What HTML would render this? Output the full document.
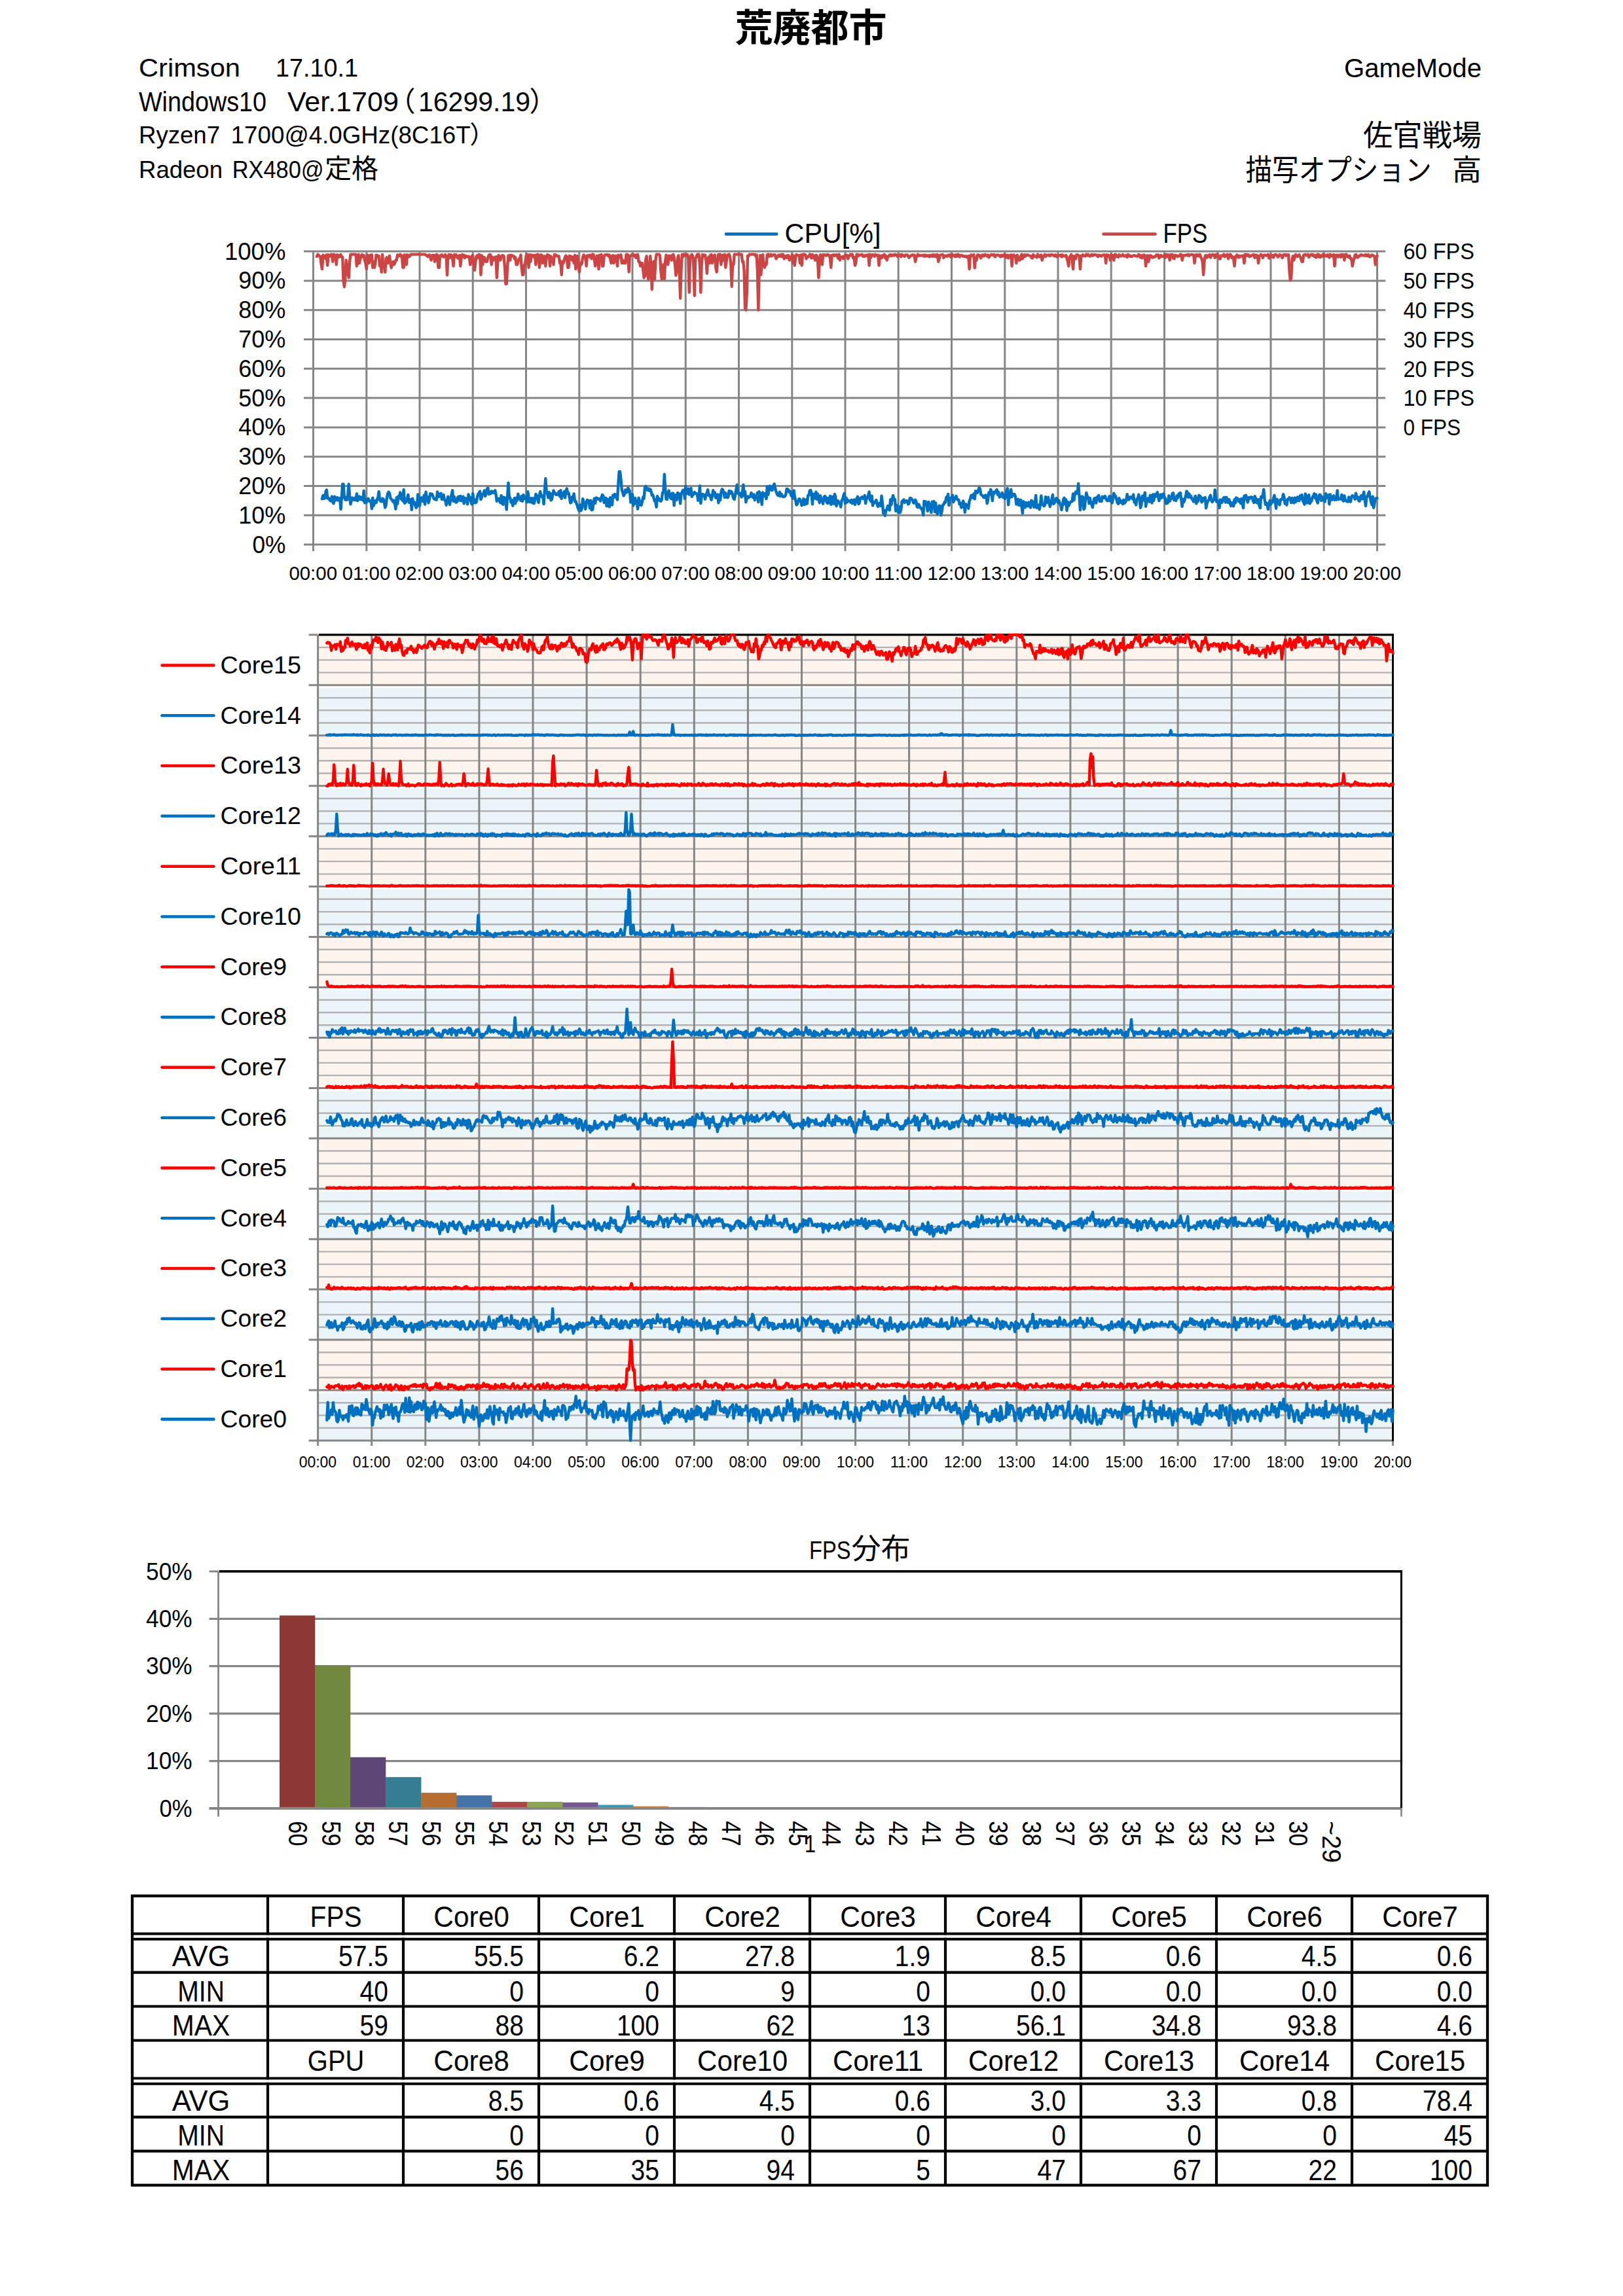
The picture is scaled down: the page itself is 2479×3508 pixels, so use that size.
<!DOCTYPE html>
<html lang="ja"><head><meta charset="utf-8"><title>荒廃都市</title>
<style>html,body{margin:0;padding:0;background:#fff}svg{display:block}text{font-family:"Liberation Sans", "Noto Sans CJK JP", sans-serif}</style></head>
<body>
<svg width="2479" height="3508" viewBox="0 0 2479 3508">
<rect width="2479" height="3508" fill="#fff"/>
<g id="header">
<text x="1238.5" y="63.0" font-size="58" text-anchor="middle" textLength="232.0" lengthAdjust="spacingAndGlyphs" font-family='"Liberation Sans", "Noto Sans CJK JP", sans-serif' font-weight="bold">荒廃都市</text>
<text x="212.0" y="116.9" font-size="39.5" textLength="155.0" lengthAdjust="spacingAndGlyphs" font-family='"Liberation Sans", "IPAPGothic", "IPAGothic", "Noto Sans CJK JP", sans-serif'>Crimson</text>
<text x="421.0" y="116.9" font-size="39.5" textLength="126.0" lengthAdjust="spacingAndGlyphs" font-family='"Liberation Sans", "IPAPGothic", "IPAGothic", "Noto Sans CJK JP", sans-serif'>17.10.1</text>
<text x="212.0" y="169.8" font-size="42" textLength="195.0" lengthAdjust="spacingAndGlyphs" font-family='"Liberation Sans", "IPAPGothic", "IPAGothic", "Noto Sans CJK JP", sans-serif'>Windows10</text>
<text x="438.9" y="169.8" font-size="42" textLength="170.0" lengthAdjust="spacingAndGlyphs" font-family='"Liberation Sans", "IPAPGothic", "IPAGothic", "Noto Sans CJK JP", sans-serif'>Ver.1709</text>
<text x="634.5" y="169.8" font-size="42" text-anchor="end" font-family='"Liberation Sans", "IPAPGothic", "IPAGothic", "Noto Sans CJK JP", sans-serif'>（</text>
<text x="639.0" y="169.8" font-size="42" textLength="171.0" lengthAdjust="spacingAndGlyphs" font-family='"Liberation Sans", "IPAPGothic", "IPAGothic", "Noto Sans CJK JP", sans-serif'>16299.19</text>
<text x="808.5" y="169.8" font-size="42" font-family='"Liberation Sans", "IPAPGothic", "IPAGothic", "Noto Sans CJK JP", sans-serif'>）</text>
<text x="212.0" y="219.4" font-size="37.5" textLength="124.0" lengthAdjust="spacingAndGlyphs" font-family='"Liberation Sans", "IPAPGothic", "IPAGothic", "Noto Sans CJK JP", sans-serif'>Ryzen7</text>
<text x="352.7" y="219.4" font-size="37.5" textLength="366.0" lengthAdjust="spacingAndGlyphs" font-family='"Liberation Sans", "IPAPGothic", "IPAGothic", "Noto Sans CJK JP", sans-serif'>1700@4.0GHz(8C16T</text>
<text x="717.5" y="219.4" font-size="37.5" font-family='"Liberation Sans", "IPAPGothic", "IPAGothic", "Noto Sans CJK JP", sans-serif'>）</text>
<text x="212.0" y="271.5" font-size="37.5" textLength="128.0" lengthAdjust="spacingAndGlyphs" font-family='"Liberation Sans", "IPAPGothic", "IPAGothic", "Noto Sans CJK JP", sans-serif'>Radeon</text>
<text x="354.7" y="271.5" font-size="37.5" textLength="140.0" lengthAdjust="spacingAndGlyphs" font-family='"Liberation Sans", "IPAPGothic", "IPAGothic", "Noto Sans CJK JP", sans-serif'>RX480@</text>
<text x="496.0" y="271.5" font-size="41" textLength="82.0" lengthAdjust="spacingAndGlyphs" font-family='"Liberation Sans", "IPAPGothic", "IPAGothic", "Noto Sans CJK JP", sans-serif'>定格</text>
<text x="2263.0" y="117.5" font-size="40.5" text-anchor="end" textLength="210.0" lengthAdjust="spacingAndGlyphs" font-family='"Liberation Sans", "IPAPGothic", "IPAGothic", "Noto Sans CJK JP", sans-serif'>GameMode</text>
<text x="2263.0" y="223.0" font-size="45" text-anchor="end" textLength="181.0" lengthAdjust="spacingAndGlyphs" font-family='"Liberation Sans", "IPAPGothic", "IPAGothic", "Noto Sans CJK JP", sans-serif'>佐官戦場</text>
<text x="1902.5" y="275.5" font-size="45" textLength="284.0" lengthAdjust="spacingAndGlyphs" font-family='"Liberation Sans", "IPAPGothic", "IPAGothic", "Noto Sans CJK JP", sans-serif'>描写オプション</text>
<text x="2263.0" y="275.5" font-size="45" text-anchor="end" font-family='"Liberation Sans", "IPAPGothic", "IPAGothic", "Noto Sans CJK JP", sans-serif'>高</text>
</g>
<g id="chart1">
<line x1="464.0" y1="384.1" x2="2116.3" y2="384.1" stroke="#868686" stroke-width="3"/>
<line x1="464.0" y1="428.9" x2="2116.3" y2="428.9" stroke="#868686" stroke-width="3"/>
<line x1="464.0" y1="473.7" x2="2116.3" y2="473.7" stroke="#868686" stroke-width="3"/>
<line x1="464.0" y1="518.5" x2="2116.3" y2="518.5" stroke="#868686" stroke-width="3"/>
<line x1="464.0" y1="563.3" x2="2116.3" y2="563.3" stroke="#868686" stroke-width="3"/>
<line x1="464.0" y1="608.1" x2="2116.3" y2="608.1" stroke="#868686" stroke-width="3"/>
<line x1="464.0" y1="652.9" x2="2116.3" y2="652.9" stroke="#868686" stroke-width="3"/>
<line x1="464.0" y1="697.7" x2="2116.3" y2="697.7" stroke="#868686" stroke-width="3"/>
<line x1="464.0" y1="742.5" x2="2116.3" y2="742.5" stroke="#868686" stroke-width="3"/>
<line x1="464.0" y1="787.3" x2="2116.3" y2="787.3" stroke="#868686" stroke-width="3"/>
<line x1="464.0" y1="832.1" x2="2116.3" y2="832.1" stroke="#868686" stroke-width="3"/>
<line x1="478.5" y1="384.1" x2="478.5" y2="842.1" stroke="#868686" stroke-width="3"/>
<line x1="559.8" y1="384.1" x2="559.8" y2="842.1" stroke="#868686" stroke-width="3"/>
<line x1="641.0" y1="384.1" x2="641.0" y2="842.1" stroke="#868686" stroke-width="3"/>
<line x1="722.2" y1="384.1" x2="722.2" y2="842.1" stroke="#868686" stroke-width="3"/>
<line x1="803.5" y1="384.1" x2="803.5" y2="842.1" stroke="#868686" stroke-width="3"/>
<line x1="884.8" y1="384.1" x2="884.8" y2="842.1" stroke="#868686" stroke-width="3"/>
<line x1="966.0" y1="384.1" x2="966.0" y2="842.1" stroke="#868686" stroke-width="3"/>
<line x1="1047.2" y1="384.1" x2="1047.2" y2="842.1" stroke="#868686" stroke-width="3"/>
<line x1="1128.5" y1="384.1" x2="1128.5" y2="842.1" stroke="#868686" stroke-width="3"/>
<line x1="1209.8" y1="384.1" x2="1209.8" y2="842.1" stroke="#868686" stroke-width="3"/>
<line x1="1291.0" y1="384.1" x2="1291.0" y2="842.1" stroke="#868686" stroke-width="3"/>
<line x1="1372.2" y1="384.1" x2="1372.2" y2="842.1" stroke="#868686" stroke-width="3"/>
<line x1="1453.5" y1="384.1" x2="1453.5" y2="842.1" stroke="#868686" stroke-width="3"/>
<line x1="1534.8" y1="384.1" x2="1534.8" y2="842.1" stroke="#868686" stroke-width="3"/>
<line x1="1616.0" y1="384.1" x2="1616.0" y2="842.1" stroke="#868686" stroke-width="3"/>
<line x1="1697.2" y1="384.1" x2="1697.2" y2="842.1" stroke="#868686" stroke-width="3"/>
<line x1="1778.5" y1="384.1" x2="1778.5" y2="842.1" stroke="#868686" stroke-width="3"/>
<line x1="1859.8" y1="384.1" x2="1859.8" y2="842.1" stroke="#868686" stroke-width="3"/>
<line x1="1941.0" y1="384.1" x2="1941.0" y2="842.1" stroke="#868686" stroke-width="3"/>
<line x1="2022.2" y1="384.1" x2="2022.2" y2="842.1" stroke="#868686" stroke-width="3"/>
<line x1="2103.5" y1="384.1" x2="2103.5" y2="842.1" stroke="#868686" stroke-width="3"/>
<text x="436.5" y="396.5" font-size="37.5" text-anchor="end" textLength="93.6" lengthAdjust="spacingAndGlyphs">100%</text>
<text x="436.5" y="441.3" font-size="37.5" text-anchor="end" textLength="72.3" lengthAdjust="spacingAndGlyphs">90%</text>
<text x="436.5" y="486.1" font-size="37.5" text-anchor="end" textLength="72.3" lengthAdjust="spacingAndGlyphs">80%</text>
<text x="436.5" y="530.9" font-size="37.5" text-anchor="end" textLength="72.3" lengthAdjust="spacingAndGlyphs">70%</text>
<text x="436.5" y="575.7" font-size="37.5" text-anchor="end" textLength="72.3" lengthAdjust="spacingAndGlyphs">60%</text>
<text x="436.5" y="620.5" font-size="37.5" text-anchor="end" textLength="72.3" lengthAdjust="spacingAndGlyphs">50%</text>
<text x="436.5" y="665.3" font-size="37.5" text-anchor="end" textLength="72.3" lengthAdjust="spacingAndGlyphs">40%</text>
<text x="436.5" y="710.1" font-size="37.5" text-anchor="end" textLength="72.3" lengthAdjust="spacingAndGlyphs">30%</text>
<text x="436.5" y="754.9" font-size="37.5" text-anchor="end" textLength="72.3" lengthAdjust="spacingAndGlyphs">20%</text>
<text x="436.5" y="799.7" font-size="37.5" text-anchor="end" textLength="72.3" lengthAdjust="spacingAndGlyphs">10%</text>
<text x="436.5" y="844.5" font-size="37.5" text-anchor="end" textLength="51.0" lengthAdjust="spacingAndGlyphs">0%</text>
<text x="2143.5" y="396.3" font-size="35.5" textLength="108.5" lengthAdjust="spacingAndGlyphs">60 FPS</text>
<text x="2143.5" y="441.1" font-size="35.5" textLength="108.5" lengthAdjust="spacingAndGlyphs">50 FPS</text>
<text x="2143.5" y="485.9" font-size="35.5" textLength="108.5" lengthAdjust="spacingAndGlyphs">40 FPS</text>
<text x="2143.5" y="530.7" font-size="35.5" textLength="108.5" lengthAdjust="spacingAndGlyphs">30 FPS</text>
<text x="2143.5" y="575.5" font-size="35.5" textLength="108.5" lengthAdjust="spacingAndGlyphs">20 FPS</text>
<text x="2143.5" y="620.3" font-size="35.5" textLength="108.5" lengthAdjust="spacingAndGlyphs">10 FPS</text>
<text x="2143.5" y="665.1" font-size="35.5" textLength="87.5" lengthAdjust="spacingAndGlyphs">0 FPS</text>
<text x="478.2" y="885.5" font-size="29.5" text-anchor="middle" textLength="73.6" lengthAdjust="spacingAndGlyphs">00:00</text>
<text x="559.5" y="885.5" font-size="29.5" text-anchor="middle" textLength="73.6" lengthAdjust="spacingAndGlyphs">01:00</text>
<text x="640.7" y="885.5" font-size="29.5" text-anchor="middle" textLength="73.6" lengthAdjust="spacingAndGlyphs">02:00</text>
<text x="722.0" y="885.5" font-size="29.5" text-anchor="middle" textLength="73.6" lengthAdjust="spacingAndGlyphs">03:00</text>
<text x="803.2" y="885.5" font-size="29.5" text-anchor="middle" textLength="73.6" lengthAdjust="spacingAndGlyphs">04:00</text>
<text x="884.5" y="885.5" font-size="29.5" text-anchor="middle" textLength="73.6" lengthAdjust="spacingAndGlyphs">05:00</text>
<text x="965.7" y="885.5" font-size="29.5" text-anchor="middle" textLength="73.6" lengthAdjust="spacingAndGlyphs">06:00</text>
<text x="1047.0" y="885.5" font-size="29.5" text-anchor="middle" textLength="73.6" lengthAdjust="spacingAndGlyphs">07:00</text>
<text x="1128.2" y="885.5" font-size="29.5" text-anchor="middle" textLength="73.6" lengthAdjust="spacingAndGlyphs">08:00</text>
<text x="1209.5" y="885.5" font-size="29.5" text-anchor="middle" textLength="73.6" lengthAdjust="spacingAndGlyphs">09:00</text>
<text x="1290.7" y="885.5" font-size="29.5" text-anchor="middle" textLength="73.6" lengthAdjust="spacingAndGlyphs">10:00</text>
<text x="1372.0" y="885.5" font-size="29.5" text-anchor="middle" textLength="73.6" lengthAdjust="spacingAndGlyphs">11:00</text>
<text x="1453.2" y="885.5" font-size="29.5" text-anchor="middle" textLength="73.6" lengthAdjust="spacingAndGlyphs">12:00</text>
<text x="1534.5" y="885.5" font-size="29.5" text-anchor="middle" textLength="73.6" lengthAdjust="spacingAndGlyphs">13:00</text>
<text x="1615.7" y="885.5" font-size="29.5" text-anchor="middle" textLength="73.6" lengthAdjust="spacingAndGlyphs">14:00</text>
<text x="1697.0" y="885.5" font-size="29.5" text-anchor="middle" textLength="73.6" lengthAdjust="spacingAndGlyphs">15:00</text>
<text x="1778.2" y="885.5" font-size="29.5" text-anchor="middle" textLength="73.6" lengthAdjust="spacingAndGlyphs">16:00</text>
<text x="1859.5" y="885.5" font-size="29.5" text-anchor="middle" textLength="73.6" lengthAdjust="spacingAndGlyphs">17:00</text>
<text x="1940.7" y="885.5" font-size="29.5" text-anchor="middle" textLength="73.6" lengthAdjust="spacingAndGlyphs">18:00</text>
<text x="2022.0" y="885.5" font-size="29.5" text-anchor="middle" textLength="73.6" lengthAdjust="spacingAndGlyphs">19:00</text>
<text x="2103.2" y="885.5" font-size="29.5" text-anchor="middle" textLength="73.6" lengthAdjust="spacingAndGlyphs">20:00</text>
<line x1="1109.0" y1="357.6" x2="1186.2" y2="357.6" stroke="#0070C0" stroke-width="4.7" stroke-linecap="round"/>
<text x="1198.6" y="371.0" font-size="43" textLength="147.0" lengthAdjust="spacingAndGlyphs">CPU[%]</text>
<line x1="1685.5" y1="357.6" x2="1764.5" y2="357.6" stroke="#CD4444" stroke-width="4.7" stroke-linecap="round"/>
<text x="1776.4" y="371.0" font-size="43" textLength="68.0" lengthAdjust="spacingAndGlyphs">FPS</text>
<path d="M483.9 391.9l1.4-3.2l1.3 1.1l1.4 1.5l1.3 .3l1.4 12.7l1.3 6.7l1.4-21.3l1.4 2.7l1.3-1.4l1.4 4.3l1.3-6l1.4 16.3l1.3-16.3l1.4 1.2l1.3 .9l1.4-2.6l1.3 .1l1.4 10.9l1.3-11.1l1.4 .6l1.4 1l1.3 14l1.4-15.2l1.3 3.9l1.4-2.7l1.3 1.8l1.4-3.1l1.3 3.2l1.4 .6l1.3 35.6l1.4 9.9l1.3-11.4l1.4-29.4l1.4 22.4l1.3-15.6l1.4 20.1l1.3-23.3l1.4-12.3l1.3-.2l1.4 0l1.3 0l1.4 0l1.3 0l1.4 0l1.4 17.9l1.3-4.5l1.4-13.4l1.3 13.4l1.4-6.7l1.3-4.3l1.4-2.1l1.3 2.8l1.4-1.6l1.3 7.4l1.4 4.5l1.4 9l1.3-21.3l1.4 2.9l1.3 9.4l1.4-12.1l1.3-.1l1.4-.5l1.3 19.4l1.4-8.9l1.3 8.9l1.4-6.7l1.3-12.4l1.4 .4l1.4 2.3l1.3-1.3l1.4 15.5l1.3-6.7l1.4 16.1l1.3-26.9l1.4 19.7l1.3-6.7l1.4 13.9l1.3-20.6l1.4-1.9l1.3 8.6l1.4-2.2l1.4-9.1l1.3 11.3l1.4 7.2l1.3-4.9l1.4-4.5l1.3 4.5l1.4-2.3l1.3-4.5l1.4 0l1.3-8l1.4 1.8l1.4-1l1.3-1.6l1.4 3.2l1.3-1.4l1.4 18.2l1.3 0l1.4-19.4l1.3 8.2l1.4 6.8l1.3-15.1l1.4 .7l1.4 2.5l1.3-1.3l1.4-2.5l1.3 0l1.4 0l1.3 0l1.4 0l1.3 0l1.4 0l1.3 0l1.4 0l1.3 0l1.4 0l1.4 0l1.3 0l1.4 0l1.3 0l1.4 0l1.3 0l1.4 1.1l1.3 .7l1.4 1.7l1.3-1.9l1.4-.9l1.3 3.8l1.4 4.4l1.4-7.4l1.3-.2l1.4 .1l1.3 9.8l1.4-4.5l1.3-6.5l1.4 .6l1.3 19.3l1.4 0l1.3-18l1.4-.9l1.4-.6l1.3 2.7l1.4 .6l1.3-.3l1.4-3.2l1.3 3l1.4 28.4l1.3-28.4l1.4-2.9l1.3 4.9l1.4-4.8l1.4 1.3l1.3 3.9l1.4 12.1l1.3-17.5l1.4 3.5l1.3-3.5l1.4 3.5l1.3 1.9l1.4-3.1l1.3-1.3l1.4 16.5l1.3-12.6l1.4-5l1.4 3.5l1.3-2.4l1.4 3.9l1.3-3.1l1.4 .8l1.3 1l1.4-1.1l1.3 .9l1.4 11.9l1.3-2.3l1.4-11l1.3-.7l1.4 11.7l1.4 10.8l1.3-13l1.4-8.1l1.3-1.4l1.4 3.3l1.3-4.8l1.4 1.3l1.3 29.8l1.4-29.8l1.3 14.2l1.4-11.3l1.4 .4l1.3 6l1.4 .4l1.3-.4l1.4-6l1.3-3.1l1.4-1.5l1.3 .7l1.4 14.8l1.3-11.5l1.4 4.7l1.4-2.2l1.3-2.2l1.4-.7l1.3 32l1.4-22.4l1.3-12l1.4 1.6l1.3 5.9l1.4-4.4l1.3-2.7l1.4-.1l1.3 1.5l1.4 16.2l1.4 25.8l1.3 0l1.4-25.8l1.3-17.6l1.4-.2l1.3 7.3l1.4-7.8l1.3 .8l1.4 .3l1.3 .3l1.4 4.2l1.3-2.2l1.4 11.2l1.4 0l1.3-4.5l1.4-4.5l1.3 0l1.4-5.8l1.3 19.2l1.4 11.2l1.3 0l1.4-15l1.3-.6l1.4-13l1.4-2.4l1.3 .2l1.4 19.6l1.3-19.6l1.4 10.7l1.3-10.4l1.4 2.3l1.3-1.5l1.4 2.4l1.3-2.7l1.4 14.4l1.4-15l1.3-.6l1.4 .8l1.3 19.2l1.4-8.9l1.3-10.6l1.4 1.2l1.3 11.6l1.4-8.9l1.3-1.9l1.4 15.3l1.3-12.1l1.4-5.2l1.4 .9l1.3 0l1.4 16.4l1.3-15.1l1.4 3.9l1.3 0l1.4 9l1.3-15.4l1.4 1.9l1.3-1.2l1.4 1.8l1.3 .3l1.4-.4l1.4 10.7l1.3-2.4l1.4 20.3l1.3-20.3l1.4 2.4l1.3-4.5l1.4-4.4l1.3-2.5l1.4 1.8l1.3 16.3l1.4 0l1.4-17.9l1.3 1l1.4-.2l1.3 5.9l1.4-4.4l1.3 8.9l1.4-12.1l1.3 21.1l1.4-17.9l1.3-2.1l1.4 13.3l1.4 11.2l1.3-13.5l1.4 2.3l1.3-2.3l1.4-9.2l1.3-3.2l1.4 1.3l1.3 2.6l1.4 13l1.3-16.1l1.4 .5l1.3-1l1.4 2.7l1.4-2.7l1.3 5.4l1.4-6.7l1.3 .3l1.4 6.4l1.3 11.2l1.4-4.5l1.3-11.2l1.4 1.5l1.3 18.7l1.4-21.3l1.3 2.8l1.4-3.5l1.4 17.5l1.3 0l1.4-15.2l1.3-1.8l1.4 .1l1.3-.7l1.4 .2l1.3 2.4l1.4-1.9l1.3 5.7l1.4 6.7l1.4-11.1l1.3-.6l1.4 11.7l1.3-4.5l1.4-6.7l1.3 .8l1.4 14.9l1.3-16.7l1.4 3.4l1.3-1.7l1.4-2.3l1.4 12.8l1.3-4.5l1.4 4.5l1.3 0l1.4 0l1.3-13.1l1.4-.3l1.3 1.3l1.4 25.6l1.3-24.3l1.4 0l1.3-1.5l1.4-.8l1.4 .5l1.3 1.7l1.4-1.9l1.3 4.8l1.4-3.9l1.3-1.2l1.4 10.9l1.3 0l1.4 6.7l1.3-4.5l1.4 0l1.3 9.6l1.4 12.8l1.4-2.5l1.3-25.6l1.4-5l1.3 27.2l1.4 8.2l1.3-8.2l1.4-27.2l1.3 12.6l1.4 38.4l1.3-38.4l1.4-4.4l1.4 27.2l1.3-27.2l1.4-10.9l1.3 0l1.4 0l1.3 0l1.4 1.6l1.3 22.6l1.4 13.4l1.3-13.4l1.4-8.5l1.4 21.9l1.3-26.9l1.4-9.7l1.3 5.7l1.4 9l1.3-13.4l1.4-.3l1.3 .7l1.4 6.2l1.3-7.5l1.4-1.2l1.3 4.3l1.4 10.7l1.4 17l1.3-6l1.4-21.1l1.3-3.4l1.4 21.8l1.3 43.7l1.4-43.7l1.3-23.3l1.4 3.7l1.3-3.9l1.4 1.1l1.3 .2l1.4 .9l1.4-1.9l1.3 5.9l1.4 52l1.3-52l1.4-4.6l1.3-1.4l1.4 2l1.3 15.7l1.4 45.2l1.3-56.4l1.4-2.6l1.4-4l1.3 3.6l1.4-3.7l1.3 16.6l1.4 41.6l1.3-41.6l1.4-16.2l1.3 2.4l1.4-1.9l1.3 .3l1.4 7.1l1.4 20.8l1.3-20.8l1.4-4.3l1.3 9.4l1.4-12.4l1.3-.5l1.4 12.9l1.3-11.1l1.4 1.8l1.3-3.1l1.4 19.1l1.3 6.8l1.4-15.7l1.4-11l1.3 .1l1.4-.1l1.3 15.5l1.4-11.2l1.3-3.4l1.4 7.8l1.3-8.8l1.4 20l1.3-8.9l1.4-9.8l1.3-1l1.4-.4l1.4 3.5l1.3 10.6l1.4 35.2l1.3-35.2l1.4 1.6l1.3-15.7l1.4 0l1.3 0l1.4 0l1.3 0l1.4 0l1.4 0l1.3 0l1.4 0l1.3 11.2l1.4 0l1.3 13.9l1.4 57l1.3 3l1.4-25.8l1.3-57l1.4 .2l1.4-2.4l1.3-.1l1.4 0l1.3 0l1.4 0l1.3 0l1.4 0l1.3 2.6l1.4-2l1.3 23.7l1.4 60.8l1.3-60.8l1.4-22.6l1.4 29.6l1.3-28.9l1.4-1.9l1.3 12.9l1.4 6.7l1.3-4.4l1.4 0l1.3-15l1.4-.7l1.3 3l1.4-.3l1.3-2.6l1.4 2.4l1.4-1l1.3-1l1.4 .3l1.3 0l1.4 5.9l1.3-2.2l1.4-1.7l1.3-1.9l1.4 2.2l1.3-2.5l1.4 2.9l1.4-3.4l1.3 .2l1.4 6.4l1.3-3.3l1.4-1l1.3 3l1.4-3.8l1.3-.1l1.4 7.4l1.3-4.4l1.4 2.2l1.4-6.1l1.3 12.8l1.4-11l1.3 14.6l1.4-13.7l1.3-2.8l1.4 .8l1.3 .2l1.4 .3l1.3 11.6l1.4-12.6l1.3 16.2l1.4-16.9l1.4 .3l1.3-.4l1.4 .7l1.3 6l1.4-3.3l1.3 .6l1.4-.7l1.3-3.3l1.4 .8l1.3 5l1.4-5.4l1.3 4.4l1.4-2.4l1.4 6.5l1.3-7.7l1.4 .6l1.3 8.4l1.4 25.6l1.3-25.6l1.4-9.7l1.3 2.2l1.4 13l1.3-15.1l1.4 .3l1.4-.2l1.3 1.2l1.4 0l1.3-1.7l1.4 .6l1.3 .4l1.4 5.5l1.3 13.4l1.4-18.8l1.3 .5l1.4-1.3l1.4 1.7l1.3-1l1.4-.7l1.3 2.5l1.4 2.8l1.3-5.7l1.4 8.8l1.3-4.4l1.4-.6l1.3-.5l1.4 3.3l1.3-3.3l1.4-2.2l1.4 .3l1.3-.3l1.4 5.5l1.3-3.8l1.4-1l1.3-1.9l1.4 1.6l1.3-1.6l1.4 5.8l1.3-1.5l1.4 12.7l1.3-3.6l1.4-13.2l1.4 .1l1.3 2.3l1.4-1.8l1.3-0l1.4 .1l1.3-.7l1.4 2.9l1.3-1.2l1.4 1.4l1.3-2.2l1.4 .8l1.4 .1l1.3-1.5l1.4 16.5l1.3-16.9l1.4 4.6l1.3-3.6l1.4-.6l1.3 .7l1.4 2l1.3-3l1.4 1.5l1.4-0l1.3-.8l1.4 16.1l1.3-14.8l1.4 2l1.3 1.6l1.4-4.4l1.3 1.3l1.4-2.6l1.3 5.4l1.4-3.4l1.3 6.8l1.4-4.8l1.4-1.2l1.3-2l1.4-.4l1.3 2.1l1.4-1.5l1.3-.3l1.4 1.1l1.3-1.8l1.4 .8l1.3-.1l1.4 2.7l1.3-1.7l1.4-.8l1.4-.4l1.3 3.1l1.4-3.4l1.3 1l1.4 1.2l1.3 .6l1.4-2.3l1.3 .1l1.4-.1l1.3 2.3l1.4 2l1.4-2.3l1.3-.6l1.4-.9l1.3-.6l1.4 1.3l1.3-1l1.4 10.2l1.3-6.4l1.4-2.7l1.3-2.1l1.4 2.3l1.4-.8l1.3 .2l1.4 .2l1.3-.4l1.4-.4l1.3 1.9l1.4-2.1l1.3 2l1.4-1.3l1.3 1.1l1.4-.9l1.3 1.9l1.4-2.3l1.4-.1l1.3 1.6l1.4-2.5l1.3 2.6l1.4-2.1l1.3 2.6l1.4-2.8l1.3-.4l1.4 10.9l1.3-4.5l1.4-5.5l1.3-.3l1.4-.4l1.4-.1l1.3 4.8l1.4-2.2l1.3-1.2l1.4 .7l1.3 .7l1.4-2.1l1.3 .4l1.4-.7l1.3 3.3l1.4-0l1.4-3.6l1.3 1.2l1.4-.3l1.3 2.2l1.4-2.9l1.3 2.3l1.4-2.9l1.3 .6l1.4 3.1l1.3-1.6l1.4-.9l1.4 .4l1.3 1.5l1.4-.5l1.3 .8l1.4-.9l1.3 1.8l1.4-1l1.3-1l1.4 20l1.3-20l1.4-1.6l1.3 1.6l1.4-1.2l1.4-.6l1.3 20l1.4-14.8l1.3 3.1l1.4-7.9l1.3-.3l1.4 1.8l1.3-.8l1.4 4.1l1.3-3.8l1.4-1.3l1.3 2l1.4-.4l1.4-2.1l1.3 1.3l1.4 1l1.3-1.5l1.4 3.6l1.3-1.9l1.4-1.6l1.3-.9l1.4 .5l1.3 .9l1.4-1.3l1.4 3.6l1.3-2.5l1.4-.4l1.3-.2l1.4 1l1.3 .1l1.4 1.7l1.3-2.4l1.4 1.7l1.3-1.8l1.4 1.4l1.4-2.2l1.3 4.8l1.4-3.2l1.3-.8l1.4 4.7l1.3-4l1.4-.1l1.3-.9l1.4 17.1l1.3-16.1l1.4-1l1.3 1.5l1.4 .6l1.4 10.5l1.3-12.3l1.4 4.7l1.3 3.1l1.4-0l1.3-6.1l1.4-2.6l1.3 6.5l1.4-3.5l1.3-2.5l1.4 2.6l1.3-2.5l1.4 .4l1.4-.4l1.3 .9l1.4 .3l1.3 .2l1.4 2.8l1.3 .8l1.4-5.5l1.3 2.7l1.4-.5l1.3 .9l1.4 1.2l1.4-4.6l1.3 2.6l1.4 1.1l1.3-2l1.4-.8l1.3 8l1.4-4.4l1.3-1.8l1.4-2.4l1.3 2.8l1.4-2.2l1.4 .4l1.3 .3l1.4-1l1.3 1.9l1.4-1.6l1.3-.4l1.4 .3l1.3 .7l1.4 1.4l1.3-2.1l1.4 1.7l1.3 1.4l1.4-3.1l1.4 1.1l1.3-.1l1.4-.9l1.3 2.9l1.4-3l1.3 1.6l1.4 .5l1.3-1l1.4-.4l1.3 4.3l1.4 5.4l1.3 6.7l1.4-13.4l1.4-2.1l1.3-2.2l1.4 6.5l1.3 15.7l1.4-19.9l1.3 4.2l1.4-0l1.3-6.2l1.4-0l1.3 1.1l1.4 .8l1.4 20l1.3-20l1.4-.3l1.3-1.5l1.4 1.5l1.3 .7l1.4-.5l1.3-2.3l1.4 1.6l1.3-1.4l1.4 2l1.4 .8l1.3-1.9l1.4-.8l1.3 1.9l1.4-1.7l1.3 .4l1.4-.2l1.3 .1l1.4 .9l1.3 1.8l1.4-2.5l1.3 1.2l1.4-.5l1.4 1.1l1.3-1.3l1.4-.6l1.3-.2l1.4 .3l1.3 12.4l1.4-12.9l1.3 1.8l1.4-1.1l1.3 2.3l1.4 5.4l1.3-8.4l1.4 4l1.4-2.9l1.3 7.3l1.4-8.6l1.3-.1l1.4 2.9l1.3-.9l1.4 2.1l1.3-3.8l1.4 1.3l1.3 1l1.4-.6l1.4-2l1.3 1.7l1.4 1.1l1.3-1.1l1.4-.4l1.3 2.8l1.4-4.1l1.3 1.3l1.4 1.5l1.3-.7l1.4 1.2l1.4-1l1.3-.7l1.4-.1l1.3 .6l1.4 .1l1.3 .6l1.4-.1l1.3-2.7l1.4 .8l1.3 3.6l1.4-2.7l1.3 3.7l1.4-4.5l1.4 .1l1.3 .4l1.4 16.3l1.3-14.5l1.4-1.7l1.3 9.5l1.4-6.2l1.3-3.3l1.4 .4l1.3 2.6l1.4-.1l1.3-1.1l1.4 .5l1.4-1l1.3-2.2l1.4 1l1.3-1.1l1.4 5.1l1.3-1.7l1.4-2.7l1.3 1.6l1.4 .3l1.3-.1l1.4-2l1.4 3.9l1.3-4.9l1.4 3l1.3-2.5l1.4 .7l1.3 7.5l1.4-8.6l1.3 1.2l1.4-1.2l1.3 5.5l1.4 .9l1.4-5.6l1.3 .7l1.4 .1l1.3 1.6l1.4-1.1l1.3-.2l1.4-2.1l1.3 .3l1.4 8.5l1.3-6.3l1.4-1.1l1.3 .4l1.4-.5l1.4-.8l1.3 1.3l1.4-1.7l1.3 1.8l1.4-1.1l1.3-.5l1.4 .1l1.3 .1l1.4 .6l1.3 12.2l1.4-12.6l1.4 1.7l1.3-2l1.4 2.2l1.3-.1l1.4-2.4l1.3 3.9l1.4 2.6l1.3 4.3l1.4 20.3l1.3-20.3l1.4-8.8l1.3-.8l1.4 3.5l1.4-2.8l1.3 .8l1.4-2.4l1.3 4.3l1.4-2.6l1.3-1.9l1.4 .4l1.3 .1l1.4 4.4l1.3-4.8l1.4 2.9l1.4-3.3l1.3 2.1l1.4 4.6l1.3-0l1.4-4.8l1.3-0l1.4 .6l1.3-2.5l1.4 3.6l1.3-2.4l1.4 .6l1.3-1.5l1.4 6.4l1.4-4.4l1.3-2.2l1.4 .8l1.3 4.5l1.4-2l1.3 3.3l1.4 11.2l1.3-14l1.4-1.8l1.3-1.4l1.4 3.3l1.3 .8l1.4-2.6l1.4 1.3l1.3-1l1.4-.3l1.3-.1l1.4 11.3l1.3-13.4l1.4 .1l1.3 2l1.4-1.7l1.3 .4l1.4 2.8l1.4-.8l1.3-1l1.4-.4l1.3-.8l1.4-.2l1.3 4.8l1.4-4.2l1.3-0l1.4 1.7l1.3 10.7l1.4-10.7l1.4-1.1l1.3-1.3l1.4 1.2l1.3 3.8l1.4-4l1.3-.3l1.4 .2l1.3 .7l1.4-.4l1.3-1.3l1.4 5.6l1.3-.3l1.4-4.5l1.4 2.3l1.3-1.5l1.4 2.9l1.3-3.6l1.4-.8l1.3-0l1.4 1.8l1.3 1.9l1.4-1.1l1.3-2.6l1.4 1l1.3 .6l1.4 3.6l1.4-4.6l1.3-.6l1.4-0l1.3 1.8l1.4-1.7l1.3 1.2l1.4-.9l1.3 24.6l1.4 14.1l1.3-2.8l1.4-28.2l1.4-5.8l1.3 6.3l1.4-4.4l1.3-4.2l1.4 1.7l1.3 1.3l1.4-1.7l1.3-1l1.4 2.9l1.3 2.3l1.4 5.4l1.4-0l1.3-10.1l1.4-.4l1.3-.6l1.4 1.5l1.3-.4l1.4-1.2l1.3 4.4l1.4-2.7l1.3-.7l1.4-1l1.3 1.8l1.4-1.3l1.4 2.5l1.3-1l1.4 2.8l1.3-4.2l1.4-.6l1.3 4l1.4-3l1.3 3.2l1.4-.5l1.3-2.2l1.4-1.5l1.3 3.3l1.4-2.1l1.4 1.1l1.3 .5l1.4-2.2l1.3 2.3l1.4 1.8l1.3-4.6l1.4 1.1l1.3 1.5l1.4-1.3l1.3-1l1.4 17.5l1.4-16.5l1.3-0l1.4-.3l1.3 2.8l1.4-2.4l1.3-.5l1.4 3.2l1.3-4l1.4 2.6l1.3-2.2l1.4 8.3l1.4-8.3l1.3-.6l1.4 3.2l1.3-1l1.4 2.3l1.3-2.3l1.4 4.5l1.3-0l1.4 11.2l1.3-6.7l1.4-4.5l1.3-5.7l1.4-.7l1.4 4.1l1.3 .4l1.4-2.5l1.3 .5l1.4-1.5l1.3-.9l1.4 1.3l1.3-.4l1.4 .4l1.3 .3l1.4-1.5l1.3 1.7l1.4-.1l1.4-1.8l1.3 3l1.4 .6l1.3-1.5l1.4-1.5l1.3 .7l1.4 .4l1.3 1.2l1.4 12.5l1.3-11.9l1.4-1.5" fill="none" stroke="#CD4444" stroke-width="4.4" stroke-linejoin="round" stroke-linecap="round"/>
<path d="M492 762.2l1.4-5.3l1.4 4.9l1.3-.6l1.4-9.6l1.3-3l1.4 12.7l1.3-.5l1.4 2.2l1.3 1.8l1.4 .7l1.3-6.9l1.4 8.7l1.3 1.9l1.4-10.5l1.4 5.9l1.3-3.1l1.4-1.4l1.3 4.3l1.4-2.5l1.3-.9l1.4 17l1.3-16.5l1.4-21.7l1.3-0l1.4 19.8l1.3 3.8l1.4-3l1.4 3.4l1.3-7.8l1.4-16.2l1.3 16.6l1.4 13.9l1.3-5.8l1.4-4l1.3 3l1.4 .1l1.3-2.7l1.4 3.1l1.4-9.6l1.3 10.6l1.4-2.7l1.3-3.7l1.4 4.5l1.3-3.2l1.4 3.3l1.3 1.2l1.4-14.4l1.3 18.2l1.4-5.3l1.4 4.6l1.3-4.4l1.4-1.2l1.3 3.8l1.4 .5l1.3-1l1.4 12l1.3-16.6l1.4 12.3l1.3-4.2l1.4-3.4l1.3 2.7l1.4-4.9l1.4-3.2l1.3-8.7l1.4 12.2l1.3 2.5l1.4 .4l1.3-4.6l1.4 .7l1.3 4.5l1.4 8.6l1.3-3.2l1.4-11.8l1.3-6.2l1.4-2.6l1.4 2l1.3 7.3l1.4 1.3l1.3 2.1l1.4 2.3l1.3-2.1l1.4 5.2l1.3 7.9l1.4-17.5l1.3 9.8l1.4-11.7l1.4 2l1.3-7.8l1.4 10l1.3-7.5l1.4 10.5l1.3-17.2l1.4 20.4l1.3-1l1.4-2.2l1.3-4.4l1.4-5.2l1.4 11.9l1.3-4.3l1.4-.3l1.3 15.7l1.4-17.1l1.3 6.6l1.4-1l1.3 4.5l1.4 3.9l1.3-1.9l1.4-18.4l1.3 8.2l1.4 9l1.4-10.1l1.3-2.2l1.4 3.1l1.3 2.7l1.4-9.4l1.3 13.8l1.4-18.8l1.3 12.7l1.4-5.4l1.3 9.2l1.4-5.2l1.3-9l1.4 .9l1.4-.1l1.3 3.3l1.4 3.5l1.3 1.2l1.4-.7l1.3 1.5l1.4-12.2l1.3 4.2l1.4 3l1.3-3.5l1.4-1.4l1.4 9.1l1.3-5.5l1.4-1.4l1.3 8l1.4 .6l1.3 7.1l1.4-6.9l1.3-6.1l1.4 7.6l1.3 4.5l1.4-9.1l1.4-6.1l1.3-6.3l1.4 16.6l1.3-7l1.4 6.9l1.3 1.8l1.4-.7l1.3-7.4l1.4-.7l1.3 5.7l1.4-6.5l1.3 7.2l1.4-3.6l1.4-2.9l1.3 10.6l1.4-8.4l1.3 1.2l1.4-.5l1.3 8.8l1.4-15l1.3 4.4l1.4 .2l1.3 7.3l1.4 3.2l1.3-16.4l1.4 14.1l1.4-4.9l1.3 5l1.4-1.4l1.3-7.6l1.4-4.8l1.3-1.3l1.4-2.5l1.3 12.3l1.4-3.3l1.3-4.6l1.4-1l1.4-4.7l1.3 8.7l1.4-4.8l1.3-5.9l1.4-2.1l1.3 9.8l1.4-3.5l1.3 2.6l1.4-3.6l1.3 .2l1.4 2.2l1.4 .1l1.3-3.8l1.4 6.2l1.3 10.2l1.4-2.3l1.3-1.6l1.4 3.5l1.3 2.7l1.4-10.9l1.3 11.7l1.4 2l1.3-11l1.4 .6l1.4 7.6l1.3 10.6l1.4-20.4l1.3-20.6l1.4 21.2l1.3 1.8l1.4 7l1.3-3.6l1.4 8.7l1.3-5l1.4-6.8l1.3 8.3l1.4-8.3l1.4 3.5l1.3-9.7l1.4 7l1.3 .7l1.4 2.3l1.3-6.8l1.4 7.8l1.3-9.5l1.4 2.6l1.3 3.4l1.4-1.1l1.4 6.2l1.3-16l1.4 9.2l1.3 6.5l1.4-4.3l1.3-1.4l1.4 7l1.3-7l1.4 7.9l1.3-5l1.4-9.2l1.4 2.1l1.3 3.5l1.4 7.3l1.3-10.3l1.4-6.5l1.3 6.1l1.4 2.2l1.3-1.9l1.4 12.5l1.3-20.6l1.4-18.1l1.3 18.5l1.4 3.4l1.4 7.1l1.3-8.2l1.4 1.7l1.3 10.4l1.4-1.1l1.3-7.1l1.4-6.5l1.3 4.7l1.4-.7l1.3 2.3l1.4 .1l1.3-1.2l1.4-3.5l1.4 7.1l1.3-9.1l1.4 12.7l1.3-6.9l1.4-.4l1.3-3.2l1.4 9.1l1.3-10.7l1.4-3.2l1.3 7.4l1.4-.6l1.4 7.1l1.3 7.8l1.4-.6l1.3-8.6l1.4 2.6l1.3-7.4l1.4 11.7l1.3-.2l1.4 3.9l1.3 3.6l1.4 4.7l1.4 2.6l1.3-9.1l1.4 8.6l1.3-3.6l1.4-14.4l1.3 4.7l1.4 3.9l1.3 7.2l1.4-10.1l1.3-3.7l1.4 .3l1.3 2.7l1.4 9.4l1.4-11.9l1.3 14.6l1.4-.6l1.3-9.5l1.4-7.3l1.3 7l1.4-8.3l1.3 1.4l1.4-.5l1.3 1.5l1.4-.4l1.3 3l1.4-5.9l1.4-3.5l1.3 1.4l1.4 10.4l1.3-5.2l1.4-1.9l1.3 12.6l1.4-10.7l1.3 4.9l1.4 6.8l1.3-14.1l1.4 2.5l1.4 8.7l1.3-14.7l1.4 3.1l1.3-5l1.4 2.7l1.3 2.8l1.4 3.1l1.3-23.3l1.4-19.7l1.3-0l1.4 11.8l1.4 16.2l1.3 3.7l1.4 5.2l1.3-2.5l1.4-6.4l1.3 4.1l1.4-1l1.3-6.2l1.4 2.2l1.3 2.6l1.4 17.3l1.3-3.9l1.4-8.3l1.4 17l1.3-6.7l1.4-4.7l1.3 8.5l1.4-1.9l1.3 10.1l1.4-16.9l1.3 4.5l1.4 6.2l1.3 .5l1.4-4.9l1.3-7.5l1.4 2.4l1.4-16.9l1.3-2.1l1.4 3.9l1.3 2l1.4-2.3l1.3 3.1l1.4-2l1.3 2.5l1.4 6.6l1.3-.6l1.4 4.4l1.4 5.1l1.3 .6l1.4 8.5l1.3-16.4l1.4 3l1.3 1l1.4 2.8l1.3 .7l1.4-2.2l1.3-11l1.4-.1l1.4-27.9l1.3 20.8l1.4 17.2l1.3 .4l1.4-7.2l1.3-6.2l1.4 5.4l1.3 6l1.4 1.2l1.3-8.5l1.4 .1l1.3 18.5l1.4-15.7l1.4-.3l1.3 7.5l1.4-10.8l1.3 .8l1.4 2.4l1.3 13.2l1.4-15.1l1.3-2.3l1.4-3.2l1.3-.2l1.4 13.2l1.3-18.8l1.4 10.8l1.4 .3l1.3-7.5l1.4 9l1.3-5.2l1.4-4.5l1.3 13l1.4-4.1l1.3 .6l1.4-3.3l1.3 1.6l1.4 .6l1.4 .1l1.3 10.2l1.4-4.6l1.3-17.5l1.4 26.5l1.3-10.2l1.4-3.9l1.3 1l1.4 .3l1.3 6.5l1.4-5.9l1.4-3.5l1.3-5l1.4 8.5l1.3-.9l1.4 3.6l1.3 4.2l1.4-5.6l1.3-8.8l1.4 7.6l1.3-4.3l1.4 7.9l1.3-1l1.4-3.9l1.4 12.6l1.3-12.1l1.4 8.2l1.3-12.3l1.4-4.6l1.3 1l1.4 4.8l1.3 6.7l1.4-6.8l1.3 6.2l1.4 .9l1.3-.5l1.4-9.7l1.4 3.9l1.3-3.3l1.4 .9l1.3 4.6l1.4 5.5l1.3 1.3l1.4-7.3l1.3-7.7l1.4-7.2l1.3 13l1.4 .6l1.4 1.2l1.3-1.9l1.4 6l1.3-6.1l1.4-12.8l1.3 16.8l1.4-6.7l1.3 16.6l1.4-7l1.3-1.7l1.4 1.7l1.4-1.9l1.3 .2l1.4-5.6l1.3 3.2l1.4 3.8l1.3-4.7l1.4 8.7l1.3-4.9l1.4-.1l1.3-6.3l1.4 14.3l1.3-15.8l1.4 2.4l1.4 5.4l1.3 11.7l1.4-18.3l1.3 5.6l1.4-1.4l1.3-2.6l1.4 7.9l1.3-18.5l1.4 12.3l1.3-6.4l1.4-6.9l1.3 1.3l1.4 5.1l1.4-.2l1.3-6.8l1.4-2.5l1.3 6.3l1.4 5.3l1.3 3.5l1.4 2.3l1.3 .5l1.4-5.5l1.3 6.4l1.4-3.4l1.4 2.8l1.3 1.5l1.4-.5l1.3-.5l1.4-2.7l1.3-8.5l1.4 .2l1.3 1.7l1.4 3.2l1.3-1.2l1.4 6.6l1.4-2.7l1.3 6.9l1.4-12.2l1.3 9.1l1.4 6.1l1.3 6.8l1.4-1.4l1.3-4.9l1.4-2.9l1.3 .7l1.4 3.7l1.3 5.7l1.4-2l1.4-8.2l1.3 8.8l1.4-.5l1.3-6.8l1.4 5.9l1.3-12.4l1.4-.4l1.3-7l1.4-.7l1.3 5.8l1.4 15.5l1.3-15.6l1.4 4.2l1.4 2.5l1.3-9.6l1.4 10.9l1.3-8.1l1.4 6.4l1.3 7.2l1.4-10.8l1.3 7.3l1.4 .7l1.3 4.3l1.4-10l1.4-1.7l1.3 1.7l1.4 7.6l1.3 1.5l1.4-7.7l1.3 7.3l1.4-10.4l1.3 12.7l1.4-11.7l1.3 7.3l1.4 3.5l1.4-14.9l1.3 3.8l1.4 14.3l1.3-6.7l1.4-1l1.3 3.6l1.4-0l1.3 5.6l1.4-9.6l1.3-1.8l1.4-5.5l1.3-3.9l1.4 15.4l1.4-8.5l1.3 6.8l1.4-3.3l1.3 1.2l1.4 .1l1.3 2.1l1.4-3.6l1.3 5.2l1.4-.7l1.3-4.9l1.4 7.4l1.3-5.1l1.4-3.8l1.4-3.2l1.3 11.3l1.4-1.8l1.3-7.1l1.4-.9l1.3-.9l1.4 2.5l1.3 .3l1.4-5.3l1.3 12.1l1.4-6.7l1.4-1.6l1.3-3.9l1.4-5.3l1.3 12.4l1.4 2.2l1.3-8.5l1.4 14.8l1.3-5.3l1.4 1l1.3-1.8l1.4-2.2l1.4 6.1l1.3 3.7l1.4-2.9l1.3-2.5l1.4 4.3l1.3-15.1l1.4 11.4l1.3 15.3l1.4-4.3l1.3 7.8l1.4-8.6l1.3-.7l1.4-5.6l1.4 5.2l1.3 1.2l1.4-16.3l1.3 8l1.4-9.5l1.3-4.5l1.4 6.3l1.3-.5l1.4 17.8l1.3-9l1.4 3.3l1.3 8l1.4-8.6l1.4 8.6l1.3-4.9l1.4-12.2l1.3-1l1.4-1.5l1.3 4.4l1.4-1.6l1.3-.9l1.4-.2l1.3 5.3l1.4-1.3l1.4-8.1l1.3 .1l1.4 1.5l1.3 1.9l1.4 3.9l1.3 .3l1.4-5l1.3 2.6l1.4 8.1l1.3 .7l1.4-4.6l1.4 4.1l1.3 .9l1.4 2.2l1.3 1.1l1.4 8.2l1.3-21.4l1.4 5.7l1.3-4.7l1.4 5l1.3 9.3l1.4-13.9l1.3 3.7l1.4 6.3l1.4 6l1.3-16.3l1.4 4.4l1.3-5.2l1.4 16.1l1.3-13.5l1.4 12.7l1.3 4.4l1.4-6.5l1.3-6.4l1.4 .6l1.3 13.7l1.4-5.8l1.4-9.7l1.3-.5l1.4-3.7l1.3 .4l1.4-7.9l1.3 .9l1.4-5.7l1.3 17.1l1.4-10.6l1.3 .1l1.4-1l1.4-4l1.3 10.4l1.4-3.6l1.3-1.2l1.4-4.3l1.3 4.7l1.4 .8l1.3 .5l1.4 6.7l1.3-2l1.4 6.9l1.4-3.7l1.3-6.3l1.4 4.9l1.3 12.4l1.4-12.5l1.3 .8l1.4 .4l1.3 5.3l1.4-11.2l1.3-2.8l1.4-5.9l1.3-.1l1.4 3.8l1.4-6.2l1.3 8l1.4-12.1l1.3 .6l1.4 2.1l1.3-3.6l1.4-4.2l1.3 1.3l1.4 8.7l1.3 1.3l1.4 .8l1.3 2.5l1.4 .4l1.4-3.5l1.3 .3l1.4 12l1.3-5.4l1.4-11.2l1.3 3.1l1.4-7.7l1.3 4l1.4 13.3l1.3-13.2l1.4 2.4l1.4-2.9l1.3-1.1l1.4-2.2l1.3 7.6l1.4-3.6l1.3 7.6l1.4-1.2l1.3-1.4l1.4-4.2l1.3 6.9l1.4-3.4l1.4 5.7l1.3-5.6l1.4-5.8l1.3-4.4l1.4 25.1l1.3-20l1.4 8.7l1.3-12.1l1.4 11.1l1.3-4.1l1.4 1.7l1.3-1.6l1.4 3.8l1.4 11.6l1.3-6.8l1.4-1l1.3 9.3l1.4-7.5l1.3-.6l1.4 10.1l1.3 10l1.4-17.8l1.3 5.2l1.4 3.9l1.3-7.5l1.4 2.4l1.4 3l1.3-5.6l1.4 2.5l1.3 5.5l1.4-11l1.3 1.4l1.4 3.5l1.3 5.5l1.4-6.3l1.3-11.8l1.4 18.9l1.4-3.3l1.3-.9l1.4 6.7l1.3-6.3l1.4-14.5l1.3 12.2l1.4 1.2l1.3 2.1l1.4-.8l1.3-13.1l1.4 9.3l1.4-4.6l1.3-4.1l1.4 9.3l1.3 5l1.4-5.1l1.3-5.9l1.4-7l1.3 13.8l1.4-1.7l1.3-1.9l1.4-5l1.3 1.2l1.4 5.1l1.4-2.8l1.3 4.9l1.4 1.7l1.3 7.7l1.4-6.6l1.3-8.8l1.4-2.8l1.3 9.5l1.4-7l1.3 16.7l1.4-13.1l1.3 6l1.4-3.2l1.4-2.3l1.3-1.2l1.4-.1l1.3-11.7l1.4 9.7l1.3-8.8l1.4-3.8l1.3 2.6l1.4-1.4l1.3-13.8l1.4 18.8l1.4 21.5l1.3-13.5l1.4-7.1l1.3 .6l1.4 19l1.3-1.7l1.4-13.7l1.3-9.9l1.4 6.4l1.3 .4l1.4 9.5l1.4-8.3l1.3 7.6l1.4 2.2l1.3 4.5l1.4-8.6l1.3-5.2l1.4-.2l1.3 7.3l1.4-9l1.3 .6l1.4-3.2l1.3 9l1.4-2.5l1.4 2.7l1.3-7.5l1.4 1.2l1.3 .9l1.4-2.7l1.3 3.5l1.4 2.7l1.3 1.1l1.4-1.4l1.3-5.7l1.4 7.3l1.3-6.8l1.4 9.6l1.4-6.3l1.3-8.3l1.4 3.7l1.3 .7l1.4 4.8l1.3 5.3l1.4 1.7l1.3-8.8l1.4 6.6l1.3-2.8l1.4 2.4l1.4 2.8l1.3-6.4l1.4 5.1l1.3-1.8l1.4-2.4l1.3-9.5l1.4 7.2l1.3 1.2l1.4-3.8l1.3-.4l1.4 1.5l1.4 1.1l1.3-6.2l1.4 11.6l1.3-.7l1.4 4.9l1.3-9.1l1.4-.7l1.3-6l1.4 7.2l1.3 12.8l1.4-3.9l1.3-13.7l1.4-.7l1.4 7l1.3-11.8l1.4 21.2l1.3-8.6l1.4-3.8l1.3 2.2l1.4 3l1.3-10l1.4 6.7l1.3 5.1l1.4-13l1.3 9.3l1.4-9.6l1.4 3.6l1.3-1.9l1.4-4.6l1.3 6.6l1.4 6.4l1.3-8.7l1.4-1l1.3 5.2l1.4-4.2l1.3-2l1.4 4.8l1.4 2.6l1.3 7.5l1.4-.4l1.3-1.1l1.4-10.5l1.3 8.3l1.4-3.4l1.3-.4l1.4-8l1.3-.6l1.4 10.8l1.4-.4l1.3 1.2l1.4-7.5l1.3 3.5l1.4-5.6l1.3-1.7l1.4-.5l1.3 9.7l1.4 11.1l1.3-11.2l1.4 4.4l1.3-3.8l1.4-5.1l1.4-7.6l1.3 1.7l1.4 7.6l1.3-5.3l1.4 5l1.3-1.6l1.4 4.6l1.3 .7l1.4 3.2l1.3-5l1.4-3.6l1.4 11.5l1.3-8.3l1.4 4.9l1.3-9.2l1.4 1l1.3 1.5l1.4 7.9l1.3-1.4l1.4-4.9l1.3-0l1.4-.8l1.3 16.2l1.4-7l1.4-3.8l1.3-1.4l1.4-4.8l1.3-2.5l1.4 7.6l1.3 2.5l1.4-2.2l1.3-.8l1.4-15.4l1.3 11.9l1.4 6.3l1.4-1.3l1.3 1.2l1.4 9.3l1.3-12.5l1.4 4.6l1.3-.2l1.4-5.2l1.3-2.2l1.4-.5l1.3 7.6l1.4-7.6l1.3 5.2l1.4 2.8l1.4-4.9l1.3 5.2l1.4 4.8l1.3-5l1.4 4.5l1.3 .8l1.4-10l1.3 5l1.4-7.8l1.3 .9l1.4 4.2l1.3-2.9l1.4 3.8l1.4 2.4l1.3-7.1l1.4 7.4l1.3 6.8l1.4-18.4l1.3-.3l1.4-.5l1.3 6.7l1.4 3.9l1.3-7.2l1.4 1.8l1.4-2.2l1.3-.5l1.4 .7l1.3 5.2l1.4 2.8l1.3-9.8l1.4 3.3l1.3 6.4l1.4 .6l1.3-5.3l1.4 8.8l1.4 4l1.3-17l1.4 1.1l1.3-3.3l1.4-8.9l1.3 14.4l1.4 8.7l1.3-2.6l1.4 2.2l1.3 7.4l1.4-8l1.3-5.2l1.4 5.9l1.4-5.3l1.3 1.8l1.4-5.3l1.3-5.1l1.4 9.3l1.3 10.6l1.4-14l1.3 3l1.4 1.8l1.3 3.7l1.4-7.8l1.3-.8l1.4 .3l1.4-7.7l1.3 4.2l1.4 10.1l1.3-4.2l1.4 6.2l1.3-8.7l1.4 .1l1.3-2.6l1.4 1.2l1.3 6.5l1.4-7.1l1.4 2l1.3 5.4l1.4-7.7l1.3 6.5l1.4-2.3l1.3-5.3l1.4 5.1l1.3 .6l1.4-7.8l1.3 4.5l1.4-5.7l1.4 8.7l1.3 2.4l1.4 3.3l1.3-16.2l1.4 4.5l1.3 9.6l1.4-9l1.3-3.1l1.4 13l1.3-2.4l1.4-1.5l1.3-5.9l1.4-1.5l1.4-3.8l1.3 6.7l1.4-5.4l1.3 10l1.4 2.9l1.3-8.7l1.4-3.9l1.3 .2l1.4 8.7l1.3-5.7l1.4 5.1l1.3-.8l1.4 3.1l1.4-12.4l1.3 6.1l1.4-.2l1.3-3.6l1.4 13.8l1.3-14.8l1.4 4.6l1.3 3.7l1.4-2.6l1.3-3.8l1.4 6.6l1.4-3.2l1.3 2.8l1.4-14l1.3 13.6l1.4-1l1.3-.1l1.4 .6l1.3-6.6l1.4 7.6l1.3 2.1l1.4-8.2l1.4 6.6l1.3 1.1l1.4 1.1l1.3 .2l1.4-7l1.3 5.1l1.4 2.1l1.3-7.1l1.4-2.4l1.3 1.4l1.4 .8l1.3 3.4l1.4-9.2l1.4 7.6l1.3-2.1l1.4 5.3l1.3 1.3l1.4-6.2l1.3-2.2l1.4 5.2l1.3-5.1l1.4-5.7l1.3 10.8l1.4 10.5l1.3-12.8l1.4-2.2l1.4-3.6l1.3-3l1.4 8.4l1.3 6.5l1.4 4.9l1.3-12.6l1.4 17.1l1.3-6.6l1.4-6.7l1.3-1.2l1.4-.1" fill="none" stroke="#0070C0" stroke-width="4.4" stroke-linejoin="round" stroke-linecap="round"/>
</g>
<g id="chart2">
<rect x="485.6" y="969.9" width="1641.9" height="76.9" fill="#FEF4EE"/>
<rect x="485.6" y="1051.1" width="1641.9" height="72.6" fill="#EBF4F9"/>
<rect x="485.6" y="1123.8" width="1641.9" height="76.9" fill="#FEF4EE"/>
<rect x="485.6" y="1205.0" width="1641.9" height="72.6" fill="#EBF4F9"/>
<rect x="485.6" y="1277.7" width="1641.9" height="76.9" fill="#FEF4EE"/>
<rect x="485.6" y="1358.9" width="1641.9" height="72.6" fill="#EBF4F9"/>
<rect x="485.6" y="1431.5" width="1641.9" height="76.9" fill="#FEF4EE"/>
<rect x="485.6" y="1512.8" width="1641.9" height="72.6" fill="#EBF4F9"/>
<rect x="485.6" y="1585.4" width="1641.9" height="76.9" fill="#FEF4EE"/>
<rect x="485.6" y="1666.7" width="1641.9" height="72.6" fill="#EBF4F9"/>
<rect x="485.6" y="1739.3" width="1641.9" height="76.9" fill="#FEF4EE"/>
<rect x="485.6" y="1820.5" width="1641.9" height="72.6" fill="#EBF4F9"/>
<rect x="485.6" y="1893.2" width="1641.9" height="76.9" fill="#FEF4EE"/>
<rect x="485.6" y="1974.4" width="1641.9" height="72.6" fill="#EBF4F9"/>
<rect x="485.6" y="2047.1" width="1641.9" height="76.9" fill="#FEF4EE"/>
<rect x="485.6" y="2128.3" width="1641.9" height="72.6" fill="#EBF4F9"/>
<line x1="485.6" y1="989.1" x2="2127.5" y2="989.1" stroke="#B2B2B2" stroke-width="2.4"/>
<line x1="485.6" y1="1008.4" x2="2127.5" y2="1008.4" stroke="#B2B2B2" stroke-width="2.4"/>
<line x1="485.6" y1="1027.6" x2="2127.5" y2="1027.6" stroke="#B2B2B2" stroke-width="2.4"/>
<line x1="485.6" y1="1066.1" x2="2127.5" y2="1066.1" stroke="#B2B2B2" stroke-width="2.4"/>
<line x1="485.6" y1="1085.3" x2="2127.5" y2="1085.3" stroke="#B2B2B2" stroke-width="2.4"/>
<line x1="485.6" y1="1104.5" x2="2127.5" y2="1104.5" stroke="#B2B2B2" stroke-width="2.4"/>
<line x1="485.6" y1="1143.0" x2="2127.5" y2="1143.0" stroke="#B2B2B2" stroke-width="2.4"/>
<line x1="485.6" y1="1162.2" x2="2127.5" y2="1162.2" stroke="#B2B2B2" stroke-width="2.4"/>
<line x1="485.6" y1="1181.5" x2="2127.5" y2="1181.5" stroke="#B2B2B2" stroke-width="2.4"/>
<line x1="485.6" y1="1220.0" x2="2127.5" y2="1220.0" stroke="#B2B2B2" stroke-width="2.4"/>
<line x1="485.6" y1="1239.2" x2="2127.5" y2="1239.2" stroke="#B2B2B2" stroke-width="2.4"/>
<line x1="485.6" y1="1258.4" x2="2127.5" y2="1258.4" stroke="#B2B2B2" stroke-width="2.4"/>
<line x1="485.6" y1="1296.9" x2="2127.5" y2="1296.9" stroke="#B2B2B2" stroke-width="2.4"/>
<line x1="485.6" y1="1316.1" x2="2127.5" y2="1316.1" stroke="#B2B2B2" stroke-width="2.4"/>
<line x1="485.6" y1="1335.4" x2="2127.5" y2="1335.4" stroke="#B2B2B2" stroke-width="2.4"/>
<line x1="485.6" y1="1373.8" x2="2127.5" y2="1373.8" stroke="#B2B2B2" stroke-width="2.4"/>
<line x1="485.6" y1="1393.1" x2="2127.5" y2="1393.1" stroke="#B2B2B2" stroke-width="2.4"/>
<line x1="485.6" y1="1412.3" x2="2127.5" y2="1412.3" stroke="#B2B2B2" stroke-width="2.4"/>
<line x1="485.6" y1="1450.8" x2="2127.5" y2="1450.8" stroke="#B2B2B2" stroke-width="2.4"/>
<line x1="485.6" y1="1470.0" x2="2127.5" y2="1470.0" stroke="#B2B2B2" stroke-width="2.4"/>
<line x1="485.6" y1="1489.2" x2="2127.5" y2="1489.2" stroke="#B2B2B2" stroke-width="2.4"/>
<line x1="485.6" y1="1527.7" x2="2127.5" y2="1527.7" stroke="#B2B2B2" stroke-width="2.4"/>
<line x1="485.6" y1="1547.0" x2="2127.5" y2="1547.0" stroke="#B2B2B2" stroke-width="2.4"/>
<line x1="485.6" y1="1566.2" x2="2127.5" y2="1566.2" stroke="#B2B2B2" stroke-width="2.4"/>
<line x1="485.6" y1="1604.7" x2="2127.5" y2="1604.7" stroke="#B2B2B2" stroke-width="2.4"/>
<line x1="485.6" y1="1623.9" x2="2127.5" y2="1623.9" stroke="#B2B2B2" stroke-width="2.4"/>
<line x1="485.6" y1="1643.1" x2="2127.5" y2="1643.1" stroke="#B2B2B2" stroke-width="2.4"/>
<line x1="485.6" y1="1681.6" x2="2127.5" y2="1681.6" stroke="#B2B2B2" stroke-width="2.4"/>
<line x1="485.6" y1="1700.8" x2="2127.5" y2="1700.8" stroke="#B2B2B2" stroke-width="2.4"/>
<line x1="485.6" y1="1720.1" x2="2127.5" y2="1720.1" stroke="#B2B2B2" stroke-width="2.4"/>
<line x1="485.6" y1="1758.5" x2="2127.5" y2="1758.5" stroke="#B2B2B2" stroke-width="2.4"/>
<line x1="485.6" y1="1777.8" x2="2127.5" y2="1777.8" stroke="#B2B2B2" stroke-width="2.4"/>
<line x1="485.6" y1="1797.0" x2="2127.5" y2="1797.0" stroke="#B2B2B2" stroke-width="2.4"/>
<line x1="485.6" y1="1835.5" x2="2127.5" y2="1835.5" stroke="#B2B2B2" stroke-width="2.4"/>
<line x1="485.6" y1="1854.7" x2="2127.5" y2="1854.7" stroke="#B2B2B2" stroke-width="2.4"/>
<line x1="485.6" y1="1873.9" x2="2127.5" y2="1873.9" stroke="#B2B2B2" stroke-width="2.4"/>
<line x1="485.6" y1="1912.4" x2="2127.5" y2="1912.4" stroke="#B2B2B2" stroke-width="2.4"/>
<line x1="485.6" y1="1931.6" x2="2127.5" y2="1931.6" stroke="#B2B2B2" stroke-width="2.4"/>
<line x1="485.6" y1="1950.9" x2="2127.5" y2="1950.9" stroke="#B2B2B2" stroke-width="2.4"/>
<line x1="485.6" y1="1989.4" x2="2127.5" y2="1989.4" stroke="#B2B2B2" stroke-width="2.4"/>
<line x1="485.6" y1="2008.6" x2="2127.5" y2="2008.6" stroke="#B2B2B2" stroke-width="2.4"/>
<line x1="485.6" y1="2027.8" x2="2127.5" y2="2027.8" stroke="#B2B2B2" stroke-width="2.4"/>
<line x1="485.6" y1="2066.3" x2="2127.5" y2="2066.3" stroke="#B2B2B2" stroke-width="2.4"/>
<line x1="485.6" y1="2085.5" x2="2127.5" y2="2085.5" stroke="#B2B2B2" stroke-width="2.4"/>
<line x1="485.6" y1="2104.8" x2="2127.5" y2="2104.8" stroke="#B2B2B2" stroke-width="2.4"/>
<line x1="485.6" y1="2143.2" x2="2127.5" y2="2143.2" stroke="#B2B2B2" stroke-width="2.4"/>
<line x1="485.6" y1="2162.5" x2="2127.5" y2="2162.5" stroke="#B2B2B2" stroke-width="2.4"/>
<line x1="485.6" y1="2181.7" x2="2127.5" y2="2181.7" stroke="#B2B2B2" stroke-width="2.4"/>
<line x1="471.6" y1="1046.8" x2="2127.5" y2="1046.8" stroke="#868686" stroke-width="3"/>
<line x1="471.6" y1="1123.8" x2="2127.5" y2="1123.8" stroke="#868686" stroke-width="3"/>
<line x1="471.6" y1="1200.7" x2="2127.5" y2="1200.7" stroke="#868686" stroke-width="3"/>
<line x1="471.6" y1="1277.7" x2="2127.5" y2="1277.7" stroke="#868686" stroke-width="3"/>
<line x1="471.6" y1="1354.6" x2="2127.5" y2="1354.6" stroke="#868686" stroke-width="3"/>
<line x1="471.6" y1="1431.5" x2="2127.5" y2="1431.5" stroke="#868686" stroke-width="3"/>
<line x1="471.6" y1="1508.5" x2="2127.5" y2="1508.5" stroke="#868686" stroke-width="3"/>
<line x1="471.6" y1="1585.4" x2="2127.5" y2="1585.4" stroke="#868686" stroke-width="3"/>
<line x1="471.6" y1="1662.4" x2="2127.5" y2="1662.4" stroke="#868686" stroke-width="3"/>
<line x1="471.6" y1="1739.3" x2="2127.5" y2="1739.3" stroke="#868686" stroke-width="3"/>
<line x1="471.6" y1="1816.2" x2="2127.5" y2="1816.2" stroke="#868686" stroke-width="3"/>
<line x1="471.6" y1="1893.2" x2="2127.5" y2="1893.2" stroke="#868686" stroke-width="3"/>
<line x1="471.6" y1="1970.1" x2="2127.5" y2="1970.1" stroke="#868686" stroke-width="3"/>
<line x1="471.6" y1="2047.1" x2="2127.5" y2="2047.1" stroke="#868686" stroke-width="3"/>
<line x1="471.6" y1="2124.0" x2="2127.5" y2="2124.0" stroke="#868686" stroke-width="3"/>
<line x1="471.6" y1="2200.9" x2="2127.5" y2="2200.9" stroke="#868686" stroke-width="3"/>
<line x1="471.6" y1="969.9" x2="485.6" y2="969.9" stroke="#868686" stroke-width="3"/>
<line x1="485.6" y1="969.9" x2="485.6" y2="2208.9" stroke="#868686" stroke-width="3"/>
<line x1="567.7" y1="969.9" x2="567.7" y2="2208.9" stroke="#868686" stroke-width="3"/>
<line x1="649.8" y1="969.9" x2="649.8" y2="2208.9" stroke="#868686" stroke-width="3"/>
<line x1="731.9" y1="969.9" x2="731.9" y2="2208.9" stroke="#868686" stroke-width="3"/>
<line x1="814.0" y1="969.9" x2="814.0" y2="2208.9" stroke="#868686" stroke-width="3"/>
<line x1="896.1" y1="969.9" x2="896.1" y2="2208.9" stroke="#868686" stroke-width="3"/>
<line x1="978.2" y1="969.9" x2="978.2" y2="2208.9" stroke="#868686" stroke-width="3"/>
<line x1="1060.3" y1="969.9" x2="1060.3" y2="2208.9" stroke="#868686" stroke-width="3"/>
<line x1="1142.4" y1="969.9" x2="1142.4" y2="2208.9" stroke="#868686" stroke-width="3"/>
<line x1="1224.5" y1="969.9" x2="1224.5" y2="2208.9" stroke="#868686" stroke-width="3"/>
<line x1="1306.6" y1="969.9" x2="1306.6" y2="2208.9" stroke="#868686" stroke-width="3"/>
<line x1="1388.6" y1="969.9" x2="1388.6" y2="2208.9" stroke="#868686" stroke-width="3"/>
<line x1="1470.7" y1="969.9" x2="1470.7" y2="2208.9" stroke="#868686" stroke-width="3"/>
<line x1="1552.8" y1="969.9" x2="1552.8" y2="2208.9" stroke="#868686" stroke-width="3"/>
<line x1="1634.9" y1="969.9" x2="1634.9" y2="2208.9" stroke="#868686" stroke-width="3"/>
<line x1="1717.0" y1="969.9" x2="1717.0" y2="2208.9" stroke="#868686" stroke-width="3"/>
<line x1="1799.1" y1="969.9" x2="1799.1" y2="2208.9" stroke="#868686" stroke-width="3"/>
<line x1="1881.2" y1="969.9" x2="1881.2" y2="2208.9" stroke="#868686" stroke-width="3"/>
<line x1="1963.3" y1="969.9" x2="1963.3" y2="2208.9" stroke="#868686" stroke-width="3"/>
<line x1="2045.4" y1="969.9" x2="2045.4" y2="2208.9" stroke="#868686" stroke-width="3"/>
<line x1="2127.5" y1="969.9" x2="2127.5" y2="2208.9" stroke="#868686" stroke-width="3"/>
<line x1="487.0" y1="969.9" x2="2128.9" y2="969.9" stroke="#000" stroke-width="3.2"/>
<line x1="2127.5" y1="969.9" x2="2127.5" y2="2201.9" stroke="#000" stroke-width="2.8"/>
<text x="485.4" y="2241.8" font-size="23.2" text-anchor="middle" textLength="57.5" lengthAdjust="spacingAndGlyphs">00:00</text>
<text x="567.5" y="2241.8" font-size="23.2" text-anchor="middle" textLength="57.5" lengthAdjust="spacingAndGlyphs">01:00</text>
<text x="649.6" y="2241.8" font-size="23.2" text-anchor="middle" textLength="57.5" lengthAdjust="spacingAndGlyphs">02:00</text>
<text x="731.7" y="2241.8" font-size="23.2" text-anchor="middle" textLength="57.5" lengthAdjust="spacingAndGlyphs">03:00</text>
<text x="813.8" y="2241.8" font-size="23.2" text-anchor="middle" textLength="57.5" lengthAdjust="spacingAndGlyphs">04:00</text>
<text x="895.9" y="2241.8" font-size="23.2" text-anchor="middle" textLength="57.5" lengthAdjust="spacingAndGlyphs">05:00</text>
<text x="978.0" y="2241.8" font-size="23.2" text-anchor="middle" textLength="57.5" lengthAdjust="spacingAndGlyphs">06:00</text>
<text x="1060.1" y="2241.8" font-size="23.2" text-anchor="middle" textLength="57.5" lengthAdjust="spacingAndGlyphs">07:00</text>
<text x="1142.2" y="2241.8" font-size="23.2" text-anchor="middle" textLength="57.5" lengthAdjust="spacingAndGlyphs">08:00</text>
<text x="1224.3" y="2241.8" font-size="23.2" text-anchor="middle" textLength="57.5" lengthAdjust="spacingAndGlyphs">09:00</text>
<text x="1306.4" y="2241.8" font-size="23.2" text-anchor="middle" textLength="57.5" lengthAdjust="spacingAndGlyphs">10:00</text>
<text x="1388.4" y="2241.8" font-size="23.2" text-anchor="middle" textLength="57.5" lengthAdjust="spacingAndGlyphs">11:00</text>
<text x="1470.5" y="2241.8" font-size="23.2" text-anchor="middle" textLength="57.5" lengthAdjust="spacingAndGlyphs">12:00</text>
<text x="1552.6" y="2241.8" font-size="23.2" text-anchor="middle" textLength="57.5" lengthAdjust="spacingAndGlyphs">13:00</text>
<text x="1634.7" y="2241.8" font-size="23.2" text-anchor="middle" textLength="57.5" lengthAdjust="spacingAndGlyphs">14:00</text>
<text x="1716.8" y="2241.8" font-size="23.2" text-anchor="middle" textLength="57.5" lengthAdjust="spacingAndGlyphs">15:00</text>
<text x="1798.9" y="2241.8" font-size="23.2" text-anchor="middle" textLength="57.5" lengthAdjust="spacingAndGlyphs">16:00</text>
<text x="1881.0" y="2241.8" font-size="23.2" text-anchor="middle" textLength="57.5" lengthAdjust="spacingAndGlyphs">17:00</text>
<text x="1963.1" y="2241.8" font-size="23.2" text-anchor="middle" textLength="57.5" lengthAdjust="spacingAndGlyphs">18:00</text>
<text x="2045.2" y="2241.8" font-size="23.2" text-anchor="middle" textLength="57.5" lengthAdjust="spacingAndGlyphs">19:00</text>
<text x="2127.3" y="2241.8" font-size="23.2" text-anchor="middle" textLength="57.5" lengthAdjust="spacingAndGlyphs">20:00</text>
<line x1="247.5" y1="1016.5" x2="326.4" y2="1016.5" stroke="#FF0000" stroke-width="4.6" stroke-linecap="round"/>
<text x="336.5" y="1028.8" font-size="37.5" textLength="123.5" lengthAdjust="spacingAndGlyphs">Core15</text>
<line x1="247.5" y1="1093.2" x2="326.4" y2="1093.2" stroke="#0070C0" stroke-width="4.6" stroke-linecap="round"/>
<text x="336.5" y="1105.5" font-size="37.5" textLength="123.5" lengthAdjust="spacingAndGlyphs">Core14</text>
<line x1="247.5" y1="1170.0" x2="326.4" y2="1170.0" stroke="#FF0000" stroke-width="4.6" stroke-linecap="round"/>
<text x="336.5" y="1182.3" font-size="37.5" textLength="123.5" lengthAdjust="spacingAndGlyphs">Core13</text>
<line x1="247.5" y1="1246.8" x2="326.4" y2="1246.8" stroke="#0070C0" stroke-width="4.6" stroke-linecap="round"/>
<text x="336.5" y="1259.1" font-size="37.5" textLength="123.5" lengthAdjust="spacingAndGlyphs">Core12</text>
<line x1="247.5" y1="1323.7" x2="326.4" y2="1323.7" stroke="#FF0000" stroke-width="4.6" stroke-linecap="round"/>
<text x="336.5" y="1336.0" font-size="37.5" textLength="123.5" lengthAdjust="spacingAndGlyphs">Core11</text>
<line x1="247.5" y1="1400.5" x2="326.4" y2="1400.5" stroke="#0070C0" stroke-width="4.6" stroke-linecap="round"/>
<text x="336.5" y="1412.8" font-size="37.5" textLength="123.5" lengthAdjust="spacingAndGlyphs">Core10</text>
<line x1="247.5" y1="1477.2" x2="326.4" y2="1477.2" stroke="#FF0000" stroke-width="4.6" stroke-linecap="round"/>
<text x="336.5" y="1489.5" font-size="37.5" textLength="101.6" lengthAdjust="spacingAndGlyphs">Core9</text>
<line x1="247.5" y1="1554.1" x2="326.4" y2="1554.1" stroke="#0070C0" stroke-width="4.6" stroke-linecap="round"/>
<text x="336.5" y="1566.4" font-size="37.5" textLength="101.6" lengthAdjust="spacingAndGlyphs">Core8</text>
<line x1="247.5" y1="1630.8" x2="326.4" y2="1630.8" stroke="#FF0000" stroke-width="4.6" stroke-linecap="round"/>
<text x="336.5" y="1643.1" font-size="37.5" textLength="101.6" lengthAdjust="spacingAndGlyphs">Core7</text>
<line x1="247.5" y1="1707.7" x2="326.4" y2="1707.7" stroke="#0070C0" stroke-width="4.6" stroke-linecap="round"/>
<text x="336.5" y="1720.0" font-size="37.5" textLength="101.6" lengthAdjust="spacingAndGlyphs">Core6</text>
<line x1="247.5" y1="1784.5" x2="326.4" y2="1784.5" stroke="#FF0000" stroke-width="4.6" stroke-linecap="round"/>
<text x="336.5" y="1796.8" font-size="37.5" textLength="101.6" lengthAdjust="spacingAndGlyphs">Core5</text>
<line x1="247.5" y1="1861.2" x2="326.4" y2="1861.2" stroke="#0070C0" stroke-width="4.6" stroke-linecap="round"/>
<text x="336.5" y="1873.5" font-size="37.5" textLength="101.6" lengthAdjust="spacingAndGlyphs">Core4</text>
<line x1="247.5" y1="1938.0" x2="326.4" y2="1938.0" stroke="#FF0000" stroke-width="4.6" stroke-linecap="round"/>
<text x="336.5" y="1950.3" font-size="37.5" textLength="101.6" lengthAdjust="spacingAndGlyphs">Core3</text>
<line x1="247.5" y1="2014.8" x2="326.4" y2="2014.8" stroke="#0070C0" stroke-width="4.6" stroke-linecap="round"/>
<text x="336.5" y="2027.1" font-size="37.5" textLength="101.6" lengthAdjust="spacingAndGlyphs">Core2</text>
<line x1="247.5" y1="2091.7" x2="326.4" y2="2091.7" stroke="#FF0000" stroke-width="4.6" stroke-linecap="round"/>
<text x="336.5" y="2104.0" font-size="37.5" textLength="101.6" lengthAdjust="spacingAndGlyphs">Core1</text>
<line x1="247.5" y1="2168.4" x2="326.4" y2="2168.4" stroke="#0070C0" stroke-width="4.6" stroke-linecap="round"/>
<text x="336.5" y="2180.8" font-size="37.5" textLength="101.6" lengthAdjust="spacingAndGlyphs">Core0</text>
<path d="M499.3 982.5l1.4-1.2l1.3 1.2l1.4-.3l1.4 2.8l1.3 8.7l1.4-6.6l1.4 .5l1.3-.8l1.4-2l1.4 7.2l1.3-7.5l1.4 .5l1.4-.1l1.3 1.5l1.4-5.9l1.4 14.9l1.3-7l1.4 5.5l1.4-4.4l1.3 .2l1.4-11.2l1.4 1l1.4-4.6l1.3 8.7l1.4-.8l1.4 4.4l1.3-4.3l1.4-2l1.4 5.1l1.3-1.7l1.4 2.1l1.4-2.7l1.3 8.5l1.4-3.5l1.4-5.4l1.3 4.5l1.4-3.7l1.4 1l1.3 1.2l1.4 3.6l1.4 .2l1.3-5.5l1.4 5.7l1.4-6.2l1.4-1.9l1.3 11.2l1.4 1.4l1.4 2.8l1.3-11.7l1.4 4.9l1.4-8.2l1.3-4.6l1.4-.8l1.4 1.5l1.3-5.8l1.4 5.6l1.4 3.3l1.3-7.1l1.4 2.2l1.4 1.9l1.3 12.7l1.4-10.5l1.4 8.2l1.4 3.2l1.3-4l1.4 5.5l1.4-6.5l1.3-6.1l1.4 4.4l1.4-1.7l1.3 .8l1.4-3.5l1.4 13.1l1.3-7.9l1.4 6.3l1.4 .7l1.3-9l1.4 5.5l1.4 2.7l1.3-10.2l1.4-6.4l1.4 13.2l1.3-3.7l1.4 9.4l1.4 5.4l1.4 1.1l1.3-5.1l1.4-2.3l1.4 3.7l1.3-6.3l1.4-0l1.4-.1l1.3 .6l1.4-4.7l1.4 5.7l1.3-1.4l1.4 5.5l1.4-3.8l1.3-.9l1.4 4.4l1.4-5l1.3-6.2l1.4 .5l1.4 1.9l1.3 1.5l1.4 1.2l1.4-2.6l1.4 .7l1.3-3.3l1.4 3.3l1.4-1.7l1.3 2.6l1.4-4.9l1.4-3.4l1.3-1.7l1.4 .8l1.4 5.8l1.3-4.2l1.4 3.3l1.4 6.3l1.3-6.7l1.4 .2l1.4-3.3l1.3 1.5l1.4-6.9l1.4 6.4l1.4 .9l1.3-4.4l1.4 2.8l1.4 8.6l1.3-10.4l1.4 5.3l1.4 1.6l1.3-5.7l1.4 7.2l1.4-9.9l1.3-.7l1.4 3.6l1.4 .8l1.3 .1l1.4 7.3l1.4-3.9l1.3-2l1.4 4.6l1.4 3.5l1.3-8.5l1.4 3l1.4-.7l1.4 2.4l1.3-2.5l1.4 11l1.4-5.9l1.3-7.2l1.4-.8l1.4-5l1.3 1.4l1.4-1.1l1.4 7.1l1.3 1.9l1.4-3.2l1.4 5.7l1.3-0l1.4-6l1.4 4.6l1.3 3.2l1.4-5.9l1.4-.1l1.3-7.9l1.4 3l1.4-4.7l1.4-6.1l1.3 2.7l1.4 6.9l1.4 .9l1.3-4l1.4 6.7l1.4-.7l1.3 1.2l1.4-5.7l1.4-4.8l1.3 7l1.4 .1l1.4-.6l1.3-6.1l1.4 7.8l1.4-9.5l1.3 10.7l1.4 1.5l1.4-8.1l1.3 9.2l1.4 2.1l1.4-1.1l1.4 2.3l1.3 .2l1.4-3.7l1.4 8.4l1.3-5l1.4-3.9l1.4-2.9l1.3-3.8l1.4 5.1l1.4 4.1l1.3 4.2l1.4-5.5l1.4 .6l1.3 6.1l1.4-9.1l1.4-5l1.3 3.4l1.4-.2l1.4 .8l1.4 4l1.3 3.6l1.4-11.3l1.4-2.8l1.3-2.6l1.4-3.2l1.4 16.7l1.3-3.5l1.4 8.8l1.4-8.6l1.3 5.3l1.4-2.2l1.4 8.7l1.3-4.8l1.4-12.7l1.4 3.3l1.3 3.9l1.4-3.1l1.4 11l1.3-9.1l1.4 6.1l1.4 2.5l1.4 .4l1.3 3.7l1.4 1.2l1.4 .4l1.3-.4l1.4-3.1l1.4-6l1.3-1.5l1.4 6l1.4-9.9l1.3-5l1.4 .4l1.4-6l1.3 10.1l1.4 5l1.4 3.5l1.3 .3l1.4-6.3l1.4 6.4l1.3-2.9l1.4-2.1l1.4-.5l1.4 2.4l1.3 6.4l1.4-6.4l1.4-1.4l1.3 3.9l1.4-5.8l1.4-2.6l1.3 2.8l1.4 2.7l1.4-4.6l1.3 3.2l1.4-.8l1.4-5l1.3-.3l1.4-.7l1.4-5.9l1.3 .1l1.4 7.5l1.4 7.6l1.4-5.4l1.3 4.9l1.4-.6l1.4 1.7l1.3 4.8l1.4-.2l1.4 5.8l1.3-9l1.4-.5l1.4 1l1.3 1.2l1.4 6.6l1.4-1.5l1.3 1.2l1.4 11.9l1.4 1.3l1.3-2.5l1.4-12.5l1.4-5.3l1.3-.5l1.4 1.7l1.4-6.9l1.4-2.7l1.3 5.3l1.4 3.6l1.4 4.2l1.3-9.9l1.4 9.4l1.4-5.8l1.3 2.9l1.4-3.5l1.4-3.2l1.3 1l1.4-4.1l1.4 9.2l1.3-0l1.4-2l1.4-6l1.3-1.1l1.4 1.4l1.4-2.3l1.3-.7l1.4 1.3l1.4 2.8l1.4-1.9l1.3-1.2l1.4-2.3l1.4-1.9l1.3 2.7l1.4-5.5l1.4 2.7l1.3 1.2l1.4 6.4l1.4 6.1l1.3-9.9l1.4 2.2l1.4 6l1.3-1l1.4-3.8l1.4-2.1l1.3-10.7l1.4 5.5l1.4-5.2l1.4 .1l1.3 4.7l1.4 7.9l1.4 22.4l1.3-24l1.4-6l1.4-2.8l1.3 .3l1.4 7.1l1.4 8.2l1.3-3l1.4-5.6l1.4 .1l1.3 24.1l1.4-30l1.4-6.9l1.3-0l1.4 2.9l1.4-2l1.3 5.7l1.4-6.6l1.4 1.6l1.4 1.8l1.3-1.4l1.4 1.2l1.4 3.3l1.3 2.1l1.4 .1l1.4-1.3l1.3 .4l1.4 1.4l1.4 3.3l1.3 3.5l1.4-8.3l1.4 .7l1.3 .7l1.4 .8l1.4-7.3l1.3-2.6l1.4 .7l1.4 5.7l1.3 4.4l1.4 4.3l1.4 6.5l1.4-3.1l1.3-4.5l1.4 2.9l1.4-12.1l1.3 5.4l1.4 24.4l1.4-25.4l1.3-4.9l1.4 7.8l1.4-.8l1.3-2l1.4-.7l1.4-5.4l1.3 1.2l1.4 7.9l1.4-6.7l1.3 5.4l1.4-2.9l1.4 5.2l1.4-2l1.3 2l1.4-6l1.4 10.4l1.3-9.1l1.4-1.9l1.4-1.3l1.3-3.2l1.4-2.2l1.4 2.7l1.3 1.3l1.4-.2l1.4 8l1.3-1l1.4-3.9l1.4 .1l1.3-1.2l1.4 4.3l1.4-7.9l1.3 5.8l1.4 4.1l1.4-1.7l1.4 1.1l1.3 5.4l1.4-7.7l1.4 7.2l1.3 5.6l1.4-1l1.4-9.8l1.3 1.8l1.4-.9l1.4-4.4l1.3-2.7l1.4 5l1.4-1.1l1.3-.2l1.4-2.3l1.4-2.1l1.3-2.6l1.4 11.5l1.4 1.1l1.3-9.2l1.4 1.7l1.4 7.1l1.4-11.7l1.3-1.1l1.4 5.4l1.4 3.3l1.3-1l1.4-3.8l1.4-4.6l1.3-.4l1.4-0l1.4-0l1.3 3l1.4 5.6l1.4 1l1.3-.8l1.4 7l1.4 1.4l1.3-2.7l1.4 4.5l1.4-4.4l1.4 .1l1.3 6.4l1.4 1.4l1.4-5.7l1.3-5.3l1.4 3.2l1.4-2.7l1.3-2.1l1.4 9.7l1.4 2l1.3 4.3l1.4-1.6l1.4 1.9l1.3-12.3l1.4 3.4l1.4-11.3l1.3 12.1l1.4-.6l1.4 19.4l1.3-4.4l1.4-10.2l1.4 1l1.4-7.5l1.3 1.9l1.4-6.5l1.4 2.7l1.3-10.7l1.4 7l1.4-8.6l1.3-1.6l1.4 3.2l1.4 1.3l1.3 3.4l1.4 2.3l1.4 3.6l1.3 2.9l1.4 2.1l1.4 .9l1.3-6.6l1.4-.1l1.4-2.4l1.3-2.1l1.4-1.4l1.4 15.9l1.4-5.7l1.3-8.1l1.4 1.9l1.4 1.9l1.3-7.3l1.4 6.5l1.4-.3l1.3 5l1.4 6.3l1.4-11.8l1.3 6.7l1.4-11.7l1.4 2.5l1.3-2.1l1.4 3.6l1.4-1.5l1.3 .2l1.4-5.7l1.4 4l1.4-5.6l1.3 9.7l1.4 2.8l1.4-4.8l1.3 1.4l1.4 6.1l1.4-6.3l1.3-.7l1.4 1.9l1.4-4l1.3 3.4l1.4 4.6l1.4-4.4l1.3-.6l1.4-.9l1.4 1.8l1.3 8.5l1.4 2.7l1.4-5.6l1.3 3l1.4-5.4l1.4-1.7l1.4-4.3l1.3 7.3l1.4-9.5l1.4 4.8l1.3 1.8l1.4 9.3l1.4-4.6l1.3-6.7l1.4 6.5l1.4-4l1.3-1.9l1.4 .9l1.4 8l1.3-1.3l1.4 5.4l1.4-8.9l1.3-4.6l1.4 9.7l1.4-4.9l1.3-4.1l1.4-1l1.4 .4l1.4 1.4l1.3 5.7l1.4-1.4l1.4 6.2l1.3 .2l1.4-2.6l1.4 3.7l1.3-3.5l1.4 5.5l1.4-2.5l1.3-1.2l1.4 10.2l1.4-4.4l1.3-3.7l1.4-3.7l1.4 2.5l1.3-8.9l1.4 1.1l1.4 5.7l1.4-7.7l1.3 .2l1.4-3.7l1.4 .5l1.3 4.1l1.4-1.2l1.4 1.3l1.3 5.6l1.4 .1l1.4-3.4l1.3 7.5l1.4-7.2l1.4-1.5l1.3 2.5l1.4 4.2l1.4-9.5l1.3-3.5l1.4 3.4l1.4 8.7l1.3-1.3l1.4-4.8l1.4 4.4l1.4 2.8l1.3 3.8l1.4 3l1.4-3.2l1.3-1.5l1.4 5.7l1.4-4.1l1.3-2.2l1.4 2l1.4 4.2l1.3-2.1l1.4-.3l1.4-1.7l1.3 10.3l1.4-.1l1.4-5.3l1.3-6.1l1.4 5.6l1.4 1.9l1.3 7.1l1.4-13l1.4 2.5l1.4-3.4l1.3-4.5l1.4-1l1.4 3.3l1.3-6l1.4 7.4l1.4 1.4l1.3 4.9l1.4-6.7l1.4-.9l1.3-5.2l1.4 .5l1.4 8.4l1.3 2.5l1.4-6.4l1.4-3.8l1.3 3.5l1.4-3.9l1.4 4.9l1.3 8.5l1.4-3.9l1.4-1.2l1.4-1.3l1.3-9.5l1.4 12.3l1.4 0l1.3-3.9l1.4-.8l1.4-.8l1.3-.7l1.4-4.3l1.4-.6l1.3-10.5l1.4-1.5l1.4-2.5l1.3 10.3l1.4 .1l1.4 4l1.3 4.1l1.4-6.4l1.4 2.9l1.4-1.7l1.3-1.9l1.4 1.4l1.4 3.4l1.3 4.6l1.4-5.6l1.4-4.1l1.3-3.3l1.4 11.5l1.4-2l1.3 3.5l1.4-2.2l1.4 1.8l1.3-.4l1.4-4.9l1.4-2.5l1.3-.5l1.4 3.2l1.4 1.2l1.3 5.6l1.4-8.4l1.4 1l1.4 2.8l1.3 5.1l1.4-.6l1.4-5l1.3 3.4l1.4-5.2l1.4-14l1.3 9.3l1.4-4.3l1.4-4l1.3 .7l1.4 2.5l1.4 3.5l1.3-7.6l1.4 5.6l1.4 1.7l1.3 2.9l1.4 1.8l1.4-6.8l1.3 2.9l1.4 2.2l1.4 6.2l1.4-5l1.3-1.3l1.4-4.1l1.4-4.2l1.3 2.8l1.4 5.7l1.4-6.9l1.3 0l1.4-2.3l1.4 6.8l1.3-2.3l1.4-5.2l1.4 1.6l1.3 7.5l1.4-3.7l1.4 2.6l1.3-10.5l1.4-2.1l1.4 .5l1.4 7.2l1.3-8.9l1.4 5.9l1.4-6.1l1.3 6.2l1.4 1.9l1.4 .6l1.3 1l1.4-3l1.4 2l1.3-8.7l1.4 3.4l1.4 .6l1.3-4l1.4 8.2l1.4-8.2l1.3 .8l1.4 3l1.4 6.5l1.3 1l1.4-8l1.4 5.7l1.4-1.8l1.3-4.8l1.4-2.4l1.4 .7l1.3 5l1.4-5.7l1.4 0l1.3 0l1.4 0l1.4 0l1.3 0l1.4 0l1.4 0l1.3 2.4l1.4 1.2l1.4-1.5l1.3-2.1l1.4 9l1.4-1.2l1.3 11.3l1.4-4.5l1.4 .9l1.4-.1l1.3 1.1l1.4 0l1.4-3l1.3 1.9l1.4 6l1.4 4.3l1.3 3.6l1.4 1.2l1.4 6.3l1.3-11.4l1.4 .3l1.4-.6l1.3 1.8l1.4-11l1.4 11.6l1.3-3.2l1.4 1.4l1.4-5l1.4 4.2l1.3-3.2l1.4 2.6l1.4 .5l1.3-.9l1.4 2.6l1.4-1.6l1.3 1.3l1.4-4.2l1.4 6.3l1.3-3l1.4-2.1l1.4 3.1l1.3 2.6l1.4-4.6l1.4-2.6l1.3 8.8l1.4-7.2l1.4 6l1.3-8.3l1.4-.1l1.4 10.8l1.4 3l1.3-8.5l1.4 .9l1.4-2.5l1.3 12.3l1.4-14.5l1.4 .3l1.3 7.6l1.4-5l1.4-10l1.3 11.7l1.4-4.6l1.4 6.9l1.3-3.4l1.4-6.1l1.4-.9l1.3 1.1l1.4-2l1.4 5.6l1.3 12.8l1.4-7.5l1.4-9.6l1.4-2.2l1.3 2.9l1.4-2.4l1.4 .9l1.3-4.7l1.4 1.6l1.4-2l1.3 2.9l1.4-6.8l1.4 5.9l1.3-7.3l1.4 5.5l1.4-.7l1.3 .7l1.4 2.5l1.4-.5l1.3 .7l1.4-4.8l1.4 8.4l1.4-3.3l1.3-2.3l1.4 .4l1.4-5.1l1.3 12.9l1.4-7.6l1.4 1.5l1.3 5.9l1.4 1.5l1.4 .3l1.3-3.5l1.4-7.3l1.4-.8l1.3-.5l1.4-4.7l1.4 8.8l1.3 1l1.4 12.9l1.4-6.1l1.3-6l1.4 8.2l1.4-10l1.4-3.3l1.3 6l1.4 1.1l1.4-14.5l1.3 17.7l1.4 .4l1.4-4.6l1.3 .5l1.4-3.6l1.4 1.7l1.3 2.1l1.4-4.7l1.4-3.6l1.3 7.7l1.4-6.4l1.4-3l1.3-3.4l1.4-3.1l1.4 2.2l1.3 1.4l1.4 3.4l1.4-10.1l1.4 13.3l1.3 4.7l1.4-.9l1.4-1.7l1.3-1.6l1.4-1.1l1.4-4.5l1.3 7.8l1.4-8.6l1.4-2.8l1.3-1.8l1.4 7.7l1.4-1.3l1.3-2.2l1.4-1.3l1.4 0l1.3-4.8l1.4 8.8l1.4 .9l1.4-3l1.3-7.6l1.4 11.9l1.4 .5l1.3-1.5l1.4-.5l1.4-1.3l1.3-1.2l1.4-4.2l1.4 1.4l1.3 4.8l1.4 .8l1.4-1.3l1.3-7.2l1.4-2.1l1.4 8.2l1.3 3.8l1.4-2.1l1.4 .7l1.3 3.4l1.4-1.7l1.4-6.2l1.4-.9l1.3 2.7l1.4-.3l1.4 3.1l1.3-9.8l1.4 6.6l1.4 3.2l1.3-5.3l1.4 4.2l1.4 2.3l1.3-12l1.4 1.6l1.4-1.6l1.3 4.8l1.4 3.4l1.4 6.9l1.3 4.1l1.4-7l1.4-2.1l1.3 .4l1.4 .4l1.4 1.9l1.4 5l1.3-1.2l1.4 7.4l1.4-1.3l1.3 2.4l1.4-4.2l1.4-11.2l1.3 5l1.4-2.5l1.4-4l1.3-4.5l1.4 7.9l1.4 2.3l1.3 8.8l1.4-5.4l1.4-1.5l1.3-1l1.4 1.5l1.4 .4l1.3-3.7l1.4 .7l1.4 .5l1.4 2.6l1.3-1.6l1.4-1.4l1.4 1.3l1.3 10.1l1.4-3.9l1.4-6.1l1.3-2.4l1.4 2l1.4 7.6l1.3-8.6l1.4-.6l1.4-.3l1.3 2.2l1.4 4.9l1.4-3.5l1.3 5.2l1.4-5.7l1.4 1.3l1.4 1.6l1.3-1.9l1.4 2.5l1.4-4.7l1.3-.5l1.4 9.2l1.4-13.9l1.3 7.1l1.4-1.7l1.4-.6l1.3 1.9l1.4 1.8l1.4-.3l1.3 9.2l1.4-5.1l1.4-3.1l1.3 6.8l1.4 3.9l1.4-3.2l1.3 1l1.4-4.6l1.4-6.7l1.4 11.7l1.3-1.3l1.4-3l1.4 5l1.3-7.3l1.4 1.9l1.4 1.9l1.3 7.3l1.4-3.6l1.4-.2l1.3-3l1.4-2.4l1.4 3.5l1.3-4l1.4 11.9l1.4-9.4l1.3-7.8l1.4 4l1.4 .8l1.3 6.9l1.4-5.9l1.4-5.2l1.4-5.9l1.3 12.2l1.4 3.7l1.4-2.3l1.3-7.7l1.4 3.5l1.4-4.3l1.3 2.6l1.4-2.9l1.4 3.8l1.3 16.4l1.4-11.8l1.4-8.8l1.3-2.5l1.4-6.4l1.4 5.2l1.3 5.6l1.4-1.1l1.4-4.1l1.4-7.1l1.3 4.8l1.4 12.1l1.4-8.5l1.3-2.5l1.4-3.3l1.4 11.2l1.3-12.7l1.4 1.5l1.4-5.5l1.3 8.2l1.4-6.2l1.4 1.3l1.3 2.5l1.4 2.4l1.4 4.3l1.3-.2l1.4-12.5l1.4 16.8l1.3-6.8l1.4 5.8l1.4-3l1.4-5.4l1.3 2.6l1.4-.9l1.4 4.2l1.3-6.4l1.4-1l1.4 2l1.3-3.5l1.4 .2l1.4 5.5l1.3-.8l1.4-5.7l1.4 6.4l1.3 .2l1.4 4.7l1.4-.4l1.3-3l1.4-11.7l1.4 8.1l1.3-2.2l1.4-5.3l1.4 9.6l1.4-3.7l1.3 2.8l1.4 .7l1.4-1.5l1.3-1.1l1.4-1.8l1.4 5.4l1.3 7.2l1.4-2.5l1.4 3l1.3-.5l1.4-5.5l1.4 .1l1.3-1.7l1.4 .8l1.4-.2l1.3 13.4l1.4 1l1.4-10.1l1.4-.5l1.3-3.4l1.4-5.2l1.4 1.1l1.3-1.9l1.4 1.3l1.4 2.4l1.3-3.4l1.4 5.8l1.4-8.4l1.3-2l1.4 2.7l1.4 3.1l1.3 3.1l1.4 1.1l1.4-2l1.3 8.3l1.4-7.7l1.4-2.6l1.3-1.2l1.4 10.2l1.4-7.8l1.4 2.4l1.3-1.7l1.4-3.9l1.4-1.5l1.3-2.9l1.4-.3l1.4 0l1.3 12.5l1.4-7.2l1.4-4.3l1.3 5.7l1.4 .1l1.4-5.3l1.3 6.4l1.4-5.4l1.4 7.8l1.3-2.3l1.4-4.3l1.4 4.7l1.3-.2l1.4 4.5l1.4-.4l1.4 0l1.3 24l1.4-15.4l1.4-10.6l1.3 10.2l1.4 1.7l1.4-2.6l1.3 1.5l1.4 3.2" fill="none" stroke="#FF0000" stroke-width="4.4" stroke-linejoin="round" stroke-linecap="round"/>
<path d="M499.3 1122.9l1.4 .4l1.3-.3l1.4-.7l1.4 1.1l1.3-.6l1.4 .1l1.4-.1l1.3-.3l1.4 .2l1.4 .7l1.3-.1l1.4-.3l1.4 .1l1.3-.1l1.4-.1l1.4-.1l1.3 .5l1.4-.5l1.4 .1l1.3-.4l1.4 .3l1.4-0l1.4-0l1.3 .1l1.4-.2l1.4 .4l1.3-.3l1.4-.1l1.4 .3l1.3-.8l1.4 .7l1.4-0l1.3 .3l1.4-.7l1.4 .8l1.3-.3l1.4-.1l1.4-.5l1.3 .7l1.4-.2l1.4 .6l1.3-.3l1.4-.1l1.4-0l1.4 .4l1.3-.9l1.4 .5l1.4 .7l1.3-.4l1.4-.2l1.4-0l1.3-.7l1.4 1.3l1.4-.8l1.3 .4l1.4-.7l1.4 1l1.3-.2l1.4-.7l1.4-.2l1.3 .6l1.4-0l1.4-.5l1.4 .1l1.3 .7l1.4-.1l1.4-.4l1.3 .3l1.4-.4l1.4 .5l1.3-.1l1.4 .5l1.4-.7l1.3-.4l1.4 .2l1.4 .2l1.3-.6l1.4 .8l1.4 .2l1.3-.5l1.4 .1l1.4-.3l1.3 .2l1.4 .6l1.4-.4l1.4 .2l1.3-.1l1.4-.7l1.4 .8l1.3-.6l1.4 .3l1.4-0l1.3 .3l1.4-.2l1.4 .3l1.3-.7l1.4 .5l1.4-.1l1.3-.7l1.4 .5l1.4 .2l1.3 .3l1.4-.5l1.4 .6l1.3-.2l1.4-.4l1.4 .6l1.4-.1l1.3-.3l1.4-.6l1.4 .4l1.3 0l1.4 .4l1.4-.3l1.3-.6l1.4 .2l1.4 .5l1.3-.1l1.4-0l1.4 .1l1.3 .3l1.4-1.1l1.4 .8l1.3-.7l1.4 .4l1.4-0l1.4-.2l1.3 .7l1.4-.1l1.4 .2l1.3-.3l1.4 .5l1.4-.8l1.3 .7l1.4-.4l1.4-.2l1.3 .6l1.4-.3l1.4 .1l1.3-.2l1.4-.5l1.4 1.1l1.3-.4l1.4 .4l1.4-.3l1.3-.5l1.4 .5l1.4-.5l1.4 .3l1.3-.7l1.4 .6l1.4-.2l1.3 .3l1.4 0l1.4-.2l1.3 .5l1.4-.6l1.4 0l1.3-.1l1.4 .3l1.4 .1l1.3-.1l1.4 .1l1.4-.3l1.3 .5l1.4-.4l1.4 .3l1.3-.1l1.4-.5l1.4 .5l1.4 .3l1.3-.4l1.4 .1l1.4-.6l1.3 .3l1.4 0l1.4-.1l1.3 0l1.4-.1l1.4 .7l1.3-.5l1.4 0l1.4 .3l1.3 .3l1.4-.3l1.4-.4l1.3-.2l1.4 1.1l1.4-.4l1.3 0l1.4-.6l1.4 .1l1.4 .4l1.3 .1l1.4-.4l1.4 .3l1.3 0l1.4-.3l1.4-.2l1.3 .2l1.4 .4l1.4-.6l1.3 .3l1.4-.2l1.4 .6l1.3-.8l1.4 .8l1.4 .1l1.3 .1l1.4-.3l1.4 .4l1.4-.7l1.3 .5l1.4-.3l1.4-.5l1.3 .1l1.4 0l1.4 .2l1.3-.1l1.4 .4l1.4 .4l1.3-1.2l1.4 .3l1.4 .4l1.3 .1l1.4-.5l1.4 .4l1.3-.1l1.4-.6l1.4 .3l1.3-.7l1.4 .8l1.4-.2l1.4 0l1.3-.1l1.4-.3l1.4 .2l1.3 .6l1.4-.2l1.4-.3l1.3 .7l1.4-.4l1.4 .8l1.3-.5l1.4-.8l1.4 .1l1.3 0l1.4 .5l1.4-.3l1.3 .4l1.4-.5l1.4 .2l1.3-.1l1.4 .5l1.4 .1l1.4-.3l1.3 .4l1.4 .3l1.4-.6l1.3 .3l1.4-.9l1.4 .3l1.3 .4l1.4-.4l1.4 .6l1.3-.4l1.4 0l1.4 .4l1.3-.1l1.4 0l1.4-.3l1.3 .5l1.4 0l1.4-.4l1.4-.2l1.3 .4l1.4-.3l1.4-.2l1.3-.1l1.4 0l1.4-.1l1.3 0l1.4 .5l1.4-.5l1.3 .5l1.4-.4l1.4 .2l1.3 0l1.4 .8l1.4-.9l1.3 .6l1.4 0l1.4-.7l1.3 .5l1.4-.2l1.4 .1l1.4 .5l1.3-.8l1.4-.1l1.4 .3l1.3 .4l1.4-.7l1.4 .2l1.3-.1l1.4 .2l1.4-.2l1.3 .2l1.4 .1l1.4 .2l1.3 .1l1.4-.3l1.4 .2l1.3-.3l1.4 .4l1.4 .1l1.3-.3l1.4 .1l1.4 0l1.4-.1l1.3-.1l1.4-.2l1.4 .3l1.3 .4l1.4-.3l1.4-.5l1.3 .3l1.4 0l1.4 .3l1.3-.6l1.4 .4l1.4 .1l1.3-.5l1.4 .5l1.4 .2l1.3-.8l1.4 .6l1.4-1l1.4-4l1.3 4.3l1.4 .4l1.4-.4l1.3-5.1l1.4 5l1.4 1l1.3-.7l1.4 .1l1.4 .1l1.3 .3l1.4-.1l1.4-.1l1.3 .2l1.4-.2l1.4 0l1.3 .2l1.4-.2l1.4 .3l1.3-.2l1.4 .4l1.4-.7l1.4 .2l1.3 .2l1.4-.3l1.4-.6l1.3 .5l1.4 .2l1.4-.3l1.3 .1l1.4-.4l1.4 .3l1.3-.5l1.4 .4l1.4 .2l1.3 .1l1.4-.4l1.4 .8l1.3 .1l1.4-.9l1.4 .8l1.3-.2l1.4-.7l1.4 .5l1.4 .4l1.3-.2l1.4 0l1.4-3.3l1.3-13.1l1.4 12.8l1.4 3.2l1.3 .1l1.4 .2l1.4-.1l1.3-.2l1.4 .4l1.4-.3l1.3 .7l1.4-.5l1.4-.1l1.3-0l1.4 .6l1.4-.8l1.4 .3l1.3 .1l1.4 .1l1.4-.3l1.3 .4l1.4-.4l1.4-.2l1.3 .5l1.4 .1l1.4 .2l1.3-1l1.4 .7l1.4 .1l1.3-.5l1.4-.2l1.4 .3l1.3-.5l1.4 .1l1.4 .8l1.3-.6l1.4 .3l1.4 .2l1.4-.8l1.3 1.1l1.4-.9l1.4 .8l1.3-.7l1.4 .1l1.4 .2l1.3 .1l1.4 0l1.4-.8l1.3 .4l1.4 .5l1.4-.4l1.3 .6l1.4-.5l1.4-.2l1.3 .1l1.4 .2l1.4 0l1.3 .2l1.4-.8l1.4 .3l1.4 .8l1.3 .1l1.4-.3l1.4-.3l1.3 0l1.4-.4l1.4 0l1.3 .2l1.4 .2l1.4-.6l1.3 1.2l1.4-.8l1.4-.1l1.3 .8l1.4-.7l1.4 0l1.3-.2l1.4 .5l1.4 0l1.4-.4l1.3 .3l1.4 .1l1.4-.1l1.3 .1l1.4-.7l1.4 .7l1.3 0l1.4 .5l1.4-.6l1.3 .4l1.4-.3l1.4-.5l1.3 .6l1.4-.3l1.4 .1l1.3 0l1.4-.1l1.4 0l1.3 .2l1.4-.3l1.4 0l1.4 .5l1.3 0l1.4-.1l1.4-.2l1.3 .4l1.4-.3l1.4-.1l1.3-.3l1.4 .2l1.4 .3l1.3-.1l1.4-.2l1.4 .3l1.3-.4l1.4-.5l1.4 .4l1.3 .4l1.4 .1l1.4 .1l1.3 0l1.4 .2l1.4-.4l1.4 0l1.3-.4l1.4 .5l1.4 .4l1.3-.8l1.4 .2l1.4-.2l1.3 .3l1.4-.4l1.4 .1l1.3-.3l1.4 .2l1.4 .2l1.3-.1l1.4-.1l1.4 .9l1.3-.2l1.4 .2l1.4-.1l1.4-.8l1.3 .3l1.4 .5l1.4 .1l1.3-.5l1.4-.2l1.4 .6l1.3-.5l1.4-.1l1.4 .5l1.3-.3l1.4 .1l1.4-.7l1.3 .6l1.4-.2l1.4 .1l1.3 .1l1.4-.3l1.4-.5l1.3 .5l1.4 .3l1.4 .5l1.4-1l1.3 .9l1.4-.7l1.4 .8l1.3-.4l1.4 .2l1.4-.3l1.3 .1l1.4-.1l1.4 0l1.3-.3l1.4 .3l1.4-.5l1.3 0l1.4 0l1.4 .2l1.3 .8l1.4-.5l1.4 .2l1.3 .1l1.4-.5l1.4 .5l1.4-.5l1.3 .4l1.4-.5l1.4 .4l1.3 .3l1.4 0l1.4-.5l1.3-.5l1.4 1l1.4-.5l1.3 .2l1.4-.4l1.4 .1l1.3-.1l1.4 .4l1.4-.3l1.3-.5l1.4 .2l1.4-.2l1.4 .6l1.3 .1l1.4 0l1.4-.2l1.3 .1l1.4 0l1.4-.2l1.3 .6l1.4-.5l1.4 0l1.3-.2l1.4 .1l1.4 .2l1.3 .6l1.4-.6l1.4 .6l1.3-.3l1.4 .2l1.4-.4l1.3 .2l1.4-.3l1.4 .2l1.4-.4l1.3 .1l1.4 .2l1.4-.1l1.3-.4l1.4 .2l1.4 .2l1.3 .2l1.4-.3l1.4 .2l1.3-.2l1.4-.2l1.4 .8l1.3-.2l1.4 .3l1.4-.5l1.3-.4l1.4 .4l1.4 .2l1.3 0l1.4 .3l1.4-.7l1.4 .1l1.3 .6l1.4-.4l1.4 0l1.3 .3l1.4-.4l1.4 .5l1.3-.6l1.4 .1l1.4-.4l1.3 .8l1.4-.9l1.4 .7l1.3-.7l1.4 .4l1.4-.3l1.3-.1l1.4 .3l1.4-.4l1.3 .7l1.4 0l1.4 0l1.4-.1l1.3 0l1.4 .1l1.4-.3l1.3-.5l1.4 .4l1.4-.3l1.3 .5l1.4-.1l1.4 .1l1.3-.2l1.4 .1l1.4-.2l1.3 .3l1.4 .4l1.4-.1l1.3-.3l1.4-.6l1.4 .9l1.4-.1l1.3-.3l1.4-.2l1.4 .2l1.3-.3l1.4 .2l1.4 .4l1.3-.8l1.4 .4l1.4 0l1.3-1.8l1.4-.5l1.4 .7l1.3 1.5l1.4 .2l1.4-.4l1.3-.1l1.4-.3l1.4 .9l1.3-.1l1.4 .1l1.4 0l1.4 .1l1.3-.7l1.4 .3l1.4 0l1.3-.1l1.4-.2l1.4 .3l1.3 .3l1.4-.5l1.4 1.1l1.3-.8l1.4 .1l1.4-.2l1.3-.1l1.4 .5l1.4-.6l1.3 .1l1.4 .3l1.4-.5l1.3 .8l1.4-1.1l1.4 1l1.4-.3l1.3 0l1.4 0l1.4 .2l1.3-.3l1.4 .2l1.4 .6l1.3 0l1.4-.1l1.4 .2l1.3-.6l1.4-.1l1.4 .1l1.3-.3l1.4 .5l1.4-.4l1.3 .2l1.4-.3l1.4-.4l1.4 .4l1.3 .6l1.4-.3l1.4-.5l1.3 0l1.4 .9l1.4-.3l1.3-.3l1.4 .1l1.4 .1l1.3 0l1.4-.3l1.4 .7l1.3-.5l1.4 .5l1.4-.9l1.3 .2l1.4-.1l1.4 .7l1.3-.6l1.4 .1l1.4-.6l1.4 .9l1.3-.2l1.4 .4l1.4 0l1.3-.1l1.4-.7l1.4 1l1.3-.2l1.4-.3l1.4-.3l1.3 .2l1.4 .1l1.4-1l1.3 .1l1.4 .5l1.4 .2l1.3 .4l1.4 0l1.4-.4l1.3 .4l1.4 0l1.4-.2l1.4-.1l1.3-.3l1.4 0l1.4 .7l1.3-.7l1.4 .4l1.4 .1l1.3-.5l1.4 .5l1.4 .2l1.3-.1l1.4-.3l1.4 .4l1.3-0l1.4 .1l1.4-.6l1.3-.1l1.4 .5l1.4 .1l1.4-.5l1.3-.2l1.4-.1l1.4 1l1.3-.7l1.4 .6l1.4-.5l1.3-.2l1.4 .4l1.4-.1l1.3-.1l1.4-0l1.4 .1l1.3-.5l1.4 .2l1.4 .5l1.3-.6l1.4 .5l1.4-.2l1.3-.1l1.4-.1l1.4 .3l1.4 .1l1.3 .2l1.4-.2l1.4-.1l1.3 .3l1.4-.6l1.4-.1l1.3 .3l1.4-.5l1.4 .6l1.3 .2l1.4-.3l1.4-0l1.3-0l1.4-.6l1.4-0l1.3 .8l1.4-0l1.4-.3l1.3-.1l1.4 .8l1.4-.4l1.4 .2l1.3-.2l1.4 .4l1.4-.4l1.3-.6l1.4 .4l1.4-.1l1.3-0l1.4-.1l1.4 .4l1.3-.2l1.4 .3l1.4-.3l1.3 .7l1.4-0l1.4-.3l1.3-.2l1.4 .4l1.4-1.1l1.4 .1l1.3 .5l1.4-.1l1.4 .5l1.3-.2l1.4-0l1.4-.1l1.3-.4l1.4 .7l1.4 .2l1.3-1.1l1.4 .7l1.4-.1l1.3 .4l1.4-.4l1.4 .2l1.3-.3l1.4 .3l1.4-.3l1.3-.1l1.4-.4l1.4 .5l1.4-.5l1.3 .4l1.4 .1l1.4-.3l1.3 .5l1.4 .1l1.4-0l1.3 .1l1.4-.4l1.4 .5l1.3-.5l1.4 .6l1.4-.5l1.3-.1l1.4 .5l1.4-.7l1.3-.2l1.4 .7l1.4-.1l1.3 .1l1.4 .2l1.4 .1l1.4-.7l1.3 .5l1.4 .1l1.4-.5l1.3 .3l1.4-.7l1.4 .4l1.3-.1l1.4-.1l1.4-.1l1.3 .2l1.4-.1l1.4 .2l1.3 .6l1.4-.9l1.4 .2l1.3 .2l1.4 .1l1.4-.5l1.4-.2l1.3 .3l1.4 .5l1.4-.2l1.3-.3l1.4-.2l1.4-.1l1.3 .3l1.4 .2l1.4-.4l1.3 .3l1.4 .3l1.4 .1l1.3-.6l1.4-1.2l1.4-5.6l1.3 5.1l1.4 1.5l1.4 .2l1.3-.4l1.4 .2l1.4 .2l1.4 .7l1.3-.5l1.4 .3l1.4-.1l1.3 .3l1.4-.7l1.4 .5l1.3-.2l1.4-.5l1.4 .1l1.3 .1l1.4-.6l1.4 1.3l1.3-.2l1.4-.2l1.4 .2l1.3 .2l1.4-.5l1.4 .4l1.3-.3l1.4-.3l1.4-.1l1.4 .2l1.3 .3l1.4-.6l1.4 .1l1.3 .7l1.4-.7l1.4-.3l1.3 1l1.4-.9l1.4 .1l1.3-0l1.4 .3l1.4 .2l1.3-.3l1.4 .5l1.4-0l1.3 .3l1.4-.3l1.4 .4l1.3-0l1.4-.6l1.4-.1l1.4 .1l1.3-.1l1.4 .3l1.4-0l1.3-0l1.4-.2l1.4-.6l1.3 .3l1.4 .1l1.4-.1l1.3-.5l1.4 .4l1.4 .1l1.3-0l1.4-.1l1.4-.3l1.3 1.1l1.4-.5l1.4 .7l1.4-.2l1.3-.1l1.4-.6l1.4 .8l1.3-.5l1.4 .6l1.4-0l1.3-.3l1.4-.2l1.4 .2l1.3-0l1.4-.3l1.4-0l1.3-.1l1.4 .4l1.4-.5l1.3 .1l1.4 .4l1.4-.4l1.3 .3l1.4-.4l1.4 .5l1.4-.6l1.3 .3l1.4 .2l1.4 .4l1.3-.5l1.4 .5l1.4-.6l1.3 .3l1.4-.3l1.4 .1l1.3-.4l1.4 .2l1.4 .2l1.3-.3l1.4-.3l1.4 .2l1.3 .2l1.4 .2l1.4 .2l1.3-.1l1.4 .1l1.4-.4l1.4 .7l1.3-.9l1.4-.4l1.4 .8l1.3 .5l1.4-0l1.4-.2l1.3-.1l1.4 .1l1.4 .1l1.3-.4l1.4 .1l1.4-.9l1.3 .6l1.4 .5l1.4-.8l1.3 .2l1.4-.3l1.4 .5l1.4 .1l1.3-.5l1.4 .4l1.4-.1l1.3 .5l1.4-.4l1.4-.2l1.3 .2l1.4-0l1.4 .4l1.3-.3l1.4-.3l1.4 .6l1.3-.8l1.4 .2l1.4-.2l1.3 .4l1.4 .1l1.4-.2l1.3 .6l1.4-1.2l1.4 .3l1.4 .6l1.3 .2l1.4-.2l1.4 .1l1.3-.7l1.4-.3l1.4 .4l1.3-.2l1.4 .7l1.4-.6l1.3 .3l1.4-.7l1.4 1l1.3-.5l1.4 .2l1.4 .2l1.3-.2l1.4-.3l1.4 .8l1.3 .2l1.4-.4l1.4-.3l1.4 .1l1.3 .1l1.4-.1l1.4-.1l1.3-.1l1.4 .3l1.4 .4l1.3-.4l1.4-0l1.4-.1l1.3-.2l1.4-.2l1.4-.2l1.3 .6l1.4-.1l1.4-.1l1.3-0l1.4 .4l1.4-.1l1.4-.3l1.3 .8l1.4-0l1.4-.6l1.3-.1l1.4 .5l1.4-.5l1.3-.2l1.4 .5l1.4-.3l1.3-0l1.4-.3l1.4-0l1.3 .7l1.4-.2l1.4-.2l1.3 .2l1.4-.3l1.4 .4l1.3-0l1.4-.5l1.4-.1l1.4 .4l1.3 .1l1.4-.6l1.4 .4l1.3-.6l1.4 .6l1.4-0l1.3-.3l1.4 .1l1.4 .3l1.3 .1l1.4 .5l1.4-.7l1.3-.8l1.4 1l1.4-.5l1.3 .2l1.4 .1l1.4 .3l1.3 .1l1.4-.7l1.4 .8l1.4-.7l1.3 .7l1.4-.4l1.4-.1l1.3 .2l1.4-.5l1.4 .3l1.3-.3l1.4-0" fill="none" stroke="#0070C0" stroke-width="4.4" stroke-linejoin="round" stroke-linecap="round"/>
<path d="M499.3 1200.7l1.4 0l1.3-2.5l1.4 .2l1.4 .9l1.3-2l1.4 1.7l1.4-5.4l1.3-25.2l1.4 23.1l1.4 6.5l1.3 2.5l1.4-2.5l1.4 2l1.3-2.6l1.4-.9l1.4 3.4l1.3-1.1l1.4-1.7l1.4 2.1l1.3 .2l1.4-1.9l1.4-1.5l1.4-20.7l1.3 19.8l1.4 2.5l1.4 1.8l1.3-1.5l1.4 1.8l1.4-7.2l1.3-23.3l1.4 24.4l1.4 5.8l1.3 .7l1.4-2.8l1.4-.5l1.3 2.3l1.4-.4l1.4 2l1.3-2.3l1.4 1l1.4 .2l1.3-1.1l1.4 .3l1.4-1.4l1.4 1.6l1.3 .2l1.4-1.1l1.4 2.6l1.3-2l1.4-5.2l1.4-27.4l1.3 25.9l1.4 6.7l1.4-1.8l1.3 2.4l1.4-.6l1.4-1.5l1.3 1l1.4 .5l1.4-.4l1.3 .6l1.4-5.6l1.4-18l1.4 18.6l1.3 3.5l1.4-.2l1.4 2.4l1.3-4.5l1.4-12.8l1.4 12.8l1.3 2.6l1.4 1.4l1.4 0l1.3-2.1l1.4 2.3l1.4-1.1l1.3-.9l1.4 2.2l1.4 .4l1.3 .8l1.4-9.3l1.4-28.4l1.3 28l1.4 6.3l1.4 1.1l1.4 .4l1.3 .3l1.4-.1l1.4 1.6l1.3-2l1.4-1.1l1.4 3.2l1.3-.7l1.4-.2l1.4-.3l1.3 0l1.4 .5l1.4 .7l1.3-.3l1.4-1.3l1.4-.2l1.3-1.6l1.4 .5l1.4-.2l1.3 2.1l1.4-.3l1.4 .2l1.4-1.2l1.3-1l1.4 1.5l1.4-.6l1.3 .1l1.4-.5l1.4 1.1l1.3-.6l1.4 .2l1.4 .8l1.3-.2l1.4-1.3l1.4 1.4l1.3-.9l1.4-1l1.4 .6l1.3 1l1.4-7.8l1.4-26.6l1.4 27.9l1.3 8.2l1.4-1.4l1.4 .7l1.3 .7l1.4-1.7l1.4-2.1l1.3 1.3l1.4 1.5l1.4 .8l1.3-.7l1.4-.4l1.4-1.6l1.3 2.9l1.4-.9l1.4 .1l1.3 .4l1.4-1.7l1.4 .3l1.3-.6l1.4-.2l1.4-.2l1.4 .5l1.3 .9l1.4-.1l1.4-5.3l1.3-11.6l1.4 11.6l1.4 6.8l1.3-2.3l1.4-.7l1.4-.7l1.3 .8l1.4 .8l1.4 .6l1.3-.4l1.4-2.3l1.4 2.3l1.3 1.3l1.4-1.2l1.4 .2l1.3-1.7l1.4 1.6l1.4-.2l1.4-1.1l1.3 .1l1.4-.1l1.4 .5l1.3 1.1l1.4-.5l1.4 .3l1.3-.8l1.4-6.7l1.4-17l1.3 18.3l1.4 7l1.4-1.8l1.3 .4l1.4-.4l1.4 .2l1.3 1.3l1.4-.9l1.4 .2l1.3-1l1.4 1.9l1.4-.4l1.4 .9l1.3-1.2l1.4-.8l1.4 2l1.3-1.4l1.4 .2l1.4 1l1.3 0l1.4-.7l1.4 1.3l1.3-1.7l1.4 1.6l1.4-.5l1.3-1.1l1.4 1.7l1.4-2.1l1.3 1l1.4-.3l1.4 1.4l1.4-.3l1.3-.4l1.4-2l1.4 1.2l1.3-.1l1.4 .8l1.4-2.1l1.3 1.2l1.4-1.1l1.4 2.5l1.3-.5l1.4-2.4l1.4 1.3l1.3 .1l1.4 .6l1.4-1.7l1.3 .3l1.4 .3l1.4-.4l1.3 1.2l1.4-.4l1.4 .5l1.4 .3l1.3-1.3l1.4 1.4l1.4-.7l1.3 0l1.4-.7l1.4 1.7l1.3-1.5l1.4 1.8l1.4-1.2l1.3-.3l1.4 .8l1.4-.7l1.3 .4l1.4 0l1.4-.3l1.3 .2l1.4 1l1.4-34.9l1.3-10.7l1.4 27.1l1.4 19l1.4-2.6l1.3 .1l1.4 .4l1.4 .7l1.3-.4l1.4-1.4l1.4 .6l1.3-.1l1.4 .4l1.4-.7l1.3 3l1.4-.8l1.4-.6l1.3-1.7l1.4-1.1l1.4 1.8l1.3 .5l1.4-1.9l1.4 .9l1.4 .1l1.3 1.6l1.4-.4l1.4-1.5l1.3 .6l1.4 2.5l1.4-3.5l1.3 1.4l1.4-.3l1.4-.1l1.3-.5l1.4 .4l1.4 .9l1.3 .2l1.4 .8l1.4-.4l1.3-.3l1.4-.5l1.4-.5l1.3 .6l1.4 .4l1.4-.3l1.4 0l1.3 1.2l1.4-1.1l1.4-3.1l1.3-19.1l1.4 15.8l1.4 6.8l1.3 1.2l1.4-2.6l1.4 .1l1.3 2.3l1.4-3.5l1.4 .2l1.3-.7l1.4-.4l1.4 3.7l1.3-1.5l1.4 0l1.4-.2l1.3 .7l1.4-2.2l1.4-.2l1.4 .7l1.3 1.6l1.4 .9l1.4-.6l1.3 1.5l1.4-2.6l1.4-1l1.3 2.2l1.4-.1l1.4-.7l1.3-.9l1.4 .5l1.4 2.8l1.3-1.2l1.4 .8l1.4-.7l1.3-3l1.4-15l1.4-9.3l1.4 20.1l1.3 6.6l1.4-1.5l1.4 .8l1.3-.2l1.4-.1l1.4-.6l1.3 .6l1.4-.1l1.4 1.9l1.3-.2l1.4-.7l1.4 1.2l1.3 .6l1.4-2.5l1.4-.2l1.3 2l1.4-.6l1.4 .8l1.3 .5l1.4-4.2l1.4 4.2l1.4-.5l1.3-.4l1.4-.6l1.4 1.5l1.3-1.4l1.4 1.4l1.4-1.7l1.3 .5l1.4-1.2l1.4 2.4l1.3-2.1l1.4 .7l1.4-.6l1.3 .2l1.4-.7l1.4 1.5l1.3-.5l1.4-.4l1.4 1.8l1.3-2.5l1.4 .2l1.4-.3l1.4 2l1.3-1.2l1.4 .9l1.4-1.7l1.3 1.1l1.4-1.2l1.4 .4l1.3 1.1l1.4-.3l1.4-.6l1.3 1.4l1.4 .4l1.4 .4l1.3-1.3l1.4-2l1.4 1.9l1.3-.1l1.4-1.5l1.4 1.6l1.4-.3l1.3 1.3l1.4-2.8l1.4 .9l1.3-0l1.4-.5l1.4-.1l1.3 2.4l1.4-.6l1.4-.7l1.3-.3l1.4 1.1l1.4-.1l1.3-1l1.4-1.9l1.4 1.2l1.3 2.3l1.4-.2l1.4-2.2l1.3-1.3l1.4 1.6l1.4 .4l1.4 1.9l1.3-.1l1.4-1.9l1.4 1.3l1.3-.9l1.4-1.2l1.4 1.1l1.3-1.4l1.4 2l1.4-0l1.3-1l1.4-.9l1.4 .9l1.3 .7l1.4 .3l1.4-.4l1.3 1.4l1.4-1.8l1.4-.8l1.3 1l1.4 1.5l1.4-.7l1.4-2.3l1.3 .7l1.4 2.4l1.4-2.9l1.3 1l1.4 2.3l1.4-1.8l1.3 .7l1.4-.2l1.4 .1l1.3-2.4l1.4 1l1.4-.3l1.3 1.1l1.4 .1l1.4-1.9l1.3 1.9l1.4-.4l1.4-1.1l1.4 .7l1.3 2.5l1.4-2.5l1.4 1.8l1.3-.1l1.4 .8l1.4-2.4l1.3 1.8l1.4-.3l1.4-1l1.3-.3l1.4-1.7l1.4 3.5l1.3-2.5l1.4 0l1.4 1.5l1.3 1l1.4-.8l1.4 .1l1.3 .4l1.4 .7l1.4-1.6l1.4-.1l1.3-1.1l1.4 .6l1.4 1.6l1.3-1l1.4-2.2l1.4 1.8l1.3-1l1.4 1.8l1.4-.9l1.3-1.6l1.4-.2l1.4 1.5l1.3 2.4l1.4-3.8l1.4 2.7l1.3-.6l1.4-.5l1.4 2.1l1.3-.5l1.4-1.2l1.4 .6l1.4 1.2l1.3-3.2l1.4 2.3l1.4-1l1.3 .5l1.4 .3l1.4-1.8l1.3 .8l1.4-1.3l1.4 .4l1.3 1.3l1.4 .4l1.4-2.1l1.3 3.4l1.4-2.1l1.4-.7l1.3 .9l1.4-.3l1.4 .2l1.4-1.1l1.3-.4l1.4 2.4l1.4-.2l1.3-1.3l1.4 .3l1.4 .2l1.3 .4l1.4-1.6l1.4 1.4l1.3-.8l1.4 1.2l1.4 .9l1.3-1.6l1.4-.7l1.4 2.4l1.3-1.1l1.4-1l1.4 .8l1.3 1.8l1.4-1.8l1.4-1.5l1.4 .1l1.3 2.4l1.4 .2l1.4-1.3l1.3 1.1l1.4-.9l1.4 .5l1.3-1.8l1.4 3l1.4-2.7l1.3 .8l1.4 1.5l1.4-.6l1.3 .9l1.4-1.6l1.4-.8l1.3-.6l1.4-.7l1.4-0l1.3 2l1.4-1.1l1.4-.5l1.4 .5l1.3 .5l1.4 1.2l1.4-1.3l1.3-.6l1.4 1.9l1.4-.2l1.3-1l1.4-.1l1.4 1.2l1.3 .5l1.4 .5l1.4-1.8l1.3 .9l1.4-.2l1.4-1.7l1.3 .8l1.4-1.4l1.4 2.5l1.4-2.3l1.3-.2l1.4 1.8l1.4-0l1.3-3.2l1.4 4.1l1.4-.2l1.3-1.3l1.4 .5l1.4 .3l1.3 .5l1.4 .5l1.4 .3l1.3-2.3l1.4 2.6l1.4-2.8l1.3 1l1.4-.6l1.4 .9l1.3-.5l1.4-.2l1.4 1.8l1.4-.2l1.3-1.9l1.4-.2l1.4 .7l1.3-.5l1.4 2.6l1.4-3.2l1.3 .2l1.4-.1l1.4 1.4l1.3-1.5l1.4 1.6l1.4-.3l1.3 .7l1.4-1.7l1.4 1l1.3-.2l1.4-.6l1.4 1.5l1.3 .8l1.4-1.4l1.4 .5l1.4-1.6l1.3 1.4l1.4 .3l1.4-1.3l1.3 .5l1.4-.4l1.4-1l1.3 1.6l1.4-.7l1.4 .5l1.3-1l1.4 1.1l1.4-1l1.3 2l1.4-.8l1.4 .1l1.3-.7l1.4 1.2l1.4 .5l1.3-1.5l1.4-0l1.4-.8l1.4 2l1.3-1l1.4 1.9l1.4-2.4l1.3 1.6l1.4-.4l1.4 .5l1.3-1.8l1.4 1.5l1.4-1.8l1.3 2.5l1.4-2.2l1.4-.2l1.3 .8l1.4 1l1.4-.7l1.3-.9l1.4 .1l1.4 .9l1.4-2.7l1.3 3.4l1.4-.5l1.4 1.1l1.3-1.6l1.4 1.2l1.4 .6l1.3-1.6l1.4 .8l1.4-.8l1.3-.1l1.4-.4l1.4-1l1.3 1.9l1.4-4.9l1.4-14.7l1.3 16.3l1.4 4.3l1.4 .1l1.3-1.2l1.4 1.2l1.4-.9l1.4-.1l1.3-1.1l1.4 2l1.4-1.5l1.3 1.7l1.4-1.1l1.4-2.1l1.3 2.1l1.4 .6l1.4-1.4l1.3 1.9l1.4-1.9l1.4 .9l1.3 .9l1.4-0l1.4-2.9l1.3 .8l1.4 1.2l1.4-2.7l1.3 2.4l1.4-0l1.4-1.3l1.4 .2l1.3 1.1l1.4-.1l1.4-1.5l1.3 .9l1.4-.1l1.4 2.1l1.3-0l1.4-4l1.4 2.1l1.3 .2l1.4-2l1.4 .9l1.3 1.4l1.4-1.3l1.4-.6l1.3 2.7l1.4 .6l1.4-1.4l1.4 .8l1.3-2.3l1.4 1.5l1.4-.8l1.3 2l1.4-1.6l1.4 1.7l1.3-.5l1.4-.2l1.4-.2l1.3-.4l1.4-.5l1.4 .5l1.3 .5l1.4-.9l1.4 1.5l1.3-2.1l1.4 .3l1.4-1.2l1.3 2.6l1.4-.4l1.4-2.1l1.4-.1l1.3 .2l1.4 .5l1.4-1l1.3 .2l1.4 1.2l1.4-.2l1.3 .8l1.4 .4l1.4-1.8l1.3 1.1l1.4-.2l1.4-.2l1.3-.6l1.4 .9l1.4-1.2l1.3 .3l1.4 .6l1.4 .5l1.3-1l1.4 1.2l1.4-.1l1.4-1.3l1.3 .7l1.4 .5l1.4-1.3l1.3 2.6l1.4-2.2l1.4 .5l1.3-1.1l1.4-0l1.4 .6l1.3 .4l1.4 2.3l1.4-2.1l1.3-.4l1.4 .4l1.4 1.3l1.3-0l1.4-.8l1.4-.7l1.4 1.1l1.3-.9l1.4-1.1l1.4 1l1.3 .4l1.4-.1l1.4 .6l1.3-2.9l1.4 .9l1.4 .2l1.3 1.1l1.4 .2l1.4 .3l1.3-1.8l1.4 2.4l1.4-.9l1.3-.6l1.4 .2l1.4-2.2l1.3 2l1.4-.1l1.4 1.8l1.4-1.7l1.3 .6l1.4-1.7l1.4 .6l1.3-.1l1.4 1.5l1.4 .3l1.3-.4l1.4 .7l1.4 .9l1.3-.6l1.4-1.9l1.4 1.3l1.3 1.2l1.4-2.6l1.4 2l1.3-1.5l1.4 1.9l1.4-1.8l1.3-.2l1.4 .7l1.4-1.9l1.4 2.9l1.3-.5l1.4-.6l1.4-2.1l1.3-1.8l1.4 2.3l1.4 1.6l1.3-38.7l1.4-8.9l1.4 21.1l1.3-16.5l1.4 34.5l1.4 9.6l1.3-.8l1.4-.4l1.4-1.1l1.3 .3l1.4 2l1.4-1.9l1.4 1.8l1.3-1.5l1.4-.6l1.4 1.1l1.3-1.2l1.4 .4l1.4 .3l1.3-1l1.4 .7l1.4-.5l1.3 1.4l1.4-1.3l1.4-1.8l1.3 3.6l1.4-.1l1.4 1.1l1.3-.2l1.4 .2l1.4-.1l1.3-2.7l1.4-.9l1.4 1.1l1.4 2.6l1.3-2.3l1.4 1.5l1.4-1.1l1.3-1.4l1.4 .7l1.4-.1l1.3-.8l1.4 1.5l1.4 1.3l1.3-1.1l1.4 1.2l1.4-1.2l1.3 .4l1.4-1.1l1.4 2.5l1.3-.5l1.4 .1l1.4-1.5l1.3 .7l1.4-1.1l1.4 2l1.4-0l1.3-1.6l1.4-.4l1.4-2.6l1.3 1l1.4 1.6l1.4-0l1.3 .7l1.4 .8l1.4-2.7l1.3-.6l1.4 3.3l1.4 .8l1.3-1l1.4-1.3l1.4 .1l1.3-2.5l1.4 1.7l1.4 1.1l1.4-.4l1.3-1.8l1.4 3.4l1.4-2.8l1.3-.7l1.4 .6l1.4 .8l1.3 .4l1.4-1.1l1.4 .7l1.3 .6l1.4-0l1.4-.6l1.3-.1l1.4-.3l1.4 .2l1.3-2.4l1.4 2.8l1.4 .7l1.3-.5l1.4-.2l1.4 1.3l1.4-2.4l1.3-1.7l1.4 5.4l1.4-1.4l1.3-.6l1.4 .5l1.4-2.1l1.3 1.7l1.4 .6l1.4-.1l1.3-.3l1.4-1.5l1.4-2.3l1.3 1.6l1.4 1.9l1.4-1.2l1.3 1.7l1.4-0l1.4-.5l1.3 .9l1.4-3.6l1.4 4l1.4-1.9l1.3 .4l1.4-.4l1.4 2.4l1.3-3.3l1.4 .9l1.4-.5l1.3 1.6l1.4-.7l1.4 1.9l1.3-2.3l1.4 .6l1.4 2l1.3-0l1.4-.6l1.4-2.3l1.3-.4l1.4 .7l1.4 1.9l1.3-2.2l1.4 .5l1.4 .9l1.4-1l1.3-1.3l1.4 2.8l1.4-2l1.3 1.6l1.4-.6l1.4 .5l1.3 .4l1.4-1.7l1.4 .8l1.3-2.5l1.4 3.1l1.4-1.5l1.3 1.1l1.4-.1l1.4 .5l1.3 1.4l1.4-1.8l1.4-1.9l1.4 2.8l1.3-1.1l1.4 1.9l1.4-3.4l1.3 1.3l1.4-0l1.4 .7l1.3 .4l1.4 .1l1.4 .6l1.3-.5l1.4-.3l1.4-.6l1.3 1l1.4-1.9l1.4 1.3l1.3 .5l1.4 .2l1.4-2.1l1.3 .9l1.4-1.7l1.4 1.4l1.4 .3l1.3-.4l1.4-.9l1.4 2.1l1.3 .6l1.4-.9l1.4-.3l1.3 1.7l1.4-1.6l1.4 1.1l1.3-.8l1.4-.5l1.4 .8l1.3 .5l1.4-.6l1.4 .3l1.3-.5l1.4 .1l1.4-2.6l1.3 1.9l1.4 .7l1.4 .2l1.4-3.3l1.3 2.2l1.4-.4l1.4-0l1.3 1.3l1.4-2.8l1.4 1.7l1.3 .2l1.4 .2l1.4 1.4l1.3-1.3l1.4 .4l1.4-.1l1.3-.3l1.4 .3l1.4-1.1l1.3 .8l1.4 .3l1.4-0l1.4-0l1.3-.6l1.4-.5l1.4-.3l1.3 1.7l1.4-.8l1.4 1.2l1.3-.5l1.4 .9l1.4-1.4l1.3-.6l1.4 1.1l1.4-.8l1.3-0l1.4 1.8l1.4-.8l1.3-2.1l1.4 2.1l1.4-.5l1.3-2.7l1.4 1.8l1.4-.6l1.4 1.8l1.3-1.3l1.4 1.1l1.4-.3l1.3 .5l1.4-1.1l1.4 .5l1.3-.8l1.4-.2l1.4-0l1.3 1l1.4-1.5l1.4 3.4l1.3-.2l1.4-2l1.4 .4l1.3-1.3l1.4 .2l1.4 .8l1.3 1.8l1.4-1.7l1.4 1l1.4-.4l1.3 .8l1.4 .2l1.4 .4l1.3-.5l1.4-1.7l1.4 .5l1.3-0l1.4-.7l1.4 1.1l1.3-1.6l1.4-.4l1.4 .4l1.3-0l1.4-.6l1.4-2.8l1.3-12.1l1.4 12.7l1.4 3.2l1.4-.2l1.3-.5l1.4 .2l1.4 .6l1.3 1.3l1.4 1.1l1.4-1.8l1.3-0l1.4-.4l1.4-1.6l1.3-2.3l1.4 1.5l1.4 2.2l1.3-1.7l1.4 3l1.4-1.7l1.3 .8l1.4-1.2l1.4 2l1.3-1l1.4-.8l1.4-.1l1.4 1.7l1.3 .7l1.4-.8l1.4-.6l1.3 1.6l1.4 .2l1.4-1.1l1.3 .2l1.4-1.7l1.4 1.8l1.3-1.1l1.4-.1l1.4-.4l1.3-.6l1.4 1.6l1.4 .8l1.3-1.5l1.4-.7l1.4 .6l1.3-.1l1.4 1.9l1.4-2.1l1.4-.8l1.3 1.6l1.4 .9l1.4 .5l1.3 .6l1.4-1l1.4-1.8l1.3 1.6l1.4-1.7" fill="none" stroke="#FF0000" stroke-width="4.4" stroke-linejoin="round" stroke-linecap="round"/>
<path d="M499.3 1276.1l1.4-1.9l1.3-.4l1.4 1.6l1.4-.4l1.3-1.2l1.4 1.9l1.4-1.8l1.3 1.6l1.4-.3l1.4-8.1l1.3-23.3l1.4 22.8l1.4 10.7l1.3-2.4l1.4 1.3l1.4-2l1.3 2.2l1.4-.7l1.4 .2l1.3 .2l1.4-1.3l1.4 2.1l1.4-1.6l1.3-.5l1.4 1.3l1.4-.1l1.3 1.1l1.4-.1l1.4-2.1l1.3 2.1l1.4-2.2l1.4 .6l1.3-.2l1.4 .2l1.4 1.3l1.3-1.2l1.4 .4l1.4 .6l1.3-.7l1.4-.1l1.4-1l1.3 2l1.4-1.7l1.4 1.5l1.4-3.2l1.3 2.3l1.4 .3l1.4 .1l1.3-2.1l1.4 1.7l1.4-1.1l1.3 .5l1.4 1.4l1.4-1.1l1.3 1.9l1.4 .5l1.4-2.6l1.3 1.5l1.4-1.2l1.4-1.6l1.3-.2l1.4 2.7l1.4-.1l1.4-2.4l1.3 1.4l1.4-3.1l1.4 1.8l1.3 1l1.4 1.3l1.4-.7l1.3-1.1l1.4 3.3l1.4-3.2l1.3 0l1.4-.6l1.4 .2l1.3-2.7l1.4 4.4l1.4-1.2l1.3-1.8l1.4 3.3l1.4-2.2l1.3-.8l1.4 3.4l1.4 .3l1.4-1.1l1.3-.3l1.4-1l1.4 3.3l1.3-2l1.4-1.7l1.4 .7l1.3 1.9l1.4-1.6l1.4 1.8l1.3 .4l1.4-1.6l1.4-.6l1.3 1.4l1.4-.9l1.4-.2l1.3-1.1l1.4 1.8l1.4-1.2l1.3 2.1l1.4-1.7l1.4-1.1l1.4-.1l1.3 1.6l1.4-0l1.4 1.3l1.3-1.2l1.4 .3l1.4 .8l1.3-1.1l1.4 .5l1.4 .1l1.3-1.2l1.4 .4l1.4 1.9l1.3-3.2l1.4 2.7l1.4-3.8l1.3 1.3l1.4 2.9l1.4-1.3l1.4-2.9l1.3 2.8l1.4 .8l1.4-1.5l1.3 .7l1.4-1.9l1.4-.5l1.3 .4l1.4 1.3l1.4-1l1.3-.7l1.4 2.2l1.4-1l1.3-.5l1.4 1l1.4-0l1.3 1.2l1.4-1.9l1.4 1.4l1.3-.8l1.4-.4l1.4 .2l1.4 .2l1.3 .3l1.4-.6l1.4 1l1.3 .1l1.4 1.2l1.4-2.2l1.3-.1l1.4-.1l1.4 1.4l1.3-.6l1.4 .4l1.4-1.2l1.3-.3l1.4 .2l1.4 .7l1.3 .6l1.4 .5l1.4-.4l1.3-2l1.4 1l1.4-.6l1.4 1.6l1.3-2.6l1.4 1.5l1.4-.1l1.3 2.9l1.4-1.5l1.4-2l1.3 1.8l1.4 1.6l1.4-2.8l1.3 1.9l1.4-.8l1.4-1.8l1.3 2.1l1.4-2.7l1.4 1.3l1.3-.3l1.4 2.8l1.4 .4l1.3-2.3l1.4 .1l1.4 .4l1.4 .2l1.3-.5l1.4 2.1l1.4-3.2l1.3 1.1l1.4-.4l1.4-.9l1.3 1.7l1.4-2.3l1.4 2l1.3-1.4l1.4 .4l1.4 1.4l1.3-1.5l1.4 2.1l1.4-2.6l1.3 2.7l1.4-2.4l1.4 .9l1.4 1l1.3 .7l1.4-1.8l1.4 1.5l1.3-.6l1.4 .5l1.4 .1l1.3-1.4l1.4 1.1l1.4 1.3l1.3-2.9l1.4-.2l1.4-.8l1.3 1.5l1.4-.8l1.4 2l1.3 .4l1.4-.5l1.4-1.3l1.3-.3l1.4 .4l1.4 .3l1.4 2.2l1.3-4.3l1.4 1.7l1.4 1.6l1.3-.4l1.4 .6l1.4-1.8l1.3-1.3l1.4 1.1l1.4-1.1l1.3 .4l1.4-1.7l1.4 1.8l1.3-.3l1.4-.6l1.4 2.3l1.3 .2l1.4-1.9l1.4-.6l1.3 .9l1.4-.5l1.4 .6l1.4 .3l1.3-.4l1.4-.5l1.4 1.3l1.3-0l1.4-.7l1.4 .2l1.3 1.5l1.4-.2l1.4 1.4l1.3-1.9l1.4 1.7l1.4 .6l1.3-.1l1.4-1.5l1.4-.9l1.3-.3l1.4-1.2l1.4 1.8l1.4-.5l1.3 2l1.4-2.9l1.4-.7l1.3 1.8l1.4-1.4l1.4-.9l1.3 3.3l1.4-.9l1.4 1.4l1.3-3.8l1.4 2.5l1.4-2l1.3 2.3l1.4-1.9l1.4 1.2l1.3-1.1l1.4 .2l1.4 2l1.3-2.1l1.4-.5l1.4-.4l1.4 1.4l1.3 1.8l1.4-.5l1.4 .2l1.3 .4l1.4-.3l1.4-1.6l1.3-.1l1.4 2.5l1.4-2.9l1.3 .7l1.4 .3l1.4-2l1.3 .5l1.4 1.8l1.4 .7l1.3 1.6l1.4-3.3l1.4-1.4l1.3 1.9l1.4 .7l1.4 1.1l1.4-2.4l1.3 .9l1.4 .1l1.4-.3l1.3-0l1.4 .1l1.4 1.7l1.3-1.8l1.4 1l1.4-2.9l1.3 1.6l1.4 1.3l1.4 .3l1.3-.5l1.4-7.1l1.4-27.1l1.3 26.5l1.4 6.6l1.4 1.5l1.4-1.6l1.3-7.1l1.4-23.6l1.4 22.3l1.3 9.3l1.4-2.3l1.4 1.5l1.3 .7l1.4-1.1l1.4 .7l1.3-.2l1.4-.1l1.4 2.2l1.3-2.3l1.4 .9l1.4-.9l1.3-.2l1.4 1.6l1.4 .5l1.3 1.1l1.4-1.5l1.4-1.2l1.4-.6l1.3-1.1l1.4 2.3l1.4-.4l1.3-1.5l1.4 2.5l1.4-3.7l1.3 2.5l1.4-.5l1.4 .1l1.3-1.3l1.4 2.3l1.4-2.5l1.3 .6l1.4 .5l1.4 1.9l1.3-.8l1.4-.5l1.4-.7l1.3-.8l1.4 1.5l1.4 1l1.4 .4l1.3 1.5l1.4-1.7l1.4-0l1.3 1.5l1.4-3l1.4 3.2l1.3-2.4l1.4 .6l1.4-.5l1.3 1.1l1.4-2.1l1.4 .7l1.3 1.8l1.4-2.2l1.4-.8l1.3 2.4l1.4-2.7l1.4 2.9l1.4 .3l1.3-.4l1.4 .1l1.4-1.7l1.3 .9l1.4-.2l1.4-0l1.3-.4l1.4-.9l1.4 2.2l1.3-1.3l1.4 1.2l1.4 .7l1.3-1.8l1.4 1l1.4-.7l1.3 1.6l1.4-2.5l1.4 .6l1.3 1l1.4 1.6l1.4-2.9l1.4 .2l1.3 2.2l1.4 .1l1.4 .3l1.3-1l1.4 .1l1.4-.4l1.3-2l1.4 1.7l1.4-2.2l1.3 .8l1.4-.4l1.4-.7l1.3 .4l1.4 .4l1.4-.1l1.3 .7l1.4-1.6l1.4 .4l1.3-0l1.4 2.7l1.4 .2l1.4-1.9l1.3 .1l1.4-.9l1.4 .7l1.3-0l1.4-.2l1.4 .3l1.3 .9l1.4-.1l1.4 1.9l1.3-.3l1.4-1.1l1.4 .1l1.3-1.7l1.4 .4l1.4 .3l1.3 1.7l1.4-1.4l1.4 1.3l1.4-1.6l1.3-1.7l1.4 .7l1.4 3.4l1.3-3.5l1.4-.4l1.4 .8l1.3-1.3l1.4 .3l1.4 .1l1.3 .1l1.4 2.5l1.4-1l1.3 .4l1.4 .7l1.4-2.9l1.3 .5l1.4 .4l1.4 .6l1.3 1.4l1.4-2.2l1.4 3.1l1.4-.6l1.3-.5l1.4-.1l1.4-1.1l1.3-2.9l1.4 4.5l1.4-1.1l1.3-.7l1.4 .2l1.4 .2l1.3-.8l1.4 1l1.4 .3l1.3 .5l1.4 .5l1.4-.5l1.3 .3l1.4 .6l1.4 .1l1.3-1.4l1.4 .8l1.4 .6l1.4-2.5l1.3 2.4l1.4-1.3l1.4 2.2l1.3-4.2l1.4 2.1l1.4 .9l1.3-1.9l1.4 1.8l1.4-.6l1.3-1.6l1.4 1.7l1.4-.6l1.3-.7l1.4 .6l1.4 .2l1.3-.1l1.4-1.2l1.4-.1l1.4-1l1.3 2l1.4-1.3l1.4 .3l1.3 .2l1.4 .1l1.4 .8l1.3-1.8l1.4 .3l1.4 .9l1.3-.7l1.4 1.8l1.4-.2l1.3 1.8l1.4-1l1.4-2.2l1.3 .5l1.4 .4l1.4-0l1.3-.2l1.4-1l1.4 2.3l1.4-3.1l1.3 1.5l1.4 .7l1.4-1.4l1.3-1.3l1.4 2.8l1.4-1.6l1.3-.8l1.4 .5l1.4 1.5l1.3-.6l1.4 1.2l1.4-1.7l1.3 2.4l1.4-.9l1.4 1.8l1.3-1.3l1.4-1.8l1.4-.7l1.3 4.5l1.4-4.3l1.4 1.5l1.4-.8l1.3 .1l1.4 2l1.4-1.6l1.3-.7l1.4-0l1.4 .6l1.3-1.2l1.4 .9l1.4-.1l1.3 1.6l1.4-3.4l1.4 3.9l1.3-.8l1.4 1.1l1.4-2.2l1.3-0l1.4 .6l1.4 1.1l1.4-1.5l1.3-.9l1.4 1l1.4-2.4l1.3 1.8l1.4-.7l1.4 2.2l1.3 0l1.4-3l1.4 2.5l1.3 .3l1.4-2.1l1.4 .3l1.3-.8l1.4 1.5l1.4-.8l1.3 2l1.4 1.9l1.4-3.2l1.3 3.1l1.4-2.2l1.4 .9l1.4-2.2l1.3-.2l1.4 1.9l1.4 1l1.3-1.8l1.4 .1l1.4 .9l1.3-2.3l1.4 .6l1.4 3.3l1.3-3.6l1.4 1.8l1.4-1.3l1.3 1.4l1.4-1.7l1.4 1.9l1.3-.3l1.4 .2l1.4-.1l1.3-1l1.4 1.1l1.4 .1l1.4 .7l1.3-2.4l1.4 1.2l1.4-.5l1.3-1.7l1.4 1.6l1.4 .3l1.3-1.1l1.4 3l1.4-.3l1.3-1.2l1.4 .3l1.4 .4l1.3 .8l1.4-1l1.4-.9l1.3-1.8l1.4 3.4l1.4-3.2l1.3 1.2l1.4 .1l1.4 1.7l1.4 .4l1.3-1l1.4-1.7l1.4 1l1.3 1.2l1.4-1.8l1.4 1.2l1.3-.5l1.4-1.1l1.4-.9l1.3 2.8l1.4-1.1l1.4-2.9l1.3 2.5l1.4-1l1.4 1.1l1.3 .4l1.4-2l1.4 .8l1.4 .2l1.3 .6l1.4-2l1.4 1.8l1.3-.4l1.4-.5l1.4 1.6l1.3 .5l1.4-.3l1.4-1.3l1.3 0l1.4 3.4l1.4-3.3l1.3 2.2l1.4-.9l1.4 .6l1.3-1.7l1.4 1.2l1.4 2.3l1.3-1.7l1.4-.5l1.4 .4l1.4-.8l1.3 .9l1.4-.9l1.4 1.4l1.3 .6l1.4-.4l1.4 .2l1.3-2.6l1.4 .8l1.4-.5l1.3-.1l1.4 .6l1.4 .3l1.3 .9l1.4-2.9l1.4 2.7l1.3-1.6l1.4-.5l1.4 2.2l1.3-2.4l1.4 1.7l1.4-1.2l1.4 1.2l1.3-0l1.4-.5l1.4-2.1l1.3 3l1.4 .8l1.4-1.1l1.3-1.6l1.4 3.2l1.4-.9l1.3-2.4l1.4 1.8l1.4-.1l1.3 .2l1.4-2.3l1.4 2.8l1.3-.8l1.4 2.1l1.4-1.6l1.4 1.4l1.3-1.8l1.4 .4l1.4-1.4l1.3 1.7l1.4-.6l1.4-1.1l1.3 .1l1.4 1l1.4-.6l1.3-.8l1.4 .2l1.4 1.7l1.3-2.3l1.4 .5l1.4 1.5l1.3-2.4l1.4-5.1l1.4 6.1l1.3-.1l1.4 2.3l1.4-.9l1.4-1.1l1.3-0l1.4 .3l1.4 .1l1.3 .9l1.4-.3l1.4-1.3l1.3 1.8l1.4 1.5l1.4-2.5l1.3-.5l1.4 2.4l1.4-0l1.3-.1l1.4-.3l1.4-.9l1.3-.8l1.4-1l1.4 .9l1.3 .6l1.4-.8l1.4-.2l1.4-.8l1.3-.6l1.4 1.2l1.4-.5l1.3 .6l1.4 2.1l1.4-1.9l1.3-.4l1.4 1.5l1.4-.1l1.3 .9l1.4-2.8l1.4-.8l1.3 2.6l1.4-.3l1.4-.4l1.3 1.7l1.4-1.8l1.4 1.4l1.4 1.2l1.3-1l1.4-2.4l1.4 2.6l1.3-.2l1.4-1.6l1.4 2.5l1.3-1.9l1.4 1.1l1.4-1.7l1.3 1l1.4-1.1l1.4 2.2l1.3-2.2l1.4-.1l1.4 1.5l1.3 1.4l1.4 .3l1.4-3.6l1.3 1l1.4 .3l1.4 1.4l1.4-1.4l1.3 1.9l1.4-1.5l1.4 1l1.3 .9l1.4-1.9l1.4 .6l1.3-2.2l1.4 .5l1.4 .9l1.3 .5l1.4-.3l1.4-1.2l1.3 2.8l1.4-2l1.4-.5l1.3-1.5l1.4 .7l1.4-.2l1.3 1.4l1.4-1l1.4 1.4l1.4-.5l1.3-.5l1.4 .9l1.4-.3l1.3-1.3l1.4-1.2l1.4 .7l1.3 2.3l1.4-2.3l1.4 .7l1.3 1.7l1.4-1.9l1.4 .7l1.3 .9l1.4-0l1.4-.8l1.3-.4l1.4 .3l1.4 1.9l1.4 1.1l1.3-1.7l1.4 1.7l1.4-0l1.3-2.2l1.4 .6l1.4-2.2l1.3 2.9l1.4-1.4l1.4-.6l1.3 2.4l1.4-1.6l1.4-1l1.3 3.1l1.4-.9l1.4-.4l1.3-1.1l1.4 .7l1.4-1.2l1.3-1.8l1.4 3.4l1.4 .3l1.4-1.2l1.3-2.5l1.4 1.2l1.4 1.2l1.3-.6l1.4 1.5l1.4-.5l1.3-2.2l1.4 1.5l1.4 .1l1.3 .6l1.4-1.1l1.4 1l1.3-1.6l1.4 .9l1.4 .5l1.3 .6l1.4 .6l1.4-1.5l1.3-.2l1.4-.4l1.4 1.1l1.4 .6l1.3-.8l1.4-1.9l1.4 1.1l1.3-.1l1.4 1.9l1.4-2.3l1.3-.1l1.4 .8l1.4-.6l1.3 1.2l1.4 .9l1.4-.8l1.3-.6l1.4 1.1l1.4-1.9l1.3 .1l1.4 .4l1.4-.9l1.4 .7l1.3-.3l1.4 2.1l1.4-.8l1.3-.6l1.4-.1l1.4 .7l1.3 .5l1.4-2.5l1.4 1.1l1.3-1.2l1.4 2.8l1.4-2.9l1.3 .8l1.4-.2l1.4 1.9l1.3-.1l1.4-.4l1.4 .6l1.3-.3l1.4-.2l1.4-2.5l1.4 1.5l1.3-1.6l1.4 3.9l1.4-1.1l1.3 1.1l1.4-2.4l1.4 2l1.3-2.6l1.4 .5l1.4-.8l1.3 2l1.4 2.3l1.4-0l1.3-2.1l1.4-.8l1.4 1.2l1.3-.7l1.4 1.8l1.4-1.7l1.3 .8l1.4-.6l1.4-2.6l1.4 1.8l1.3 1.1l1.4-1.5l1.4 .8l1.3-.4l1.4 .7l1.4-.2l1.3 1.7l1.4-1.1l1.4-0l1.3-1.7l1.4-.8l1.4 1l1.3-.2l1.4 .3l1.4 .9l1.3-1.8l1.4 .9l1.4-.1l1.3 1.5l1.4 1.8l1.4-1.7l1.4-1l1.3 1.9l1.4-.7l1.4 1.1l1.3-1.7l1.4 1.8l1.4-2.4l1.3 1.3l1.4 1.4l1.4-.1l1.3-1.4l1.4-2.7l1.4 1.9l1.3 .1l1.4-1l1.4 1.1l1.3-3.5l1.4 1.9l1.4-.6l1.4 .8l1.3 .5l1.4 1.6l1.4-2.6l1.3 2.9l1.4-1.1l1.4 .5l1.3-1.9l1.4 1.9l1.4 1.7l1.3-1.7l1.4-.4l1.4-2.5l1.3-.3l1.4 .3l1.4 1.2l1.3-.6l1.4 3l1.4-2l1.3-0l1.4-1.2l1.4 1.4l1.4-0l1.3-2l1.4 1.1l1.4-.7l1.3 .6l1.4 1.1l1.4 .2l1.3 .2l1.4 .1l1.4-2.2l1.3 2.9l1.4-.1l1.4-1.8l1.3 .9l1.4 .8l1.4-.4l1.3-1l1.4 1.6l1.4-2.9l1.3 3.4l1.4-1.9l1.4-.1l1.4 1l1.3-0l1.4-1.3l1.4 2.5l1.3-.7l1.4-.5l1.4 .6l1.3-.8l1.4-.3l1.4 .5l1.3-.9l1.4 .1l1.4 2.3l1.3-2.1l1.4 .2l1.4 .2l1.3 1.1l1.4-1.2l1.4-.5l1.4 1.8l1.3-2.7l1.4 .1l1.4 .5l1.3-1.6l1.4 2.4l1.4-1.8l1.3 .7l1.4 .4l1.4-1.6l1.3 2.3l1.4 2.3l1.4-2.3l1.3 1.5l1.4-2.1l1.4 .6l1.3-1.1l1.4 1.9l1.4 .7l1.3-1.2l1.4-2.5l1.4-.1l1.4-.9l1.3 1.5l1.4-1l1.4 .1l1.3 2.1l1.4 .4l1.4 .6l1.3-2.4l1.4 1.1l1.4-.8l1.3 .7l1.4 1.5l1.4 .6l1.3 .5l1.4-1.1l1.4-2.1l1.3-1.1l1.4 3.1l1.4-.1l1.3-0l1.4-.6l1.4 2.5l1.4-3.4l1.3-.6l1.4 1.5l1.4-.4l1.3 1l1.4 1.1l1.4-3.5l1.3 1.7l1.4 1.5l1.4-2.7l1.3 1l1.4 1.4l1.4-1.8l1.3 .1l1.4 2.8l1.4-1.1l1.3-0l1.4-.7l1.4-.6l1.4-0l1.3 2.7l1.4-1.9l1.4-.5l1.3 1.3l1.4-.6l1.4-2.1l1.3 3.1l1.4-1.4l1.4 1.6l1.3-.2l1.4 .7l1.4-2.1l1.3-2.5l1.4 1l1.4 2.7l1.3-2.6l1.4 2.2l1.4-.4l1.3 .7l1.4-.9l1.4 .5l1.4-.7l1.3 1.1l1.4 .3l1.4 .3l1.3-2l1.4 1.2l1.4 1.2l1.3-1.7l1.4-1.2l1.4 1.2l1.3-.2l1.4-1.2l1.4 .2l1.3 .6l1.4-.6l1.4 1l1.3-.1l1.4-.8l1.4-.7l1.3-1.6l1.4 2.8l1.4 .1l1.4-1.7l1.3 2.9l1.4-.2l1.4-1.7l1.3 1.7l1.4-3.8l1.4 2.7l1.3-.5l1.4-.5" fill="none" stroke="#0070C0" stroke-width="4.4" stroke-linejoin="round" stroke-linecap="round"/>
<path d="M499.3 1353.5l1.4 .1l1.3 .1l1.4-.5l1.4 .1l1.3-.7l1.4 .8l1.4-.3l1.3 .1l1.4 .5l1.4-.3l1.3 .1l1.4 .4l1.4-1l1.3-.4l1.4 1.1l1.4 .4l1.3-.6l1.4 .8l1.4-1.3l1.3 .3l1.4 .4l1.4 .7l1.4-.6l1.3-.2l1.4-.6l1.4 .3l1.3-.1l1.4 .2l1.4 .5l1.3-.6l1.4 .8l1.4-.2l1.3-.2l1.4-.2l1.4-.6l1.3-.1l1.4 .9l1.4-.5l1.3 .2l1.4 .1l1.4-.3l1.3-0l1.4 .6l1.4-.1l1.4-.2l1.3 .3l1.4 .6l1.4-1l1.3-.3l1.4 .6l1.4 0l1.3-.1l1.4-.5l1.4 .4l1.3-.1l1.4 .2l1.4-.2l1.3-0l1.4-0l1.4 .3l1.3 .1l1.4-.2l1.4-.2l1.4 .1l1.3-.1l1.4 .3l1.4-.1l1.3 .2l1.4-.2l1.4 .7l1.3-.9l1.4-.6l1.4 0l1.3 .9l1.4 .4l1.4-.5l1.3 .6l1.4-.4l1.4 0l1.3-.4l1.4 .1l1.4-.6l1.3 .4l1.4 .7l1.4-.7l1.4 .6l1.3-.4l1.4 .1l1.4 .2l1.3-.6l1.4 .2l1.4-.1l1.3 .5l1.4-.2l1.4-.1l1.3-.2l1.4 .2l1.4-.3l1.3 .2l1.4-.3l1.4-.1l1.3 .6l1.4-.4l1.4 .3l1.3 .2l1.4-.2l1.4-.2l1.4 .4l1.3-0l1.4 .1l1.4-.2l1.3-.4l1.4 .1l1.4 .7l1.3-.2l1.4-.1l1.4-.3l1.3 .2l1.4-.2l1.4-.3l1.3 .5l1.4-.4l1.4-.1l1.3 .2l1.4 .5l1.4-.5l1.4 .3l1.3 0l1.4-.5l1.4 .5l1.3-.4l1.4 .4l1.4-.1l1.3-.1l1.4-.5l1.4 .3l1.3 .4l1.4-0l1.4-.3l1.3-.2l1.4 .6l1.4-.2l1.3 .2l1.4-0l1.4-.5l1.3 .2l1.4-0l1.4 .3l1.4-.5l1.3 .7l1.4-.9l1.4 .7l1.3-.5l1.4 .9l1.4-.4l1.3-.5l1.4 .4l1.4-.1l1.3-.3l1.4-.2l1.4 .8l1.3 .2l1.4-.7l1.4 .3l1.3-.7l1.4 .5l1.4 .3l1.3-.4l1.4 .5l1.4-.4l1.4 .4l1.3-1.4l1.4 1.3l1.4 .1l1.3-.6l1.4 .1l1.4-.3l1.3 .8l1.4-.5l1.4 .5l1.3-.3l1.4 .3l1.4 .1l1.3 .3l1.4-.7l1.4 .1l1.3 0l1.4 0l1.4 .2l1.3 .2l1.4-.5l1.4 .1l1.4-.5l1.3 .5l1.4-.2l1.4 .2l1.3-.1l1.4-.5l1.4 .3l1.3 .2l1.4-.3l1.4-.1l1.3 .6l1.4 .1l1.4-.2l1.3-.3l1.4 .2l1.4 .5l1.3-.7l1.4-.2l1.4 .5l1.4-.1l1.3-.5l1.4 1.2l1.4-.7l1.3-.1l1.4-.1l1.4-.2l1.3 .9l1.4-1l1.4 .4l1.3 .8l1.4-1.1l1.4 .7l1.3-.5l1.4-.7l1.4 1.1l1.3-.3l1.4 .3l1.4-.8l1.3 .1l1.4 0l1.4 .3l1.4 .4l1.3 0l1.4-.2l1.4 .4l1.3-.3l1.4 0l1.4-.6l1.3 .1l1.4 .3l1.4 .2l1.3-.1l1.4-.1l1.4-0l1.3-.2l1.4 .2l1.4 .1l1.3 .2l1.4-.1l1.4-.2l1.3 .1l1.4 .2l1.4 .4l1.4-.5l1.3-.3l1.4 .4l1.4 .1l1.3-.8l1.4 .2l1.4-.1l1.3 .5l1.4 .4l1.4-.5l1.3-.9l1.4 1.3l1.4-.3l1.3-.3l1.4-.1l1.4 .1l1.3 .1l1.4-0l1.4 .4l1.4-.4l1.3-.4l1.4 .6l1.4-.3l1.3-0l1.4 .2l1.4 .3l1.3-.2l1.4 .1l1.4-.2l1.3 .2l1.4-.2l1.4-.6l1.3 .8l1.4-.1l1.4-.1l1.3-0l1.4 .6l1.4-1l1.3 .2l1.4 .1l1.4-.2l1.4 .2l1.3 .3l1.4-.4l1.4-.2l1.3 .3l1.4-.1l1.4 .8l1.3-.4l1.4-.5l1.4 1.3l1.3-.8l1.4 0l1.4-.3l1.3 .1l1.4-.5l1.4 .1l1.3 .4l1.4-.6l1.4 .2l1.3 .3l1.4-.8l1.4 .4l1.4 .3l1.3-.3l1.4-.1l1.4 .6l1.3-.6l1.4 .4l1.4-.2l1.3 .4l1.4 .5l1.4-.2l1.3-.2l1.4-.5l1.4 .8l1.3-.5l1.4 .2l1.4-.6l1.3-.3l1.4 .3l1.4-.4l1.4 .7l1.3 .1l1.4 .1l1.4-.6l1.3 .6l1.4 0l1.4-.6l1.3 1.1l1.4-.6l1.4-.3l1.3 .6l1.4-.2l1.4 .5l1.3-.5l1.4-.6l1.4 .3l1.3 1.1l1.4-.5l1.4-.3l1.3 .9l1.4-.3l1.4 .1l1.4-0l1.3-.1l1.4-.6l1.4-.2l1.3 .6l1.4-.9l1.4 .6l1.3-1l1.4 1l1.4-.2l1.3 .8l1.4-.9l1.4 .7l1.3-.6l1.4 .5l1.4-.3l1.3-.2l1.4-.3l1.4 .4l1.3-.1l1.4-.2l1.4 .6l1.4-.3l1.3-.5l1.4 0l1.4 .2l1.3 .2l1.4 .1l1.4-.3l1.3 .2l1.4-.2l1.4-.1l1.3-.2l1.4 .5l1.4-.3l1.3 .7l1.4-.6l1.4 .5l1.3-.6l1.4 .5l1.4-.1l1.4-0l1.3-.6l1.4 .5l1.4-.2l1.3 .1l1.4-0l1.4 .2l1.3 .3l1.4-.2l1.4 .2l1.3-.2l1.4 .2l1.4 .1l1.3-.4l1.4 .6l1.4-.8l1.3 .1l1.4 .2l1.4-.2l1.3 .1l1.4-.1l1.4-0l1.4-.3l1.3-0l1.4-0l1.4 .4l1.3-.2l1.4 .2l1.4 .1l1.3-.6l1.4 .1l1.4 .3l1.3-.4l1.4 .4l1.4-.3l1.3 .4l1.4 .3l1.4-.1l1.3-.6l1.4 .3l1.4 .6l1.3-.8l1.4-.1l1.4 .2l1.4-.3l1.3 .3l1.4 .9l1.4-.6l1.3-.4l1.4 .5l1.4-.9l1.3-.1l1.4 1l1.4-.6l1.3-.1l1.4 .2l1.4 .7l1.3-.6l1.4 .5l1.4-0l1.3-.3l1.4 .3l1.4-.2l1.4-.5l1.3 .1l1.4 .2l1.4-0l1.3-0l1.4-.3l1.4 .3l1.3 .5l1.4-.6l1.4-.3l1.3 .4l1.4-.2l1.4 1.4l1.3-.9l1.4 .1l1.4 .2l1.3-.2l1.4 .6l1.4-1l1.3-.1l1.4-0l1.4 .2l1.4-.4l1.3-0l1.4 .6l1.4-.5l1.3-.1l1.4 .2l1.4 .3l1.3-.5l1.4-.3l1.4 1.2l1.3-.6l1.4 .4l1.4-.4l1.3 .2l1.4-.2l1.4 .2l1.3-.1l1.4-.7l1.4 .3l1.3 .2l1.4-0l1.4-.3l1.4 .5l1.3 .5l1.4-.3l1.4 .3l1.3-.3l1.4-.3l1.4 .3l1.3 .1l1.4-.8l1.4 1l1.3-.6l1.4 .1l1.4 .4l1.3-.4l1.4-.4l1.4 .6l1.3-.6l1.4 .8l1.4-.6l1.4 1.1l1.3-.6l1.4-.2l1.4-.3l1.3 .4l1.4 .2l1.4-0l1.3-.6l1.4 .2l1.4 .3l1.3-1.1l1.4 .1l1.4 .1l1.3 .1l1.4 .6l1.4-.1l1.3-.4l1.4-0l1.4 .2l1.3-.4l1.4 .5l1.4 .1l1.4-.5l1.3 .7l1.4-.3l1.4-.1l1.3-.3l1.4 1.1l1.4-.1l1.3 .1l1.4 .1l1.4-.9l1.3 .3l1.4 .1l1.4-.2l1.3-.2l1.4-0l1.4-0l1.3 .1l1.4 .2l1.4-.3l1.3 .6l1.4-.9l1.4 .8l1.4-.5l1.3 .7l1.4 .1l1.4-1.1l1.3 .3l1.4 .4l1.4-0l1.3 .4l1.4-.5l1.4-.2l1.3 .5l1.4 .2l1.4-.6l1.3-.2l1.4-0l1.4 .6l1.3-.4l1.4-.5l1.4 .2l1.4-0l1.3 .4l1.4-.3l1.4 .4l1.3 .3l1.4-.2l1.4-.3l1.3 .3l1.4-.6l1.4 .6l1.3 .4l1.4-.5l1.4-.3l1.3 .3l1.4 .6l1.4-1.4l1.3 .5l1.4 .2l1.4 .3l1.3-.8l1.4 .4l1.4 .6l1.4-.7l1.3-0l1.4 .2l1.4 .4l1.3-.5l1.4 .1l1.4-0l1.3 .3l1.4-.1l1.4-0l1.3-.1l1.4-0l1.4-.1l1.3-.1l1.4-.4l1.4 .5l1.3-0l1.4 .1l1.4 .2l1.3-.7l1.4 .5l1.4 .2l1.4-.4l1.3 .2l1.4-.4l1.4 .1l1.3-.5l1.4 .8l1.4 .2l1.3-1.2l1.4 .6l1.4 .7l1.3-.3l1.4-.1l1.4 .1l1.3-0l1.4-.2l1.4-.2l1.3-.2l1.4 .4l1.4 .1l1.3-.3l1.4 .6l1.4-.4l1.4 .1l1.3 .1l1.4-.8l1.4 .5l1.3 .6l1.4-.1l1.4-.2l1.3 .1l1.4-.3l1.4 .2l1.3-.1l1.4-.1l1.4 .5l1.3-.8l1.4 .3l1.4 .1l1.3-.2l1.4 .3l1.4-.3l1.4 .9l1.3-.7l1.4-.3l1.4 .4l1.3-.4l1.4-.3l1.4 .5l1.3-.3l1.4 .5l1.4-.1l1.3-0l1.4-0l1.4 .5l1.3-.8l1.4 .2l1.4 .1l1.3 .5l1.4-.6l1.4 .3l1.3-.3l1.4 .5l1.4-.6l1.4 .3l1.3 .3l1.4-.6l1.4 .9l1.3-.8l1.4 .3l1.4 .5l1.3-.1l1.4-.2l1.4-.2l1.3-0l1.4-.8l1.4 .4l1.3 .4l1.4-.6l1.4 .1l1.3 .5l1.4-.1l1.4-.1l1.3-.5l1.4-.2l1.4 .7l1.4 .2l1.3-.3l1.4-.1l1.4-.1l1.3 .7l1.4-1l1.4 .7l1.3-.3l1.4 .1l1.4-.1l1.3 .2l1.4-.2l1.4 .4l1.3-.3l1.4 .7l1.4-1.4l1.3 .5l1.4 .2l1.4-.2l1.4-0l1.3 .4l1.4-1.1l1.4 1.1l1.3-.2l1.4 .3l1.4 .2l1.3-.3l1.4 .1l1.4-.9l1.3 .5l1.4-0l1.4 .1l1.3-.4l1.4 .6l1.4-.5l1.3 .2l1.4-.2l1.4 .9l1.3-.7l1.4-0l1.4 .3l1.4-.6l1.3 .4l1.4-.4l1.4 .1l1.3-.4l1.4 .7l1.4-.1l1.3-.3l1.4 .1l1.4-.1l1.3 .6l1.4-0l1.4-.5l1.3 .9l1.4-.3l1.4-.4l1.3 .1l1.4 .1l1.4-.3l1.3-.1l1.4 .4l1.4 .1l1.4-.1l1.3-.2l1.4 1l1.4-1.2l1.3 .5l1.4-.6l1.4 .8l1.3-.6l1.4-.1l1.4-.3l1.3 .3l1.4-.1l1.4 .6l1.3 .3l1.4-.4l1.4 .4l1.3-.3l1.4-.1l1.4-.6l1.4 .8l1.3-.4l1.4-.2l1.4-.3l1.3 .6l1.4 .5l1.4-.2l1.3-.5l1.4 .1l1.4 .9l1.3-.7l1.4-0l1.4 .2l1.3-0l1.4-.2l1.4 .3l1.3-.6l1.4-0l1.4 .3l1.3 .1l1.4-.3l1.4 .3l1.4-.5l1.3-.4l1.4 .9l1.4-.2l1.3-.6l1.4 .8l1.4 .1l1.3-.5l1.4-.1l1.4-.3l1.3 .5l1.4 .1l1.4-.2l1.3 .2l1.4-.2l1.4 .4l1.3-.5l1.4 .3l1.4-0l1.3-.4l1.4 .5l1.4-.3l1.4 .6l1.3 .1l1.4-1.1l1.4 .9l1.3-.2l1.4-.1l1.4-.2l1.3-.3l1.4 .3l1.4 .3l1.3-.7l1.4 1.1l1.4-.3l1.3-.7l1.4-.1l1.4 1l1.3-.3l1.4-0l1.4-.4l1.4 .6l1.3-.8l1.4 .3l1.4-0l1.3 .3l1.4-.3l1.4-.2l1.3 .9l1.4-0l1.4-.3l1.3-1.1l1.4 .8l1.4 .2l1.3-.1l1.4-0l1.4-.3l1.3-.5l1.4 .9l1.4-.7l1.3 .8l1.4-.3l1.4 .1l1.4 .3l1.3-.5l1.4 .5l1.4-.4l1.3 .7l1.4-.7l1.4 .3l1.3-.1l1.4 .2l1.4-1l1.3 1l1.4-0l1.4 .3l1.3-.2l1.4-.8l1.4 .3l1.3 .3l1.4-.2l1.4-.7l1.3 .3l1.4-.1l1.4-.2l1.4 .4l1.3 .3l1.4-0l1.4-.4l1.3 .3l1.4-.1l1.4 .2l1.3-.3l1.4-.2l1.4 .6l1.3-.5l1.4-.1l1.4-.2l1.3 .8l1.4 .4l1.4-.5l1.3-.5l1.4 .5l1.4-.9l1.4 1l1.3-.6l1.4 .5l1.4 .1l1.3-.8l1.4 1l1.4-.1l1.3-.4l1.4 .2l1.4 .1l1.3-0l1.4 .3l1.4-.6l1.3 .6l1.4-.6l1.4 .8l1.3-.5l1.4 .9l1.4-.8l1.3 .3l1.4-.7l1.4 .1l1.4 .4l1.3-.2l1.4-.1l1.4-.4l1.3 .5l1.4-0l1.4-.1l1.3 .6l1.4-.3l1.4-.3l1.3-.2l1.4-0l1.4 .1l1.3 .2l1.4-.4l1.4 .3l1.3 .1l1.4-.1l1.4-.1l1.3-.1l1.4 .1l1.4 .6l1.4-.7l1.3 .3l1.4-.1l1.4 .1l1.3-.3l1.4 .5l1.4-.8l1.3 .6l1.4-.6l1.4 .8l1.3-.7l1.4 .6l1.4 .2l1.3-.3l1.4-.1l1.4 .3l1.3-.3l1.4-.2l1.4 .5l1.3-.6l1.4 .8l1.4-.2l1.4-.5l1.3 .2l1.4-.1l1.4-0l1.3-.4l1.4-0l1.4 .4l1.3 .5l1.4-.4l1.4-0l1.3-0l1.4-.1l1.4 .1l1.3-.1l1.4-.6l1.4 .6l1.3-.2l1.4 .3l1.4 .2l1.4-.8l1.3 .2l1.4-.5l1.4 1l1.3-.8l1.4 .5l1.4 .1l1.3-.1l1.4 .3l1.4-0l1.3 .5l1.4-.6l1.4 .3l1.3-.4l1.4 .2l1.4-.4l1.3 .7l1.4-.5l1.4 .3l1.3-.5l1.4 .7l1.4-.1l1.4-.1l1.3-0l1.4 .4l1.4-.8l1.3-.4l1.4 .7l1.4-.2l1.3 .3l1.4 .1l1.4-.3l1.3-0l1.4 .2l1.4-.3l1.3 .1l1.4-.5l1.4 .1l1.3 .1l1.4-.2l1.4 1l1.3 .1l1.4-.2l1.4 .3l1.4-.7l1.3-0l1.4 .7l1.4-1.2l1.3 .3l1.4 .2l1.4-.5l1.3 .1l1.4 .2l1.4 .1l1.3 .5l1.4-1.3l1.4 .6l1.3 .2l1.4 .3l1.4-.1l1.3 .3l1.4-.1l1.4-.2l1.4-.1l1.3-.1l1.4-0l1.4-0l1.3-.2l1.4-.2l1.4 .1l1.3 .1l1.4 .6l1.4-.5l1.3 .2l1.4 .2l1.4 .2l1.3 .2l1.4-.7l1.4 .3l1.3-.3l1.4-.6l1.4 .1l1.3 .8l1.4-.5l1.4-.1l1.4 .3l1.3-.4l1.4 .8l1.4-1l1.3-.5l1.4 .9l1.4-.1l1.3 .6l1.4-.7l1.4 .1l1.3-0l1.4 .5l1.4-0l1.3 .3l1.4 .3l1.4-.7l1.3 .6l1.4-.7l1.4 0l1.3 .3l1.4 .1l1.4-.4l1.4-.3l1.3 .5l1.4 0l1.4-.3l1.3 0l1.4 .3l1.4 .1l1.3-.5l1.4 .8l1.4-.6l1.3 .3l1.4 0l1.4 0l1.3-.8l1.4 .2l1.4 .3l1.3-.6l1.4 .2l1.4 .3l1.4-.2l1.3 .6l1.4 .3l1.4-.5l1.3-.3l1.4 .2l1.4 0l1.3 .3l1.4-.3l1.4 .1l1.3-.1l1.4-.2l1.4 0l1.3 .8l1.4-1l1.4 .4l1.3 .5l1.4-.8l1.4 .9l1.3-.1l1.4 .1l1.4-.5l1.4 .5l1.3-.6l1.4 .5l1.4-.2l1.3-.6l1.4 .3l1.4-.2l1.3 .2l1.4 .2l1.4 .1l1.3 .1l1.4-.5l1.4 .7l1.3-.6l1.4 .5l1.4-.3l1.3 .2l1.4 0l1.4 0l1.3-.8l1.4 .9l1.4-.7l1.4 .2l1.3 .3l1.4-.1l1.4-.5l1.3 .3l1.4 .3l1.4-.1l1.3 .2l1.4-.2" fill="none" stroke="#FF0000" stroke-width="4.4" stroke-linejoin="round" stroke-linecap="round"/>
<path d="M499.3 1426.8l1.4-.9l1.3 1.8l1.4-1.2l1.4-1.3l1.3-.1l1.4 1.6l1.4 1.4l1.3-1.4l1.4 3.2l1.4-3.4l1.3-.8l1.4 1.3l1.4 .9l1.3 1.9l1.4-1.6l1.4-.7l1.3-.1l1.4-5.9l1.4 3.9l1.3-.6l1.4-4.2l1.4 2.7l1.4-2.3l1.3 5.8l1.4 .6l1.4-1.7l1.3-1.7l1.4 1.9l1.4 .1l1.3-.3l1.4-1.1l1.4 2.5l1.3-1.8l1.4-.6l1.4 2.2l1.3 2.8l1.4-3.7l1.4 .1l1.3 .3l1.4 .4l1.4-.1l1.3-2.7l1.4 .8l1.4 .2l1.4 .4l1.3 1l1.4 2.6l1.4-4.5l1.3 5.8l1.4-1.8l1.4-1.7l1.3-3.1l1.4 2.9l1.4 2.8l1.3-5.3l1.4 .3l1.4 3l1.3 .3l1.4 1.2l1.4-2.6l1.3-2.3l1.4 4.1l1.4 2.3l1.4-4l1.3 1.9l1.4 1l1.4-.5l1.3-1.8l1.4-1.2l1.4 2.4l1.3 3.3l1.4-3.4l1.4 .7l1.3 2.6l1.4 .1l1.4-3.3l1.3 .2l1.4-1.1l1.4-.3l1.3 4.5l1.4-1.8l1.4-5l1.3 1.4l1.4-.8l1.4 .2l1.4 .3l1.3 .7l1.4-1.9l1.4 .9l1.3 1.5l1.4-.4l1.4-1.9l1.3-7l1.4 6.9l1.4-1.1l1.3 1.1l1.4 2.3l1.4-1.4l1.3-.4l1.4 .6l1.4 .7l1.3 .8l1.4 .9l1.4-.5l1.3-.4l1.4-3.5l1.4-0l1.4 3.1l1.3-.4l1.4 2.5l1.4-3.3l1.3 .2l1.4 2.6l1.4-2l1.3-.1l1.4 .8l1.4 1.5l1.3-1.5l1.4 1.7l1.4-1.1l1.3-4.9l1.4 4.2l1.4-2l1.3 .6l1.4-.6l1.4-1.3l1.4 5.1l1.3 .3l1.4-4.4l1.4 3.5l1.3-1.2l1.4 .2l1.4-2l1.3 .7l1.4 .9l1.4 4.7l1.3-1l1.4 1l1.4-3.7l1.3-.3l1.4-1l1.4-2.5l1.3 2l1.4-2l1.4-1.2l1.3 3.3l1.4 1.5l1.4-.2l1.4-.2l1.3-.1l1.4-.3l1.4-.3l1.3-2.3l1.4-2.6l1.4 3.6l1.3-2.1l1.4 1.6l1.4 2.4l1.3-2.9l1.4 1.6l1.4 .8l1.3-3.2l1.4 3.3l1.4 .7l1.3-2l1.4 1.1l1.4 .1l1.3-3.3l1.4-24.8l1.4 22.2l1.4 7.1l1.3-1.6l1.4-.4l1.4 .6l1.3-.6l1.4 2.2l1.4-1.3l1.3 2.2l1.4-5.9l1.4 5.2l1.3-.5l1.4-1.4l1.4 2.2l1.3-.2l1.4 1.9l1.4 1.3l1.3-4l1.4-1.6l1.4 3.4l1.3-2.4l1.4 .1l1.4-.7l1.4 1l1.3-.4l1.4-.8l1.4-1.1l1.3 .4l1.4 3.6l1.4-3.3l1.3 3l1.4-3.8l1.4 2.9l1.3-3.7l1.4 1.3l1.4-.4l1.3 .6l1.4 1.5l1.4-2.6l1.3 2.1l1.4-2.2l1.4 2.1l1.4-1.9l1.3 .2l1.4 1.1l1.4-2.6l1.3 3l1.4-.5l1.4-2.4l1.3 1.8l1.4 .2l1.4 1.6l1.3 1.1l1.4-.2l1.4-2.8l1.3 .6l1.4-1.8l1.4-.3l1.3 3.8l1.4 .1l1.4-3.6l1.3 4.5l1.4-.1l1.4-2.2l1.4 1l1.3 .1l1.4-1.1l1.4 2.6l1.3-4.4l1.4 4.2l1.4-1.3l1.3-4.5l1.4 3l1.4 .6l1.3-1.2l1.4-3.5l1.4 1.8l1.3 5.9l1.4-.3l1.4-1.8l1.3-.8l1.4-.5l1.4-3l1.3 4.6l1.4-2.3l1.4-1.5l1.4 4.1l1.3-1.8l1.4 2.1l1.4-1.4l1.3-1.5l1.4 .6l1.4 1.1l1.3-3.4l1.4 5.1l1.4 .8l1.3-1.2l1.4 1.6l1.4 0l1.3-.6l1.4-1.8l1.4-1.8l1.3-1.5l1.4 1.7l1.4-1.1l1.4-.8l1.3 1.9l1.4 2.1l1.4-.6l1.3 1.6l1.4-3.4l1.4-2.6l1.3 1.9l1.4 1.8l1.4-1.5l1.3 3.1l1.4-.5l1.4 2.2l1.3-1l1.4-.5l1.4-.4l1.3 1.1l1.4-1.4l1.4-2.4l1.3-.1l1.4 2.6l1.4-3.7l1.4 .2l1.3 1.9l1.4-1.9l1.4 3.5l1.3 .4l1.4-5.6l1.4 6.3l1.3-3.1l1.4-.5l1.4 .9l1.3 .9l1.4 3l1.4-2.9l1.3-.6l1.4-.1l1.4 2l1.3-1l1.4 3.1l1.4-3l1.3-.3l1.4 1.3l1.4-3.4l1.4-.4l1.3 4.5l1.4 .2l1.4 1.3l1.3-2.6l1.4-1.9l1.4 2.9l1.3-3.1l1.4-1.1l1.4-5l1.3 5.8l1.4 2.9l1.4-2.4l1.3 2.1l1.4-12.4l1.4-23.7l1.3 20.7l1.4-.8l1.4-53l1.4 3.9l1.3 63.6l1.4 .3l1.4-3.2l1.3-10.7l1.4 11.7l1.4 3l1.3 0l1.4-3.1l1.4 1.6l1.3 1.3l1.4-.1l1.4-5.5l1.3 5.5l1.4-.6l1.4 3.2l1.3-1.8l1.4-.6l1.4 .7l1.3 .7l1.4-2l1.4 1.6l1.4-3.2l1.3 1.4l1.4 2l1.4-1.1l1.3-.2l1.4-3.5l1.4 3l1.3-1l1.4 1.7l1.4-2.2l1.3-.2l1.4 .5l1.4 3.6l1.3-1.1l1.4-.4l1.4 .6l1.3-.6l1.4 1.2l1.4-5.8l1.3 4.7l1.4 0l1.4-.6l1.4-1.9l1.3 4.6l1.4 .4l1.4-8.3l1.3-9.2l1.4 9.5l1.4 3.8l1.3 2.7l1.4-3l1.4 1.5l1.3-3l1.4 2.4l1.4-2.6l1.3 5.1l1.4-5.3l1.4 5.3l1.3-5l1.4 1.6l1.4 1.5l1.4-1.2l1.3 0l1.4-1.3l1.4 2.5l1.3-2.2l1.4 0l1.4-.4l1.3 4.5l1.4-2.3l1.4 1.5l1.3 .5l1.4-.3l1.4-3l1.3 .2l1.4-.5l1.4 1.6l1.3-1.4l1.4-.2l1.4 1.7l1.3-2.9l1.4 3.9l1.4-4.2l1.4 3.2l1.3-2.2l1.4-.4l1.4 3.1l1.3-.5l1.4 .1l1.4 .9l1.3 1l1.4-.2l1.4-4.1l1.3 .2l1.4-2.8l1.4 2l1.3 4l1.4-4.1l1.4 4.2l1.3-4.3l1.4 5l1.4-4l1.3 2.7l1.4-1l1.4 1.7l1.4-1.7l1.3-3.1l1.4 5.2l1.4-.6l1.3-3.2l1.4 3.5l1.4 .7l1.3-1.8l1.4 1.7l1.4-1.6l1.3-1.4l1.4 2.5l1.4-4.6l1.3 3.4l1.4-4.1l1.4 3l1.3-.4l1.4 .9l1.4 1l1.4 .1l1.3-1.8l1.4-.7l1.4 .1l1.3 1.6l1.4-2.2l1.4 4.8l1.3 0l1.4 1.6l1.4-4.6l1.3 1.1l1.4 3.2l1.4-1.7l1.3-1.9l1.4 .9l1.4 2.9l1.3-3.6l1.4 .9l1.4 .6l1.3-.3l1.4-4.4l1.4 1.3l1.4 1.6l1.3 .6l1.4-1.7l1.4-2.5l1.3 4.1l1.4-.1l1.4-1l1.3 .8l1.4-.7l1.4-1.1l1.3-4.2l1.4 3.9l1.4-1.4l1.3 .8l1.4-1l1.4 2.8l1.3 1.4l1.4-1.9l1.4-1.1l1.3 1.4l1.4 .3l1.4 .6l1.4-.9l1.3 .9l1.4-.9l1.4 1.3l1.3-3.4l1.4-3.1l1.4 2.3l1.3 1.9l1.4-4.8l1.4 4.9l1.3 2.3l1.4-3.8l1.4-.4l1.3 2.7l1.4 .2l1.4-.6l1.3 1.4l1.4-4.6l1.4 1.1l1.4 1l1.3-2.8l1.4 .4l1.4 4.2l1.3-.4l1.4-1.4l1.4 1.8l1.3-1.4l1.4 5.4l1.4-2l1.3-2.2l1.4-2.2l1.4 3.8l1.3 1.7l1.4-1.8l1.4 2.3l1.3-2.3l1.4-1.5l1.4-1l1.3 3.1l1.4-2.2l1.4-2.1l1.4 2.9l1.3-2.5l1.4 .4l1.4 0l1.3-1.1l1.4 5.3l1.4-2.3l1.3-.1l1.4 .1l1.4-3l1.3 1.5l1.4 3.2l1.4-2.3l1.3 .8l1.4 2.3l1.4-1.7l1.3-.5l1.4-2.5l1.4 2.1l1.3 1.5l1.4 2.2l1.4-.6l1.4-.1l1.3-2.1l1.4-2.8l1.4 .8l1.3 0l1.4 .7l1.4 4.7l1.3-4.1l1.4-.1l1.4 1.8l1.3 0l1.4-4.8l1.4 3.2l1.3-2.8l1.4 0l1.4 2.5l1.3-.4l1.4-1.6l1.4 2.8l1.4-3.2l1.3 2.8l1.4 1.5l1.4-1.3l1.3 3.5l1.4-5l1.4 2.5l1.3-.5l1.4-1.7l1.4 2.1l1.3-2.1l1.4 3.3l1.4-.6l1.3-1.7l1.4 .1l1.4-3l1.3-1.7l1.4 3.9l1.4 .8l1.3-1.3l1.4 1.3l1.4-.3l1.4-.8l1.3 1.5l1.4-.6l1.4-2.4l1.3-1.4l1.4 1.2l1.4-1.7l1.3 4.1l1.4 .4l1.4-3.5l1.3 1.8l1.4 .7l1.4 3l1.3-2.9l1.4 2.1l1.4 1.1l1.3-.8l1.4-1.7l1.4 1.7l1.3 .9l1.4-3l1.4-.1l1.4 2.1l1.3-4.4l1.4-1.4l1.4 3.3l1.3-1.4l1.4 1l1.4-.5l1.3 2.3l1.4-.8l1.4-1.9l1.3-.6l1.4 3.1l1.4 2.2l1.3-4.1l1.4 2.8l1.4-4.7l1.3 2.1l1.4 1.1l1.4-2.2l1.3 2l1.4 .4l1.4 .9l1.4-1l1.3 2.7l1.4-6.1l1.4 1.7l1.3-1.6l1.4 .3l1.4 1.8l1.3-1.8l1.4 1.6l1.4 3.6l1.3-3.3l1.4 1.3l1.4 1.6l1.3-1.7l1.4-1.9l1.4 1.8l1.3-1.3l1.4 1.9l1.4-2l1.4 4.1l1.3-1.7l1.4-.7l1.4 4.1l1.3-7.3l1.4 .5l1.4 .9l1.3 2.3l1.4 0l1.4-.1l1.3-1.1l1.4-.1l1.4 1.3l1.3 1.7l1.4-2.2l1.4 .1l1.3 1.8l1.4-1.2l1.4 1.9l1.3-4l1.4 2l1.4 .6l1.4-4.7l1.3 3.4l1.4-1.2l1.4 .7l1.3-1.5l1.4-2.8l1.4-.5l1.3 3.4l1.4 .1l1.4 1.1l1.3-4l1.4 .7l1.4 3.6l1.3-2.9l1.4 .7l1.4 1.3l1.3 .5l1.4 1l1.4-1.9l1.3 .3l1.4-.9l1.4-.1l1.4 2.8l1.3 .9l1.4-4.7l1.4 1.9l1.3-1.3l1.4 2.7l1.4-2.8l1.3 0l1.4-.7l1.4 2.1l1.3-.4l1.4 3.1l1.4-4.3l1.3 1.2l1.4 .7l1.4 .9l1.3 3.7l1.4-6l1.4 1l1.4 2.9l1.3-.1l1.4-2.1l1.4-.2l1.3 1l1.4 1.1l1.4-1.3l1.3 1.3l1.4-2.8l1.4 .2l1.3-1.1l1.4 3.7l1.4 1.6l1.3-4l1.4 3.3l1.4-2.2l1.3-.3l1.4 1.9l1.4 0l1.3-5l1.4 3.8l1.4 3.2l1.4-.4l1.3 .7l1.4-.5l1.4 .5l1.3-3.7l1.4 1.7l1.4-3.8l1.3 6.4l1.4-3.6l1.4 .6l1.3-3.6l1.4 1.9l1.4-.8l1.3-2l1.4 2.8l1.4-2.6l1.3-.9l1.4 3.6l1.4-.6l1.3 1.7l1.4-1.5l1.4 1.5l1.4-2.7l1.3 .9l1.4 1.9l1.4 .3l1.3 .2l1.4-.5l1.4-3.6l1.3 7l1.4-4.9l1.4 2.6l1.3-2.3l1.4-.8l1.4 1.5l1.3-.5l1.4 2.4l1.4-3.2l1.3 3.2l1.4-.1l1.4-2.2l1.4 1.2l1.3-5.3l1.4 2.5l1.4 1.3l1.3-3.2l1.4 4.4l1.4-4.7l1.3 2.1l1.4-4.2l1.4 4.3l1.3-2.3l1.4 2.9l1.4-.4l1.3 .5l1.4 3.4l1.4-3.3l1.3 2.9l1.4-1.5l1.4-3.3l1.3 4.6l1.4-3.1l1.4 .1l1.4 1.4l1.3-1.1l1.4 1.2l1.4 2.6l1.3-4.5l1.4-.4l1.4-.4l1.3 2.1l1.4-1l1.4 .4l1.3-1.2l1.4 .2l1.4 2.2l1.3 .8l1.4-.1l1.4-4.7l1.3-1.3l1.4 1.9l1.4 2.2l1.3-1.2l1.4-.6l1.4 2.3l1.4 1l1.3-2.9l1.4 4.1l1.4 .8l1.3 .4l1.4-1.4l1.4-3.5l1.3 4.2l1.4-2.6l1.4 4.5l1.3-4.5l1.4 .6l1.4 .7l1.3-1l1.4 2.8l1.4-4.1l1.3-2l1.4 2.5l1.4-1.1l1.4 1.4l1.3 .1l1.4 .1l1.4 2.1l1.3-.2l1.4-1.4l1.4 1l1.3 3l1.4-2.5l1.4-3.1l1.3 .9l1.4 2.8l1.4-2.4l1.3 4.3l1.4-1.9l1.4-3.8l1.3 3l1.4 .8l1.4-1.5l1.3-2.6l1.4 1.7l1.4-1.2l1.4 2.8l1.3-.8l1.4 1.8l1.4-5.6l1.3 1.5l1.4-.4l1.4 1.4l1.3 2.3l1.4-2.9l1.4 0l1.3 2.3l1.4-6.5l1.4 3.2l1.3 .8l1.4 1.1l1.4-1.4l1.3 .8l1.4-1.9l1.4 1l1.3-.7l1.4 .5l1.4 2.4l1.4-4.2l1.3 3.3l1.4-.4l1.4 .8l1.3-1.3l1.4 .7l1.4-2.5l1.3 1.7l1.4 1.3l1.4 .7l1.3-.6l1.4 3.7l1.4-.7l1.3-.9l1.4-.1l1.4-3.6l1.3 1.9l1.4-1.6l1.4-.9l1.4 3.6l1.3-.5l1.4-2.5l1.4 1.5l1.3-2.8l1.4-.7l1.4 2.2l1.3 1.4l1.4-4.4l1.4 3.5l1.3 .8l1.4 1.9l1.4-.2l1.3 .3l1.4-2.9l1.4-.7l1.3 2.8l1.4-1.3l1.4-.1l1.3 2.1l1.4 .3l1.4-.6l1.4-1.9l1.3 .3l1.4-1.2l1.4-2.9l1.3 2.4l1.4-1l1.4 4l1.3 1l1.4 .4l1.4 1.7l1.3-2.1l1.4 .9l1.4-3.2l1.3 1.4l1.4 .6l1.4-1.3l1.3 .2l1.4-.6l1.4 2.5l1.3-.1l1.4-3.7l1.4-1.8l1.4 5l1.3-.1l1.4 .9l1.4 0l1.3-1.9l1.4 2.8l1.4-1.6l1.3-2.4l1.4 1.5l1.4 .4l1.3-3.1l1.4-.8l1.4 1.8l1.3 .4l1.4-.5l1.4-1.9l1.3 2.8l1.4 1.1l1.4-.5l1.3 1l1.4-3.3l1.4 2.7l1.4-1l1.3 2.2l1.4-2.6l1.4 1.8l1.3 1.4l1.4-3l1.4-.3l1.3-2.1l1.4 2.3l1.4-2.4l1.3-.5l1.4 2.3l1.4 2.2l1.3-2.2l1.4-2.1l1.4 1.2l1.3-.3l1.4 3.7l1.4-5.3l1.4-.3l1.3 2.9l1.4-2.8l1.4-2l1.3 5.2l1.4 .1l1.4-2.3l1.3-1l1.4 2.4l1.4-1.3l1.3-1.1l1.4 2.4l1.4-1.6l1.3 2.1l1.4 .6l1.4 .8l1.3-2.2l1.4 1l1.4 2.9l1.3-4.6l1.4 1.9l1.4-.9l1.4 3.5l1.3-4.7l1.4 2.2l1.4-.9l1.3 2.3l1.4-1.6l1.4-.8l1.3-.4l1.4-.2l1.4 1l1.3 .2l1.4 .9l1.4-1l1.3 .1l1.4 .8l1.4-1.3l1.3 1.8l1.4-1.1l1.4 1.7l1.3-3.8l1.4 .4l1.4-1.7l1.4 2.6l1.3 2.7l1.4-7.1l1.4 2.4l1.3 5l1.4-.7l1.4-.1l1.3-1.2l1.4-1l1.4-2l1.3-.4l1.4 1.9l1.4-.1l1.3 1.3l1.4-.5l1.4 .4l1.3-1.4l1.4-.5l1.4-0l1.4 1.8l1.3 .1l1.4-2.4l1.4 .1l1.3 2l1.4-4.8l1.4 2.7l1.3 3.6l1.4 .7l1.4-3.8l1.3 1l1.4 .7l1.4-.8l1.3 2.7l1.4-5.4l1.4 3.8l1.3 2l1.4-4.2l1.4 5.8l1.3 .7l1.4-4.6l1.4 1.3l1.4-2.6l1.3 1.9l1.4-4.4l1.4 4.1l1.3-6l1.4 3.5l1.4 6.2l1.3-5l1.4 2.6l1.4-.5l1.3-3.9l1.4 .8l1.4-.3l1.3 3l1.4 .4l1.4-3.1l1.3 3.5l1.4-2.2l1.4 1.1l1.3 3.2l1.4-2l1.4-.3l1.4-.3l1.3 1.8l1.4-2.4l1.4 2.4l1.3-3.3l1.4 .4l1.4 2.2l1.3-1.9l1.4-.9l1.4 5.4l1.3-1l1.4-4.2l1.4-1.4l1.3 1.8l1.4-4.4l1.4 6.1l1.3-.4l1.4-2.3l1.4 3.7l1.4-1l1.3-2.7l1.4 3.1l1.4-0l1.3-1.7l1.4-1.5l1.4-1.4l1.3 4.9l1.4-0l1.4-1.7l1.3-1.7l1.4 3.2l1.4-2.2l1.3 1.1l1.4-1l1.4 2l1.3-2.5l1.4 2.5l1.4 1.1l1.3-3.1l1.4 .2l1.4 .3l1.4-1.1l1.3 3.7l1.4-1l1.4-3.4l1.3 2.5l1.4-1.7l1.4 .1l1.3 .9l1.4 .5l1.4-.4l1.3 2.7l1.4-6.9l1.4 4.9l1.3-3.5l1.4 1.8l1.4-.6l1.3 3.4l1.4-2.5l1.4 2.4l1.3-1l1.4-3.2l1.4-1.1l1.4 3.6l1.3-1.1l1.4 1.5l1.4 1.4l1.3-1.8l1.4-3.2l1.4 .7l1.3-3l1.4 .7" fill="none" stroke="#0070C0" stroke-width="4.4" stroke-linejoin="round" stroke-linecap="round"/>
<path d="M499.3 1500l1.4 5.2l1.3 1.5l1.4 .5l1.4-.2l1.3-.5l1.4 .3l1.4 .6l1.3 0l1.4 .1l1.4 .2l1.3-.4l1.4 0l1.4 .8l1.3-.5l1.4-.2l1.4 .2l1.3-.5l1.4 .4l1.4 0l1.3-.1l1.4 .2l1.4-.2l1.4-.5l1.3-.4l1.4 1.2l1.4-.4l1.3-.8l1.4 .5l1.4 .2l1.3 0l1.4 .3l1.4-.6l1.3-.1l1.4-.3l1.4 .6l1.3-.2l1.4 .3l1.4-.4l1.3 .7l1.4-1.5l1.4 .5l1.3 1l1.4-.4l1.4-.2l1.4-.3l1.3 0l1.4 1l1.4-.2l1.3 .1l1.4-1.2l1.4 .1l1.3 .5l1.4 .4l1.4-.4l1.3 .3l1.4-.2l1.4-.2l1.3 .2l1.4-.3l1.4 .3l1.3 .7l1.4-.2l1.4 .1l1.4-.5l1.3 .3l1.4-.2l1.4 .2l1.3-.6l1.4-.1l1.4 .9l1.3-1l1.4 .6l1.4-.5l1.3-.1l1.4 .7l1.4-.5l1.3 .5l1.4 .5l1.4-.1l1.3-.6l1.4 .1l1.4-.7l1.3 .4l1.4-.6l1.4 .2l1.4 .5l1.3-.1l1.4-.7l1.4 1.3l1.3 0l1.4-.7l1.4 .8l1.3-.3l1.4 .3l1.4-.4l1.3-.1l1.4 .1l1.4 .5l1.3 0l1.4-.2l1.4-.6l1.3 .1l1.4 .2l1.4-.4l1.3 .4l1.4 .2l1.4 0l1.4 .4l1.3 .1l1.4-.7l1.4-.3l1.3 .9l1.4-.9l1.4 0l1.3 .6l1.4-.1l1.4 .2l1.3-.4l1.4 0l1.4 .2l1.3-.3l1.4-.1l1.4 .8l1.3-1l1.4 .4l1.4-.1l1.4 0l1.3-.8l1.4 .8l1.4 .1l1.3-.6l1.4 .3l1.4 .9l1.3-.8l1.4 .5l1.4-.6l1.3 .1l1.4-.1l1.4 .3l1.3 0l1.4 0l1.4-.1l1.3-.2l1.4-.5l1.4 .4l1.3 .1l1.4-.1l1.4 .4l1.4-0l1.3-.2l1.4 .4l1.4-.6l1.3-.2l1.4 .6l1.4-.4l1.3 .4l1.4-.7l1.4 .4l1.3-.2l1.4 .4l1.4-.3l1.3 .3l1.4-0l1.4 .2l1.3-.3l1.4 .1l1.4 .3l1.3-.3l1.4 .1l1.4 .5l1.4 .2l1.3-.9l1.4 1l1.4-0l1.3-.5l1.4 .5l1.4-.3l1.3-1l1.4-.2l1.4 .3l1.3 .6l1.4-.4l1.4-.3l1.3 .2l1.4-.1l1.4 .4l1.3-.6l1.4 .3l1.4 .5l1.3-.9l1.4 .3l1.4 .4l1.4-.3l1.3 .2l1.4-.9l1.4 .8l1.3-.1l1.4-.9l1.4 .6l1.3 .8l1.4 0l1.4-1.1l1.3 .9l1.4-.2l1.4-.2l1.3 .5l1.4-.2l1.4-.6l1.3 .7l1.4-.2l1.4-.1l1.4 .1l1.3 .2l1.4-.3l1.4-.4l1.3 .4l1.4 .5l1.4-.3l1.3-.1l1.4-.1l1.4 .4l1.3-.4l1.4 .6l1.4-.3l1.3-0l1.4-.6l1.4 .3l1.3 1.2l1.4-.4l1.4-.9l1.3-.4l1.4 1l1.4-.8l1.4 .6l1.3-.3l1.4 .1l1.4 .3l1.3-.7l1.4 1l1.4-.3l1.3-.4l1.4 .1l1.4-.5l1.3 .2l1.4 .8l1.4-.5l1.3-.8l1.4 1l1.4-.4l1.3 .4l1.4 .4l1.4-1.1l1.3 .9l1.4 .6l1.4-1.4l1.4 .5l1.3-0l1.4-.1l1.4 .2l1.3 .2l1.4-.1l1.4-.3l1.3-.4l1.4-.2l1.4 .7l1.3 .4l1.4 .3l1.4-.4l1.3-.4l1.4 .4l1.4-.6l1.3 .1l1.4 .4l1.4-.4l1.4-.2l1.3-0l1.4 .2l1.4 .4l1.3 .2l1.4-0l1.4 .2l1.3-.4l1.4-.3l1.4 .2l1.3-.2l1.4 .2l1.4-0l1.3 .3l1.4-.4l1.4-0l1.3 .1l1.4-.6l1.4 .1l1.3 .8l1.4-.6l1.4 .1l1.4 .9l1.3-0l1.4-1.8l1.4 .7l1.3-.3l1.4 .3l1.4 .5l1.3 .2l1.4-1l1.4 .5l1.3-.4l1.4 .9l1.4-.6l1.3 .2l1.4 .8l1.4 .2l1.3-1.1l1.4-.1l1.4-0l1.3-0l1.4 .4l1.4 .2l1.4-1.1l1.3 .8l1.4-.2l1.4 .1l1.3-.1l1.4-0l1.4 .2l1.3 .1l1.4-.6l1.4 .1l1.3-0l1.4-.3l1.4 .6l1.3 .4l1.4-.5l1.4 .1l1.3-.3l1.4-0l1.4 .1l1.4 .4l1.3-.8l1.4 .7l1.4-.5l1.3 .2l1.4 .2l1.4-.3l1.3 .8l1.4 .1l1.4-0l1.3-.2l1.4-.4l1.4 .5l1.3-.8l1.4 1l1.4-.1l1.3 .5l1.4-.9l1.4 .3l1.3-.4l1.4 .1l1.4-.2l1.4-.4l1.3 .2l1.4 .3l1.4 .7l1.3-.8l1.4 .6l1.4-.8l1.3 .2l1.4-.1l1.4 .5l1.3-0l1.4 .3l1.4-.5l1.3-.1l1.4 .5l1.4-.2l1.3-1.2l1.4 .9l1.4 .4l1.3-.2l1.4-.5l1.4-.4l1.4 .4l1.3-0l1.4-7l1.4-19.1l1.3 19.3l1.4 6.7l1.4-.3l1.3 1.5l1.4-0l1.4-.2l1.3-.2l1.4-.7l1.4 .1l1.3-0l1.4 .3l1.4 .1l1.3-0l1.4-.1l1.4-.2l1.4 .3l1.3-.5l1.4 .6l1.4-.9l1.3 .1l1.4-.4l1.4 .6l1.3 .5l1.4-.5l1.4 .1l1.3 .2l1.4-.6l1.4 .3l1.3 .2l1.4-0l1.4 .5l1.3-1l1.4 .7l1.4-.9l1.3 .5l1.4 .7l1.4-1.2l1.4 1.1l1.3-.4l1.4 0l1.4 .7l1.3-1.2l1.4 .4l1.4-.2l1.3 0l1.4-.1l1.4 1.3l1.3-.9l1.4 .1l1.4 .2l1.3 0l1.4 .2l1.4-.3l1.3-.3l1.4 .1l1.4 .3l1.3 .2l1.4-1.4l1.4 1.3l1.4-.5l1.3-.3l1.4 .8l1.4 .1l1.3-1.7l1.4 1.3l1.4-.1l1.3 0l1.4-.6l1.4 .4l1.3-.1l1.4 .2l1.4 .6l1.3-.8l1.4 .5l1.4-.7l1.3 .5l1.4-.7l1.4 .9l1.4-.9l1.3 .2l1.4 .4l1.4 .4l1.3-.2l1.4 .6l1.4 0l1.3-.8l1.4-.2l1.4-1.2l1.3 1.3l1.4 0l1.4 .5l1.3-.3l1.4-.4l1.4 .3l1.3-.1l1.4 .2l1.4 .3l1.3-.2l1.4-.2l1.4 0l1.4 0l1.3 .1l1.4 .1l1.4 .1l1.3-.3l1.4-.3l1.4 .5l1.3-.5l1.4 .3l1.4-.2l1.3 .4l1.4-.2l1.4-.2l1.3 .1l1.4 .3l1.4-.2l1.3 0l1.4 .4l1.4-.3l1.3-.4l1.4 .4l1.4-.3l1.4-.3l1.3 .2l1.4 .7l1.4-1l1.3 .8l1.4-.6l1.4 .3l1.3-.2l1.4-.5l1.4 .4l1.3 .2l1.4-.2l1.4-.3l1.3 1.4l1.4-.2l1.4-1l1.3 .8l1.4-.8l1.4 .5l1.4 .2l1.3 .2l1.4-.2l1.4-.3l1.3 .3l1.4-.8l1.4 .6l1.3-.5l1.4 .3l1.4 .4l1.3-.3l1.4 .6l1.4 .4l1.3-.5l1.4-.6l1.4 .3l1.3 .5l1.4 .1l1.4-.4l1.3 .3l1.4-.4l1.4-.6l1.4 .4l1.3 .3l1.4 .3l1.4-.8l1.3 .2l1.4-.3l1.4 0l1.3 .2l1.4 .1l1.4-.7l1.3 0l1.4 .4l1.4 .1l1.3 0l1.4 .1l1.4 .6l1.3-.3l1.4 .3l1.4 .1l1.3-.6l1.4-.2l1.4 .4l1.4 0l1.3-.2l1.4-.2l1.4 0l1.3 1l1.4-.7l1.4 .2l1.3-.6l1.4 .3l1.4-.1l1.3 .5l1.4-.2l1.4 .4l1.3-.4l1.4-.3l1.4-.1l1.3 .2l1.4-.3l1.4 .3l1.4-.1l1.3 .1l1.4 .2l1.4-.1l1.3 .5l1.4-.9l1.4 .4l1.3 .2l1.4-.2l1.4-.1l1.3-.3l1.4 .2l1.4-.5l1.3 .7l1.4-.2l1.4-.4l1.3-.1l1.4 .2l1.4 .5l1.3-.5l1.4 .8l1.4-.6l1.4 .3l1.3-.8l1.4 .5l1.4 .8l1.3-.4l1.4 .5l1.4-1.3l1.3-.3l1.4 1.3l1.4-.5l1.3 .4l1.4 .4l1.4-.9l1.3 .6l1.4 .3l1.4-.1l1.3-.6l1.4-0l1.4 .2l1.3-.3l1.4-0l1.4 .4l1.4-.1l1.3 .5l1.4-.7l1.4 .4l1.3-0l1.4-.6l1.4 1l1.3-.8l1.4 .1l1.4 .1l1.3-.6l1.4 .2l1.4 .3l1.3 .1l1.4 .2l1.4-.6l1.3 .3l1.4 .3l1.4-.3l1.3-0l1.4 .8l1.4-.3l1.4-.6l1.3-0l1.4-.8l1.4 .5l1.3-.4l1.4 .8l1.4 .7l1.3-.7l1.4-.2l1.4-1.2l1.3 1.7l1.4-.5l1.4 .6l1.3-.4l1.4-.2l1.4 .2l1.3-.3l1.4-.1l1.4 1.4l1.4-.6l1.3 .1l1.4 .2l1.4-.8l1.3 .4l1.4-.4l1.4-0l1.3-.2l1.4 .1l1.4 .6l1.3-.2l1.4-.2l1.4-.4l1.3 .5l1.4 .3l1.4 .4l1.3-1.4l1.4 .4l1.4 1l1.3-.9l1.4-.7l1.4 .3l1.4 .4l1.3 .4l1.4-.6l1.4 .4l1.3-1l1.4 .7l1.4-.1l1.3 .7l1.4-.3l1.4 .4l1.3-.9l1.4-.5l1.4 .8l1.3 .1l1.4-0l1.4-.3l1.3-.2l1.4 .1l1.4 .4l1.3 .2l1.4 .2l1.4-.7l1.4 .4l1.3-.4l1.4-0l1.4-.3l1.3 .4l1.4-.5l1.4 .3l1.3 .3l1.4-.6l1.4 .3l1.3 .3l1.4 .4l1.4-.3l1.3-.2l1.4 .9l1.4-.6l1.3 .6l1.4-.6l1.4 .5l1.4-0l1.3-.4l1.4-0l1.4 .5l1.3-1.6l1.4 .7l1.4-.4l1.3 .3l1.4 .3l1.4 .4l1.3-.8l1.4 .1l1.4 .5l1.3 .1l1.4-.5l1.4 .2l1.3-.5l1.4 .6l1.4-.2l1.3 .2l1.4-.5l1.4 .4l1.4 .1l1.3-.2l1.4 .2l1.4 .4l1.3-1l1.4-.2l1.4 .3l1.3-.2l1.4 .5l1.4-.1l1.3 .1l1.4 .4l1.4-0l1.3-.2l1.4-.1l1.4-.4l1.3 .3l1.4-.4l1.4 .9l1.3-1l1.4 .7l1.4 .3l1.4-.9l1.3 .3l1.4 .8l1.4-.6l1.3-1l1.4 1l1.4-.2l1.3 .5l1.4-.4l1.4-0l1.3 .7l1.4-0l1.4-0l1.3-.4l1.4-.5l1.4 .4l1.3 .2l1.4-0l1.4 .1l1.4-.3l1.3-.2l1.4-.7l1.4 .8l1.3 .9l1.4-.8l1.4 .1l1.3-.7l1.4 .4l1.4 .4l1.3 .2l1.4-1l1.4 .5l1.3-.8l1.4 .5l1.4 .4l1.3-0l1.4-.4l1.4 .5l1.3-.8l1.4 .8l1.4 .1l1.4-.1l1.3-.3l1.4 .2l1.4-0l1.3-0l1.4 .1l1.4-0l1.3 .4l1.4-1.3l1.4 .7l1.3 .1l1.4-0l1.4-.2l1.3 .6l1.4-.1l1.4-.5l1.3 .5l1.4-.5l1.4-.1l1.3 .2l1.4 .3l1.4 .4l1.4-.8l1.3-.3l1.4 .3l1.4 .1l1.3-.6l1.4 .3l1.4 .2l1.3-.3l1.4 .5l1.4 .4l1.3-.2l1.4-.6l1.4 .4l1.3 .4l1.4-.3l1.4-.2l1.3-.1l1.4 .5l1.4 .2l1.4-.6l1.3 .8l1.4-.2l1.4 .1l1.3 .1l1.4-.1l1.4-1l1.3 .8l1.4-.2l1.4-.1l1.3-.5l1.4 .2l1.4-.1l1.3-.2l1.4-0l1.4-.1l1.3 .8l1.4-.3l1.4 .4l1.3-.4l1.4-0l1.4 .6l1.4-.6l1.3 .8l1.4-1l1.4 .6l1.3 .2l1.4-.9l1.4 .1l1.3-.3l1.4-.5l1.4 1.3l1.3-1l1.4 .4l1.4 .6l1.3-.7l1.4 .1l1.4 .8l1.3-0l1.4-0l1.4-.4l1.3 .1l1.4 .3l1.4 .2l1.4-.5l1.3-.1l1.4-.3l1.4 .6l1.3-.4l1.4-0l1.4-0l1.3-.4l1.4 .6l1.4-0l1.3 .2l1.4-.5l1.4 .1l1.3 .2l1.4-0l1.4-.4l1.3-.3l1.4 .1l1.4 .2l1.4 .3l1.3-.2l1.4-0l1.4-.4l1.3 1.1l1.4-.7l1.4-.2l1.3 .9l1.4-.3l1.4-.4l1.3-0l1.4 .1l1.4-.2l1.3 .5l1.4-1.2l1.4 1.1l1.3-.3l1.4-.3l1.4 .5l1.3-.1l1.4 .4l1.4-.8l1.4-.2l1.3 .8l1.4 .2l1.4-1.5l1.3 .5l1.4-.3l1.4 1.4l1.3-.1l1.4 .6l1.4-1.1l1.3 .2l1.4 .6l1.4-.9l1.3-.4l1.4 .8l1.4-.1l1.3-.2l1.4-.2l1.4 .6l1.3-.5l1.4 .2l1.4 .4l1.4-0l1.3-.3l1.4 .2l1.4-.5l1.3-0l1.4-.1l1.4 .7l1.3-.3l1.4 .1l1.4-.3l1.3 .2l1.4-0l1.4-.4l1.3 .3l1.4-0l1.4 .7l1.3-1l1.4-.1l1.4 .3l1.3-.9l1.4 .4l1.4 .9l1.4-.3l1.3 .1l1.4-.2l1.4-0l1.3 .1l1.4 .2l1.4-.1l1.3-.5l1.4 .3l1.4 .2l1.3 .1l1.4-.7l1.4 .7l1.3-.4l1.4 .2l1.4-.5l1.3 .5l1.4 .2l1.4-.1l1.4-.3l1.3-0l1.4 .1l1.4-.3l1.3-.1l1.4 .4l1.4-0l1.3 .4l1.4-.4l1.4-.4l1.3 .3l1.4 .6l1.4-.1l1.3-.8l1.4 .9l1.4-.9l1.3 .7l1.4-0l1.4-.3l1.3-.1l1.4 .2l1.4-0l1.4-.1l1.3-.4l1.4-.1l1.4 .5l1.3 .2l1.4-.6l1.4 .8l1.3-.3l1.4 .1l1.4 .3l1.3-.7l1.4-.2l1.4 .9l1.3-1l1.4 .5l1.4-.5l1.3 .4l1.4 .2l1.4-.7l1.3-0l1.4 .4l1.4 .4l1.4-.4l1.3-0l1.4 .9l1.4-1.6l1.3 .5l1.4 .3l1.4 .3l1.3-.2l1.4-0l1.4-.3l1.3-.3l1.4-0l1.4 .8l1.3 .3l1.4-.8l1.4 .4l1.3 .1l1.4-.4l1.4 .4l1.4-.3l1.3 .3l1.4-.7l1.4 .6l1.3-.1l1.4-0l1.4-.3l1.3 .9l1.4-.8l1.4 .6l1.3-1.4l1.4 .6l1.4-.4l1.3 1l1.4-.5l1.4 .4l1.3 .6l1.4-.7l1.4 .7l1.3-.4l1.4 .2l1.4-.2l1.4 .2l1.3-.5l1.4 .4l1.4-.2l1.3-.4l1.4 .5l1.4-.4l1.3 .2l1.4-.3l1.4-.3l1.3-.2l1.4 .3l1.4 .6l1.3-1.1l1.4 .8l1.4-.1l1.3-.1l1.4 .3l1.4-.1l1.3 .2l1.4 .3l1.4-0l1.4 .2l1.3 .2l1.4-.6l1.4 .1l1.3 .7l1.4-.6l1.4-.5l1.3-0l1.4 .3l1.4-1l1.3-.1l1.4 1.1l1.4 .1l1.3 .1l1.4 .1l1.4-.4l1.3 .1l1.4-.3l1.4-0l1.4 .2l1.3 .2l1.4 .5l1.4-.9l1.3-.2l1.4 .3l1.4 .8l1.3-.5l1.4 .2l1.4-.3l1.3 .3l1.4-.7l1.4 .9l1.3-.4l1.4 .6l1.4-1.3l1.3 .6l1.4-0l1.4 .5l1.3-.8l1.4 .2l1.4-.3l1.4-0l1.3 .2l1.4 .7l1.4-.5l1.3-.4l1.4 .2l1.4 .2l1.3 .4l1.4-.4l1.4-.4l1.3 .1l1.4 .1l1.4 1l1.3-.2l1.4 .2l1.4-1.1l1.3 .5l1.4-.4l1.4-.1l1.3-.4l1.4 .3l1.4-.1l1.4 .9l1.3-.4l1.4-.3l1.4 .6l1.3-.9l1.4-0l1.4 .4l1.3-.3l1.4 .5" fill="none" stroke="#FF0000" stroke-width="4.4" stroke-linejoin="round" stroke-linecap="round"/>
<path d="M499.3 1576.7l1.4 4.1l1.3-3.7l1.4 7.8l1.4-7.8l1.3 1.9l1.4-6.1l1.4 3.1l1.3 .5l1.4-1l1.4-.4l1.3 4.3l1.4-1.1l1.4 1.3l1.3-5.7l1.4 4.7l1.4-7.1l1.3-1.2l1.4 9.4l1.4-5.3l1.3-3.7l1.4 4.9l1.4 2.2l1.4-2.3l1.3 4.9l1.4-4.7l1.4 1.8l1.3-2.8l1.4 1.3l1.4 .1l1.3 .6l1.4-3.2l1.4 4.1l1.3-2.1l1.4-.5l1.4-2.9l1.3 3.8l1.4-1.6l1.4 .6l1.3-.7l1.4 .3l1.4 3.1l1.3-1.4l1.4-2.6l1.4 3l1.4 2l1.3 .8l1.4-5.1l1.4 4.4l1.3-3.7l1.4 5.3l1.4-5.9l1.3 3.7l1.4 1.7l1.4 .5l1.3-5.1l1.4 .3l1.4 .8l1.3-4.6l1.4-.2l1.4 5.8l1.3-3.2l1.4 2.2l1.4-2.1l1.4 .2l1.3 .7l1.4 5.2l1.4-4.4l1.3-4.7l1.4 8.3l1.4-2.7l1.3 3.5l1.4-4.3l1.4-1.7l1.3-.1l1.4 1.7l1.4 .4l1.3-2.4l1.4 .1l1.4 5.8l1.3-2.3l1.4-4.8l1.4 3.8l1.3 6l1.4-4.1l1.4-2.2l1.4 2.5l1.3 1l1.4-2.2l1.4 1.4l1.3-3.9l1.4 5.7l1.4-4l1.3-3.8l1.4 2.9l1.4-.1l1.3-2.3l1.4 8l1.4-2.9l1.3 .6l1.4-1.3l1.4 4.2l1.3-6.1l1.4 .1l1.4 4l1.3-4.7l1.4 4.5l1.4-.1l1.4-2.8l1.3 .4l1.4-2.8l1.4 2.7l1.3 3.5l1.4-5.9l1.4 2.4l1.3-.3l1.4-.1l1.4-4l1.3-1.5l1.4 4.9l1.4 2.6l1.3-.6l1.4 2.9l1.4 .8l1.3-.9l1.4-2.6l1.4 4.6l1.4-2.1l1.3 3.7l1.4-3.4l1.4-6.7l1.3 2.9l1.4-3.7l1.4 1.5l1.3 2l1.4 2.3l1.4-4.8l1.3-1.7l1.4 2.6l1.4 5.4l1.3-9.6l1.4 5.5l1.4-1.1l1.3-1.7l1.4 7.4l1.4 .1l1.3-6.5l1.4-1.2l1.4 2.6l1.4 1.2l1.3-5.5l1.4 5.2l1.4-.3l1.3 .2l1.4 1.6l1.4-2.9l1.3-.6l1.4-3.9l1.4-1.2l1.3 8l1.4-6.9l1.4 4l1.3 5.5l1.4 .9l1.4-2l1.3 1.2l1.4-5.8l1.4-1.5l1.3 2l1.4-2.8l1.4 3.7l1.4 7l1.3-3.5l1.4 5.3l1.4-5.2l1.3 1.9l1.4-2.1l1.4-.9l1.3-2.2l1.4 1.2l1.4-6.7l1.3-3.5l1.4 7.1l1.4 1.8l1.3-2.3l1.4-0l1.4 2.4l1.3-3.1l1.4 .9l1.4 .2l1.3 1l1.4 .5l1.4 2.3l1.4-2.1l1.3-.1l1.4 4.1l1.4-7.2l1.3 8.2l1.4-3.7l1.4-2.8l1.3 1.6l1.4 3.7l1.4-1.7l1.3-.6l1.4 5.1l1.4 1.8l1.3-3.5l1.4-2.1l1.4 3l1.3-7.7l1.4-20.1l1.4 19.6l1.4 5.6l1.3-1.8l1.4 6.4l1.4-6.8l1.3 3.8l1.4-4.6l1.4 4.8l1.3 3.1l1.4-1.1l1.4-2.9l1.3-8.9l1.4 6.9l1.4 4.2l1.3 .1l1.4-5l1.4-4.4l1.3-1.6l1.4-2.1l1.4 3.8l1.3 3.4l1.4 5l1.4-2.2l1.4-4l1.3 2.7l1.4-2.7l1.4 3l1.3-1.6l1.4 1.1l1.4-4l1.3 6.6l1.4-.7l1.4-.7l1.3 3l1.4-5.9l1.4 8.7l1.3-6l1.4 1.4l1.4 .3l1.3-2.3l1.4-4.5l1.4-5.8l1.3 8.1l1.4 1.9l1.4 2.2l1.4-2.8l1.3 3.6l1.4-3.5l1.4 .7l1.3-5l1.4 2.7l1.4 .3l1.3-6.7l1.4 11l1.4-8l1.3 5l1.4 2.4l1.4-2.5l1.3-1.4l1.4 5.6l1.4-.7l1.3-3.4l1.4-0l1.4 .8l1.4-.3l1.3-1.8l1.4 5.6l1.4-6.9l1.3 2.7l1.4 1.8l1.4-5.2l1.3-2.7l1.4 3.2l1.4 5.1l1.3-.9l1.4-1.6l1.4 3.3l1.3 .3l1.4-.9l1.4-4.7l1.3 2.1l1.4 .5l1.4-4.5l1.3 4.6l1.4-.2l1.4 3.1l1.4-3.8l1.3-.4l1.4 1.2l1.4-1.9l1.3 0l1.4-.8l1.4-.9l1.3 2.6l1.4 4.1l1.4-4.6l1.3 .8l1.4-.8l1.4-2.4l1.3 4.7l1.4-.2l1.4-3.9l1.3-1.6l1.4 6.3l1.4-1.1l1.3-1.6l1.4 3.5l1.4-3.2l1.4 1.7l1.3-2.4l1.4 4l1.4-5.4l1.3 1.6l1.4-8.2l1.4 8.1l1.3 2.5l1.4-1.3l1.4 3.6l1.3 3.8l1.4 0l1.4-6.7l1.3 .9l1.4-1.2l1.4-14.6l1.3-22.2l1.4 23.8l1.4 15.7l1.4-4.7l1.3-14.1l1.4 16l1.4-.8l1.3 3.2l1.4-6.9l1.4-3.1l1.3 4.1l1.4 2.1l1.4-.2l1.3 2.2l1.4 4.9l1.4 1.6l1.3-7.6l1.4 .3l1.4 1.9l1.3 2.5l1.4-6.2l1.4 6l1.3-1.4l1.4 1l1.4-1.4l1.4-.4l1.3 3.3l1.4-5.2l1.4-.5l1.3-2l1.4 2.1l1.4-4.1l1.3 3.3l1.4 1.8l1.4 .6l1.3-1.6l1.4 3.7l1.4-2.7l1.3 1.6l1.4-4.8l1.4 1.4l1.3-.5l1.4 1l1.4 1.2l1.3 .2l1.4 4l1.4-6.8l1.4-.1l1.3 3.2l1.4-.5l1.4 5l1.3-7.8l1.4-17.4l1.4 14.9l1.3 3.8l1.4 4.6l1.4-2.3l1.3-4.3l1.4 3.7l1.4-1.5l1.3-1.8l1.4 4.3l1.4-5l1.3 4.5l1.4-5.4l1.4 2.5l1.4-1.4l1.3 2.1l1.4-2.5l1.4 3.3l1.3-.4l1.4 2.7l1.4 1.4l1.3-2.2l1.4-3.6l1.4 2.3l1.3 2.4l1.4 .3l1.4-3.6l1.3 2.3l1.4 1.9l1.4-6.8l1.3 4.1l1.4 3l1.4-3.5l1.3-.8l1.4 2.4l1.4-5.7l1.4 6.7l1.3 4.5l1.4-6.4l1.4 .6l1.3 .1l1.4-1.8l1.4 2.9l1.3-3.5l1.4 1.5l1.4 1.1l1.3-3.7l1.4-1.4l1.4-1.7l1.3-2.3l1.4 3.9l1.4-1.5l1.3 4.1l1.4-1.8l1.4 1.1l1.3-2l1.4 0l1.4 7.1l1.4 0l1.3 3.7l1.4-3.2l1.4-4.6l1.3-.9l1.4-.2l1.4-.8l1.3 7.2l1.4-7.9l1.4 1.2l1.3 3.5l1.4-7.1l1.4 6.1l1.3-.8l1.4-2.8l1.4 2.5l1.3 .8l1.4-1.6l1.4 2.4l1.4-1.3l1.3 4.6l1.4-5.3l1.4 8.2l1.3-10l1.4 3.3l1.4 2.2l1.3-.9l1.4 4l1.4-2.4l1.3-3.6l1.4 5.2l1.4-5.5l1.3 4l1.4-2.1l1.4-5.4l1.3-2.3l1.4-.1l1.4 2.8l1.3-3.7l1.4 3.6l1.4 .1l1.4-.5l1.3 3.3l1.4 1.6l1.4 1.3l1.3-5.8l1.4 2.9l1.4-2.1l1.3 4.2l1.4-.9l1.4 2.1l1.3-4.5l1.4 1.8l1.4 .8l1.3 3.2l1.4-3.2l1.4 .1l1.3-3.1l1.4-1.4l1.4 1.5l1.3-3.6l1.4 4.7l1.4-4.3l1.4 7.9l1.3-4.1l1.4-.5l1.4 8.7l1.3-7.4l1.4 .8l1.4 2l1.3 .6l1.4 1.3l1.4-3.8l1.3 4.7l1.4-5.9l1.4 3.7l1.3-.7l1.4-7.1l1.4-.8l1.3 6.7l1.4 1.7l1.4-6.9l1.4 2.6l1.3 3.9l1.4-2l1.4-1.2l1.3 1.8l1.4 3.1l1.4-4.6l1.3-.1l1.4-7.6l1.4 4.8l1.3 5.5l1.4 .6l1.4-6.3l1.3 2.5l1.4 4.1l1.4 2.1l1.3-2.4l1.4-5.1l1.4 8l1.3-6.1l1.4 3.8l1.4-2.6l1.4 3.3l1.3-.1l1.4-.9l1.4-.3l1.3-4.3l1.4 1.5l1.4 3.1l1.3 2.3l1.4-9.2l1.4-1l1.3 6.2l1.4-3.7l1.4 3.2l1.3 .7l1.4-2.2l1.4 .1l1.3 .2l1.4 3.6l1.4-4.5l1.3 1.4l1.4 4.3l1.4-4l1.4-.5l1.3 2.4l1.4-3.1l1.4 .2l1.3-3.2l1.4 2.4l1.4 3.4l1.3-1.5l1.4-5.4l1.4 4.7l1.3 1.6l1.4 5.2l1.4-4.2l1.3-1.9l1.4 3l1.4-3.2l1.3-5.8l1.4 1.4l1.4 6.3l1.4-4.6l1.3 5.4l1.4-2.2l1.4-1.1l1.3 1.2l1.4 6.1l1.4-1.7l1.3-7.5l1.4-.1l1.4 5.6l1.3-3.2l1.4 7.1l1.4-8.3l1.3 .1l1.4 .3l1.4 1l1.3 2.1l1.4-3l1.4-4.2l1.3 10.3l1.4 .4l1.4-1l1.4-4.4l1.3 3l1.4 .1l1.4-7.6l1.3 3.4l1.4 1.9l1.4-2.3l1.3 6.3l1.4-8l1.4 5.2l1.3 .3l1.4-.6l1.4-2.1l1.3 .7l1.4-.6l1.4-3l1.3 1.7l1.4-.6l1.4-1l1.3-1l1.4 3l1.4-.2l1.4 .6l1.3-3.7l1.4 2.6l1.4 6.1l1.3-4.3l1.4 1.1l1.4-1.3l1.3-1l1.4-.5l1.4-.8l1.3 4.9l1.4 2.1l1.4-7.9l1.3 6.4l1.4-6.5l1.4 1.2l1.3 .6l1.4-4.4l1.4-1.7l1.3 5.9l1.4-.8l1.4 5.6l1.4-6.6l1.3-3l1.4 2.8l1.4 4.5l1.3 1.2l1.4 3.8l1.4-1.6l1.3-3l1.4 1.2l1.4 2.5l1.3-7.2l1.4 1.9l1.4 1.3l1.3-2.9l1.4 .2l1.4 1.8l1.3 2.1l1.4-1.9l1.4 6.2l1.4 1.1l1.3-3l1.4-3.8l1.4 3l1.3-3.5l1.4-.3l1.4-2.2l1.3 7.2l1.4-3.4l1.4-.4l1.3 .1l1.4 .7l1.4-.6l1.3-1.3l1.4 1.6l1.4-1.7l1.3 4.1l1.4-1.7l1.4-3.6l1.3 5.4l1.4-4.5l1.4-4.1l1.4 1.3l1.3 3.5l1.4-1.5l1.4-3l1.3 5.1l1.4-1.6l1.4 4.2l1.3-1.6l1.4-1.2l1.4-3.1l1.3 2.3l1.4 4.9l1.4-3.5l1.3-6.6l1.4 8.7l1.4-7.1l1.3 2.5l1.4 1.9l1.4-2.3l1.3 1.9l1.4-2.1l1.4-.1l1.4 4.1l1.3-8.1l1.4 6.7l1.4 3.2l1.3 2.5l1.4-8l1.4 2.5l1.3 1.4l1.4-3.7l1.4 7.7l1.3-4.9l1.4-.5l1.4-1.2l1.3-2l1.4 1.8l1.4 6.3l1.3-2.8l1.4-1.8l1.4-4.4l1.4 .4l1.3-.5l1.4 4.5l1.4 3.5l1.3-9.8l1.4-.5l1.4 1.4l1.3 2.6l1.4-3.6l1.4 5l1.3 2.8l1.4-7l1.4 4.5l1.3-1l1.4 .9l1.4-.6l1.3 2.6l1.4-3.4l1.4 5.6l1.3-1.1l1.4 0l1.4-3.5l1.4 .8l1.3-.2l1.4-1.1l1.4 1.1l1.3 1.2l1.4-.7l1.4-3l1.3 2.7l1.4-2l1.4-.6l1.3-1l1.4 5.2l1.4 .2l1.3-5.5l1.4 7.3l1.4-1.1l1.3-.2l1.4-1.9l1.4 2.3l1.3-1.4l1.4-3.5l1.4 2.3l1.4-1l1.3 2.5l1.4 .2l1.4 2.5l1.3-8.6l1.4-.7l1.4-2.1l1.3 2.4l1.4 5.7l1.4 5.9l1.3-4.7l1.4-3l1.4 7.8l1.3-10.9l1.4 3.5l1.4-3.7l1.3 5.2l1.4-3.5l1.4 3.2l1.4-3.5l1.3-.4l1.4-1.4l1.4 4.5l1.3 1.2l1.4 .5l1.4-.9l1.3 .7l1.4-4.8l1.4 2.5l1.3 1.2l1.4 .7l1.4 5l1.3-.7l1.4-7.4l1.4 2.7l1.3 .1l1.4 2.7l1.4-2.9l1.3-.5l1.4 2.9l1.4 1l1.4 .7l1.3-5.3l1.4 1.7l1.4-3.5l1.3-1.5l1.4 4.5l1.4-5.7l1.3 4.2l1.4-3.5l1.4 .4l1.3 .6l1.4-1.8l1.4 4l1.3-3.6l1.4 2.7l1.4-.7l1.3 .4l1.4 5.1l1.4-7.5l1.3 5.6l1.4-1l1.4 .2l1.4 .2l1.3 1.4l1.4-3.5l1.4 4.8l1.3-3.3l1.4 .9l1.4-3.4l1.3 5l1.4-5.4l1.4 5.3l1.3-6.7l1.4 3l1.4 .6l1.3 2.5l1.4-2.8l1.4 2.5l1.3-6.5l1.4 4.1l1.4-2.7l1.4-1.2l1.3 7l1.4-4.4l1.4 3l1.3-.9l1.4-6.6l1.4 7.9l1.3-4.3l1.4 .6l1.4 7.9l1.3-2.4l1.4-1.7l1.4-3.3l1.3-.9l1.4 .7l1.4 1.6l1.3 1.8l1.4-2.7l1.4-3.4l1.3 5.8l1.4-1.5l1.4 .1l1.4-3.5l1.3 .9l1.4 6.2l1.4-1.8l1.3-.7l1.4 6.4l1.4-8.2l1.3 1.7l1.4 3.8l1.4-9.2l1.3-.3l1.4-1.5l1.4-13.6l1.3 18l1.4-.4l1.4 7.6l1.3-2.7l1.4-3.6l1.4 1.6l1.3 1.4l1.4-2.5l1.4 2.3l1.4-2.8l1.3 3l1.4-5.5l1.4 1.8l1.3-.6l1.4 7.2l1.4-3.8l1.3 3.1l1.4-1.1l1.4-1.4l1.3-1.3l1.4-2.5l1.4 1.1l1.3 1.6l1.4-1.3l1.4 2.5l1.3-1.1l1.4 1l1.4-1.7l1.4 1.5l1.3-1.4l1.4-6.2l1.4 11.6l1.3-6l1.4 2.6l1.4-3.4l1.3 .3l1.4 3.5l1.4-3.8l1.3 7.2l1.4-3.1l1.4-4.9l1.3 5.8l1.4-1.3l1.4 3.1l1.3-5.1l1.4-3.5l1.4-1l1.3 6.5l1.4-5.6l1.4 4.4l1.4 0l1.3-.3l1.4 1.1l1.4 1.8l1.3 2.1l1.4-2.4l1.4-.4l1.3-7l1.4 2l1.4 3.5l1.3-4.6l1.4 2.8l1.4 5l1.3-1.5l1.4-1.5l1.4 1.3l1.3-1.2l1.4 1.2l1.4-5.2l1.3 .4l1.4 2l1.4-5.1l1.4 3.8l1.3-.7l1.4 2.5l1.4 2.2l1.3-3.1l1.4 2.1l1.4 3l1.3-4.9l1.4-1.4l1.4 1.1l1.3 1.9l1.4 .3l1.4-1.1l1.3 .5l1.4 3.2l1.4-.4l1.3-3.8l1.4-.3l1.4 .1l1.3-1.6l1.4-1.9l1.4 .3l1.4 5.1l1.3-3.7l1.4 3.9l1.4-1.9l1.3 3.1l1.4-5.8l1.4-.2l1.3 4.6l1.4-2.5l1.4-1.5l1.3 7.2l1.4-2.1l1.4-3l1.3-4.5l1.4 3.7l1.4-3.6l1.3 1l1.4-.7l1.4 1.8l1.4-.7l1.3 .5l1.4 4.4l1.4 1.4l1.3-4.5l1.4 7.5l1.4 1.2l1.3-5l1.4 .1l1.4 2.5l1.3-4l1.4 1.8l1.4 2.2l1.3-1.3l1.4-.2l1.4-1.2l1.3 .3l1.4-1.2l1.4-3.1l1.3 3.2l1.4 .7l1.4 1.7l1.4-2.5l1.3 1.5l1.4-1.7l1.4 .3l1.3 0l1.4-.3l1.4 .9l1.3 1.7l1.4-6.1l1.4-2.6l1.3 3.8l1.4 3.1l1.4-5.6l1.3 .4l1.4 1.6l1.4 .2l1.3 3.3l1.4-3.1l1.4-3.5l1.3 5.9l1.4 4l1.4-7.5l1.4 4.5l1.3-2.5l1.4-.8l1.4 .9l1.3 1.3l1.4 2.1l1.4-2.8l1.3-.4l1.4-4.9l1.4 1.5l1.3 4.2l1.4-.9l1.4-1l1.3-.2l1.4 3.8l1.4-4.2l1.3 4.1l1.4-.8l1.4-5.7l1.4 1.9l1.3 3.1l1.4-4.4l1.4 1.3l1.3-1.5l1.4-2.6l1.4 7.1l1.3-7.8l1.4 5l1.4 2.9l1.3-7l1.4 5.3l1.4-2l1.3 2.6l1.4-3.2l1.4 .7l1.3 2.3l1.4-1.9l1.4-1.4l1.3-3.3l1.4 3.5l1.4 1.3l1.4-4.5l1.3 14.2l1.4-6.9l1.4-1.8l1.3 3.1l1.4-1.6l1.4 1.6l1.3-3.8l1.4 .6l1.4 6.1l1.3-2.8l1.4-2.8l1.4-.8l1.3 7l1.4-7.4l1.4 .3l1.3 .7l1.4 2l1.4 1.2l1.3 0l1.4-1.1l1.4 .5l1.4-.3l1.3-1.7l1.4-1.3l1.4 3.7l1.3 5.5l1.4-2.9l1.4-3.1l1.3 2.4l1.4-1.8l1.4-.3l1.3-.4l1.4-3.7l1.4 2.1l1.3-.6l1.4-2.6l1.4 2.5l1.3 2.7l1.4-.8l1.4-1.5l1.4-1.7l1.3-1.2l1.4 .4l1.4 5.8l1.3-2.7l1.4-1.7l1.4 3.6l1.3-4.3l1.4 1.9l1.4 .8l1.3-3.1l1.4 7.8l1.4-5.5l1.3 6.5l1.4-7.5l1.4-3.2l1.3 5.1l1.4 1.6l1.4-1.8l1.3-2.6l1.4 5.9l1.4-6.9l1.4 1.8l1.3 1.3l1.4-3.5l1.4 5.2l1.3 1.1l1.4 .5l1.4-6.7l1.3-1.1l1.4 2.5l1.4 2.3l1.3 3.7l1.4-3.6l1.4-2.3l1.3 .4l1.4 4.6l1.4-1.6l1.3-2.2l1.4 4l1.4-1.7l1.3 1.7l1.4 3.2l1.4-4.3l1.4 1.2l1.3-1.1l1.4 .7l1.4-6.4l1.3 1.5l1.4 3.1l1.4-2.6l1.3-1.1l1.4-.2" fill="none" stroke="#0070C0" stroke-width="4.4" stroke-linejoin="round" stroke-linecap="round"/>
<path d="M499.3 1660.7l1.4-.9l1.3 .1l1.4-.2l1.4 1l1.3 .4l1.4-1l1.4 1.7l1.3 .2l1.4-.8l1.4-1.6l1.3 2.2l1.4-.8l1.4-1l1.3 1.5l1.4-.4l1.4-0l1.3-.9l1.4 1.4l1.4-.4l1.3 .8l1.4-1.4l1.4-.9l1.4 1.2l1.3-.1l1.4-.7l1.4 2.3l1.3-1.4l1.4-.1l1.4-.5l1.3-.6l1.4 .7l1.4-.2l1.3 0l1.4-.1l1.4 .2l1.3 0l1.4 .2l1.4-1.6l1.3 1.1l1.4 .4l1.4-.2l1.3-1.6l1.4 1.9l1.4-1.7l1.4 .1l1.3-0l1.4-1.3l1.4 2.1l1.3 .1l1.4-1.7l1.4 1.9l1.3 .6l1.4-.9l1.4-1.1l1.3 1.9l1.4-.4l1.4-.2l1.3 1.8l1.4-.7l1.4-.2l1.3-.1l1.4-.4l1.4-.2l1.4 0l1.3 .5l1.4 .4l1.4 .4l1.3-1.6l1.4 .6l1.4 .6l1.3-1l1.4 .5l1.4-.8l1.3 .2l1.4 1.1l1.4-1.2l1.3-.1l1.4 1l1.4-.2l1.3 1.3l1.4-1.2l1.4-.5l1.3 .2l1.4-2.1l1.4 1.7l1.4 0l1.3-.1l1.4-.1l1.4-.2l1.3 .1l1.4 .6l1.4 .8l1.3-.1l1.4-1.1l1.4 1.9l1.3-.7l1.4 .5l1.4-1.1l1.3 .2l1.4-1.8l1.4 1.2l1.3 1.5l1.4-1.3l1.4 .4l1.3-.8l1.4 1.1l1.4-.3l1.4 1l1.3-1.4l1.4-.4l1.4-.8l1.3 .3l1.4 1l1.4 1.3l1.3-1.4l1.4 1.3l1.4-2.4l1.3 1.5l1.4 .3l1.4-1.2l1.3 .1l1.4-.1l1.4 0l1.3-.2l1.4 1.1l1.4-.5l1.4-1.2l1.3 1.7l1.4 .1l1.4-.5l1.3-.4l1.4 .1l1.4 1.5l1.3-.7l1.4-1.1l1.4 .4l1.3 .1l1.4-.6l1.4 1.6l1.3-.6l1.4-.5l1.4 .7l1.3 .2l1.4 .1l1.4-2.4l1.3 .8l1.4 .5l1.4-.8l1.4 1.1l1.3 2l1.4-1.1l1.4-.1l1.3-.9l1.4-.9l1.4 1.4l1.3-.7l1.4 .4l1.4 1.6l1.3-1.4l1.4 .2l1.4 .4l1.3-.5l1.4 .1l1.4 .7l1.3-.5l1.4-1.5l1.4-3.3l1.3 3.7l1.4 1.2l1.4-1.4l1.4 2.7l1.3-1.7l1.4-1.3l1.4 .9l1.3 1.5l1.4-2l1.4 .3l1.3-.5l1.4 .4l1.4 .6l1.3-.6l1.4 1.1l1.4 .3l1.3-1l1.4 1l1.4-1.9l1.3 .7l1.4 .5l1.4-.9l1.3 .1l1.4 .4l1.4-.8l1.4 .9l1.3-.5l1.4 .6l1.4 .4l1.3 .8l1.4-1.1l1.4-.6l1.3 .8l1.4-.9l1.4 1.2l1.3 .3l1.4-.7l1.4 .2l1.3 .6l1.4-1l1.4 .1l1.3 .1l1.4 0l1.4-.9l1.4 1.7l1.3-1.8l1.4 2l1.4-2.3l1.3 1l1.4-.2l1.4 1.8l1.3 .4l1.4-1l1.4 .1l1.3-1.7l1.4 .4l1.4 .9l1.3 0l1.4-.6l1.4-.3l1.3 0l1.4-.1l1.4-.4l1.3 .7l1.4 .6l1.4-.4l1.4 .3l1.3 0l1.4 .3l1.4 .5l1.3-1l1.4-1.1l1.4 2.6l1.3-.6l1.4-.6l1.4 .1l1.3 .5l1.4-.5l1.4-.7l1.3 0l1.4 1.7l1.4-2l1.3-.1l1.4-.6l1.4 .8l1.3-.2l1.4-.5l1.4 2.9l1.4-1.1l1.3-.7l1.4 .7l1.4-1.8l1.3 1.5l1.4-1l1.4 .1l1.3-.7l1.4 1.1l1.4 .6l1.3-.6l1.4 1l1.4 .1l1.3-1.5l1.4 1l1.4-.9l1.3-.1l1.4 1.6l1.4-.4l1.4-1.9l1.3 1.4l1.4-1.1l1.4 1.6l1.3-1l1.4 1.5l1.4 .1l1.3-1.8l1.4 .8l1.4-.8l1.3 .6l1.4 .9l1.4-1l1.3-1.7l1.4 1.8l1.4 .2l1.3-1.8l1.4 1.4l1.4 0l1.3 0l1.4 .6l1.4-1.1l1.4 1.2l1.3 0l1.4 1.2l1.4-2l1.3-.8l1.4 .7l1.4-.5l1.3-1.4l1.4 .7l1.4 .1l1.3 .4l1.4 1.6l1.4-1.8l1.3 .9l1.4 1l1.4-1l1.3 1l1.4-1.5l1.4 .7l1.3 .1l1.4 1.3l1.4-.8l1.4 .3l1.3-1.6l1.4 .4l1.4 .5l1.3 .2l1.4-.4l1.4 .4l1.3-1l1.4 .5l1.4-.1l1.3-.5l1.4 0l1.4 .8l1.3-.1l1.4 .4l1.4-.9l1.3 .3l1.4 .8l1.4 .3l1.4-1.4l1.3 1.3l1.4-.8l1.4-.6l1.3 1l1.4-.6l1.4 1.4l1.3-.9l1.4-1.7l1.4 1.2l1.3 .4l1.4 .6l1.4-.5l1.3 1.6l1.4-2.8l1.4-.1l1.3 .2l1.4 .9l1.4-.6l1.3 1.8l1.4-.8l1.4 1l1.4-1l1.3 .4l1.4 .7l1.4 .3l1.3-.6l1.4-.7l1.4 .2l1.3-.3l1.4-.2l1.4-0l1.3-.2l1.4 .2l1.4-.4l1.3-.6l1.4 .3l1.4 1.1l1.3-1.6l1.4-.1l1.4 1l1.3-.5l1.4 .8l1.4 .1l1.4-.1l1.3-.7l1.4 1.3l1.4-40.5l1.3-29.3l1.4 29.8l1.4 39.3l1.3 .2l1.4 .3l1.4-.7l1.3-.3l1.4 .4l1.4 .4l1.3-.9l1.4-.2l1.4 .8l1.3-.4l1.4 .7l1.4 .8l1.4-.5l1.3-.1l1.4-1.9l1.4 .3l1.3 .2l1.4 .2l1.4-.7l1.3 .4l1.4 .7l1.4-1l1.3 2l1.4-1.6l1.4-.6l1.3 1.8l1.4-.3l1.4-0l1.3-.4l1.4 2.1l1.4-2.6l1.3-.9l1.4 1.2l1.4-1.3l1.4 1.6l1.3 .7l1.4-1.3l1.4-.1l1.3 .2l1.4 .7l1.4-1.4l1.3 1l1.4 .1l1.4-.1l1.3 .2l1.4-.1l1.4-.6l1.3 1.4l1.4-1.1l1.4 1.6l1.3-2.4l1.4 1.4l1.4-.1l1.3 .5l1.4-1.1l1.4 .4l1.4 .1l1.3 .7l1.4 .4l1.4-1.3l1.3 .6l1.4 .5l1.4-.5l1.3-4.6l1.4 4.6l1.4 1.3l1.3-1.6l1.4 .3l1.4-.4l1.3 1.6l1.4-1.1l1.4-.7l1.3 .2l1.4 .1l1.4-1.5l1.4 .8l1.3 2.1l1.4-1.4l1.4 .8l1.3-2.5l1.4 2.5l1.4 .2l1.3-1.1l1.4 .5l1.4-.6l1.3 1.2l1.4-.3l1.4-.9l1.3 1.5l1.4-2l1.4 .7l1.3-.9l1.4 2.3l1.4-.9l1.3 .2l1.4-.4l1.4-0l1.4-.7l1.3 .8l1.4-.7l1.4 1.2l1.3-.5l1.4-1l1.4-0l1.3 1.3l1.4 .4l1.4-.2l1.3-1.8l1.4-.2l1.4 1.6l1.3-1l1.4 1.2l1.4-2.1l1.3 .2l1.4 1l1.4 .3l1.3-.6l1.4 .1l1.4 .1l1.4 1.2l1.3-1.8l1.4 1.6l1.4 .4l1.3-.8l1.4 .1l1.4-.4l1.3-.1l1.4 1.5l1.4-1.1l1.3-.5l1.4-.9l1.4 .1l1.3 .2l1.4 1.3l1.4-.1l1.3-.6l1.4 .9l1.4-.3l1.4-0l1.3-.7l1.4 .5l1.4 .2l1.3 .5l1.4-.9l1.4 1.3l1.3 .3l1.4-1l1.4 .4l1.3-2.2l1.4-.2l1.4-0l1.3 1.7l1.4-2l1.4 2.6l1.3-.2l1.4-2l1.4 1l1.3 .7l1.4-.7l1.4 .1l1.4 .6l1.3 .2l1.4 .2l1.4 .7l1.3-1.1l1.4-.2l1.4-1.7l1.3 2.4l1.4-1.6l1.4-.2l1.3-.4l1.4 2.4l1.4-1.1l1.3 .2l1.4-.3l1.4-.2l1.3 1.7l1.4-.8l1.4-1.9l1.3 .8l1.4 .5l1.4-.5l1.4 .2l1.3-.7l1.4 .9l1.4-.5l1.3-0l1.4-0l1.4 .3l1.3 1.2l1.4-2.2l1.4 2.3l1.3-1.6l1.4-.8l1.4 1.4l1.3-1.5l1.4 1.2l1.4 1l1.3-.2l1.4-.6l1.4-.2l1.4-.4l1.3 1.6l1.4-2.4l1.4 1.4l1.3-.5l1.4-.3l1.4 .2l1.3 1.8l1.4-.9l1.4 .5l1.3-1.2l1.4 1l1.4 .7l1.3-1.6l1.4 .4l1.4 .9l1.3-.5l1.4 .4l1.4-1l1.3-.8l1.4 .6l1.4 1l1.4-1.1l1.3-.5l1.4 .1l1.4 .9l1.3 1l1.4-.7l1.4 .5l1.3-.8l1.4 .8l1.4-.6l1.3 .3l1.4-.3l1.4-1.1l1.3 2.2l1.4-1.9l1.4 .8l1.3 .3l1.4-1.4l1.4 .7l1.3 1.3l1.4-.7l1.4 .5l1.4-.4l1.3-.9l1.4-.4l1.4 1.4l1.3-.4l1.4-.8l1.4 1l1.3-1l1.4-.1l1.4 .6l1.3-.2l1.4 .3l1.4 1.4l1.3-1.6l1.4 1.1l1.4-0l1.3 .8l1.4-.9l1.4-.2l1.3-.7l1.4 .8l1.4 1l1.4-2l1.3-1.5l1.4 1l1.4-.3l1.3 1l1.4 .1l1.4 .4l1.3-0l1.4-.7l1.4 .4l1.3-.8l1.4 1.1l1.4 .5l1.3-0l1.4-.9l1.4-2l1.3 .8l1.4 1l1.4-.7l1.4 1.2l1.3-.4l1.4-.6l1.4-.3l1.3 1.5l1.4-1.6l1.4-.9l1.3 1l1.4 .3l1.4 1l1.3-1.2l1.4 .2l1.4 1.4l1.3-2.2l1.4 1.2l1.4-0l1.3-.9l1.4 1.9l1.4-.7l1.3 .9l1.4-.5l1.4-.6l1.4-.1l1.3 .8l1.4-.2l1.4-.2l1.3 .8l1.4-2l1.4 .1l1.3-1l1.4 1.8l1.4-1.8l1.3 1.9l1.4-.1l1.4-.9l1.3 1.6l1.4-1.1l1.4 .1l1.3 1.3l1.4-0l1.4-.4l1.3 .9l1.4-.4l1.4 0l1.4-2.5l1.3 1.3l1.4-.3l1.4 1.1l1.3-1l1.4 .2l1.4 .1l1.3-.9l1.4 1.4l1.4 0l1.3-.8l1.4 .9l1.4-.2l1.3 .2l1.4 .2l1.4-.8l1.3 .9l1.4-1.4l1.4-.2l1.4-.6l1.3 1.5l1.4 .4l1.4-.1l1.3-1.6l1.4 .3l1.4-.2l1.3 1.3l1.4 .7l1.4 .5l1.3-.4l1.4-.8l1.4 1.2l1.3-1.8l1.4-.9l1.4 1.8l1.3-.8l1.4-.3l1.4 1.3l1.3-.6l1.4 1l1.4-.3l1.4-0l1.3-1l1.4 .4l1.4-1.7l1.3 1.9l1.4-1l1.4 1.8l1.3-1.2l1.4 .6l1.4-.6l1.3-.7l1.4 .6l1.4-1.2l1.3 1.1l1.4-0l1.4 1.2l1.3-2.3l1.4 .8l1.4 .4l1.3-.2l1.4-1.2l1.4 2.5l1.4-.9l1.3 .8l1.4 .7l1.4-2.1l1.3 .2l1.4 .7l1.4-.5l1.3-.3l1.4 .8l1.4 .1l1.3-.1l1.4-.1l1.4-.4l1.3-1.5l1.4 1.5l1.4-1.1l1.3 2.5l1.4-.9l1.4-2l1.4 2.5l1.3-1.8l1.4 .2l1.4-0l1.3 1.2l1.4 .6l1.4-1.1l1.3-.4l1.4 .6l1.4 .6l1.3-.3l1.4-1.2l1.4 1l1.3-1.9l1.4 1l1.4 .4l1.3 .8l1.4-1.8l1.4 2.1l1.3-.9l1.4-.3l1.4 1.9l1.4-.9l1.3-1.5l1.4 1.1l1.4 1.1l1.3-1.1l1.4-.6l1.4-.4l1.3 2l1.4-.8l1.4-.7l1.3 .9l1.4 .1l1.4-.9l1.3 1l1.4-.5l1.4 0l1.3-.1l1.4-.7l1.4 .6l1.3-.5l1.4 .5l1.4-1.4l1.4 1.6l1.3 .3l1.4-2.1l1.4 1.9l1.3-.1l1.4 .3l1.4-.9l1.3-.6l1.4 1.5l1.4-.8l1.3 .9l1.4-1.5l1.4-.9l1.3 1.6l1.4 .1l1.4 1.1l1.3-2.1l1.4 .3l1.4-.1l1.4 .2l1.3 .7l1.4-.7l1.4 .8l1.3 0l1.4-.4l1.4-.2l1.3 1.4l1.4-.4l1.4 0l1.3-1l1.4-1.2l1.4 1.2l1.3 1.3l1.4-1l1.4-.1l1.3 .7l1.4-.4l1.4 .1l1.3-.4l1.4 1.1l1.4-.7l1.4 .9l1.3-.5l1.4-.3l1.4 0l1.3 .1l1.4-1.3l1.4 .5l1.3-.2l1.4 .5l1.4 .2l1.3-.6l1.4 0l1.4 .2l1.3 .7l1.4 .1l1.4-1l1.3 0l1.4-1l1.4 1.6l1.3-1l1.4 0l1.4 .7l1.4 1.2l1.3-1.6l1.4 .7l1.4 .3l1.3 1.3l1.4-.8l1.4-1.5l1.3-.9l1.4 1.4l1.4 1.1l1.3-1.1l1.4 .5l1.4 .2l1.3-.3l1.4 .6l1.4-.7l1.3-.7l1.4-.6l1.4 2.5l1.4-1.3l1.3-.4l1.4 1.2l1.4-1l1.3-.3l1.4 1.2l1.4-1.1l1.3 0l1.4-.7l1.4 .6l1.3 2.2l1.4-.3l1.4-1.8l1.3 1.1l1.4-1.2l1.4 .2l1.3-.3l1.4 .1l1.4 1l1.3 .3l1.4-1.6l1.4 .6l1.4 .4l1.3 .5l1.4-1.3l1.4 .8l1.3-1.1l1.4 .6l1.4-.5l1.3 1.4l1.4-.8l1.4-.1l1.3 .2l1.4-.6l1.4 1l1.3 .2l1.4-1.3l1.4 .4l1.3 .2l1.4-.1l1.4 .6l1.3-.4l1.4-.6l1.4 .6l1.4-1.4l1.3 2.5l1.4-0l1.4-1l1.3 .3l1.4-2l1.4 2.3l1.3-.7l1.4-1.2l1.4 1.4l1.3 .1l1.4-1.5l1.4 1l1.3 1.9l1.4-1.4l1.4 .6l1.3-.9l1.4 .6l1.4-1l1.3 1.3l1.4 .5l1.4-.8l1.4-1.5l1.3 1.1l1.4-1l1.4 .5l1.3-1.1l1.4 1.3l1.4-1.1l1.3 .3l1.4 1.3l1.4-2l1.3 1l1.4 .9l1.4-.7l1.3-.2l1.4-.1l1.4 .7l1.3 1.3l1.4-.9l1.4-.3l1.4 .1l1.3-1.4l1.4 1.8l1.4-1.1l1.3 1.2l1.4-.3l1.4-1l1.3 .6l1.4 .6l1.4 0l1.3-1.6l1.4 2.2l1.4-1.6l1.3-.7l1.4 1l1.4 1.6l1.3-.3l1.4-.2l1.4-1l1.3-.9l1.4 .5l1.4 .9l1.4-1.1l1.3 1.4l1.4-.3l1.4-1.2l1.3 1.2l1.4-1.3l1.4-.7l1.3 3.1l1.4-1.7l1.4 .5l1.3 .1l1.4-.2l1.4 .7l1.3-.4l1.4 .6l1.4-.9l1.3-.4l1.4-.8l1.4 1.2l1.3 1.3l1.4-1.4l1.4-.5l1.4 1l1.3 0l1.4 .8l1.4-2.2l1.3 2l1.4-1.6l1.4-.3l1.3 .7l1.4-1l1.4-.4l1.3 .6l1.4 .3l1.4-.3l1.3 .1l1.4 .2l1.4-1l1.3 2l1.4-.8l1.4 .5l1.4-.6l1.3-1.6l1.4 1.5l1.4-.2l1.3 1.5l1.4-1l1.4 .7l1.3-.1l1.4 .5l1.4 .9l1.3-3l1.4 1.4l1.4-.5l1.3-.7l1.4 .7l1.4-1.5l1.3 1.8l1.4 .6l1.4-.3l1.3-.5l1.4-.1l1.4 2.1l1.4-1l1.3 .6l1.4-1.2l1.4 .1l1.3-.3l1.4-1.3l1.4 1.1l1.3-.2l1.4 1.4l1.4-.2l1.3-.3l1.4-.3l1.4 .3l1.3-1.7l1.4 1.1l1.4 1l1.3-2.6l1.4 1.2l1.4-.3l1.3 1.1l1.4-.6l1.4 .1l1.4 .8l1.3-.1l1.4-1.5l1.4 1.4l1.3 .5l1.4 .2l1.4-.8l1.3 1.4l1.4-1.1l1.4-1.1l1.3 1.4l1.4-1.4l1.4 0l1.3-.7l1.4 2.3l1.4-1.3l1.3-.7l1.4 .8l1.4 1l1.4-1l1.3-.4l1.4 .8l1.4-.4l1.3-.7l1.4 .6l1.4-.9l1.3 .4l1.4-.7l1.4 1.5l1.3 .8l1.4-.9l1.4-.2l1.3-.6l1.4-.3l1.4 .5l1.3-.7l1.4 1.6l1.4-1l1.3 1.5l1.4-1.1l1.4 .5l1.4-1.5l1.3 1.6l1.4 .2l1.4-.2l1.3 .8l1.4-1.1l1.4-.5l1.3 .8l1.4-.4l1.4-.2l1.3-1.2l1.4 1.6l1.4-.3l1.3-.7l1.4 1.1l1.4-.5l1.3 .6l1.4 1.3l1.4-.8l1.3-.4l1.4-1.7l1.4 0l1.4 .2l1.3 .5l1.4 .6l1.4 0l1.3 0l1.4-.1l1.4-.5l1.3-.6l1.4 1.9" fill="none" stroke="#FF0000" stroke-width="4.4" stroke-linejoin="round" stroke-linecap="round"/>
<path d="M499.3 1712.1l1.4 2.7l1.3-1.5l1.4 1.8l1.4-8.6l1.3 6.9l1.4 5.5l1.4-3.4l1.3-3.4l1.4-1.9l1.4 2.5l1.3-4.9l1.4-5.6l1.4 3.3l1.3-1.6l1.4 2.4l1.4 4.8l1.3 1.1l1.4 8l1.4-4.3l1.3 4.5l1.4-3.1l1.4-6.2l1.4 7.1l1.3 .9l1.4-2.7l1.4 1.2l1.3-6.8l1.4-1.5l1.4 8l1.3 2.6l1.4-1.7l1.4-4.9l1.3 4.3l1.4 2l1.4-1.8l1.3-2.2l1.4-1.4l1.4 2.6l1.3-6.4l1.4 9.6l1.4-.5l1.3 3.1l1.4-3.9l1.4-2.5l1.4-6l1.3 9.4l1.4-2l1.4-1.5l1.3 4.4l1.4 1l1.4-5.1l1.3 2l1.4-9.4l1.4-2.1l1.3 9.3l1.4 .7l1.4-.9l1.3 5.5l1.4-6.5l1.4-4.2l1.3-1.9l1.4-1.8l1.4 5.4l1.4 1.8l1.3-6l1.4-3.1l1.4 7.9l1.3 1.2l1.4-1.8l1.4-.4l1.3-6l1.4 3.9l1.4 .9l1.3-2.2l1.4 4.6l1.4-6.5l1.3-2.2l1.4 3.8l1.4-4.9l1.3 13.2l1.4-8l1.4-4.9l1.3 7.9l1.4-4.8l1.4 6l1.4 .1l1.3-3.5l1.4 5.1l1.4-1.4l1.3 1.2l1.4 1.3l1.4-1.1l1.3 .9l1.4 5.7l1.4-2.3l1.3-.9l1.4-6.6l1.4 7.3l1.3-1.9l1.4-2.6l1.4 2.1l1.3 1.9l1.4-3.5l1.4 3.3l1.3-5.2l1.4-4.6l1.4 3l1.4 4.3l1.3-.4l1.4 0l1.4 2l1.3 2.3l1.4-7.4l1.4 2.6l1.3 5.3l1.4-1.8l1.4 3.2l1.3-7.8l1.4 11.3l1.4-6l1.3-2.6l1.4-.7l1.4-5.3l1.3 .2l1.4-1.9l1.4 3.1l1.4-1l1.3 12.3l1.4-4.3l1.4-3.7l1.3 6.3l1.4-6l1.4 4.3l1.3-3l1.4 .1l1.4-8l1.3 9.1l1.4-3.7l1.4 2.5l1.3 .3l1.4 6.8l1.4 .4l1.3-2.1l1.4-6.6l1.4 3.3l1.3-8.5l1.4 5.2l1.4-3.5l1.4 4l1.3 3.4l1.4-3.8l1.4-5.2l1.3 7.6l1.4 .5l1.4-5.9l1.3 4.3l1.4 7.1l1.4-12.7l1.3 .8l1.4 5l1.4 10.9l1.3-1.2l1.4-4.2l1.4-.6l1.3-3.8l1.4-3.1l1.4-3.6l1.3-.8l1.4 2.7l1.4-1.2l1.4 .1l1.3 1.1l1.4 1.4l1.4-8.5l1.3-1.8l1.4 1.6l1.4 2.1l1.3-2.4l1.4 2.4l1.4 2.7l1.3 1.1l1.4 2.8l1.4 1.3l1.3-.6l1.4-7.1l1.4 4.8l1.3-4.6l1.4-.1l1.4 .7l1.3 1.5l1.4-11.3l1.4 .6l1.4 0l1.3 7.2l1.4 3.6l1.4 11l1.3-10.6l1.4 3.4l1.4 .6l1.3-5.4l1.4 1.2l1.4-2.1l1.3-1.8l1.4 4.2l1.4-3.1l1.3 3.3l1.4 3.1l1.4-5.3l1.3 3.6l1.4-.1l1.4 .2l1.4 7.3l1.3-3.3l1.4-8.8l1.4 5.7l1.3 3.7l1.4 5.9l1.4-11.8l1.3 3.1l1.4 3.7l1.4 0l1.3-5.9l1.4 3.9l1.4-3.1l1.3-1l1.4 .6l1.4 4.6l1.3-1.2l1.4 8l1.4-.5l1.3-5.6l1.4-.2l1.4-4.8l1.4-3.4l1.3-.5l1.4 6.8l1.4-1.9l1.3 7l1.4-5.8l1.4 1.7l1.3-2.9l1.4-2.4l1.4 4.2l1.3-6.3l1.4-4.7l1.4 9l1.3 .5l1.4 1.5l1.4-2.1l1.3 2.3l1.4-1.8l1.4-2.3l1.3 3l1.4-9.5l1.4 8.2l1.4-9l1.3-2.1l1.4 14.9l1.4-2.5l1.3-10.3l1.4-1.7l1.4 7.7l1.3-6.5l1.4 3.9l1.4 8.6l1.3-.6l1.4-8.1l1.4 8.1l1.3-5.6l1.4 .6l1.4-.4l1.3 2.3l1.4-1.4l1.4 5.1l1.4-.4l1.3-5.7l1.4 3.6l1.4-5.5l1.3 13.1l1.4 2.2l1.4-.7l1.3-13.3l1.4 6.8l1.4-4.7l1.3 11.5l1.4 3.5l1.4-5.7l1.3-4.9l1.4-4l1.4 10.6l1.3 2.7l1.4-5.1l1.4-.5l1.3 9.8l1.4-8.7l1.4 5.8l1.4-1.6l1.3-2.6l1.4-9.9l1.4 10.2l1.3-4.6l1.4 5.6l1.4-4.2l1.3 2.3l1.4-5.3l1.4 1.8l1.3-4.5l1.4 .3l1.4 2.3l1.3 .2l1.4 1.9l1.4 6l1.3-7l1.4 2.2l1.4-1l1.3-5.4l1.4 2.4l1.4-.8l1.4 3.8l1.3 3.1l1.4-7.6l1.4-10.3l1.3 4.7l1.4 3l1.4-5.1l1.3 2.6l1.4 3.3l1.4-6.5l1.3 6.6l1.4-8.5l1.4 6.1l1.3-1.9l1.4-5.4l1.4 6.9l1.3 1l1.4 1.1l1.4-2.7l1.4-1.7l1.3 0l1.4 4.8l1.4-1.2l1.3 3.8l1.4 1.1l1.4-7.5l1.3 8.7l1.4-1.4l1.4 9.2l1.3-2.6l1.4-10.8l1.4-3l1.3 3.3l1.4-1l1.4-1.5l1.3 .2l1.4-8.3l1.4 0l1.3 9.5l1.4 4l1.4-2.5l1.4 3.8l1.3-7.8l1.4 1.8l1.4 5.5l1.3 2.4l1.4-.2l1.4 .5l1.3-7l1.4 8.1l1.4-7l1.3-4.4l1.4 3l1.4-2.8l1.3 1.4l1.4 2.1l1.4-1.1l1.3-2.2l1.4-.9l1.4 11.8l1.3-2.2l1.4 7.3l1.4-15l1.4 10.4l1.3-2.5l1.4 .4l1.4 6.9l1.3-5.2l1.4-6.4l1.4 4l1.3 .4l1.4-.9l1.4 1l1.3 0l1.4-3.2l1.4-.4l1.3 4.2l1.4-1.8l1.4-4l1.3 9.9l1.4-5.4l1.4 0l1.4 .5l1.3-5.8l1.4 6.1l1.4 .5l1.3-8.6l1.4 2.8l1.4 5.7l1.3-11.6l1.4 4.6l1.4 9.9l1.3-3.2l1.4-10.1l1.4-5.6l1.3 1.4l1.4 4.2l1.4 .8l1.3-.1l1.4 .4l1.4-8.5l1.3 4.1l1.4 1.4l1.4 4.4l1.4 7.2l1.3-1l1.4-8.5l1.4 3.9l1.3 11.5l1.4-13.7l1.4 4.9l1.3-.2l1.4-8.1l1.4 8.6l1.3 1.9l1.4 4.2l1.4-3.2l1.3 11l1.4-5.8l1.4-5.8l1.3 3.5l1.4-1.8l1.4-7.8l1.3-4.8l1.4 6.1l1.4-3.9l1.4 1.8l1.3 .1l1.4 9.4l1.4-8.9l1.3-2.1l1.4 2.2l1.4-9.2l1.3 12.8l1.4-5.6l1.4 7.7l1.3-7.9l1.4 .6l1.4 2.1l1.3-2.6l1.4-2.7l1.4 .5l1.3-1.8l1.4-.4l1.4 2.1l1.4-.3l1.3 3.3l1.4 6.9l1.4-9.3l1.3 1.4l1.4-8l1.4 11.5l1.3 .1l1.4-3.3l1.4-3.7l1.3-1.5l1.4 9.1l1.4-3.7l1.3-2.4l1.4 7.4l1.4-2l1.3-8.1l1.4 6.3l1.4 2.5l1.3-2.3l1.4-1.1l1.4-1.4l1.4 0l1.3-3.8l1.4 .3l1.4-.3l1.3-2.8l1.4 9.5l1.4-1.5l1.3 .2l1.4-4.6l1.4 2.9l1.3-6.1l1.4-.1l1.4-2.7l1.3 6.4l1.4-3.9l1.4 3.2l1.3 1.9l1.4 4.1l1.4 2.3l1.3-8l1.4 2.9l1.4-4.4l1.4 1.2l1.3-3l1.4-2.5l1.4 7.8l1.3-4.2l1.4 6.5l1.4 2.3l1.3 1.3l1.4-9.4l1.4 13.8l1.3-4.2l1.4 5l1.4 2l1.3 2.8l1.4-6.1l1.4 3.5l1.3-.8l1.4-2.7l1.4-.6l1.4 1l1.3 2l1.4 2.1l1.4-6.4l1.3 9.5l1.4-13.5l1.4 5.9l1.3 1.6l1.4-3.6l1.4 .3l1.3-7.2l1.4 12.8l1.4-10.2l1.3 3.7l1.4-.7l1.4-2l1.3 1.1l1.4 1l1.4 3.7l1.3-7.2l1.4 7.4l1.4 0l1.4-.2l1.3-1l1.4 3.4l1.4 0l1.3-6l1.4 3.2l1.4-2.3l1.3 5l1.4-9.6l1.4 2l1.3-5.2l1.4-3.8l1.4 12.1l1.3-.2l1.4 1.1l1.4 3.7l1.3-8.9l1.4 5.1l1.4 2.2l1.3-13.5l1.4 .8l1.4 6.7l1.4 .6l1.3-4.1l1.4 3.6l1.4-1.6l1.3 6.6l1.4-2.9l1.4-2.3l1.3-.8l1.4 .5l1.4 5.8l1.3 .3l1.4-2.2l1.4-7.9l1.3-.9l1.4 2.7l1.4 10.7l1.3-6.4l1.4 9.6l1.4 6l1.4 1l1.3-5l1.4-9.9l1.4 2.8l1.3-8.1l1.4 2.5l1.4 .3l1.3 5.6l1.4-8.2l1.4-3.7l1.3-8.7l1.4 13.1l1.4-3.8l1.3 7.4l1.4-8.7l1.4 8.2l1.3 2.4l1.4-3.6l1.4 11.5l1.3-.7l1.4-2.8l1.4 3.4l1.4-5.2l1.3-.8l1.4 7.1l1.4-3.5l1.3 0l1.4-9.3l1.4-1.9l1.3 8.2l1.4-8.1l1.4 .3l1.3 1.8l1.4 3.6l1.4-3.2l1.3-.5l1.4-11l1.4 12.4l1.3-2.3l1.4 6.1l1.4 .9l1.3 .4l1.4-2.3l1.4 2.6l1.4 1l1.3-5.6l1.4 0l1.4 3.4l1.3 .9l1.4 .8l1.4 5l1.3-.4l1.4-3.9l1.4 3.7l1.3-5.3l1.4 .6l1.4-7.9l1.3 5l1.4-.8l1.4-7.8l1.3 5.8l1.4 .9l1.4 0l1.3-1.5l1.4-3.1l1.4 1.9l1.4-7.6l1.3 14.1l1.4-9.3l1.4-2.2l1.3 10.2l1.4 9l1.4-12l1.3-1.5l1.4-2.3l1.4-3.3l1.3 4.6l1.4-10.2l1.4 3.2l1.3 3.2l1.4-2.8l1.4 11.9l1.3-3.8l1.4 1.4l1.4-2.9l1.4 6.4l1.3 4.8l1.4-1.9l1.4 3l1.3-3.9l1.4-1.8l1.4-10.2l1.3 2.9l1.4 11.1l1.4-2.2l1.3-3.8l1.4 2.2l1.4-.4l1.3-3.4l1.4-1.5l1.4 7.1l1.3-3.4l1.4-3.4l1.4 4.5l1.3-1.1l1.4 7.4l1.4-3.5l1.4 2.7l1.3-9.3l1.4 5.9l1.4 1.5l1.3-7l1.4-.2l1.4-1.2l1.3 2.3l1.4 5.7l1.4-8.9l1.3 1l1.4-4.1l1.4-1.6l1.3-4.2l1.4 4.4l1.4 4l1.3 2l1.4-1.2l1.4 .8l1.3 1.7l1.4 3.8l1.4-8.2l1.4 3.4l1.3-1.2l1.4 6.4l1.4-4.6l1.3-7l1.4-3.3l1.4 1.9l1.3 5.4l1.4-1.5l1.4-5.5l1.3 4.8l1.4 3.8l1.4 .3l1.3 1.8l1.4-1.4l1.4 3l1.3-2.2l1.4-5.7l1.4 0l1.4-9.1l1.3 .8l1.4 7.4l1.4 9.3l1.3-2.5l1.4-12.4l1.4 3.8l1.3 2.7l1.4-.6l1.4-2.5l1.3 5.3l1.4-2.7l1.4-.9l1.3-6.7l1.4 11.2l1.4-7.8l1.3 .8l1.4 1.7l1.4 .9l1.3-6.7l1.4 8.5l1.4-.9l1.4 2.5l1.3 6.1l1.4-4.4l1.4-10.4l1.3 9.4l1.4 3l1.4-11.9l1.3 12.6l1.4-.8l1.4-5.6l1.3 12.5l1.4-14.8l1.4 4.6l1.3 4.1l1.4-8.9l1.4 6.4l1.3 5.5l1.4-4.6l1.4-2.2l1.3 5.8l1.4 .7l1.4-4.9l1.4-4.2l1.3 9.5l1.4 1.1l1.4-2.8l1.3-6.4l1.4-4.4l1.4 6.2l1.3 .5l1.4-2.4l1.4 7l1.3-3.7l1.4 1.1l1.4-1.4l1.3-.1l1.4-5.7l1.4 4.2l1.3 1.1l1.4-5.8l1.4 7.7l1.4 2.7l1.3-3.3l1.4-3.1l1.4-4.9l1.3 4.3l1.4 8.5l1.4-.1l1.3-.1l1.4-5.9l1.4 2.1l1.3 9.9l1.4-.6l1.4-4.6l1.3-2.6l1.4 .6l1.4-3l1.3 9l1.4 1.5l1.4 4l1.3-7.4l1.4 2.6l1.4-5.4l1.4 4.7l1.3-1.3l1.4-4l1.4-1.2l1.3-3.3l1.4 9.5l1.4-7.2l1.3-1.8l1.4 .9l1.4-5.5l1.3 5.1l1.4 .7l1.4-5.1l1.3-2.6l1.4-2.7l1.4 11.3l1.3-16.5l1.4 1.8l1.4 11.4l1.3-9l1.4 13.7l1.4-5.7l1.4-1.4l1.3-5.7l1.4 7.2l1.4-4.7l1.3-4.5l1.4 .3l1.4-.4l1.3 1.4l1.4 6.7l1.4 .8l1.3 2.9l1.4-1.4l1.4-4.6l1.3-.2l1.4 4.7l1.4-12.5l1.3 4.8l1.4 2.6l1.4-3.8l1.4 2.6l1.3 1.9l1.4 .2l1.4 11.5l1.3-11.5l1.4-3.4l1.4-2.5l1.3 2.6l1.4 4.1l1.4-1.1l1.3-2.6l1.4-2.4l1.4 7.5l1.3 .5l1.4 1.9l1.4-3.8l1.3-6.6l1.4 7.6l1.4 3.3l1.3-6.7l1.4 3.4l1.4-4.4l1.4 3.7l1.3 2l1.4 0l1.4-9.6l1.3 5.1l1.4 5.4l1.4-6.3l1.3 4.8l1.4-8.2l1.4 10.3l1.3-6.4l1.4 6.8l1.4-5.7l1.3 6l1.4-.5l1.4 1.2l1.3-6.1l1.4 10.4l1.4-4.5l1.3-.8l1.4 .8l1.4-5.5l1.4-1.2l1.3 2.4l1.4-2.9l1.4 6.9l1.3-5.8l1.4 1.3l1.4 4.9l1.3-5.1l1.4 .3l1.4-7.9l1.3 12.4l1.4-9.6l1.4 5.8l1.3-7.1l1.4 3.1l1.4-2.6l1.3 5.6l1.4 1.3l1.4-7.5l1.4-3.1l1.3-3l1.4 6.8l1.4-.6l1.3-.9l1.4 4.4l1.4-.1l1.3-6.1l1.4 7.3l1.4-.6l1.3-2.9l1.4-5.2l1.4 3.9l1.3-2.4l1.4 6.7l1.4-7l1.3 .7l1.4 .8l1.4 4.9l1.3 2.7l1.4-3.5l1.4 2.7l1.4 .9l1.3 6.1l1.4-10.6l1.4-1.7l1.3-3.7l1.4 9.3l1.4-2.8l1.3 10.4l1.4 2.4l1.4-7l1.3-7l1.4 2.1l1.4-2.1l1.3-.7l1.4 3.4l1.4-7.8l1.3 2.5l1.4 11.4l1.4 4.6l1.3-.1l1.4 1.7l1.4-2.1l1.4 1.7l1.3-4.8l1.4-3.8l1.4 4.1l1.3-.6l1.4-4.1l1.4 5.1l1.3 3l1.4-5l1.4 5.3l1.3 .2l1.4-11.2l1.4 9.7l1.3-3.5l1.4 4.3l1.4-.4l1.3-2.4l1.4 2.2l1.4-10.1l1.3 .4l1.4 6.9l1.4-3.3l1.4 2.2l1.3-9.8l1.4 8.3l1.4-1.5l1.3 3.1l1.4-2.2l1.4 3l1.3-5.4l1.4 1.9l1.4 1.2l1.3-.9l1.4 5l1.4-1.2l1.3-2.1l1.4-1.7l1.4-9.1l1.3 8l1.4 2.8l1.4-9.4l1.4 7.7l1.3 6l1.4-.5l1.4-1l1.3 2l1.4-3.6l1.4 1.9l1.3-4.4l1.4-6.9l1.4 11.1l1.3 2.9l1.4-6.6l1.4 5.5l1.3 1.8l1.4-7.7l1.4 1.2l1.3-.2l1.4 1.5l1.4-6.5l1.3 .2l1.4 4.5l1.4 1.8l1.4-1.2l1.3 8.2l1.4-3.8l1.4-2.4l1.3-1.9l1.4 3.9l1.4 1.2l1.3 6.4l1.4-8.4l1.4-1l1.3 2.4l1.4-14.7l1.4 4.8l1.3-.9l1.4 6.3l1.4 1l1.3 2.3l1.4 .5l1.4-.9l1.3-.1l1.4-7.1l1.4-1.6l1.4-2.8l1.3 4.7l1.4-1.8l1.4-1.4l1.3 6.6l1.4-1.8l1.4 2l1.3-4.9l1.4 4l1.4-3.7l1.3 11.4l1.4-5.1l1.4-2l1.3-4.8l1.4 12l1.4-11.2l1.3 3l1.4 4.6l1.4-3.1l1.4-1l1.3 1l1.4 7.3l1.4-3.5l1.3-4.8l1.4-3l1.4 3.3l1.3-6.8l1.4 3.3l1.4-6.2l1.3 3.8l1.4 4.4l1.4 2.3l1.3-7.8l1.4-.8l1.4 10.4l1.3 7l1.4 3.3l1.4-4.9l1.3 2.9l1.4-.2l1.4 3.6l1.4-10l1.3-1.4l1.4-4.3l1.4 .7l1.3 0l1.4-4.9l1.4 2.6l1.3 7.6l1.4-3.2l1.4 4.5l1.3-1.1l1.4-2.5l1.4 .8l1.3 8l1.4-2.2l1.4-5.9l1.3 .5l1.4-5.6l1.4 .6l1.3-1.2l1.4 1.7l1.4 6.6l1.4 1.6l1.3 5.3l1.4-10.4l1.4 4.9l1.3-3.4l1.4 1.9l1.4-.9l1.3 2.5l1.4-2.2l1.4 1.5l1.3-9l1.4 12.2l1.4-6.4l1.3 .5l1.4-2.5l1.4 3.5l1.3-2.3l1.4-6.5l1.4-.4l1.4 3.4l1.3 8.5l1.4 3.7l1.4-7.1l1.3 5.8l1.4-8.7l1.4 2.1l1.3 9.1l1.4-5.8l1.4 .5l1.3 3.1l1.4-12.5l1.4 2.2l1.3 1.7l1.4-1.2l1.4-1.7l1.3 4.8l1.4-.5l1.4-6.7l1.3 1.7l1.4 .1l1.4-1l1.4-2.2l1.3 6.1l1.4-1.5l1.4-12.1l1.3 .1l1.4-1.9l1.4-.2l1.3-.7l1.4 3.1l1.4-3.2l1.3-2.6l1.4 6.9l1.4-8.6l1.3 1.3l1.4 3.9l1.4 .8l1.3-6.1l1.4 6.3l1.4 5l1.3 3.2l1.4-.7l1.4 2.7l1.4-5.5l1.3-1.6l1.4 5.7l1.4-6.3l1.3 7.8l1.4 4.6l1.4-1.3l1.3 3.4l1.4-1.9" fill="none" stroke="#0070C0" stroke-width="4.4" stroke-linejoin="round" stroke-linecap="round"/>
<path d="M499.3 1814.8l1.4-.1l1.3 .1l1.4 0l1.4-.1l1.3 .4l1.4-.1l1.4-.6l1.3-0l1.4 .6l1.4 .6l1.3-.3l1.4-.3l1.4-.2l1.3-.5l1.4 .2l1.4 .1l1.3 .4l1.4 .4l1.4-.6l1.3-.1l1.4 .3l1.4 .2l1.4 .2l1.3-.3l1.4 .2l1.4-.4l1.3-.8l1.4 .7l1.4 .7l1.3-.6l1.4 .1l1.4-.3l1.3 .2l1.4-.4l1.4 1.5l1.3-1.6l1.4-.2l1.4 .9l1.3 .2l1.4-.4l1.4-.6l1.3 .9l1.4-.8l1.4 .7l1.4 .1l1.3-.7l1.4-.2l1.4 .1l1.3 .2l1.4-0l1.4 .8l1.3-.6l1.4 .5l1.4-.9l1.3 .9l1.4-.1l1.4-.2l1.3-0l1.4 .2l1.4-.3l1.3 .1l1.4-.2l1.4 .2l1.4-.1l1.3-0l1.4 .4l1.4-.7l1.3 .1l1.4 .3l1.4 .2l1.3-.2l1.4 .2l1.4 .4l1.3-1l1.4 .1l1.4 .4l1.3-.3l1.4-.1l1.4-.1l1.3 .8l1.4-.6l1.4-.3l1.3-.2l1.4 .2l1.4 .2l1.4 .1l1.3-.1l1.4 .3l1.4-.6l1.3 .7l1.4-.2l1.4-.3l1.3 .1l1.4-0l1.4-.4l1.3 .2l1.4 .1l1.4 .1l1.3-.3l1.4-.1l1.4-0l1.3-.3l1.4 1.1l1.4-.3l1.3-.7l1.4 .5l1.4 .2l1.4-.9l1.3 .2l1.4 .8l1.4-.2l1.3-.2l1.4 .7l1.4-.6l1.3 .5l1.4 .2l1.4 .4l1.3-.3l1.4-.2l1.4-.1l1.3-.1l1.4 .2l1.4-.3l1.3 .3l1.4-.8l1.4 .2l1.4 .5l1.3-.2l1.4-.6l1.4 .1l1.3 .4l1.4-.3l1.4 .2l1.3 1.1l1.4 .3l1.4-.8l1.3-.6l1.4 .5l1.4-.5l1.3 .4l1.4-.8l1.4-.1l1.3 .8l1.4-.5l1.4 .1l1.3-0l1.4-0l1.4-1.2l1.4 1.7l1.3-.2l1.4 .3l1.4 .4l1.3-.6l1.4 .1l1.4-0l1.3-.5l1.4 .6l1.4-.5l1.3 .5l1.4-.2l1.4-.3l1.3 .8l1.4-.5l1.4-.2l1.3-.2l1.4 .2l1.4-.2l1.3 .6l1.4-.9l1.4 .2l1.4 .2l1.3 .1l1.4 .6l1.4-.9l1.3 .2l1.4-.8l1.4 1.4l1.3-.3l1.4 .2l1.4-0l1.3-.2l1.4 .1l1.4-.1l1.3 .3l1.4-1l1.4 1.2l1.3-.7l1.4 .1l1.4 .6l1.3-.6l1.4 .4l1.4-1l1.4 .5l1.3 .5l1.4-0l1.4-.7l1.3 .5l1.4-.5l1.4 .1l1.3 .3l1.4-.1l1.4-.2l1.3-.1l1.4-0l1.4 .3l1.3 1.2l1.4-.4l1.4-.6l1.3-1.1l1.4 .6l1.4 .6l1.4-.7l1.3 .3l1.4-0l1.4 .5l1.3 .1l1.4-1l1.4 .5l1.3 .1l1.4-0l1.4 .1l1.3-.1l1.4-.2l1.4-.1l1.3 .1l1.4-.9l1.4 1.3l1.3-.6l1.4 .7l1.4-.3l1.3-.2l1.4-0l1.4 .2l1.4 .1l1.3-.6l1.4-.2l1.4-0l1.3 .5l1.4-.4l1.4-0l1.3 .3l1.4 .1l1.4 .3l1.3-.2l1.4-.3l1.4-.1l1.3 .4l1.4-.4l1.4 .9l1.3-.1l1.4-.7l1.4-.2l1.3 .4l1.4 .3l1.4-.4l1.4-.1l1.3 .3l1.4-.4l1.4 .2l1.3 .4l1.4-.7l1.4 .5l1.3-.4l1.4 .2l1.4-.1l1.3 .3l1.4-.4l1.4-.4l1.3 .4l1.4 .7l1.4-.8l1.3 .2l1.4-.1l1.4 .3l1.4 .1l1.3-.2l1.4 .2l1.4-.1l1.3-.4l1.4 .1l1.4 .1l1.3 .7l1.4-.8l1.4-.5l1.3 1.4l1.4-1.1l1.4 1.1l1.3-.6l1.4 .1l1.4-.1l1.3 .4l1.4-.1l1.4-0l1.3-.3l1.4-.3l1.4-.1l1.4-.2l1.3 1l1.4-.3l1.4-0l1.3-.1l1.4 .2l1.4-.4l1.3 .1l1.4-0l1.4 .4l1.3-.5l1.4 .1l1.4 .7l1.3-.6l1.4 .3l1.4-.1l1.3 .1l1.4 .2l1.4 .1l1.3-.9l1.4 .6l1.4-.3l1.4-.3l1.3 .2l1.4 .3l1.4 .1l1.3-.6l1.4 .5l1.4-.1l1.3 .5l1.4-0l1.4-.6l1.3-.4l1.4 .1l1.4 .3l1.3 .1l1.4-.4l1.4 .4l1.3 .2l1.4-.1l1.4-.5l1.4 .6l1.3-.6l1.4 .3l1.4-1l1.3-4.5l1.4 4.7l1.4 .3l1.3 1.3l1.4-.9l1.4-.2l1.3 .6l1.4 .4l1.4-.1l1.3-1.2l1.4 .6l1.4-.7l1.3 .6l1.4 .8l1.4-.9l1.3-.3l1.4-.1l1.4 .5l1.4 .2l1.3 .2l1.4-0l1.4-.4l1.3 .3l1.4 .5l1.4-.4l1.3 .4l1.4-.4l1.4 .1l1.3-.2l1.4-.5l1.4-.3l1.3 1.7l1.4-1.1l1.4-.4l1.3 .6l1.4 .1l1.4-.5l1.3-0l1.4-0l1.4 .2l1.4-0l1.3 .3l1.4-1.2l1.4-0l1.3 .7l1.4-.1l1.4 .1l1.3-.1l1.4-.3l1.4 .6l1.3 .1l1.4-.2l1.4 .1l1.3-.1l1.4-0l1.4 .4l1.3-.2l1.4 .9l1.4-.4l1.4-.7l1.3-.5l1.4 .6l1.4 .2l1.3-.4l1.4 .2l1.4-.3l1.3 .2l1.4-.4l1.4 .9l1.3-1.1l1.4 .8l1.4 1.1l1.3-1.3l1.4 .5l1.4 .2l1.3-.5l1.4-.5l1.4 .7l1.3-.2l1.4-.3l1.4-0l1.4 .4l1.3-0l1.4-.2l1.4 .1l1.3-0l1.4 .3l1.4-.8l1.3 .3l1.4 .1l1.4-.2l1.3 .3l1.4-.7l1.4 .6l1.3 .4l1.4 .2l1.4-1l1.3 1.3l1.4-.4l1.4-.4l1.3 .6l1.4-.1l1.4-.5l1.4 .2l1.3-.5l1.4 .9l1.4 .2l1.3 .1l1.4-1.3l1.4-.3l1.3 .6l1.4-.1l1.4 .7l1.3-.5l1.4-.6l1.4 .3l1.3 .5l1.4-.2l1.4-.5l1.3 .9l1.4-.1l1.4-.5l1.4-.9l1.3 .8l1.4-.2l1.4 .2l1.3 .5l1.4-0l1.4-0l1.3-.4l1.4-.6l1.4 1.6l1.3-1.6l1.4 .5l1.4 .3l1.3 .3l1.4-.7l1.4 .8l1.3-.1l1.4-.2l1.4-.3l1.3-0l1.4-.1l1.4 .5l1.4-.9l1.3 .9l1.4-.2l1.4-.2l1.3 .8l1.4-.6l1.4 .1l1.3 .2l1.4-.9l1.4 .5l1.3-.2l1.4-.2l1.4 .8l1.3-.9l1.4 .4l1.4-.2l1.3 .1l1.4 .4l1.4-.3l1.3 .1l1.4 .2l1.4-.2l1.4-.2l1.3 .6l1.4-.4l1.4 .3l1.3-.6l1.4 .5l1.4 .2l1.3-.3l1.4 .1l1.4 .1l1.3-.6l1.4-.3l1.4 .4l1.3 .4l1.4-1.2l1.4 1.3l1.3-.9l1.4 .7l1.4 .1l1.4 .2l1.3-.2l1.4 .7l1.4-.6l1.3 .2l1.4-.1l1.4-.5l1.3 .1l1.4-.1l1.4-.2l1.3 .1l1.4 .1l1.4 .1l1.3 .3l1.4-.5l1.4 .1l1.3-.5l1.4 .2l1.4-.4l1.3 1.3l1.4-.7l1.4 0l1.4 .5l1.3-.2l1.4 .3l1.4 0l1.3 .1l1.4-.6l1.4 0l1.3-.4l1.4 .7l1.4-.9l1.3 .7l1.4-.3l1.4 .5l1.3-.3l1.4 .3l1.4-.8l1.3 .5l1.4 0l1.4 .7l1.3-1.1l1.4 .1l1.4 .7l1.4 .1l1.3-1.2l1.4 0l1.4 .4l1.3 .4l1.4 0l1.4-.1l1.3-.4l1.4 .9l1.4-.4l1.3 .1l1.4-.2l1.4 .1l1.3 0l1.4 .4l1.4-.5l1.3 .4l1.4-.6l1.4 .3l1.4 0l1.3-.7l1.4-.1l1.4 .9l1.3-.4l1.4 0l1.4 .4l1.3-.2l1.4-.7l1.4 .7l1.3 .1l1.4-.6l1.4 .1l1.3 .7l1.4-.4l1.4 .1l1.3 .8l1.4-.6l1.4-.2l1.3 .3l1.4 .1l1.4 .3l1.4-1l1.3 .7l1.4-.3l1.4 .4l1.3-.6l1.4 .5l1.4-.6l1.3 .3l1.4-.3l1.4 .5l1.3-.8l1.4 .8l1.4 .1l1.3-.3l1.4-.1l1.4 .1l1.3-.6l1.4 .2l1.4 .4l1.3-.1l1.4 .4l1.4 0l1.4 .3l1.3-.8l1.4-.4l1.4 .2l1.3 .8l1.4-.5l1.4-.3l1.3 .3l1.4 .4l1.4-.3l1.3-.2l1.4 .2l1.4 .8l1.3-.7l1.4-.4l1.4 .6l1.3 .1l1.4-.1l1.4 .2l1.3-.3l1.4 .4l1.4-.6l1.4 .2l1.3-.5l1.4 .3l1.4-.4l1.3 .5l1.4 .3l1.4-.8l1.3 .7l1.4-.6l1.4 .8l1.3-.5l1.4 .2l1.4-.1l1.3-.6l1.4 .5l1.4-.1l1.3 .1l1.4-.7l1.4-0l1.4 .7l1.3 .3l1.4 .5l1.4 .1l1.3-.4l1.4-.7l1.4-.2l1.3 .5l1.4-.3l1.4-.2l1.3 .7l1.4-.5l1.4-.5l1.3 .7l1.4 0l1.4 .2l1.3-.6l1.4 1.1l1.4-.9l1.3 .2l1.4 .5l1.4-.9l1.4 .7l1.3-.3l1.4 .4l1.4-.2l1.3-1.4l1.4 .7l1.4 .7l1.3 0l1.4-.8l1.4 .5l1.3 .8l1.4-1.3l1.4 .8l1.3 .2l1.4-1.1l1.4 .5l1.3-.4l1.4 .6l1.4 .6l1.3-.4l1.4 .2l1.4-1l1.4 .3l1.3 .5l1.4-.2l1.4 .3l1.3 .3l1.4-.2l1.4 .1l1.3 .6l1.4-.8l1.4 .3l1.3-.1l1.4-.7l1.4 .3l1.3-.4l1.4-.1l1.4 1l1.3-.5l1.4-.1l1.4 .1l1.4 .3l1.3-.5l1.4 .4l1.4-.5l1.3-.3l1.4 .6l1.4-.3l1.3 .1l1.4 0l1.4 .1l1.3 0l1.4 .1l1.4 .3l1.3-.2l1.4-.2l1.4 0l1.3 .5l1.4 .2l1.4-.7l1.3-.1l1.4-.3l1.4-.3l1.4 .7l1.3-.1l1.4 .1l1.4-.9l1.3 .8l1.4-.2l1.4 .3l1.3-.2l1.4 .1l1.4 .4l1.3-.4l1.4 .5l1.4-.2l1.3-.2l1.4 0l1.4 .3l1.3-.2l1.4 .3l1.4-.2l1.3-.4l1.4 1l1.4-.3l1.4 .2l1.3-.9l1.4 .2l1.4-.5l1.3-.1l1.4 .6l1.4 .4l1.3-.7l1.4 .6l1.4-.6l1.3-.3l1.4 .5l1.4 .8l1.3-.1l1.4-.3l1.4-1.3l1.3 1.3l1.4-.7l1.4-.1l1.4 1.2l1.3-.3l1.4-1.1l1.4 .3l1.3 0l1.4 .1l1.4 .5l1.3-.2l1.4 .1l1.4 0l1.3 .5l1.4-.5l1.4 .1l1.3-.1l1.4 0l1.4-.4l1.3 .6l1.4 0l1.4-.4l1.3 .1l1.4 .2l1.4-.5l1.4 .2l1.3 .1l1.4 .3l1.4 .1l1.3 .1l1.4-.5l1.4-.3l1.3 .9l1.4-1.3l1.4 .7l1.3-.4l1.4-.4l1.4 .6l1.3 .2l1.4-.4l1.4 .5l1.3-.4l1.4 .8l1.4-.5l1.3 .1l1.4 .5l1.4-.9l1.4 .5l1.3 .2l1.4-.3l1.4 .1l1.3-.5l1.4 1l1.4-1.5l1.3 .7l1.4 .6l1.4-.3l1.3-.1l1.4 0l1.4-.1l1.3 .3l1.4-.3l1.4-.7l1.3 .7l1.4 .5l1.4-.3l1.4-1l1.3 1l1.4-.9l1.4 1.3l1.3-.8l1.4 .1l1.4 .1l1.3 .4l1.4-.1l1.4 .1l1.3-.4l1.4 0l1.4 .5l1.3-.3l1.4-.3l1.4-.7l1.3 .9l1.4 .6l1.4-.4l1.3 .3l1.4-1.2l1.4-.1l1.4 .9l1.3 .5l1.4-.2l1.4 .8l1.3-1.5l1.4 .1l1.4 .4l1.3-.4l1.4-.3l1.4 .6l1.3 0l1.4 .1l1.4-.4l1.3 .5l1.4-.1l1.4-.2l1.3-.3l1.4 .4l1.4 .3l1.3-.3l1.4-.4l1.4 .4l1.4 .1l1.3 .6l1.4-1l1.4 .1l1.3-.1l1.4 .1l1.4-.4l1.3-.3l1.4-.1l1.4 .5l1.3 .7l1.4 .3l1.4-1l1.3-.2l1.4 .2l1.4 .5l1.3-.2l1.4-.3l1.4-.2l1.4 .4l1.3 .7l1.4-.9l1.4 .1l1.3 .5l1.4 .2l1.4-.4l1.3-.1l1.4-.3l1.4 .8l1.3-.4l1.4 .9l1.4-.4l1.3 .3l1.4-.5l1.4 .6l1.3-.7l1.4 .5l1.4-1.5l1.3 .2l1.4 .2l1.4 .3l1.4 .6l1.3-.1l1.4-.6l1.4 .1l1.3 0l1.4-.5l1.4 .5l1.3 .3l1.4-.9l1.4 1l1.3-.1l1.4 .1l1.4-.2l1.3 .1l1.4-.2l1.4 0l1.3-.4l1.4 0l1.4 .5l1.3-.6l1.4 .2l1.4 .2l1.4-.1l1.3 .5l1.4 .1l1.4-.5l1.3-.3l1.4 .3l1.4 .1l1.3 .2l1.4-.3l1.4 .7l1.3-.4l1.4-.5l1.4-.1l1.3 .2l1.4 .2l1.4 .1l1.3-.6l1.4 .5l1.4-.4l1.3 .7l1.4-.4l1.4 0l1.4 .3l1.3-.2l1.4 .2l1.4-.2l1.3-.8l1.4 .8l1.4 .1l1.3-.4l1.4-.1l1.4 .5l1.3 0l1.4-.3l1.4-.9l1.3 .9l1.4 .2l1.4-.1l1.3-.4l1.4 .3l1.4 .5l1.4-.5l1.3 .8l1.4-.2l1.4-1.1l1.3 .9l1.4-.5l1.4-.2l1.3-.1l1.4 1l1.4-.1l1.3-.1l1.4-.1l1.4 0l1.3 .4l1.4-.1l1.4-.7l1.3 0l1.4 .2l1.4-.3l1.3 .2l1.4-.7l1.4 .6l1.4-.3l1.3-.5l1.4 .5l1.4 .2l1.3 0l1.4 .2l1.4-.2l1.3 0l1.4 1.1l1.4-1.3l1.3 1l1.4-.1l1.4-.8l1.3 .5l1.4 .2l1.4 0l1.3-.4l1.4 .4l1.4-.3l1.3-.3l1.4 .6l1.4-.4l1.4 .5l1.3-.8l1.4 1.4l1.4-.7l1.3-.1l1.4-.5l1.4 .2l1.3 .5l1.4 .2l1.4-.3l1.3-.6l1.4 .3l1.4-.2l1.3 .6l1.4 .1l1.4-.1l1.3-.9l1.4 1.5l1.4-.5l1.4-1.4l1.3-4.6l1.4 4.6l1.4 .4l1.3-.7l1.4 .8l1.4 1.2l1.3-.3l1.4-.4l1.4 .1l1.3-.7l1.4 .4l1.4-.2l1.3 .3l1.4 .4l1.4-.6l1.3 .6l1.4 .5l1.4-.6l1.3 .1l1.4 .4l1.4-.5l1.4-.6l1.3-.1l1.4 .5l1.4-1l1.3 .7l1.4-.7l1.4 .7l1.3 .1l1.4-.1l1.4 .6l1.3 .5l1.4-1.1l1.4 .8l1.3-.4l1.4 .1l1.4-.2l1.3 .2l1.4-.9l1.4 .4l1.3 0l1.4 .3l1.4-.3l1.4 .9l1.3-1l1.4-.2l1.4 .9l1.3-.5l1.4 .2l1.4-.9l1.3 .8l1.4 .6l1.4-.3l1.3-.2l1.4-.3l1.4 .3l1.3 .9l1.4-1l1.4 0l1.3 .5l1.4-.4l1.4-.4l1.4 .9l1.3 .1l1.4-.2l1.4-.6l1.3 .2l1.4-.4l1.4 .9l1.3-.4l1.4 .1l1.4-.3l1.3-.1l1.4 .1l1.4-.1l1.3 .3l1.4-.1l1.4 .2l1.3-.9l1.4 .1l1.4 .4l1.3-.8l1.4 .2l1.4 .1l1.4 .6l1.3-.1l1.4 .4l1.4 0l1.3 .2l1.4 0l1.4-.7l1.3 .6l1.4-.3l1.4 .5l1.3-.6l1.4 .1l1.4-.2l1.3 .3l1.4-.1l1.4 .3l1.3-.7l1.4 1.1l1.4-.6l1.3 0l1.4 .1l1.4-.4l1.4-.2l1.3 1.1l1.4-1.3l1.4 .5l1.3 .6l1.4-1l1.4-.3l1.3 1.1l1.4-.4" fill="none" stroke="#FF0000" stroke-width="4.4" stroke-linejoin="round" stroke-linecap="round"/>
<path d="M499.3 1871.1l1.4 3.2l1.3-7.2l1.4-2.1l1.4 7.2l1.3-8.4l1.4 3.1l1.4-2l1.3 1.3l1.4 7.4l1.4-.5l1.3-4l1.4-9l1.4 1.7l1.3-.1l1.4 4.6l1.4-.8l1.3 2.4l1.4-6.8l1.4 8.5l1.3 .3l1.4 1.5l1.4-1.1l1.4-1.9l1.3-2.4l1.4 2.7l1.4-.2l1.3-.5l1.4 1.9l1.4-4.8l1.3 10.2l1.4-.2l1.4 6.6l1.3 2.6l1.4-11l1.4-2.1l1.3 .9l1.4-.8l1.4-1l1.3 3.5l1.4-2.5l1.4 3l1.3 1.7l1.4-5.8l1.4-4.4l1.4 7.5l1.3 7l1.4-1.8l1.4-5.4l1.3 5.7l1.4-11.1l1.4 2.2l1.3 8.3l1.4-6.6l1.4 3.8l1.3-4.9l1.4 .8l1.4-2.8l1.3 4.1l1.4 3.6l1.4-7.5l1.3-6.3l1.4 7.4l1.4 4.3l1.4-6.5l1.3-.2l1.4 3.9l1.4-2.2l1.3-2.4l1.4-4.2l1.4-.1l1.3-4.6l1.4 3l1.4 4.8l1.3-3.3l1.4 9.3l1.4-1.8l1.3-1.5l1.4 .5l1.4-.2l1.3-3.4l1.4 2.7l1.4 1.2l1.3-5.2l1.4-1.1l1.4-1.6l1.4 5.8l1.3 .3l1.4 10l1.4-7.9l1.3-2.1l1.4 4.4l1.4-2.3l1.3 1l1.4 2.1l1.4 .3l1.3 7l1.4-9.3l1.4 .2l1.3-0l1.4-5.2l1.4 2.6l1.3 .3l1.4-.8l1.4-3.1l1.3 1.2l1.4 4.9l1.4-4.5l1.4 6.5l1.3-2.8l1.4 3.9l1.4-3.5l1.3-3.6l1.4 1.7l1.4 2.8l1.3 3.5l1.4-6.9l1.4 2.1l1.3-.8l1.4 5.2l1.4-0l1.3-2.7l1.4-.5l1.4-.9l1.3 6.1l1.4 .2l1.4 8.6l1.4-8.7l1.3-9.6l1.4 12l1.4-2.7l1.3-6.3l1.4 .6l1.4 3.5l1.3 2.2l1.4 6l1.4-7.4l1.3-6.2l1.4 3.5l1.4-1.9l1.3 2.6l1.4-6.1l1.4 8.2l1.3 2.3l1.4-4.7l1.4 6.2l1.3-6.9l1.4-2.8l1.4-1.5l1.4 3.6l1.3-.9l1.4 6.4l1.4-.4l1.3 7.4l1.4-5l1.4 6.7l1.3-8.4l1.4-2.9l1.4 .2l1.3 1.7l1.4 4.5l1.4-4.6l1.3-3.7l1.4-5.8l1.4 10.9l1.3-2l1.4-2.1l1.4-1l1.3 8.2l1.4-8.1l1.4 1.6l1.4 .5l1.3-7.5l1.4 2.7l1.4-4.5l1.3 7l1.4 1.1l1.4-1.8l1.3 7.8l1.4-2.9l1.4-11.9l1.3 14.4l1.4-11.2l1.4 1.3l1.3-.2l1.4 4.5l1.4-10.2l1.3 9.4l1.4-.3l1.4-.1l1.3 .5l1.4 1.3l1.4-6.3l1.4 10.6l1.3 2.1l1.4-8.3l1.4 8l1.3-6.8l1.4 2.4l1.4-2l1.3-1.6l1.4-1.1l1.4-4l1.3 11.1l1.4-.4l1.4-5l1.3 1.5l1.4 .1l1.4-.3l1.3 8.3l1.4-6.3l1.4 .1l1.4-8.2l1.3 .5l1.4 4.6l1.4-2.7l1.3 6.9l1.4-3l1.4-4.8l1.3 0l1.4-6.9l1.4 6.5l1.3 1.1l1.4 5.2l1.4-6.7l1.3 3.2l1.4-4.3l1.4-1.5l1.3 2.7l1.4-5.8l1.4 .8l1.3 4l1.4-2.1l1.4 .1l1.4 8.7l1.3-6.5l1.4 .6l1.4 3.1l1.3-10.9l1.4 1.5l1.4-1.4l1.3 5.7l1.4 5l1.4-1.3l1.3-1.1l1.4 1.2l1.4-6l1.3 2.6l1.4 10.4l1.4-4.9l1.3 1.6l1.4-5.6l1.4-25.5l1.3 21.4l1.4 17.4l1.4-.2l1.4-9.9l1.3-2.4l1.4-1l1.4-2.6l1.3-.7l1.4 1.2l1.4-1.2l1.3 2.9l1.4 1.4l1.4-7.4l1.3 6.4l1.4 .3l1.4 1.7l1.3 0l1.4 .8l1.4 4.6l1.3-1.2l1.4 3.9l1.4-5.1l1.4-4.5l1.3 1.2l1.4-1l1.4 2.8l1.3 2.1l1.4 .8l1.4-6.7l1.3 3.1l1.4 2.6l1.4-.2l1.3 .2l1.4 1.5l1.4-1.7l1.3 4.6l1.4-2.1l1.4-4l1.3-2.3l1.4-2.3l1.4 2.9l1.3 4.4l1.4-4.6l1.4 .7l1.4 .5l1.3-7.2l1.4 2.8l1.4 12.6l1.3-5.5l1.4 2.7l1.4-6.9l1.3 2.8l1.4 5.8l1.4-.9l1.3 3.4l1.4-6.7l1.4-.2l1.3-5.7l1.4 3.6l1.4 4.6l1.3-1.1l1.4-5.7l1.4 8l1.3-7.8l1.4-8.5l1.4 4.3l1.4 2.6l1.3 .9l1.4-4.3l1.4 .4l1.3 11.7l1.4-2.1l1.4 5.9l1.3-4.5l1.4 1.1l1.4 5.4l1.3-5.6l1.4-.6l1.4-4.1l1.3 1.5l1.4-8.1l1.4-1l1.3-7.7l1.4-12.7l1.4 12.1l1.4 12.6l1.3 .2l1.4-7l1.4-1.6l1.3 .2l1.4 6.4l1.4-.6l1.3-6.8l1.4 2.9l1.4-1l1.3-10.4l1.4 10.9l1.4 1.5l1.3 .6l1.4 1.9l1.4-.7l1.3-5.3l1.4 9l1.4-.5l1.3-1.5l1.4-.6l1.4 7l1.4-3.9l1.3-2.5l1.4 3.1l1.4-3l1.3 7.1l1.4-2.9l1.4-3l1.3-.6l1.4-.6l1.4 3.5l1.3-4.2l1.4-8.3l1.4 1.5l1.3 1.5l1.4 4.4l1.4 3.1l1.3 6.3l1.4-11.6l1.4 2.2l1.3-1.5l1.4-2.5l1.4 13l1.4-7.7l1.3 1.6l1.4-4.8l1.4-2.1l1.3 .2l1.4-.6l1.4 .9l1.3-6.4l1.4 11l1.4-2l1.3-3l1.4 4.6l1.4 3.8l1.3-4.7l1.4-2.3l1.4 2.1l1.3-.9l1.4 2.1l1.4 1.5l1.4-10.7l1.3 2.8l1.4-3.9l1.4 1.1l1.3 2.4l1.4-2.5l1.4 2.2l1.3-.4l1.4 14.3l1.4-8.1l1.3 1l1.4-5.8l1.4-4.2l1.3 2.9l1.4 3l1.4 4.3l1.3-.7l1.4 4l1.4-.5l1.3 4.9l1.4-5.3l1.4-4l1.4 3.1l1.3 3.1l1.4-5.1l1.4 1.9l1.3-7.2l1.4 4.5l1.4 6l1.3 3l1.4-9.1l1.4-.5l1.3 3.8l1.4-2.2l1.4-3.4l1.3 1.6l1.4 2.4l1.4-4.6l1.3 3l1.4 1.4l1.4-2.6l1.3 5.7l1.4 6.7l1.4-5.2l1.4 1.2l1.3 .4l1.4-1.1l1.4 .4l1.3 2.6l1.4-1.6l1.4 7.8l1.3-6.2l1.4 1.5l1.4 1.2l1.3-4.1l1.4-2.5l1.4-3.5l1.3-.6l1.4-1.1l1.4 7.6l1.3-6.7l1.4 10.2l1.4-7.5l1.4 3.5l1.3-2.6l1.4 4.7l1.4 1.8l1.3-3.4l1.4 .6l1.4-.2l1.3-9.8l1.4 6.4l1.4-9.5l1.3 6.4l1.4 4.7l1.4-4.7l1.3 4.8l1.4 4.9l1.4 1.6l1.3-6.4l1.4-4.2l1.4-1.3l1.3 .1l1.4 2.6l1.4-1.5l1.4-1.2l1.3 4.4l1.4 2.9l1.4-4.3l1.3-3.8l1.4-7.9l1.4 14.3l1.3-6.1l1.4-1.3l1.4 1.7l1.3 6.3l1.4-7l1.4-4.6l1.3-3.5l1.4 11.8l1.4-.8l1.3 1.4l1.4 .8l1.4 .6l1.3-2.3l1.4-.7l1.4 1.3l1.4 5.7l1.3-3.6l1.4-1.2l1.4-7.1l1.3 .4l1.4-.8l1.4 7l1.3 2.3l1.4 1.5l1.4 4.3l1.3-5.5l1.4 1.6l1.4 .9l1.3-4.5l1.4 12.2l1.4-6.4l1.3 6.1l1.4-.9l1.4-3.6l1.4-.5l1.3-6.6l1.4 .7l1.4 1.9l1.3 .7l1.4-10.4l1.4 4l1.3 3.7l1.4-6l1.4 4.2l1.3 2.7l1.4-9.9l1.4 2.9l1.3-2.4l1.4 4.1l1.4 4.9l1.3 .8l1.4-.6l1.4-1.3l1.3 1.9l1.4 2l1.4-4.3l1.4 2.7l1.3-1.2l1.4 1l1.4-3.1l1.3 1.7l1.4 11.5l1.4-12.2l1.3 6.1l1.4-4.8l1.4 .7l1.3 4.8l1.4 3.4l1.4-10.5l1.3 6.1l1.4-2.2l1.4-1.1l1.3 1l1.4-.9l1.4 3.6l1.3-1l1.4-5.3l1.4-1.5l1.4 6.8l1.3 2.7l1.4-5.1l1.4-1.1l1.3-2.1l1.4 .5l1.4-4l1.3 6.7l1.4 2.4l1.4-2.2l1.3-6l1.4 6.6l1.4-2.5l1.3-4.6l1.4-3.7l1.4 6.9l1.3 .6l1.4-4l1.4 1.4l1.4-.6l1.3-3.4l1.4 7.5l1.4-6.9l1.3 1.2l1.4 4l1.4-4.4l1.3-3.9l1.4 8.4l1.4 2.1l1.3 1.8l1.4-11.3l1.4 14.3l1.3-.8l1.4-2.7l1.4-7.8l1.3 6.2l1.4-3.5l1.4 1.3l1.3-3.7l1.4 3.8l1.4-4.2l1.4 .1l1.3 4.6l1.4-.6l1.4 2.3l1.3-7.4l1.4 9.4l1.4-7.7l1.3 2.9l1.4 3.9l1.4 4.1l1.3 .3l1.4 4.7l1.4-4.7l1.3 .9l1.4-2.1l1.4-5.2l1.3 6.6l1.4-7.8l1.4 1.5l1.3 5.2l1.4-1.6l1.4 1.6l1.4-4.6l1.3 3.5l1.4 4.5l1.4-5.6l1.3 .1l1.4 5.2l1.4-5.1l1.3-3.2l1.4-4.2l1.4-1.4l1.3 .5l1.4 1.5l1.4 5.7l1.3-.3l1.4 4.5l1.4-1.5l1.3 .3l1.4 1.8l1.4 .6l1.3-1.1l1.4-4.1l1.4 9l1.4 3.2l1.3-4.1l1.4 4.7l1.4-9.4l1.3 .1l1.4 1l1.4-1.1l1.3-.7l1.4 .5l1.4-7.1l1.3 2.3l1.4 7.5l1.4-4l1.3-1.6l1.4 7.9l1.4-14.4l1.3 6.7l1.4 11.3l1.4-4l1.4-8.4l1.3 6.9l1.4 8.9l1.4-3.2l1.3-7.1l1.4-.9l1.4 3.7l1.3-4.5l1.4-2.9l1.4 5.2l1.3 3.9l1.4-.1l1.4-7.7l1.3 5l1.4 .3l1.4 1.9l1.3 2l1.4-3.2l1.4-8l1.3-2.1l1.4 1.1l1.4 7l1.4-8.6l1.3-2l1.4 5.5l1.4-.3l1.3-1.9l1.4 1.5l1.4-1.7l1.3-.6l1.4 3l1.4-2.7l1.3-1.8l1.4-2.1l1.4 .2l1.3-1.7l1.4-.7l1.4 4.2l1.3 1.7l1.4-3.4l1.4-.9l1.3 .9l1.4 5.4l1.4 2.3l1.4-2l1.3-3.8l1.4 3.7l1.4-6.2l1.3 1.8l1.4 4.3l1.4-5.7l1.3-8.8l1.4 15.6l1.4-9.6l1.3 2.5l1.4-4.3l1.4-6l1.3 2.7l1.4 10.7l1.4-3.4l1.3-1.1l1.4-2.4l1.4 4.9l1.4-1.8l1.3-4.2l1.4 1.9l1.4 .9l1.3 3.3l1.4-5l1.4 .9l1.3 2.4l1.4-2.2l1.4-.7l1.3-4.6l1.4 13.8l1.4-7.3l1.3 .3l1.4-.4l1.4 .6l1.3-4l1.4-3.9l1.4-3l1.3 4.2l1.4 8l1.4 3.1l1.4-9.4l1.3 5.3l1.4-5.4l1.4-.5l1.3-2.1l1.4 6.3l1.4 1.2l1.3-.3l1.4-.4l1.4 .6l1.3-8.6l1.4-2.3l1.4 7.3l1.3 1.2l1.4-0l1.4-.7l1.3 4.1l1.4-8.6l1.4 2l1.3 3l1.4 .6l1.4 1.5l1.4 7l1.3-5.2l1.4 3.7l1.4-7.6l1.3 5l1.4-3l1.4 2.5l1.3-4.6l1.4 7.5l1.4-2.8l1.3-3l1.4 4.2l1.4 3.3l1.3-2.6l1.4 .2l1.4 2.5l1.3-4.6l1.4-6.2l1.4 2.8l1.4 .7l1.3 1.4l1.4-2.4l1.4-2.2l1.3 4.6l1.4 .7l1.4-1.9l1.3 2.9l1.4-1l1.4 1.4l1.3 7.5l1.4-6.2l1.4 3.8l1.3 3.3l1.4-6.7l1.4-5.1l1.3 8.1l1.4-7.5l1.4 3l1.3-1.6l1.4 5.1l1.4-3.4l1.4 10.6l1.3-.3l1.4-5.7l1.4-.2l1.3 1.5l1.4-4.3l1.4 4.2l1.3-3.5l1.4-3.6l1.4 2.1l1.3-2.2l1.4-.9l1.4 3.7l1.3-3.8l1.4 3.5l1.4-5l1.3 7.1l1.4-9.8l1.4 5.5l1.3-6.4l1.4 14l1.4-3.7l1.4-2l1.3-5.4l1.4 2.9l1.4 1.6l1.3-8.3l1.4 1.9l1.4-1.1l1.3 3.7l1.4-7.3l1.4-.8l1.3-5.3l1.4 12.8l1.4-1.9l1.3 9.6l1.4-8.4l1.4 5.4l1.3-3.2l1.4-2.9l1.4 10.6l1.4-1.6l1.3-.4l1.4-7.4l1.4 6l1.3-1.7l1.4 5.8l1.4-8.5l1.3-1.8l1.4 6.7l1.4-.8l1.3-4.8l1.4-1.7l1.4-1.5l1.3 1.7l1.4-3.9l1.4 8.4l1.3 3.9l1.4 .9l1.4-5.3l1.3 3l1.4-8.5l1.4 4.2l1.4 1.3l1.3-5.8l1.4 5.9l1.4-4.9l1.3 2.3l1.4 3.1l1.4 5.7l1.3-11l1.4 1.2l1.4 4.2l1.3-.1l1.4-1.7l1.4 8.6l1.3-4.8l1.4 5.2l1.4-4.4l1.3 3.5l1.4-1.6l1.4-9.1l1.3 16.1l1.4-11.7l1.4-2.3l1.4 8.2l1.3 4l1.4-6.1l1.4-5.9l1.3 .4l1.4-2l1.4 .8l1.3 5.9l1.4 4.5l1.4-4.1l1.3-5.7l1.4 2.4l1.4-6.7l1.3 6.3l1.4 4.3l1.4-5.6l1.3 8.9l1.4-2.8l1.4 6.3l1.4-7.8l1.3-.5l1.4 1.8l1.4-5.7l1.3 .5l1.4 6.4l1.4-7.5l1.3 9.8l1.4-1.4l1.4-2.8l1.3-3.4l1.4 1.4l1.4 3.1l1.3 2.3l1.4-2.4l1.4 2.2l1.3-5.5l1.4-5.3l1.4 8.2l1.3-1.5l1.4-1.4l1.4 3.9l1.4-6.5l1.3-2.7l1.4 4l1.4-.7l1.3-10.1l1.4 7.4l1.4 4.2l1.3 2.4l1.4 3.3l1.4-5.8l1.3-1.4l1.4-2.7l1.4-6.7l1.3 21.7l1.4-6.1l1.4 1.5l1.3-.4l1.4-.1l1.4-.4l1.3-2l1.4 .8l1.4 4.5l1.4-5.1l1.3-5.3l1.4 5l1.4-1.9l1.3-4.4l1.4 9.4l1.4-5.1l1.3 .5l1.4-5.8l1.4 .3l1.3-.1l1.4 5l1.4-.1l1.3 4.3l1.4-8.5l1.4-1.5l1.3 10.4l1.4-1.5l1.4 .6l1.3 3.6l1.4-10.2l1.4 5.1l1.4-7.5l1.3 4.5l1.4 6.6l1.4-4.3l1.3-9.8l1.4 3.7l1.4-5.3l1.3 5.8l1.4-1.6l1.4 3.5l1.3-4.9l1.4 7.3l1.4 4.2l1.3-9.8l1.4 6.2l1.4-3.7l1.3-5.6l1.4 2l1.4-3.3l1.4 11.6l1.3-10.6l1.4-1.5l1.4 10l1.3 3.5l1.4-3.3l1.4-3.4l1.3 1.9l1.4 .7l1.4-1l1.3 3.5l1.4-.6l1.4-1.8l1.3 2.9l1.4-.6l1.4-3l1.3-1.8l1.4-3.1l1.4-2l1.3 6.7l1.4-1.4l1.4 4.9l1.4-1.3l1.3-.4l1.4-4l1.4-.6l1.3 3.7l1.4-6.2l1.4 8.6l1.3 .8l1.4-4.4l1.4-7l1.3 9.9l1.4 3.7l1.4-6.9l1.3 3.7l1.4-11.7l1.4 1.3l1.3 1.6l1.4-6l1.4 6l1.3-4.7l1.4 7l1.4 2.4l1.4-5.6l1.3 6.7l1.4-1.1l1.4-1.3l1.3 13.3l1.4-17.5l1.4 9l1.3 7.3l1.4-1.4l1.4-6.7l1.3-3.6l1.4 6.2l1.4-5.4l1.3-4.3l1.4 8.7l1.4 10.5l1.3-4.2l1.4-.1l1.4-12l1.4 5.5l1.3-1.4l1.4 .9l1.4 3.8l1.3-7l1.4 11l1.4-11.5l1.3 1.1l1.4 1.2l1.4 2.8l1.3 7.8l1.4-6.5l1.4 2.6l1.3-2.2l1.4 .4l1.4-.3l1.3 6l1.4-4.4l1.4 2.2l1.3 4.5l1.4 7l1.4-16.6l1.4 7.2l1.3-8.5l1.4 7.9l1.4-2.2l1.3 5.7l1.4-11.3l1.4 1.7l1.3 3.2l1.4-8l1.4 12.2l1.3-4.1l1.4 2.2l1.4-6l1.3 1.1l1.4-1.4l1.4-2l1.3 .1l1.4 5.4l1.4-3.2l1.3-.9l1.4-5.7l1.4 8.1l1.4-4.6l1.3-1.9l1.4 .6l1.4 2.6l1.3 4.9l1.4-6.2l1.4 .5l1.3-1.6l1.4-6.8l1.4 7.7l1.3 4.6l1.4-.6l1.4-1.4l1.3 1.6l1.4 4.3l1.4-1.3l1.3 3.6l1.4-11.5l1.4-1l1.4 6.3l1.3-5.9l1.4 10.1l1.4-1.2l1.3-9.7l1.4 6.4l1.4 1.5l1.3-5.1l1.4 5.9l1.4 1.9l1.3-14l1.4 2.4l1.4 3l1.3 2.3l1.4 1.3l1.4-1.2l1.3-2.6l1.4 .9l1.4 3.2l1.3 2.7l1.4-9.4l1.4 10.2l1.4-3.9l1.3-2.3l1.4-3.1l1.4 5.9l1.3-11.4l1.4-1.1l1.4 5.2l1.3 8.1l1.4-7.2l1.4 .1l1.3-1.4l1.4 11.1l1.4-5.1l1.3-3.7l1.4 4l1.4 8.4l1.3-3.8l1.4-1.3l1.4-4l1.3 3.6l1.4-7.2l1.4 4.7l1.4 1.1l1.3-6.2l1.4 7.4l1.4 1.5l1.3 2.3l1.4-6.4l1.4-5.1l1.3 12.8l1.4-7.3" fill="none" stroke="#0070C0" stroke-width="4.4" stroke-linejoin="round" stroke-linecap="round"/>
<path d="M499.3 1967.2l1.4 .6l1.3-4.6l1.4 5.1l1.4-.2l1.3 1.8l1.4-.3l1.4-1.4l1.3-1.7l1.4 2l1.4 0l1.3-.8l1.4-.2l1.4 .3l1.3 .3l1.4 .6l1.4-1.5l1.3-.5l1.4 1.6l1.4 .2l1.3 .3l1.4-.6l1.4 .6l1.4-.7l1.3-.6l1.4 .6l1.4 .5l1.3-1l1.4 1.4l1.4-.8l1.3-.2l1.4 1.1l1.4 .7l1.3 .1l1.4-1.9l1.4 .1l1.3 .4l1.4 1.2l1.4-1.3l1.3-.6l1.4 .7l1.4-1.3l1.3 .9l1.4-.1l1.4 .4l1.4 .7l1.3-1.3l1.4 .9l1.4 .3l1.3 0l1.4-2l1.4 1.1l1.3 .7l1.4-.5l1.4 0l1.3-.3l1.4 .6l1.4 .1l1.3-2l1.4 1.3l1.4-.6l1.3 .3l1.4 .4l1.4 .6l1.4-1.4l1.3 .8l1.4 1.1l1.4-.3l1.3-1.6l1.4 1.7l1.4 1.1l1.3-1.9l1.4-.8l1.4 1.4l1.3-.6l1.4 0l1.4-.3l1.3 .8l1.4-.9l1.4-.4l1.3 .5l1.4-.7l1.4 .2l1.3 1.2l1.4-.4l1.4-.5l1.4 0l1.3-.6l1.4-.5l1.4 2l1.3 .7l1.4 .4l1.4-1.4l1.3 .6l1.4-1.1l1.4 .7l1.3-1l1.4 0l1.4-.2l1.3-.8l1.4 1.7l1.4-.7l1.3 .8l1.4-.5l1.4 .4l1.3-.1l1.4 .2l1.4-1.4l1.4 .8l1.3-.9l1.4 2.2l1.4-.5l1.3-.5l1.4-.6l1.4 1.1l1.3 .5l1.4 0l1.4-1.8l1.3 .5l1.4 .6l1.4-1.1l1.3 1.7l1.4-.3l1.4-.3l1.3-.6l1.4 0l1.4 .1l1.4 1.3l1.3-1.7l1.4-.1l1.4-.2l1.3 .6l1.4-.3l1.4 .9l1.3 0l1.4-.5l1.4 .1l1.3 .1l1.4 .1l1.4 .8l1.3-.2l1.4-.4l1.4-1.4l1.3 1.2l1.4-2l1.4 2l1.3-.5l1.4-.4l1.4 .5l1.4 .5l1.3 .7l1.4 0l1.4-.9l1.3 .3l1.4-2.1l1.4 1.8l1.3-2.5l1.4 2.7l1.4-.3l1.3 1l1.4-.3l1.4 .4l1.3-.5l1.4 .1l1.4 .7l1.3-.2l1.4-1.9l1.4 1.2l1.3-.8l1.4 .2l1.4 .4l1.4 .3l1.3 .7l1.4-.8l1.4-1l1.3 1.8l1.4-1.8l1.4 .2l1.3 .2l1.4 .9l1.4-.8l1.3-.2l1.4 .9l1.4-1.8l1.3 2.2l1.4 .9l1.4-3l1.3 1.4l1.4-0l1.4-.1l1.3-.5l1.4 .8l1.4-.8l1.4 .8l1.3-.6l1.4 .6l1.4-1.1l1.3 1l1.4 .2l1.4 .2l1.3-.4l1.4-1.6l1.4-0l1.3 .9l1.4-1.2l1.4 .7l1.3-.4l1.4 1.1l1.4 .5l1.3-.7l1.4-.9l1.4 1.5l1.4-1.2l1.3-.1l1.4-.2l1.4 .9l1.3 1.1l1.4-.3l1.4 .5l1.3-1.5l1.4-.2l1.4 1.6l1.3-.5l1.4 0l1.4-1.2l1.3-.3l1.4 1.4l1.4-.8l1.3-.9l1.4 1.4l1.4 .1l1.3-.4l1.4 1l1.4-1.2l1.4 1.2l1.3-1.6l1.4 .4l1.4-1.3l1.3 .9l1.4 1.1l1.4 .2l1.3-.5l1.4 .4l1.4 .8l1.3-2.5l1.4 .6l1.4 1l1.3 .5l1.4-.2l1.4-1.1l1.3 .8l1.4-.6l1.4-.5l1.3 .3l1.4-.2l1.4 1l1.4 .4l1.3-.4l1.4-1.7l1.4 1.1l1.3-.4l1.4 1.8l1.4-1.9l1.3 .5l1.4 .7l1.4-.4l1.3 .1l1.4 .1l1.4-.1l1.3-.4l1.4 .4l1.4 .7l1.3 .1l1.4-.7l1.4 .9l1.4 1.1l1.3-.5l1.4-1.7l1.4 .2l1.3 1l1.4-1.9l1.4 .6l1.3 .2l1.4-1.6l1.4 .6l1.3 1.8l1.4-.7l1.4-1.1l1.3 1.2l1.4 1.1l1.4-.5l1.3 .3l1.4-.4l1.4-1.8l1.3 1l1.4 1.4l1.4-.4l1.4-2.6l1.3 .9l1.4 .3l1.4 .2l1.3 .4l1.4 0l1.4-.4l1.3 .4l1.4 .1l1.4-.1l1.3 .3l1.4-.4l1.4-.3l1.3 1l1.4-1.6l1.4 1.2l1.3-.9l1.4 .6l1.4-.7l1.3 1.9l1.4 .1l1.4-1.1l1.4 .9l1.3-1.5l1.4 .7l1.4-1.6l1.3 1.2l1.4 .6l1.4-.5l1.3 .7l1.4 .5l1.4-2.7l1.3 1.2l1.4 1.3l1.4-.7l1.3 1.2l1.4-1.6l1.4 .2l1.3 0l1.4 .9l1.4-1.3l1.4-.5l1.3-.8l1.4-5.5l1.4 5.7l1.3 1.7l1.4 1l1.4-1.4l1.3 .9l1.4-1.5l1.4 1.6l1.3-.8l1.4-.1l1.4-.4l1.3 1.9l1.4-1.2l1.4 .2l1.3-.7l1.4-.8l1.4 .1l1.3 1.6l1.4-.6l1.4-.7l1.4 .2l1.3 .3l1.4-.5l1.4-.6l1.3 .9l1.4-.2l1.4-0l1.3-0l1.4-.4l1.4 .4l1.3-.6l1.4 2.1l1.4-.3l1.3-.8l1.4-.2l1.4 .9l1.3 .2l1.4-1.7l1.4-.3l1.3 1.3l1.4-.7l1.4-.3l1.4 1.4l1.3-.3l1.4 .7l1.4-2l1.3 1.7l1.4-.1l1.4 1.2l1.3-.7l1.4-.9l1.4-.6l1.3 1.6l1.4-.5l1.4-.8l1.3 1.3l1.4-1.2l1.4-.6l1.3 1.2l1.4 .7l1.4-1.4l1.4-.3l1.3 1l1.4-0l1.4 .2l1.3 .4l1.4-.4l1.4-.6l1.3 .9l1.4-1.5l1.4 .1l1.3 .5l1.4-.3l1.4 .7l1.3-.4l1.4 .3l1.4 1l1.3-.9l1.4-1.4l1.4 .3l1.3 1.2l1.4-.3l1.4-.6l1.4-.3l1.3 .6l1.4-.6l1.4 .7l1.3-1l1.4-.4l1.4 1l1.3 .7l1.4-.2l1.4-.2l1.3-.2l1.4-.3l1.4-.3l1.3 2.3l1.4-1.1l1.4-.9l1.3 1.8l1.4-1.4l1.4-.6l1.3 1l1.4-.7l1.4 .7l1.4 .7l1.3-.3l1.4 .3l1.4 .1l1.3-1.2l1.4 1.8l1.4-.6l1.3 .4l1.4-.7l1.4-.4l1.3-.5l1.4 2.2l1.4-1.9l1.3-1.1l1.4 .6l1.4 .8l1.3-.1l1.4-1.2l1.4 1.7l1.4-.7l1.3 .6l1.4-1.1l1.4 1.4l1.3-2.3l1.4 1.3l1.4-1.5l1.3 1.9l1.4-.3l1.4-.3l1.3 .3l1.4-.1l1.4 .6l1.3-.9l1.4 1l1.4-.8l1.3 1.2l1.4-.8l1.4-0l1.3-.2l1.4 .3l1.4-.2l1.4-.2l1.3 .7l1.4 .3l1.4-.6l1.3 .6l1.4-.8l1.4-1l1.3 .7l1.4 .1l1.4-.4l1.3 .4l1.4-0l1.4 .1l1.3 .3l1.4-.9l1.4-.2l1.3-.9l1.4 1.4l1.4-.3l1.3 1.2l1.4 .8l1.4-1.6l1.4 1l1.3-1.7l1.4 .5l1.4-.4l1.3 1.6l1.4 .1l1.4-.9l1.3 1.6l1.4-2l1.4-.9l1.3 2.8l1.4-1.2l1.4 .2l1.3-.6l1.4 .8l1.4-1l1.3 2l1.4-1l1.4-1.1l1.4 .5l1.3 .7l1.4-1l1.4 0l1.3 .1l1.4 1.2l1.4 0l1.3-1l1.4-.8l1.4 1.9l1.3-1.3l1.4-.4l1.4-.2l1.3 .9l1.4 .2l1.4 .6l1.3-1.3l1.4 .7l1.4-.9l1.3 1.2l1.4 .3l1.4-.1l1.4-1.3l1.3 1l1.4-.6l1.4 .9l1.3-.3l1.4-.8l1.4-.3l1.3 .1l1.4 .1l1.4 1l1.3-1.5l1.4 2.2l1.4-1l1.3-.4l1.4-.1l1.4-0l1.3-.8l1.4-.1l1.4 1.3l1.3-1.8l1.4 .8l1.4-.3l1.4-.6l1.3 1.6l1.4-1.6l1.4 2.1l1.3-.6l1.4 .5l1.4-.5l1.3 .5l1.4-1.4l1.4 1.4l1.3-1.2l1.4 .4l1.4 .1l1.3-1.1l1.4-.1l1.4 .7l1.3-.2l1.4 1.4l1.4 1.3l1.4-1.1l1.3-.9l1.4 1.2l1.4-1.4l1.3 .1l1.4-.1l1.4-0l1.3-.2l1.4-1.5l1.4 2.3l1.3-1l1.4-.5l1.4 .5l1.3 1.5l1.4-1.2l1.4-.3l1.3 .4l1.4-.3l1.4 .4l1.3-.4l1.4 1.6l1.4-.5l1.4-.9l1.3 .4l1.4 .2l1.4-1.5l1.3 2.2l1.4-.5l1.4 .8l1.3-1.4l1.4-1.1l1.4 1.7l1.3 1.7l1.4-.6l1.4-.5l1.3-0l1.4-.3l1.4-1l1.3-.6l1.4 .8l1.4 .9l1.3 .2l1.4-1.9l1.4 .4l1.4-.7l1.3 1.2l1.4-0l1.4-.3l1.3-.3l1.4 .7l1.4 .3l1.3-.2l1.4 1.1l1.4-.9l1.3 .2l1.4-1.2l1.4 .5l1.3 .7l1.4-2.2l1.4 2.2l1.3-.9l1.4-0l1.4-.9l1.3 1l1.4-1.2l1.4 .2l1.4 .7l1.3-.9l1.4 .3l1.4 1.2l1.3-1.9l1.4 1.2l1.4 .1l1.3-0l1.4 1.9l1.4 .6l1.3-2.5l1.4 1.2l1.4 .5l1.3-2.1l1.4 .5l1.4 .5l1.3-0l1.4-.2l1.4 .1l1.4 .7l1.3 .3l1.4-.8l1.4 1.9l1.3-.3l1.4-3.6l1.4 1.3l1.3 .1l1.4 .3l1.4 .4l1.3-.6l1.4-.2l1.4-1.1l1.3 1.9l1.4 .2l1.4 .4l1.3-.6l1.4 1.6l1.4-1l1.3-.5l1.4-.1l1.4-1l1.4 1l1.3-.6l1.4-1.6l1.4 1.5l1.3-1.3l1.4-.2l1.4 .7l1.3 .7l1.4-.4l1.4 .8l1.3 .4l1.4 .6l1.4-1.4l1.3 .8l1.4-.1l1.4 1.2l1.3-2.4l1.4 1.1l1.4-.1l1.3 .7l1.4 .6l1.4-1.4l1.4-.4l1.3 .6l1.4-.4l1.4 .6l1.3 .1l1.4 .1l1.4-1l1.3 1l1.4 .5l1.4-1.2l1.3 .1l1.4-.6l1.4-.1l1.3 1.5l1.4-1.3l1.4 .1l1.3 .2l1.4 1.2l1.4-1l1.4-.5l1.3 1.2l1.4-1.2l1.4 .7l1.3-.8l1.4 .8l1.4-1.6l1.3 .6l1.4 2.1l1.4 .1l1.3-.6l1.4-.9l1.4 .4l1.3 .8l1.4-.5l1.4-.3l1.3-1.4l1.4 1l1.4-.1l1.3-.5l1.4 1.5l1.4-1.5l1.4 1l1.3 .2l1.4 .3l1.4 .9l1.3-1.7l1.4 .2l1.4 1l1.3 .2l1.4-.7l1.4-1.6l1.3 .7l1.4-.3l1.4 1.2l1.3-1l1.4 .3l1.4 .7l1.3 .4l1.4-.7l1.4 .1l1.3-.1l1.4 .3l1.4 .8l1.4-.5l1.3-.4l1.4-1.3l1.4 1.3l1.3 .8l1.4-1.4l1.4 .6l1.3-.2l1.4-.6l1.4 1.4l1.3-1.2l1.4 .5l1.4-0l1.3-.8l1.4 1.7l1.4-.6l1.3-.8l1.4-.5l1.4 .8l1.4 1.3l1.3-2l1.4 1.7l1.4-1.5l1.3 1l1.4 .5l1.4-.3l1.3-1.4l1.4 1.1l1.4-1.5l1.3 1.3l1.4-1.3l1.4 .3l1.3 .9l1.4 .2l1.4 .1l1.3-.1l1.4 .1l1.4-.9l1.3 .7l1.4 .9l1.4 .8l1.4-1.2l1.3-.6l1.4-.2l1.4 .7l1.3 .6l1.4 .1l1.4-1.6l1.3-.3l1.4 1.8l1.4-.3l1.3-2l1.4-.2l1.4-.3l1.3 1.1l1.4 1.4l1.4-1l1.3 .7l1.4-1.1l1.4 1.1l1.3-.5l1.4-.3l1.4-.3l1.4 .1l1.3 .7l1.4-.9l1.4 .7l1.3-.5l1.4-.1l1.4 .1l1.3 .1l1.4-.8l1.4-.7l1.3 1.2l1.4-.4l1.4 .8l1.3-0l1.4 .1l1.4 .2l1.3 .3l1.4-.8l1.4-.3l1.4 .3l1.3 .4l1.4-.6l1.4-.1l1.3 .6l1.4 .7l1.4 .3l1.3-.4l1.4 .6l1.4-1l1.3-0l1.4 .6l1.4-.8l1.3-1l1.4 1.2l1.4 .8l1.3-1l1.4 .7l1.4 1.1l1.3-1.5l1.4-.3l1.4 .9l1.4-1.6l1.3 .8l1.4-.3l1.4 .2l1.3 .1l1.4-1.1l1.4 1.9l1.3-1.5l1.4 1.6l1.4 .3l1.3-.8l1.4-.3l1.4 .4l1.3-.3l1.4 .6l1.4-.1l1.3-1.1l1.4 1.1l1.4-0l1.3-.6l1.4 .5l1.4-1.1l1.4 .7l1.3 .9l1.4-1.5l1.4 .1l1.3 .1l1.4-.1l1.4 .7l1.3-.2l1.4-.8l1.4 .6l1.3-.6l1.4 .1l1.4-.2l1.3 .2l1.4-.5l1.4 1.6l1.3-.2l1.4 1.4l1.4-1.9l1.4 1l1.3-1.2l1.4-.3l1.4-.3l1.3 1.1l1.4-.5l1.4-.1l1.3 2.1l1.4-1.2l1.4-.6l1.3 .1l1.4-.3l1.4 .9l1.3-1l1.4 .9l1.4-1.1l1.3-.2l1.4-.3l1.4-.1l1.3 .7l1.4 1l1.4-.2l1.4-.2l1.3 .2l1.4-.7l1.4-.7l1.3 1.7l1.4-.7l1.4-1.1l1.3-.4l1.4 2.1l1.4-.2l1.3 .7l1.4-.2l1.4-1.1l1.3 .1l1.4 .2l1.4-.8l1.3 .2l1.4 .2l1.4-1l1.3 2.5l1.4-.5l1.4 .2l1.4-.6l1.3-.9l1.4 2.6l1.4-3.2l1.3 1.8l1.4-.4l1.4-0l1.3-.1l1.4 .8l1.4 .6l1.3 .3l1.4-.9l1.4-.1l1.3-1.2l1.4 .5l1.4-0l1.3 1l1.4-1.8l1.4 1.2l1.3 1.3l1.4-1.9l1.4-0l1.4-.9l1.3 .1l1.4 .8l1.4 .1l1.3-.6l1.4-0l1.4 1l1.3-.6l1.4 1.4l1.4-1.2l1.3 .6l1.4-1.2l1.4 1.1l1.3-.5l1.4 .7l1.4-.3l1.3-1.1l1.4 .3l1.4 .3l1.4 .7l1.3-.6l1.4 .2l1.4-0l1.3-.5l1.4-.6l1.4 .9l1.3-.9l1.4 1.9l1.4-1.5l1.3-.1l1.4-.4l1.4-.1l1.3 .2l1.4-.6l1.4 1.3l1.3 1.2l1.4-1.9l1.4-.2l1.3 .4l1.4 .4l1.4 1.3l1.4-.9l1.3 1.5l1.4-.8l1.4 .8l1.3-1.7l1.4-.2l1.4 .5l1.3-.4l1.4-.1l1.4 .1l1.3 1.2l1.4-2.1l1.4 1l1.3-.8l1.4 1.6l1.4-1.2l1.3-.9l1.4 1l1.4-.9l1.3 .4l1.4 .2l1.4 1.5l1.4-2.1l1.3 .2l1.4 .9l1.4-1l1.3-0l1.4 1.3l1.4-.2l1.3-.5l1.4-.1l1.4-1.2l1.3 3.3l1.4-1.5l1.4 1.1l1.3-1.5l1.4-0l1.4-.3l1.3-0l1.4-.4l1.4 1.3l1.4 .4l1.3 .1l1.4-.1l1.4-1.7l1.3 .8l1.4-.5l1.4 1.3l1.3-.2l1.4-.2l1.4 .1l1.3 .6l1.4-.5l1.4-.7l1.3-.8l1.4 1l1.4 .5l1.3 .5l1.4-1.4l1.4-.1l1.3-0l1.4 .7l1.4-.1l1.4-.2l1.3-.2l1.4-.1l1.4-0l1.3-.1l1.4 .4l1.4 .4l1.3-1l1.4-0l1.4 .7l1.3-.1l1.4-1l1.4 1.6l1.3-.2l1.4 .1l1.4 .4l1.3 1l1.4-1.7l1.4-1.2l1.3 .6l1.4-.2l1.4 1.1l1.4 .2l1.3-.1l1.4-.6l1.4 .5l1.3-.2l1.4 .2l1.4 .3l1.3-.8l1.4 .6l1.4 .3l1.3 .4l1.4-.4l1.4-.4l1.3 1.7l1.4-1.3l1.4 .6l1.3-1.7l1.4-0l1.4-0l1.4 .9l1.3-0l1.4-.6l1.4-0l1.3 .5l1.4-1.7l1.4 1.8l1.3-.4l1.4 1.3l1.4-.3l1.3-0l1.4-1.4l1.4-.5l1.3 .4l1.4-.9l1.4 2l1.3-1.5l1.4 1.8l1.4-.4l1.3-.9l1.4 .1l1.4-.5l1.4 1.4l1.3-1.4l1.4 .4l1.4 1.5l1.3 .2l1.4-1.5l1.4 .2l1.3 1.2l1.4 .6l1.4-1.8l1.3 .9l1.4-1.4l1.4-.3l1.3-.3l1.4 .5l1.4 1.3l1.3 .2l1.4-0l1.4 .7l1.3-.5l1.4-.8l1.4 .4l1.4-.1l1.3-1l1.4 .7l1.4-.2l1.3 1l1.4-1.2l1.4 .5l1.3-2.2l1.4 .4" fill="none" stroke="#FF0000" stroke-width="4.4" stroke-linejoin="round" stroke-linecap="round"/>
<path d="M499.3 2024.6l1.4-4.3l1.3-2.1l1.4 10.4l1.4-6.2l1.3-1.9l1.4 7.9l1.4-1.9l1.3-.7l1.4-7.7l1.4 8.5l1.3 0l1.4 5.9l1.4-5.4l1.3-1.3l1.4 .5l1.4 .4l1.3-5.8l1.4 10.7l1.4-2.2l1.3-7.8l1.4-1.4l1.4 2.8l1.4-8.4l1.3 5l1.4-6.1l1.4 5.9l1.3 2l1.4-2.5l1.4-1l1.3 2.4l1.4 1.9l1.4-.9l1.3 2.3l1.4 5.3l1.4-6l1.3-2.1l1.4 .8l1.4 8.8l1.3-3l1.4 3.4l1.4-5.6l1.3 3.7l1.4 1.3l1.4-7.2l1.4-2.4l1.3-3.9l1.4 15.5l1.4 2.9l1.3-4.2l1.4-2.5l1.4 2.3l1.3-5.2l1.4-10.8l1.4 4.3l1.3 8.7l1.4-.6l1.4-5.5l1.3 2.1l1.4-2.7l1.4-.7l1.3-1.9l1.4 4.7l1.4-1l1.4 6.6l1.3-5.5l1.4 3.7l1.4 3.7l1.3-10.3l1.4 7.8l1.4-5.3l1.3-5.7l1.4-2.3l1.4 8.8l1.3-2.3l1.4-9.7l1.4 2.4l1.3 4.8l1.4 5.3l1.4-.5l1.3 1.4l1.4-6.1l1.4 2.3l1.3 5.3l1.4-6.7l1.4 2.5l1.4 4.7l1.3 7.2l1.4-1.5l1.4-7.7l1.3 2.3l1.4-1.8l1.4-.7l1.3 1.6l1.4-4.7l1.4 11.4l1.3 2.1l1.4-6l1.4-5.6l1.3 3.8l1.4-4.2l1.4 7.9l1.3-8.5l1.4-1.8l1.4 10.6l1.3-2.9l1.4-9.5l1.4 3l1.4 5.8l1.3-.5l1.4-2.1l1.4-.9l1.3 .8l1.4-3.8l1.4 1.3l1.3 1.3l1.4-4.4l1.4-.6l1.3 1.1l1.4 5.5l1.4-5.2l1.3 5.9l1.4 3.6l1.4-8.8l1.3 2.2l1.4 .6l1.4-4l1.4-2.2l1.3 6.2l1.4 1.8l1.4-.5l1.3-1.8l1.4-4.4l1.4 7.6l1.3-5.6l1.4 4.6l1.4-2.3l1.3 .3l1.4-3.8l1.4 .4l1.3-1.1l1.4 4.4l1.4-2.6l1.3 5.5l1.4-7.6l1.4 1.1l1.3 7.8l1.4-6.5l1.4 5.5l1.4 4.4l1.3-11.2l1.4 6.4l1.4-7.1l1.3 2.8l1.4 5.9l1.4 2.9l1.3-.7l1.4 .7l1.4-2.1l1.3-3.1l1.4-6.5l1.4 7.3l1.3-5l1.4 2.3l1.4 7.6l1.3-5.1l1.4 1.7l1.4-5.4l1.3-4l1.4 4.4l1.4 2.6l1.4-.4l1.3 .6l1.4-4.3l1.4 3.9l1.3-5.1l1.4 11.6l1.4-.7l1.3-4l1.4-5.6l1.4 2.6l1.3-12l1.4 6.8l1.4 7.7l1.3-1.9l1.4 5l1.4-12.5l1.3 8.5l1.4 4l1.4-7.3l1.3-7.4l1.4 3.1l1.4 .9l1.4-6.8l1.3 4.7l1.4-6.5l1.4 7.3l1.3-.9l1.4 8.8l1.4-10.3l1.3 9.6l1.4-11.2l1.4 5.1l1.3 1.3l1.4-1l1.4 4.4l1.3-13.4l1.4 8.1l1.4 3.5l1.3 1.5l1.4-6l1.4 8.3l1.4 3.1l1.3-10.1l1.4 11.4l1.4-.1l1.3-.3l1.4-8.6l1.4-2.8l1.3-3.3l1.4 10.1l1.4-2.3l1.3-5.5l1.4 .3l1.4 9.6l1.3 3.9l1.4-7.5l1.4 6l1.3-14l1.4 3.9l1.4-.2l1.3-6.7l1.4 6.9l1.4 6.9l1.4-8.9l1.3 11.7l1.4 5.2l1.4-8l1.3-.2l1.4-4.2l1.4 9.2l1.3-1.5l1.4 2.2l1.4-4.3l1.3 .7l1.4-8.2l1.4 3.9l1.3 3.3l1.4-8.5l1.4 8.4l1.3-3.7l1.4-1.3l1.4-22.5l1.3 23l1.4-1.6l1.4 .6l1.4 .2l1.3-5.2l1.4 2.5l1.4-3.9l1.3 3.5l1.4 16.8l1.4-8.7l1.3 5.4l1.4-5.3l1.4 1.9l1.3 .5l1.4-6l1.4-.3l1.3 8.6l1.4-1.4l1.4-2.7l1.3-2.3l1.4 4.2l1.4-2.7l1.4 10.7l1.3-3.2l1.4-7l1.4 .8l1.3-4.2l1.4 7.3l1.4-6.9l1.3-3.1l1.4 5.8l1.4-3.9l1.3 5.4l1.4-6.8l1.4 5.1l1.3-2.7l1.4-.9l1.4-1.6l1.3 2.7l1.4-3.2l1.4 1.6l1.3-.8l1.4-.1l1.4-8.4l1.4 6.3l1.3-4.5l1.4 7.1l1.4 5.5l1.3-8.5l1.4 0l1.4 3.4l1.3-.7l1.4-1.7l1.4-9.4l1.3 9.3l1.4 3.7l1.4-7.4l1.3 4.6l1.4 8.4l1.4-8.1l1.3 4l1.4 4.2l1.4-.6l1.3-1l1.4-7.5l1.4-3.9l1.4 6.6l1.3-3.3l1.4-1.6l1.4 6.4l1.3-8.7l1.4 11.6l1.4-4.3l1.3 .9l1.4 6l1.4-9.8l1.3-2.3l1.4 11.4l1.4-8.2l1.3 3l1.4-5.7l1.4 .5l1.3 4.1l1.4 4.9l1.4-2.3l1.4 3.8l1.3-10.1l1.4 6.7l1.4-8.8l1.3 1l1.4 2.1l1.4 .7l1.3-4.5l1.4 1.7l1.4 7l1.3-2.1l1.4-5.7l1.4 2l1.3-2.8l1.4 13.4l1.4-6.2l1.3 4.1l1.4-5.6l1.4-2.7l1.3 2.3l1.4-4.5l1.4 3.7l1.4-4l1.3 4.2l1.4 8l1.4-12.2l1.3-1.3l1.4 5.1l1.4-1.6l1.3 2.4l1.4-4.3l1.4-8.8l1.3 9.6l1.4 .1l1.4 2.8l1.3-5.7l1.4 3.1l1.4-.3l1.3 1.9l1.4 7l1.4-10.7l1.3 3.9l1.4-3.3l1.4 2.1l1.4-4.2l1.3 15.4l1.4-.8l1.4-4.6l1.3 6.4l1.4-6l1.4 2.5l1.3-.8l1.4-5.5l1.4-2.4l1.3 10.3l1.4 5.6l1.4-13.8l1.3 6.9l1.4-6l1.4-9.3l1.3 6.6l1.4 3.4l1.4 2.1l1.4-8.5l1.3 3.1l1.4 4.2l1.4 .7l1.3-6.5l1.4 7.3l1.4-8.7l1.3 6.6l1.4 4.7l1.4-6.9l1.3 2.2l1.4 0l1.4-4.9l1.3 7.7l1.4-3.6l1.4-.3l1.3 1.3l1.4 9l1.4-8l1.3-.7l1.4-9.1l1.4 9.6l1.4 6.3l1.3-5.1l1.4-4.6l1.4 8.6l1.3-11.4l1.4 3.7l1.4 7l1.3-1l1.4-1l1.4 3.4l1.3-2.9l1.4-1.5l1.4 1.2l1.3 10.7l1.4-17.5l1.4 7.2l1.3-2.7l1.4-1l1.4-4.9l1.3 4l1.4-4.4l1.4-1.4l1.4 8.1l1.3-5.5l1.4 8.6l1.4-1.1l1.3 1l1.4-4.5l1.4-.4l1.3 2l1.4-3.9l1.4 6.3l1.3-1.7l1.4-13.5l1.4 8.2l1.3 3.6l1.4-6.1l1.4 .3l1.3 7.8l1.4-3.6l1.4-3.1l1.4 2.3l1.3-1.9l1.4 1.4l1.4 3.9l1.3-.5l1.4 .2l1.4-1.3l1.3-2.2l1.4-4l1.4-2.5l1.3 6.6l1.4-13.3l1.4 2.3l1.3 6.2l1.4 9.5l1.4 2.1l1.3-.5l1.4 1.7l1.4 2.5l1.3-5.3l1.4-4.1l1.4-2.7l1.4-1.2l1.3-3.7l1.4 8.9l1.4-10.5l1.3 5l1.4-3.7l1.4 8.1l1.3 6.1l1.4-7.6l1.4 2.6l1.3 1.8l1.4-3.9l1.4 9.5l1.3-8.5l1.4 6.6l1.4 .8l1.3-2l1.4 .8l1.4-5l1.3-.3l1.4 1.8l1.4 2.1l1.4-4.3l1.3 2.6l1.4 4.5l1.4-13.2l1.3 6.8l1.4 .8l1.4 4.1l1.3-4l1.4-1.6l1.4 .8l1.3 5.5l1.4-12.4l1.4 8.3l1.3 2.6l1.4-2.3l1.4 .6l1.3-2.9l1.4-7.1l1.4 15.9l1.4 1.5l1.3-2l1.4-3.1l1.4-1.9l1.3-12.7l1.4 3l1.4-.3l1.3 1.5l1.4 7.3l1.4-2.6l1.3-6l1.4-2.2l1.4 .3l1.3-3.3l1.4 9.5l1.4-1.4l1.3 3.7l1.4-5.8l1.4-.9l1.3 2.9l1.4-4.1l1.4 5.8l1.4-4.3l1.3 5.6l1.4 5.8l1.4-9.4l1.3 5.8l1.4 9.1l1.4-15.2l1.3 6.7l1.4-5.9l1.4 5l1.3-6.5l1.4 4.9l1.4-.4l1.3 2.7l1.4 3l1.4-4.8l1.3 2l1.4 9l1.4 1.9l1.3-8l1.4-4.8l1.4 .3l1.4 12.3l1.3-6l1.4-.6l1.4 2.5l1.3-3.9l1.4-8.7l1.4 6.2l1.3 .3l1.4-2.9l1.4-2.2l1.3-2.8l1.4 1.9l1.4 6.3l1.3 4.1l1.4-8.2l1.4-.7l1.3-4.9l1.4 5.6l1.4-3l1.4 2.5l1.3 6l1.4-5.2l1.4-11.4l1.3 8.8l1.4 4.5l1.4-4.4l1.3 1.3l1.4-5.9l1.4 2.8l1.3-1l1.4 4.8l1.4 0l1.3-5.6l1.4 2.4l1.4-7.1l1.3 6.9l1.4-.7l1.4 5.7l1.3-7.1l1.4-.6l1.4 9.9l1.4-.4l1.3 1.4l1.4 .6l1.4 1.4l1.3-10.9l1.4-2.1l1.4 3.5l1.3 2.7l1.4-3.9l1.4 2.2l1.3 4.4l1.4 9l1.4-8l1.3-4l1.4 2.4l1.4 7.3l1.3-8.1l1.4-9.9l1.4 10.3l1.3 6.2l1.4-2.9l1.4-2.3l1.4-1.6l1.3 4.8l1.4-1.5l1.4 8.1l1.3-1.2l1.4-9.5l1.4 3.1l1.3-6.5l1.4 8.6l1.4 2.2l1.3-7.4l1.4 5.6l1.4-3.7l1.3-1.3l1.4 .7l1.4-3.4l1.3 6.4l1.4 .3l1.4 .7l1.3-2.9l1.4-4.3l1.4-1.5l1.4 3.3l1.3 1.6l1.4 1.8l1.4-.6l1.3-2.6l1.4-1.5l1.4 2.5l1.3-9.8l1.4 6.5l1.4 6l1.3-3.5l1.4-4.5l1.4-4.8l1.3 10.9l1.4-3.6l1.4-7.3l1.3 2.5l1.4 3.6l1.4-3.4l1.4 5.7l1.3-1l1.4 1.5l1.4 .5l1.3-1.7l1.4-.7l1.4 5l1.3-2.8l1.4 .4l1.4 2.8l1.3-8.7l1.4-3.1l1.4 11.3l1.3-.7l1.4-1.9l1.4-2.4l1.3 4.4l1.4-5.3l1.4 9.6l1.3-.7l1.4-1.5l1.4-1.6l1.4-1.7l1.3-12.1l1.4 13l1.4 .5l1.3-.4l1.4-4.8l1.4-6.6l1.3 3.7l1.4 2.5l1.4 1.9l1.3 3.2l1.4-7.4l1.4 4.9l1.3-.9l1.4-3.6l1.4-1.5l1.3 7.6l1.4-3.7l1.4-2.6l1.3-4.7l1.4 6.8l1.4-6.2l1.4-3.7l1.3 8l1.4-2.4l1.4 2.2l1.3 .3l1.4 .8l1.4 .7l1.3 5.6l1.4-5.5l1.4-5.8l1.3 7l1.4-.8l1.4 .1l1.3 .9l1.4 0l1.4-5.9l1.3 4.9l1.4 2.7l1.4-6.6l1.4 7.3l1.3-.6l1.4-.2l1.4 3.4l1.3 .3l1.4-5.7l1.4 6.1l1.3 1.6l1.4 .3l1.4-2.3l1.3-12.2l1.4 4l1.4-.2l1.3 2.9l1.4 9l1.4-4.4l1.3-7.4l1.4 9.1l1.4-8.1l1.3 3.8l1.4-2.7l1.4 5.3l1.4-.4l1.3 2.6l1.4 2.1l1.4-3.2l1.3-6.2l1.4 1l1.4 2.2l1.3 .5l1.4 10.1l1.4-15.3l1.3 10.5l1.4-8.3l1.4 7.3l1.3-4.3l1.4-1.1l1.4-1.7l1.3-5.1l1.4 4.9l1.4 5.2l1.3 .2l1.4-1.2l1.4 3.2l1.4 5l1.3-9.8l1.4 1.9l1.4-6.6l1.3 2.6l1.4-2.4l1.4-11.8l1.3 10.2l1.4 10.9l1.4-8.9l1.3-1.2l1.4 9.4l1.4-5.9l1.3-.3l1.4-6.1l1.4 .3l1.3 3.9l1.4 4.3l1.4-1.6l1.4-5.2l1.3 3.3l1.4 1.7l1.4-5.5l1.3 8.8l1.4-7.8l1.4 7.9l1.3-.3l1.4-6.6l1.4 2l1.3 1.2l1.4-2l1.4-2.6l1.3 4l1.4-3.5l1.4 8.3l1.3-5l1.4-8.9l1.4 10.7l1.3-3.6l1.4 1.3l1.4 3.2l1.4-7.6l1.3 1.8l1.4 5.7l1.4 .8l1.3-.7l1.4-.2l1.4-2.1l1.3 4.4l1.4-6.8l1.4 3.2l1.3-4.1l1.4-.1l1.4-2l1.3 9.1l1.4-4.1l1.4-3.8l1.3 4.2l1.4-4.3l1.4-4.3l1.3 7.4l1.4 1.3l1.4-2.9l1.4 9.1l1.3-5.1l1.4 2.9l1.4-1.7l1.3-10.3l1.4 5.7l1.4 1.3l1.3-2.5l1.4 5.3l1.4-9.9l1.3 5.1l1.4 4.2l1.4-1l1.3 .6l1.4 1.5l1.4 .9l1.3-.5l1.4 .8l1.4 1.7l1.4-2.8l1.3 6.6l1.4-.4l1.4-3.1l1.3-.1l1.4-1l1.4 .6l1.3 1.8l1.4-4.3l1.4 7.5l1.3-1.9l1.4-5.7l1.4-5.2l1.3 9.9l1.4-4.6l1.4 .4l1.3-1.5l1.4 3.9l1.4-4.6l1.3-2.1l1.4-1.4l1.4 7.1l1.4-5l1.3 6.8l1.4-12.8l1.4 6.2l1.3 10.1l1.4-8.8l1.4 1.9l1.3-1.3l1.4-2.7l1.4-1.6l1.3 3.2l1.4-.8l1.4 7.2l1.3-4.7l1.4 3.4l1.4-2.5l1.3 10.7l1.4-9l1.4 6l1.3-4.2l1.4-7.8l1.4-4.6l1.4 7l1.3 1.1l1.4 .7l1.4 .3l1.3 6.1l1.4-.3l1.4-4.1l1.3-3.8l1.4 6.2l1.4-5.9l1.3 2.8l1.4 1.1l1.4-4.5l1.3-2.8l1.4 5.1l1.4 2.8l1.3-4.7l1.4-1.8l1.4 4.3l1.4-3l1.3 1.7l1.4 0l1.4 1.1l1.3-4.7l1.4-.8l1.4 4.6l1.3-.9l1.4 .9l1.4-1.8l1.3 1.4l1.4 .8l1.4 2.4l1.3-3.5l1.4-4.6l1.4 3.4l1.3-1.2l1.4-2l1.4 6.8l1.3 1.8l1.4-4.1l1.4 6.8l1.4-1.2l1.3-1.7l1.4 2.9l1.4 5l1.3-1.1l1.4-2.7l1.4-7.8l1.3-2.7l1.4-2.1l1.4 6l1.3 1.3l1.4-7.2l1.4 4.2l1.3-2.7l1.4-.3l1.4-6.2l1.3 7.2l1.4-6.1l1.4 7.9l1.3-5.4l1.4 6l1.4-4.5l1.4-.3l1.3 2.1l1.4 3.1l1.4 0l1.3-4.4l1.4 7.1l1.4-10l1.3 7.9l1.4-.8l1.4 6.3l1.3-9.6l1.4-1.3l1.4-2.6l1.3 .2l1.4 9.6l1.4-5.5l1.3-.5l1.4-7l1.4 5.5l1.3-2.7l1.4 1.5l1.4 1.6l1.4 3.3l1.3-6l1.4 5.4l1.4-2l1.3 4.4l1.4-.1l1.4 .8l1.3-4.5l1.4 5.3l1.4-2.4l1.3-3.5l1.4 2.8l1.4 1.3l1.3 2.9l1.4-5.2l1.4 3.2l1.3 .8l1.4-1.2l1.4 2.1l1.4-2.3l1.3-12.1l1.4 8.5l1.4 10.4l1.3-11.7l1.4 6.4l1.4 1.1l1.3-5.9l1.4-7.3l1.4 6.4l1.3-4.8l1.4 1.6l1.4-2.2l1.3 4l1.4-5.5l1.4 13l1.3-6l1.4 2.3l1.4-2.9l1.3-5.7l1.4 11.5l1.4-4.6l1.4-5.8l1.3 6.3l1.4-1.9l1.4-.2l1.3-.2l1.4-2.7l1.4 12.5l1.3-3.4l1.4-2.5l1.4-4.6l1.3 2.1l1.4 .4l1.4-5.1l1.3 8.1l1.4-1l1.4 2.5l1.3-5.3l1.4-2.4l1.4 4.1l1.3-10.2l1.4 9.9l1.4-4.8l1.4-6.4l1.3 1.2l1.4 1.8l1.4-3.1l1.3 9.5l1.4-.6l1.4 2.2l1.3-9.6l1.4 1.7l1.4 5.6l1.3 4.5l1.4 .2l1.4-7.7l1.3 9.4l1.4-3l1.4 3.8l1.3-1l1.4-3.1l1.4 2.9l1.4-4l1.3-.7l1.4-1.6l1.4-.8l1.3 11.3l1.4 .7l1.4-14.2l1.3 .9l1.4 12.6l1.4-1.9l1.3-6.8l1.4-3.2l1.4 9.7l1.3-7.9l1.4 .8l1.4 1.5l1.3-11.8l1.4 8.3l1.4 1.6l1.3-.5l1.4-2.6l1.4 3.4l1.4 9.2l1.3-14.1l1.4 7.4l1.4 5.5l1.3-6.1l1.4-.3l1.4-1.8l1.3 5.6l1.4 .8l1.4-3.1l1.3 2.1l1.4 3.3l1.4-6.7l1.3 3.3l1.4-6l1.4 4l1.3 3.5l1.4 1l1.4-1.5l1.3-6.7l1.4 4.7l1.4 .3l1.4-4.7l1.3-4.8l1.4 12.1l1.4 4.8l1.3-1.6l1.4-7.4l1.4 1.7l1.3 2.7l1.4-8.7l1.4 5.6l1.3-9.6l1.4-4.2l1.4 6.8l1.3-.2l1.4 8.5l1.4-7.2l1.3 5.9l1.4-6.7l1.4 1.9l1.4-5.9l1.3 10.7l1.4 4l1.4-5.3l1.3-1l1.4 2.6l1.4 0l1.3-5.1l1.4 4.9l1.4 .6l1.3-5.7l1.4-7.5l1.4 8.7l1.3 4.1l1.4-2.4l1.4-.1l1.3 6.8l1.4-4.2l1.4 .7l1.3-3.9l1.4-1.8l1.4 10l1.4-1.6l1.3-11.1l1.4 9.5l1.4-1.8l1.3-1.4l1.4 4.1l1.4-5.7l1.3-3.9l1.4-3.8l1.4 7.7l1.3 .5l1.4 1.3l1.4 1l1.3-1.3l1.4 1.3l1.4-2.5l1.3-3.4l1.4 2.3l1.4 3.6l1.3-3.5l1.4 .1l1.4 3.5l1.4-4.1l1.3 .3l1.4 1.2l1.4 2.3l1.3-5.3l1.4 7.2l1.4-6.2l1.3 7.6l1.4-4.6" fill="none" stroke="#0070C0" stroke-width="4.4" stroke-linejoin="round" stroke-linecap="round"/>
<path d="M499.3 2119.1l1.4 .4l1.3-3.2l1.4 5.3l1.4-2l1.3-1.5l1.4 .8l1.4-.2l1.3 1.4l1.4-2.5l1.4-.5l1.3 .3l1.4 .1l1.4-2l1.3 4.5l1.4 .8l1.4 .2l1.3-3.4l1.4 5.5l1.4-3.5l1.3-1.4l1.4-.1l1.4 .2l1.4 3.2l1.3-.4l1.4-3.8l1.4 3.6l1.3-2l1.4-.5l1.4-1l1.3-.3l1.4 3.2l1.4-1.3l1.3-2.6l1.4-1.1l1.4 1.6l1.3-3.6l1.4 4.4l1.4-2.6l1.3 2.5l1.4 4.3l1.4-2.2l1.3 1.1l1.4-3.8l1.4 4.1l1.4-3.8l1.3 .6l1.4 2.4l1.4-2.2l1.3-.3l1.4-1l1.4 .8l1.3 4.4l1.4-.7l1.4 .7l1.3-4.8l1.4-.1l1.4 3.6l1.3-1.3l1.4-.1l1.4-4.3l1.3 4.6l1.4 .2l1.4 3.7l1.4-2.5l1.3-3.6l1.4-1.2l1.4 1.8l1.3 1.7l1.4 2.9l1.4-5.9l1.3-.8l1.4 8.1l1.4-3.4l1.3-.5l1.4 1l1.4-3.2l1.3-2.2l1.4 1.9l1.4-.2l1.3 3.7l1.4 2.1l1.4-3.6l1.3-2.5l1.4 6.2l1.4-3.3l1.4 3.6l1.3-5.7l1.4 2.9l1.4-1.1l1.3-.8l1.4 3.2l1.4-3.5l1.3-.8l1.4-.2l1.4-1l1.3 1.6l1.4-2.7l1.4 2.5l1.3-2.6l1.4 3.2l1.4-.8l1.3-1l1.4 1.4l1.4-1.5l1.3-.6l1.4 2.1l1.4 2.2l1.4-5.8l1.3 1.2l1.4-.1l1.4-.8l1.3 5.5l1.4 .1l1.4 1.9l1.3 1.5l1.4-3.7l1.4 .1l1.3 1l1.4-1.5l1.4-.7l1.3-.2l1.4-5.5l1.4 6.8l1.3-5.6l1.4 5.6l1.4-6.5l1.4 7.8l1.3-4.2l1.4 3.8l1.4-.3l1.3-.6l1.4-1.2l1.4 .7l1.3 1.2l1.4 1.1l1.4-6.9l1.3 2.5l1.4 1.2l1.4-2.8l1.3 0l1.4 2.5l1.4 1.8l1.3-3.1l1.4 4.1l1.4-1.6l1.3 1l1.4 2.2l1.4-3.3l1.4 2l1.3-3.3l1.4 2.7l1.4-.8l1.3 2.4l1.4-3.2l1.4 .5l1.3-3.3l1.4 2.6l1.4-2.9l1.3 1.3l1.4-1l1.4 2.8l1.3-.2l1.4-3.1l1.4 1.8l1.3-.9l1.4 1.7l1.4 3.9l1.3-7.3l1.4 1.5l1.4 4.1l1.4-.5l1.3-3.2l1.4 .8l1.4 .7l1.3-5.4l1.4 4.6l1.4-1.7l1.3 2.7l1.4-3.3l1.4 2.5l1.3-1.8l1.4 5.8l1.4-3.1l1.3-1.2l1.4 2.8l1.4-1.2l1.3 2l1.4-6.2l1.4 5.1l1.3-1.1l1.4-2.1l1.4 2.4l1.4 .4l1.3 .4l1.4-5.3l1.4 .8l1.3 4.8l1.4-5.9l1.4 2.6l1.3 2l1.4-1.4l1.4 2.2l1.3-1.2l1.4 .9l1.4 1.2l1.3-3l1.4-2.5l1.4-1.6l1.3 5.5l1.4 1.8l1.4-2l1.4 0l1.3-2.4l1.4 .9l1.4 3.9l1.3-1.9l1.4 1.5l1.4-1.8l1.3-1.4l1.4 .2l1.4-4.1l1.3 4.7l1.4 .5l1.4-1l1.3 2.7l1.4-4l1.4 .6l1.3-2.3l1.4 1.8l1.4 .8l1.3 2.7l1.4 1.4l1.4-2.8l1.4-1.1l1.3-1.7l1.4-.6l1.4-.2l1.3 6.3l1.4-2.6l1.4 1.1l1.3-3.1l1.4-2.9l1.4 6l1.3-.3l1.4 .4l1.4-7.2l1.3 5.4l1.4-1l1.4 3.8l1.3-2.6l1.4-2.2l1.4-.1l1.3 1.5l1.4 2.5l1.4 .8l1.4-1l1.3-2l1.4 1.6l1.4 1.3l1.3-4.4l1.4 2.4l1.4-2l1.3 1.1l1.4-3.7l1.4 5.1l1.3-2.6l1.4-.5l1.4-.7l1.3 4.9l1.4-.6l1.4-4l1.3 3.7l1.4-.7l1.4-1.4l1.4 3.8l1.3-3.4l1.4 2.5l1.4-3.4l1.3 2.5l1.4 .3l1.4-2.6l1.3 1.3l1.4 .9l1.4 2.1l1.3-4.6l1.4-1.6l1.4 4.7l1.3-3.3l1.4 1.8l1.4 .3l1.3-3.1l1.4 2.4l1.4 3.5l1.3-1.5l1.4-.3l1.4-.3l1.4 .5l1.3-.3l1.4-1.9l1.4 1.3l1.3 4.5l1.4-4.3l1.4-2.4l1.3 4.5l1.4-0l1.4-4.1l1.3 1.5l1.4-.4l1.4-.7l1.3-.2l1.4 1.4l1.4-.9l1.3-.9l1.4 3.1l1.4 .3l1.3 1.4l1.4-4.5l1.4-.1l1.4 3.3l1.3-3.6l1.4 1.5l1.4-.9l1.3 6l1.4-5.8l1.4 1.8l1.3-4.7l1.4 1.8l1.4 2.3l1.3 1.7l1.4-3.8l1.4-1.7l1.3 5.8l1.4-2.7l1.4-3.4l1.3-23.8l1.4 2.2l1.4-1.5l1.4-15.3l1.3-29.2l1.4 2.4l1.4 33.4l1.3 10.2l1.4-1.2l1.4 23.4l1.3 8.1l1.4-4.9l1.4 1.2l1.3-1.3l1.4 4.6l1.4 .4l1.3-7.2l1.4 2l1.4 5.2l1.3-2.4l1.4-1.9l1.4 1.8l1.3-2.7l1.4 1.5l1.4-2.4l1.4 3.6l1.3-1.1l1.4-2.2l1.4-1.1l1.3 1.1l1.4-.3l1.4 .6l1.3 4.4l1.4-6.4l1.4 2.5l1.3-1.2l1.4 2.7l1.4-.3l1.3-2.2l1.4 .7l1.4 .8l1.3-2.7l1.4 1.5l1.4-5.8l1.3 7.4l1.4 .9l1.4-2.8l1.4-.8l1.3 1.8l1.4-2.6l1.4 .1l1.3-.5l1.4 7.2l1.4-5.3l1.3 1.4l1.4 3.9l1.4-2.9l1.3-3.1l1.4 .8l1.4-1.3l1.3 3.6l1.4-2.9l1.4-1.5l1.3 2.6l1.4-4.4l1.4 3.7l1.4-1.4l1.3 2.6l1.4 1.7l1.4-2.3l1.3 2.6l1.4-2.1l1.4-2.8l1.3 .2l1.4 .5l1.4-2l1.3 2.7l1.4 1.6l1.4-4l1.3-.8l1.4 1.3l1.4 .1l1.3 4.7l1.4 .6l1.4-.8l1.3 .2l1.4-3.1l1.4-7.1l1.4 7.3l1.3-1.6l1.4-.7l1.4 4.1l1.3-1.8l1.4 .1l1.4-1.3l1.3 3.6l1.4-.9l1.4-2.1l1.3-2.4l1.4-1.2l1.4 2.9l1.3-.7l1.4 4.9l1.4-4.2l1.3 3l1.4-1.9l1.4 3.4l1.3 2.4l1.4-.8l1.4-4.7l1.4-1.6l1.3-2.3l1.4 5.3l1.4-2.2l1.3 1.1l1.4-3.2l1.4 1.1l1.3 3.2l1.4-3.5l1.4 6.1l1.3-1.7l1.4 .4l1.4-.8l1.3-1.7l1.4 2.1l1.4-.5l1.3-.3l1.4-2.6l1.4-.9l1.4 .7l1.3 1.3l1.4-.2l1.4 3l1.3 .6l1.4-.6l1.4-3.2l1.3 2.1l1.4 .1l1.4-.2l1.3-3l1.4 .9l1.4-.5l1.3 1.9l1.4-2.7l1.4 .4l1.3-2.3l1.4 1l1.4 3.3l1.3-1.6l1.4 .5l1.4 1.2l1.4-4.7l1.3 5.9l1.4-4.6l1.4 5.4l1.3-2.4l1.4-1.6l1.4 2.2l1.3-2.8l1.4-.9l1.4 4.4l1.3-.1l1.4-2l1.4 .2l1.3-.7l1.4-8l1.4 7.5l1.3 4l1.4 1.1l1.4 .1l1.3-2.3l1.4 2.7l1.4-1.2l1.4-.7l1.3 .9l1.4-2.7l1.4 1.5l1.3-3.6l1.4-2.6l1.4 1.6l1.3-.7l1.4 5.1l1.4 .1l1.3-1.3l1.4-1.2l1.4 1l1.3 2.7l1.4 1.3l1.4-4.1l1.3 .4l1.4 2l1.4-2.2l1.4 .6l1.3-0l1.4-1.1l1.4-.7l1.3 3.3l1.4-4.7l1.4-.3l1.3 .9l1.4-.1l1.4-1.2l1.3 1.4l1.4 4l1.4-2.1l1.3-.8l1.4-1l1.4 3.6l1.3 2.1l1.4-3.6l1.4 .7l1.3 2.4l1.4-3.3l1.4 1.1l1.4-1.9l1.3-3l1.4 4l1.4-4.2l1.3 3.9l1.4-.8l1.4-3.5l1.3-0l1.4 4.5l1.4 .9l1.3 .6l1.4-2.1l1.4 3l1.3-1.3l1.4-2.4l1.4 1.5l1.3-1.4l1.4-.1l1.4-3l1.3-.1l1.4 3.1l1.4 1l1.4-3.8l1.3 2.3l1.4-1.8l1.4 6.5l1.3-2.3l1.4-.3l1.4-1.6l1.3-4.4l1.4 5.9l1.4 2.7l1.3-5.2l1.4-1.5l1.4 3.9l1.3-.3l1.4 .4l1.4-4.8l1.3 3l1.4 1.8l1.4-3.8l1.4 1l1.3-.4l1.4 .8l1.4 .4l1.3-2.7l1.4 2.1l1.4 3.8l1.3 1.1l1.4-3.6l1.4-1.1l1.3 1.2l1.4-2.8l1.4 1.4l1.3 .8l1.4-.4l1.4-.7l1.3 5.4l1.4-2.1l1.4 2.8l1.3-3.7l1.4 .5l1.4 2.4l1.4-1.7l1.3-.3l1.4-2.8l1.4-1.8l1.3 1l1.4 1l1.4 1l1.3 1.3l1.4-.8l1.4-3l1.3 3.3l1.4 .5l1.4-.2l1.3-2.5l1.4 1.6l1.4-.6l1.3 .5l1.4-.7l1.4-.9l1.3-.9l1.4 2.4l1.4-1.9l1.4-1l1.3 3.3l1.4 1.2l1.4-4.7l1.3 2.9l1.4-2.1l1.4 1.1l1.3 2.1l1.4-2.1l1.4 .2l1.3 3.6l1.4-2.1l1.4-1.1l1.3 .8l1.4-1.1l1.4-3.7l1.3 3l1.4 2l1.4 1.1l1.3 .9l1.4-4.5l1.4 2l1.4-1.8l1.3 3.4l1.4-1.4l1.4-.6l1.3 2.5l1.4-.3l1.4-2.6l1.3 .8l1.4 .8l1.4-2.4l1.3 1.9l1.4 3l1.4-.9l1.3-3.5l1.4 2.1l1.4-3l1.3 .5l1.4-1.9l1.4 7.9l1.4-6.5l1.3 2.8l1.4 1.1l1.4-1.2l1.3 1.1l1.4-5l1.4-.2l1.3 .9l1.4 1.5l1.4 1.9l1.3-1.1l1.4-.8l1.4 1.4l1.3 1.9l1.4 2.3l1.4-4.1l1.3 1.6l1.4-1.4l1.4 1l1.3-4.2l1.4 4.4l1.4-5.8l1.4 2.5l1.3 2.6l1.4-2.4l1.4 .6l1.3-1.9l1.4 1.7l1.4 5.6l1.3-1.8l1.4-2.1l1.4 3.4l1.3-3.8l1.4 2.3l1.4-3.9l1.3 1.3l1.4-.5l1.4 4l1.3-2.9l1.4-1.5l1.4 1.8l1.3 3.2l1.4-1.2l1.4-1.6l1.4-.2l1.3-3.7l1.4 .3l1.4 3.3l1.3-2.1l1.4-1.2l1.4-1.7l1.3 4.1l1.4 3.7l1.4-2.5l1.3 1.1l1.4-3l1.4 2l1.3-5.5l1.4 1.8l1.4-2.3l1.3 7.3l1.4 1.9l1.4-4.2l1.4 3.3l1.3-1.3l1.4-3.2l1.4 3.4l1.3-1.1l1.4 .3l1.4-4.1l1.3 3.9l1.4-4.6l1.4 3.7l1.3-.9l1.4-2.5l1.4 2.8l1.3-2.1l1.4 2.4l1.4-1l1.3 .1l1.4 1.1l1.4-1.7l1.3 3.7l1.4-1.4l1.4-.3l1.4-2.8l1.3-1.9l1.4 3l1.4 1.3l1.3-0l1.4-.5l1.4 .3l1.3-3.7l1.4 1.4l1.4 2.7l1.3-2.4l1.4-2.3l1.4 5.3l1.3 1.8l1.4-5.1l1.4 5.7l1.3-3l1.4-.7l1.4 1.1l1.3 4.5l1.4-3.7l1.4-2.3l1.4 3.7l1.3-3.8l1.4-.5l1.4-.8l1.3 .2l1.4 1.2l1.4 2.9l1.3-2.1l1.4 .6l1.4 .9l1.3-5.3l1.4 3.2l1.4 1l1.3 .4l1.4 .7l1.4-1l1.3 2.2l1.4-3l1.4-.3l1.4-.2l1.3 .2l1.4 2.4l1.4-1.9l1.3-3.1l1.4 3l1.4 .5l1.3 .2l1.4-4l1.4-.2l1.3 4.8l1.4-2l1.4 .5l1.3-.8l1.4 4l1.4-2l1.3-2.4l1.4 .8l1.4 3.5l1.3-5.2l1.4 4.5l1.4-2.7l1.4 2.9l1.3 1l1.4-1.4l1.4-3.5l1.3 3.2l1.4-.1l1.4-3.4l1.3 .2l1.4 1.5l1.4 3.8l1.3-2.6l1.4 2.4l1.4-3.8l1.3 1.9l1.4 1l1.4 2.2l1.3-2.5l1.4 .1l1.4 3l1.3-2.5l1.4-2.6l1.4-2.8l1.4 2.9l1.3-.9l1.4 .9l1.4-4.3l1.3 3.2l1.4 2.9l1.4-5.8l1.3 4.9l1.4-1.7l1.4 .1l1.3 1.3l1.4 2.7l1.4-4.3l1.3 .1l1.4 2l1.4 .5l1.3-.8l1.4-.7l1.4-1.3l1.4 1.5l1.3-1.7l1.4-3.9l1.4 3.4l1.3 3.7l1.4-1.4l1.4-3.9l1.3 3l1.4-.3l1.4 .1l1.3 1.5l1.4-4l1.4 3.9l1.3-3.9l1.4 1.3l1.4-.4l1.3 2.4l1.4 1.3l1.4-.5l1.3-1.8l1.4 .2l1.4 2.6l1.4-6.2l1.3 .9l1.4 1.5l1.4 5.7l1.3-2.1l1.4-.9l1.4 .1l1.3 .3l1.4-4.6l1.4 1.7l1.3-1.7l1.4 1.8l1.4 4.3l1.3-5.7l1.4 2.7l1.4-3.2l1.3-0l1.4-.5l1.4 4.2l1.3 1.9l1.4 .3l1.4-1.5l1.4-1.5l1.3-1l1.4 2.9l1.4-1.3l1.3-1l1.4 1.4l1.4-3.8l1.3 1.1l1.4 .7l1.4-3.3l1.3 2.2l1.4 4.4l1.4-2.9l1.3-.2l1.4 .6l1.4-2.1l1.3 2.3l1.4-4.1l1.4 1.6l1.4-2.7l1.3 6.5l1.4-3.6l1.4 2.3l1.3 3.3l1.4-8.5l1.4 5.5l1.3 .2l1.4-1.8l1.4-.8l1.3 2l1.4 .1l1.4-1.6l1.3 2.4l1.4-.8l1.4 3.1l1.3-1.4l1.4-1.3l1.4-.3l1.3 1.8l1.4-4.7l1.4 1l1.4 5.4l1.3-7.7l1.4 3.2l1.4-1.5l1.3 3.6l1.4-1l1.4 1.5l1.3-3.7l1.4 2.4l1.4-1.7l1.3 1l1.4 1.1l1.4-1.7l1.3 2.8l1.4-1.4l1.4-3.4l1.3 4l1.4-2.6l1.4 .2l1.3 1.6l1.4-.3l1.4 1.1l1.4-3.4l1.3 5.3l1.4-3.6l1.4-.5l1.3 .8l1.4-2.5l1.4 2.5l1.3-1.1l1.4 3.9l1.4-2.6l1.3-.7l1.4 3.1l1.4-3.8l1.3 .9l1.4-3.3l1.4 3.1l1.3-1.9l1.4 .6l1.4 3l1.3-1.8l1.4 .7l1.4-.3l1.4-.4l1.3-.1l1.4 1l1.4 2l1.3-2.8l1.4 2l1.4 .1l1.3-3.2l1.4 3.4l1.4-1.7l1.3 2.3l1.4 1.4l1.4-3.6l1.3 2.3l1.4 .5l1.4 .6l1.3-1.6l1.4-2.1l1.4 2.2l1.4-2.8l1.3-.9l1.4 4.9l1.4-.6l1.3-.9l1.4-.7l1.4-.7l1.3 1.6l1.4-1.4l1.4 2.3l1.3-2l1.4 1.6l1.4-2.7l1.3-1.8l1.4 1.5l1.4-1.1l1.3 6.9l1.4-3.4l1.4-3.3l1.3 5.4l1.4-3.2l1.4 .7l1.4-2.9l1.3 5.6l1.4-3.6l1.4-1.3l1.3-3.3l1.4 1.4l1.4 3l1.3 2.1l1.4-4.2l1.4 3.3l1.3 2.9l1.4-.4l1.4-5.5l1.3 2.3l1.4 1.2l1.4-5.7l1.3 4.2l1.4-3.3l1.4 1.5l1.3 2.8l1.4 1.4l1.4 1l1.4-1.9l1.3-2.4l1.4 2.1l1.4-.7l1.3-.6l1.4-2.1l1.4 3l1.3 .3l1.4-0l1.4-4.2l1.3 2.9l1.4-3.8l1.4 3.6l1.3 1.2l1.4-2.9l1.4 3.3l1.3-1.6l1.4 1l1.4-.4l1.4 1.2l1.3 .3l1.4-1.1l1.4 .1l1.3 2.4l1.4-3.8l1.4 1.3l1.3-3.6l1.4 3.6l1.4-1.7l1.3 5.4l1.4-2.4l1.4-3.5l1.3-.8l1.4-.9l1.4-1.1l1.3 1.5l1.4 1l1.4 5.7l1.3-3.8l1.4 .5l1.4-.9l1.4-3.8l1.3 1.9l1.4 .1l1.4 1.2l1.3 3.5l1.4-0l1.4-2.2l1.3 1.3l1.4-2.1l1.4 5.7l1.3-2.3l1.4-2.3l1.4-1.4l1.3 3.6l1.4 .1l1.4-3.4l1.3 2.8l1.4-3.2l1.4 3l1.3-0l1.4-.9l1.4-2.4l1.4 2.2l1.3-2.1l1.4 1l1.4-1.1l1.3 .6l1.4 5.6l1.4-2.9l1.3-.9l1.4 .6l1.4-3.2l1.3 2.7l1.4-4l1.4 6.2l1.3-4.4l1.4-1.1l1.4 .1l1.3-1.4l1.4-.3l1.4 5l1.4-2.5l1.3 1.1l1.4-2.5l1.4 2.1l1.3 2.3l1.4-1.7l1.4 .2l1.3 1.1l1.4-4.2l1.4 1.4l1.3 2.7l1.4-2.1l1.4 2.3l1.3-5.5l1.4 5.3l1.4-2.4l1.3-3.1l1.4 2.1l1.4 1.9l1.3-1l1.4-0l1.4-.3l1.4 .2l1.3 1.6l1.4 .7l1.4-1l1.3-1.3l1.4 4.2l1.4-6.7l1.3 0l1.4 4l1.4-1.3l1.3 3.8l1.4-4.6l1.4 3.7l1.3 .1l1.4-2l1.4-3.2l1.3 1l1.4 1.8l1.4 1.1l1.3 0l1.4-3.4l1.4 .4l1.4 5l1.3-2.8l1.4-.6l1.4 3l1.3-2.2l1.4-.5l1.4-.2l1.3 1.6l1.4-.5" fill="none" stroke="#FF0000" stroke-width="4.4" stroke-linejoin="round" stroke-linecap="round"/>
<path d="M499.3 2169.7l1.4-27l1.3 24.4l1.4-4.9l1.4-.9l1.3-7.3l1.4 7.2l1.4-18.2l1.3 10.9l1.4 2.5l1.4 1.7l1.3 12.5l1.4 1.8l1.4-3.6l1.3-14l1.4 9.6l1.4-1.2l1.3 .8l1.4 5.3l1.4-6.2l1.3 .5l1.4 1.8l1.4-4.2l1.4 1l1.3 9.4l1.4-23l1.4 10.5l1.3-10.1l1.4-1.4l1.4 14.9l1.3 .6l1.4-8.2l1.4-4l1.3 9.8l1.4-9.8l1.4 2.8l1.3 7l1.4-.1l1.4 1.6l1.3-17l1.4 8.2l1.4-6l1.3 .7l1.4 5.7l1.4-15.7l1.4 9l1.3 7.4l1.4 1.6l1.4 4.4l1.3-7.8l1.4 3.7l1.4 20.9l1.3-13.6l1.4 2.8l1.4-9.2l1.3-3.6l1.4-4.5l1.4 6.8l1.3 .4l1.4-2.9l1.4 13.3l1.3-2l1.4-9.1l1.4 8.3l1.4-17.4l1.3 7.3l1.4-.9l1.4-6.6l1.3 4.2l1.4 10.8l1.4-11.2l1.3 7.2l1.4-11.6l1.4 14.2l1.3 7.3l1.4-15.9l1.4 8.3l1.3-9.9l1.4 12.9l1.4-4.2l1.3 13.4l1.4-14.5l1.4-0l1.3-3.7l1.4-6.7l1.4-2.4l1.4 4.9l1.3 8.3l1.4-21.7l1.4 19.5l1.3-3.7l1.4 4.9l1.4-21.1l1.3 21.8l1.4-16.1l1.4 14.3l1.3-4.7l1.4 6.1l1.4-10.7l1.3 .2l1.4 6.7l1.4-11l1.3 9.4l1.4-8.3l1.4 .9l1.3 4.4l1.4 5.4l1.4-1.6l1.4-11.7l1.3 6.5l1.4-3.2l1.4 24.9l1.3-15.7l1.4-2.5l1.4 20.8l1.3-9.5l1.4-6.8l1.4-5.7l1.3 9.4l1.4-9.2l1.4-8.1l1.3 10.4l1.4 13.7l1.4-11.4l1.3 1.1l1.4-2.9l1.4-.7l1.4-5.6l1.3 8.7l1.4-4.3l1.4 3.4l1.3 1.8l1.4-2.7l1.4 8.6l1.3 1.2l1.4-6.8l1.4 1l1.3 9.6l1.4-.2l1.4-7.9l1.3 5.6l1.4-.3l1.4-5.9l1.3 .2l1.4-7.7l1.4 12l1.3-2.3l1.4-3.7l1.4-6.6l1.4 10.6l1.3-21.2l1.4 10.7l1.4 14.2l1.3 8.7l1.4-4.9l1.4-4.8l1.3-9.6l1.4 8.1l1.4-6.6l1.3 7.5l1.4-0l1.4 2.8l1.3-9.9l1.4-7.5l1.4 20.4l1.3-13.5l1.4 2.8l1.4-7.5l1.3 14.9l1.4-1.9l1.4 16.2l1.4-13.5l1.3-4.5l1.4 9.1l1.4 .1l1.3-2.9l1.4-7l1.4-0l1.3 5.7l1.4-12.7l1.4 13.2l1.3-5.1l1.4-13l1.4 8l1.3 .9l1.4 15l1.4 3.1l1.3-27.7l1.4 12.4l1.4-1.9l1.3-4.6l1.4 4.4l1.4 10.8l1.4-17.8l1.3 6.3l1.4-0l1.4-0l1.3-.7l1.4 5.2l1.4-1.9l1.3 13.1l1.4-6.7l1.4-9.2l1.3-6.1l1.4 2.1l1.4-4.6l1.3 17.8l1.4 .9l1.4-8.8l1.3-2.6l1.4 4.6l1.4-8.7l1.4 6.6l1.3-4.8l1.4-5l1.4 13.2l1.3-.2l1.4 3.1l1.4-10.5l1.3-1.6l1.4-7.5l1.4 11.6l1.3 1.7l1.4 5.3l1.4-9.6l1.3 5l1.4-7.2l1.4 6.5l1.3-3.1l1.4-3.9l1.4-.5l1.3-3.9l1.4 13.1l1.4-5.3l1.4 1.4l1.3 6.7l1.4 1.9l1.4 2.1l1.3-1.4l1.4-8.6l1.4 13l1.3-15.1l1.4-1.5l1.4-14.1l1.3 19.7l1.4 2.3l1.4-9.8l1.3 2.7l1.4 10.1l1.4-3.9l1.3-3.9l1.4-.8l1.4 7.2l1.3 5.2l1.4-14.9l1.4 2.6l1.4 6.5l1.3-5.9l1.4-7l1.4 5.6l1.3 1.5l1.4-1.3l1.4 7.7l1.3-15.6l1.4-.4l1.4 1.4l1.3 4.8l1.4 15.5l1.4-6.5l1.3 3.8l1.4-9.5l1.4-6.7l1.3 4.8l1.4-4.2l1.4-2l1.4 4.6l1.3-7.6l1.4-1.5l1.4-10.9l1.3 17.7l1.4-9.3l1.4 .7l1.3-2.6l1.4 12.2l1.4 5.6l1.3-5.8l1.4-.3l1.4-.2l1.3-6.1l1.4-3.6l1.4 15.2l1.3-3.5l1.4 6.6l1.4-6.2l1.3 1.4l1.4 1.1l1.4-1.3l1.4 10.5l1.3-3l1.4 5.1l1.4-.5l1.3-6.6l1.4-.9l1.4-11l1.3 3.4l1.4 2.1l1.4-7.8l1.3 7.1l1.4 11.6l1.4-23l1.3 2.6l1.4-.3l1.4 10l1.3 11.7l1.4-3.2l1.4-3.6l1.3-1.9l1.4-2.4l1.4 9.3l1.4-7.4l1.3 16l1.4-5.1l1.4-4.2l1.3-6.5l1.4 5.1l1.4 7.3l1.3-6.7l1.4-9.9l1.4 10.4l1.3-1.4l1.4 .6l1.4-6.7l1.3 8.5l1.4-1.7l1.4 8.3l1.3-9.5l1.4-7.8l1.4-9l1.4 30.2l1.3 26.4l1.4-28.5l1.4-8.8l1.3-1.1l1.4-1.7l1.4 8.6l1.3-11.5l1.4 3.2l1.4 .8l1.3-6.9l1.4 13.4l1.4-1.8l1.3-7l1.4-.4l1.4-11.3l1.3 12.1l1.4 3.8l1.4-4.2l1.3 1.8l1.4-4.2l1.4 7.3l1.4-4.3l1.3-3.4l1.4-.7l1.4 6.9l1.3-3.3l1.4-7.1l1.4 5.8l1.3-.5l1.4-1.9l1.4 3.8l1.3-0l1.4-6.6l1.4-11.3l1.3 14.2l1.4 5.7l1.4 8l1.3-2.6l1.4 7.6l1.4-9.9l1.3-2.3l1.4 6l1.4 4.7l1.4-14.7l1.3-0l1.4 9.6l1.4-10.4l1.3-2.8l1.4 6.3l1.4-9.3l1.3 8.4l1.4-4.6l1.4-1.9l1.3 2.7l1.4-1.4l1.4 9.6l1.3-1.1l1.4-.4l1.4-8.7l1.3 9.1l1.4 2.4l1.4-3.3l1.4 8.9l1.3-11l1.4-4.8l1.4 10.9l1.3-1.3l1.4 2.5l1.4-15l1.3 14.5l1.4-10.5l1.4-.9l1.3 6.3l1.4-.7l1.4-13.3l1.3 13.1l1.4-11.3l1.4 5.3l1.3-3.6l1.4 13.2l1.4-4.2l1.3 3.2l1.4-4.2l1.4 8.7l1.4-11l1.3 10.6l1.4-17.3l1.4 6.8l1.3-3.7l1.4 5.8l1.4-8.8l1.3 9.3l1.4-19.2l1.4 11.8l1.3 7.3l1.4-3.9l1.4-15.8l1.3 3.4l1.4 .4l1.4-3l1.3 13l1.4 1.3l1.4-2.8l1.3 2.2l1.4 2.7l1.4-7.3l1.4 7.8l1.3-5.1l1.4 11.4l1.4-6.2l1.3 .7l1.4-8.3l1.4-1l1.3-1l1.4-2.6l1.4 20.9l1.3-10.6l1.4 1.5l1.4-11.6l1.3 4.7l1.4-1.3l1.4 11.3l1.3-11.2l1.4 4.3l1.4 8l1.4-8.6l1.3 1.9l1.4-.3l1.4-1.6l1.3-5.8l1.4 2.5l1.4 9.3l1.3 11.8l1.4-10.8l1.4-6.4l1.3 1.7l1.4-2.6l1.4 10.5l1.3-11.8l1.4 1.8l1.4 15.9l1.3-16.4l1.4 6.5l1.4-4l1.3 9.4l1.4 8.7l1.4-7.1l1.4-3.2l1.3-9.2l1.4 7.4l1.4-3.6l1.3 .7l1.4-5.3l1.4 8.4l1.3-7.6l1.4 4.7l1.4 7.4l1.3 3.7l1.4-7.7l1.4-.3l1.3 1.5l1.4-7.5l1.4-5.3l1.3 11.6l1.4-10.6l1.4-2.6l1.3 6.1l1.4 6l1.4-.2l1.4 4.6l1.3 4.3l1.4-18.4l1.4 8.6l1.3 .3l1.4-3.1l1.4-17.9l1.3 7.9l1.4-2l1.4 10.7l1.3-5.2l1.4-13.8l1.4 18.2l1.3 2.6l1.4 13.3l1.4-18.7l1.3 6.1l1.4 7.3l1.4 3.2l1.4-15.7l1.3 .7l1.4 2.1l1.4 3.5l1.3-4.6l1.4 1.7l1.4-12.9l1.3 .6l1.4 1.3l1.4 9.9l1.3 4l1.4-2.7l1.4-4.9l1.3-4.7l1.4-6.2l1.4 15.9l1.3 3.7l1.4-11l1.4-2l1.3-.6l1.4 5.9l1.4-6.5l1.4 11.8l1.3-8.1l1.4-.6l1.4 8.4l1.3-5.7l1.4-.3l1.4-.2l1.3 3.4l1.4 1l1.4 6.4l1.3 1.2l1.4-3.2l1.4-5.4l1.3 4.8l1.4-4l1.4 4.4l1.3-4.3l1.4 .2l1.4-5.8l1.3 16.8l1.4-7.7l1.4-2.3l1.4 3.2l1.3-.9l1.4 7.6l1.4-7.4l1.3-6.8l1.4-1.3l1.4-9.7l1.3 9.3l1.4-3.8l1.4 5l1.3-10l1.4 19.7l1.4 4.9l1.3-8.3l1.4-1.5l1.4 3.6l1.3 .6l1.4 10.4l1.4-6.6l1.4-15.3l1.3 1.1l1.4 5.1l1.4 9l1.3-5.5l1.4 10.5l1.4-9.8l1.3-10.3l1.4 4.5l1.4-1.6l1.3 1.3l1.4-3.6l1.4-.8l1.3 1.4l1.4-7.5l1.4-.9l1.3 8.6l1.4 2.6l1.4-5.7l1.3-7.4l1.4 3.5l1.4-1.4l1.4-1l1.3 7.4l1.4 3.5l1.4-5.7l1.3 11.6l1.4-6l1.4-2.6l1.3 3.9l1.4-13.5l1.4 12.1l1.3 1.9l1.4-13l1.4 4.7l1.3 5.9l1.4-4.5l1.4 1.2l1.3-9.1l1.4 8l1.4 2.7l1.3 3.9l1.4 2.7l1.4-11.6l1.4-3.3l1.3 .1l1.4-1.8l1.4 5.7l1.3 1.2l1.4 7.1l1.4 8.5l1.3-13.7l1.4 6.1l1.4-10.6l1.3 4.9l1.4-16.7l1.4 12.4l1.3 2.5l1.4-6.4l1.4 16.9l1.3-15.2l1.4 8.9l1.4-4.9l1.3 11.7l1.4-7.8l1.4-3.5l1.4 15.9l1.3-16.6l1.4-.1l1.4 1.2l1.3 12.5l1.4-16.4l1.4 7.8l1.3 1.3l1.4 .5l1.4-11.6l1.3-7.6l1.4 7.3l1.4 1.4l1.3 15.9l1.4-2.7l1.4-9.4l1.3 7.2l1.4-5.2l1.4-1.4l1.4-4l1.3-2.7l1.4-5.2l1.4 10.4l1.3 4.4l1.4-0l1.4 .3l1.3-5.9l1.4-1.7l1.4 11l1.3-16l1.4 .8l1.4 6.5l1.3-11.5l1.4 12.3l1.4 2.8l1.3 4.2l1.4-.2l1.4-5.1l1.3-4.9l1.4 3.8l1.4 9.1l1.4 1l1.3-6.6l1.4-2.2l1.4 5.9l1.3-7.2l1.4-3.8l1.4 8.2l1.3 8.1l1.4-3.6l1.4-4.5l1.3 4.8l1.4 9.3l1.4 4.7l1.3 5.1l1.4-15.3l1.4-4.1l1.3 12.1l1.4-18l1.4 16.3l1.3-3.9l1.4-16.8l1.4-4.8l1.4 5.6l1.3 6.1l1.4 2.7l1.4-2.4l1.3 3l1.4-8.9l1.4 10.5l1.3-6.6l1.4 25.1l1.4-17.2l1.3 5.2l1.4-4l1.4-1.9l1.3 5.6l1.4-2.4l1.4-0l1.3-.9l1.4-1l1.4 10.5l1.4-.5l1.3 3l1.4-7.3l1.4 7l1.3-4.7l1.4-11.6l1.4 3.4l1.3 4.8l1.4-10.7l1.4 1.3l1.3 14.7l1.4-3.2l1.4-6.9l1.3 11.8l1.4-22.2l1.4 6.4l1.3 13.4l1.4-2.5l1.4 .1l1.3-1.3l1.4 .8l1.4-22.7l1.4 3.5l1.3 14.3l1.4-2.5l1.4-11.4l1.3 3.6l1.4-2.4l1.4 5.1l1.3 4.3l1.4 13.3l1.4-11.5l1.3 1.4l1.4-1.3l1.4-6.9l1.3 14.9l1.4-16.3l1.4 19.6l1.3-4.8l1.4-.5l1.4-5.9l1.3-4.1l1.4-1.8l1.4 .4l1.4 3.4l1.3-6.1l1.4 10.5l1.4-9l1.3-1.6l1.4 2.8l1.4-6.6l1.3 5l1.4-1.9l1.4 17.4l1.3-11.7l1.4 4l1.4 6.7l1.3-14.5l1.4-2.2l1.4 1.2l1.3 12.3l1.4 1.9l1.4-4.6l1.4 8.8l1.3-2.4l1.4-13l1.4-10l1.3 7.4l1.4-3.7l1.4 4.1l1.3 8.1l1.4 6.2l1.4-8.6l1.3 6.2l1.4-8.6l1.4 2.1l1.3-9.3l1.4 13.8l1.4-9.4l1.3-1.2l1.4-2.5l1.4 2.1l1.3 1.9l1.4-4.9l1.4 6l1.4 12.7l1.3-1l1.4-1.7l1.4-8.9l1.3-3.5l1.4-9.7l1.4 13l1.3 10.3l1.4 1.6l1.4 .6l1.3-4.8l1.4 .1l1.4-7l1.3 3.4l1.4-10.9l1.4 18.7l1.3-7.6l1.4 10.5l1.4-16.7l1.3 20.5l1.4-19.4l1.4 5.6l1.4 3.2l1.3 3.6l1.4 5.4l1.4-9.3l1.3-4.9l1.4-9.5l1.4 20l1.3 3.5l1.4 1.1l1.4 1.6l1.3-4.2l1.4-18.8l1.4 9l1.3-1.4l1.4 10.2l1.4 7.2l1.3-4.6l1.4-1.6l1.4-2.3l1.4 7.1l1.3-4.9l1.4-5.1l1.4-10.3l1.3 10.9l1.4-9.4l1.4-3.3l1.3 1.7l1.4 1l1.4 2l1.3 .2l1.4-5l1.4 5.4l1.3 6.5l1.4-4.8l1.4-2.3l1.3-3l1.4 4.2l1.4-1l1.3 7.9l1.4-9l1.4 4.3l1.4-2.8l1.3 9.4l1.4-15.1l1.4-4.2l1.3-4.2l1.4 12.7l1.4 3.3l1.3-10.8l1.4 8.6l1.4-1.4l1.3-7.2l1.4 3.1l1.4 3.2l1.3-1l1.4-5l1.4 23.9l1.3 4l1.4 2.1l1.4-12.1l1.3-1.4l1.4-6.1l1.4-.1l1.4 1.8l1.3-2.8l1.4 8.4l1.4-14l1.3-13l1.4 10.7l1.4 1.6l1.3 .6l1.4-2.1l1.4 3.6l1.3 10l1.4-18.4l1.4-5.4l1.3 13.2l1.4-.5l1.4-1.8l1.3 10.7l1.4 9.3l1.4-16.5l1.4 1.1l1.3 3.8l1.4-0l1.4-10l1.3 11.5l1.4 6.2l1.4-11.6l1.3-9l1.4 14.7l1.4 .7l1.3-4.8l1.4-.9l1.4 9.4l1.3-14.2l1.4-.5l1.4 3.8l1.3 11.1l1.4 10.6l1.4-6.3l1.3-15.2l1.4 10.5l1.4-.4l1.4 5.1l1.3-18.2l1.4 7l1.4-3.2l1.3-3l1.4-1.7l1.4 5.8l1.3-1.2l1.4 8.8l1.4-7.1l1.3 1.6l1.4-1.8l1.4 8.3l1.3-4.7l1.4 3.3l1.4-6.6l1.3 9.6l1.4 7.6l1.4-4.9l1.3 .6l1.4-7l1.4 9.6l1.4-21.8l1.3 14.8l1.4 8.7l1.4-15l1.3 15.9l1.4-15.4l1.4 10.9l1.3-6.5l1.4-12.1l1.4-4.5l1.3 5.5l1.4-9.3l1.4 17.6l1.3-4.9l1.4-.9l1.4-1l1.3 5.6l1.4 1.8l1.4-4l1.3 .7l1.4-.7l1.4 2.1l1.4-6.6l1.3 8.4l1.4-2.4l1.4 6.1l1.3-19.1l1.4 18.3l1.4-17l1.3-1.9l1.4 7.2l1.4 .8l1.3 6.8l1.4-11.5l1.4 18.2l1.3-7.5l1.4 16.5l1.4-30.4l1.3 2.9l1.4 2.1l1.4 2.5l1.4 14.5l1.3-13.6l1.4 18.7l1.4-16.9l1.3 9.6l1.4-12.7l1.4 3.8l1.3 3.3l1.4 7.9l1.4-14.5l1.3-.7l1.4 4.7l1.4-6l1.3 7.8l1.4-3.8l1.4 9.8l1.3 5.1l1.4-5.3l1.4-5.4l1.3-3.5l1.4-1.3l1.4 4.3l1.4 2.3l1.3-6.4l1.4 10.8l1.4-13l1.3 5.2l1.4-2.3l1.4 4.6l1.3 .3l1.4 8.9l1.4-3.8l1.3-11.4l1.4-2.8l1.4 5.1l1.3-3.3l1.4 4.5l1.4-10.5l1.3 13.7l1.4-5l1.4 2.1l1.3 1.2l1.4-5.1l1.4-10.7l1.4 7.2l1.3 5.5l1.4-8.5l1.4 6.3l1.3 10l1.4-13.1l1.4 12l1.3-16.5l1.4-5l1.4 8.7l1.3 1l1.4-5.8l1.4-9.4l1.3 16.2l1.4 1.9l1.4-2.9l1.3-6.2l1.4 4.6l1.4 15.5l1.4-13.3l1.3-5.9l1.4 7.6l1.4 .3l1.3 8.7l1.4 7.9l1.4-9.7l1.3-2.5l1.4-4.9l1.4 1.1l1.3 14.1l1.4-5.2l1.4 6l1.3 3.4l1.4-14.6l1.4 6.2l1.3 .1l1.4-9.1l1.4 4.8l1.3-17l1.4 17.8l1.4-9.3l1.4 1.6l1.3 2.3l1.4-.5l1.4 7.9l1.3-17l1.4 12.4l1.4 .9l1.3-3.9l1.4-2.9l1.4 7.7l1.3-1l1.4-9.6l1.4 5.1l1.3 7.1l1.4-4.6l1.4-7.2l1.3 15.7l1.4-11.4l1.4-14.6l1.3 17.8l1.4 6.2l1.4 .2l1.4-8.1l1.3 3.2l1.4-2.3l1.4-5.5l1.3-6.4l1.4 12l1.4-7.6l1.3 6.7l1.4 1.5l1.4-4.6l1.3-4.2l1.4 3.5l1.4-7l1.3 12l1.4 4.4l1.4-5.9l1.3 13.6l1.4-25.1l1.4 15.7l1.4 1.1l1.3 1l1.4-13.4l1.4 22.8l1.3-13.7l1.4 1.5l1.4-8.7l1.3-.9l1.4 10.3l1.4-4.3l1.3 4.1l1.4 8.4l1.4-20.9l1.3 14.1l1.4 3.8l1.4-8.3l1.3 2.5l1.4-1.2l1.4 14.5l1.3-13.4l1.4 7.8l1.4-.3l1.4 19.5l1.3-19.9l1.4 .2l1.4 4.8l1.3-8l1.4 7.1l1.4 3.9l1.3-3.9l1.4-10.4l1.4-5.7l1.3 4.7l1.4-.1l1.4 5.1l1.3-5l1.4 2.4l1.4 5l1.3-9.2l1.4-3.6l1.4 14.2l1.3-5.4l1.4 2.6l1.4-6.4l1.4 11l1.3-8.7l1.4-5.8l1.4-2.4l1.3 9.7l1.4-4.8l1.4-5.3l1.3 18.3l1.4-17.3" fill="none" stroke="#0070C0" stroke-width="4.4" stroke-linejoin="round" stroke-linecap="round"/>
</g>
<g id="chart3">
<line x1="319.5" y1="2473.3" x2="2140.4" y2="2473.3" stroke="#868686" stroke-width="3.2"/>
<line x1="319.5" y1="2545.7" x2="2140.4" y2="2545.7" stroke="#868686" stroke-width="3.2"/>
<line x1="319.5" y1="2618.2" x2="2140.4" y2="2618.2" stroke="#868686" stroke-width="3.2"/>
<line x1="319.5" y1="2690.6" x2="2140.4" y2="2690.6" stroke="#868686" stroke-width="3.2"/>
<rect x="427.0" y="2468.3" width="54.3" height="294.7" fill="#8C3836"/>
<rect x="481.0" y="2544.7" width="54.3" height="218.3" fill="#71893F"/>
<rect x="535.0" y="2684.8" width="54.3" height="78.2" fill="#5C4776"/>
<rect x="589.1" y="2715.2" width="54.3" height="47.8" fill="#357D91"/>
<rect x="643.1" y="2739.1" width="54.3" height="23.9" fill="#B66D31"/>
<rect x="697.1" y="2743.1" width="54.3" height="19.9" fill="#4572A7"/>
<rect x="751.1" y="2752.9" width="54.3" height="10.1" fill="#AA4643"/>
<rect x="805.1" y="2752.9" width="54.3" height="10.1" fill="#89A54E"/>
<rect x="859.2" y="2753.9" width="54.3" height="9.1" fill="#71588F"/>
<rect x="913.2" y="2757.6" width="54.3" height="5.4" fill="#4198AF"/>
<rect x="967.2" y="2759.7" width="54.3" height="3.3" fill="#DB843D"/>
<rect x="1021.2" y="2760.8" width="54.3" height="2.2" fill="#93A9CF"/>
<rect x="1075.2" y="2762.1" width="54.3" height="0.9" fill="#D19392"/>
<rect x="1129.3" y="2762.4" width="54.3" height="0.6" fill="#B9CD96"/>
<rect x="1183.3" y="2761.0" width="54.3" height="2.0" fill="#A99BBD"/>
<rect x="1237.3" y="2762.6" width="54.3" height="0.4" fill="#91C3D5"/>
<line x1="319.5" y1="2763.0" x2="2140.4" y2="2763.0" stroke="#868686" stroke-width="3.8"/>
<line x1="333.5" y1="2400.9" x2="333.5" y2="2775.5" stroke="#868686" stroke-width="2.8"/>
<line x1="319.5" y1="2400.9" x2="333.5" y2="2400.9" stroke="#868686" stroke-width="3"/>
<line x1="334.7" y1="2400.9" x2="2141.9" y2="2400.9" stroke="#000" stroke-width="3.6"/>
<line x1="2140.4" y1="2400.9" x2="2140.4" y2="2763.0" stroke="#000" stroke-width="3.0"/>
<line x1="2140.4" y1="2762.0" x2="2140.4" y2="2775.5" stroke="#868686" stroke-width="2.6"/>
<text x="293.6" y="2413.5" font-size="36.5" text-anchor="end" textLength="70.5" lengthAdjust="spacingAndGlyphs">50%</text>
<text x="293.6" y="2485.9" font-size="36.5" text-anchor="end" textLength="70.5" lengthAdjust="spacingAndGlyphs">40%</text>
<text x="293.6" y="2558.3" font-size="36.5" text-anchor="end" textLength="70.5" lengthAdjust="spacingAndGlyphs">30%</text>
<text x="293.6" y="2630.8" font-size="36.5" text-anchor="end" textLength="70.5" lengthAdjust="spacingAndGlyphs">20%</text>
<text x="293.6" y="2703.2" font-size="36.5" text-anchor="end" textLength="70.5" lengthAdjust="spacingAndGlyphs">10%</text>
<text x="293.6" y="2775.6" font-size="36.5" text-anchor="end" textLength="50.0" lengthAdjust="spacingAndGlyphs">0%</text>
<text x="1236.0" y="2382.3" font-size="39.5" textLength="63.5" lengthAdjust="spacingAndGlyphs">FPS</text>
<text x="1300.5" y="2382.3" font-size="44.5" textLength="90.0" lengthAdjust="spacingAndGlyphs" font-family='"Liberation Sans", "Noto Sans CJK JP", sans-serif'>分布</text>
<text transform="translate(440.9 2782.3) rotate(90) scale(1 1.19)" font-size="33.6" textLength="38.3" lengthAdjust="spacingAndGlyphs">60</text>
<text transform="translate(491.8 2782.3) rotate(90) scale(1 1.19)" font-size="33.6" textLength="38.3" lengthAdjust="spacingAndGlyphs">59</text>
<text transform="translate(542.8 2782.3) rotate(90) scale(1 1.19)" font-size="33.6" textLength="38.3" lengthAdjust="spacingAndGlyphs">58</text>
<text transform="translate(593.7 2782.3) rotate(90) scale(1 1.19)" font-size="33.6" textLength="38.3" lengthAdjust="spacingAndGlyphs">57</text>
<text transform="translate(644.7 2782.3) rotate(90) scale(1 1.19)" font-size="33.6" textLength="38.3" lengthAdjust="spacingAndGlyphs">56</text>
<text transform="translate(695.6 2782.3) rotate(90) scale(1 1.19)" font-size="33.6" textLength="38.3" lengthAdjust="spacingAndGlyphs">55</text>
<text transform="translate(746.5 2782.3) rotate(90) scale(1 1.19)" font-size="33.6" textLength="38.3" lengthAdjust="spacingAndGlyphs">54</text>
<text transform="translate(797.5 2782.3) rotate(90) scale(1 1.19)" font-size="33.6" textLength="38.3" lengthAdjust="spacingAndGlyphs">53</text>
<text transform="translate(848.4 2782.3) rotate(90) scale(1 1.19)" font-size="33.6" textLength="38.3" lengthAdjust="spacingAndGlyphs">52</text>
<text transform="translate(899.4 2782.3) rotate(90) scale(1 1.19)" font-size="33.6" textLength="38.3" lengthAdjust="spacingAndGlyphs">51</text>
<text transform="translate(950.3 2782.3) rotate(90) scale(1 1.19)" font-size="33.6" textLength="38.3" lengthAdjust="spacingAndGlyphs">50</text>
<text transform="translate(1001.2 2782.3) rotate(90) scale(1 1.19)" font-size="33.6" textLength="38.3" lengthAdjust="spacingAndGlyphs">49</text>
<text transform="translate(1052.2 2782.3) rotate(90) scale(1 1.19)" font-size="33.6" textLength="38.3" lengthAdjust="spacingAndGlyphs">48</text>
<text transform="translate(1103.1 2782.3) rotate(90) scale(1 1.19)" font-size="33.6" textLength="38.3" lengthAdjust="spacingAndGlyphs">47</text>
<text transform="translate(1154.1 2782.3) rotate(90) scale(1 1.19)" font-size="33.6" textLength="38.3" lengthAdjust="spacingAndGlyphs">46</text>
<text transform="translate(1205.0 2782.3) rotate(90) scale(1 1.19)" font-size="33.6" textLength="38.3" lengthAdjust="spacingAndGlyphs">45</text>
<text transform="translate(1255.9 2782.3) rotate(90) scale(1 1.19)" font-size="33.6" textLength="38.3" lengthAdjust="spacingAndGlyphs">44</text>
<text transform="translate(1306.9 2782.3) rotate(90) scale(1 1.19)" font-size="33.6" textLength="38.3" lengthAdjust="spacingAndGlyphs">43</text>
<text transform="translate(1357.8 2782.3) rotate(90) scale(1 1.19)" font-size="33.6" textLength="38.3" lengthAdjust="spacingAndGlyphs">42</text>
<text transform="translate(1408.8 2782.3) rotate(90) scale(1 1.19)" font-size="33.6" textLength="38.3" lengthAdjust="spacingAndGlyphs">41</text>
<text transform="translate(1459.7 2782.3) rotate(90) scale(1 1.19)" font-size="33.6" textLength="38.3" lengthAdjust="spacingAndGlyphs">40</text>
<text transform="translate(1510.6 2782.3) rotate(90) scale(1 1.19)" font-size="33.6" textLength="38.3" lengthAdjust="spacingAndGlyphs">39</text>
<text transform="translate(1561.6 2782.3) rotate(90) scale(1 1.19)" font-size="33.6" textLength="38.3" lengthAdjust="spacingAndGlyphs">38</text>
<text transform="translate(1612.5 2782.3) rotate(90) scale(1 1.19)" font-size="33.6" textLength="38.3" lengthAdjust="spacingAndGlyphs">37</text>
<text transform="translate(1663.5 2782.3) rotate(90) scale(1 1.19)" font-size="33.6" textLength="38.3" lengthAdjust="spacingAndGlyphs">36</text>
<text transform="translate(1714.4 2782.3) rotate(90) scale(1 1.19)" font-size="33.6" textLength="38.3" lengthAdjust="spacingAndGlyphs">35</text>
<text transform="translate(1765.3 2782.3) rotate(90) scale(1 1.19)" font-size="33.6" textLength="38.3" lengthAdjust="spacingAndGlyphs">34</text>
<text transform="translate(1816.3 2782.3) rotate(90) scale(1 1.19)" font-size="33.6" textLength="38.3" lengthAdjust="spacingAndGlyphs">33</text>
<text transform="translate(1867.2 2782.3) rotate(90) scale(1 1.19)" font-size="33.6" textLength="38.3" lengthAdjust="spacingAndGlyphs">32</text>
<text transform="translate(1918.2 2782.3) rotate(90) scale(1 1.19)" font-size="33.6" textLength="38.3" lengthAdjust="spacingAndGlyphs">31</text>
<text transform="translate(1969.1 2782.3) rotate(90) scale(1 1.19)" font-size="33.6" textLength="38.3" lengthAdjust="spacingAndGlyphs">30</text>
<text transform="translate(2020.3 2782.3) rotate(90) scale(1 1.19)" font-size="33.6" textLength="64" lengthAdjust="spacingAndGlyphs">~29</text>
<text x="1229.0" y="2830.0" font-size="36" textLength="17.0" lengthAdjust="spacingAndGlyphs" font-family='"Liberation Serif", "IPAGothic", serif'>1</text>
</g>
<g id="table">
<line x1="409.0" y1="2896.7" x2="409.0" y2="3338.7" stroke="#000" stroke-width="4.2"/>
<line x1="616.0" y1="2896.7" x2="616.0" y2="3338.7" stroke="#000" stroke-width="4.2"/>
<line x1="823.0" y1="2896.7" x2="823.0" y2="3338.7" stroke="#000" stroke-width="4.2"/>
<line x1="1030.0" y1="2896.7" x2="1030.0" y2="3338.7" stroke="#000" stroke-width="4.2"/>
<line x1="1237.0" y1="2896.7" x2="1237.0" y2="3338.7" stroke="#000" stroke-width="4.2"/>
<line x1="1444.0" y1="2896.7" x2="1444.0" y2="3338.7" stroke="#000" stroke-width="4.2"/>
<line x1="1651.0" y1="2896.7" x2="1651.0" y2="3338.7" stroke="#000" stroke-width="4.2"/>
<line x1="1858.0" y1="2896.7" x2="1858.0" y2="3338.7" stroke="#000" stroke-width="4.2"/>
<line x1="2065.0" y1="2896.7" x2="2065.0" y2="3338.7" stroke="#000" stroke-width="4.2"/>
<line x1="202.0" y1="2954.6" x2="2272.0" y2="2954.6" stroke="#000" stroke-width="4.2"/>
<line x1="202.0" y1="2962.6" x2="2272.0" y2="2962.6" stroke="#000" stroke-width="4.2"/>
<line x1="202.0" y1="3013.6" x2="2272.0" y2="3013.6" stroke="#000" stroke-width="4.2"/>
<line x1="202.0" y1="3065.5" x2="2272.0" y2="3065.5" stroke="#000" stroke-width="4.2"/>
<line x1="202.0" y1="3117.5" x2="2272.0" y2="3117.5" stroke="#000" stroke-width="4.2"/>
<line x1="202.0" y1="3175.5" x2="2272.0" y2="3175.5" stroke="#000" stroke-width="4.2"/>
<line x1="202.0" y1="3183.7" x2="2272.0" y2="3183.7" stroke="#000" stroke-width="4.2"/>
<line x1="202.0" y1="3234.6" x2="2272.0" y2="3234.6" stroke="#000" stroke-width="4.2"/>
<line x1="202.0" y1="3286.6" x2="2272.0" y2="3286.6" stroke="#000" stroke-width="4.2"/>
<rect x="204.1" y="2956.7" width="2065.8" height="3.8" fill="#fff"/>
<rect x="204.1" y="3177.6" width="2065.8" height="4.0" fill="#fff"/>
<rect x="202.0" y="2896.7" width="2070.0" height="442.0" fill="none" stroke="#000" stroke-width="4.3"/>
<text x="513.1" y="2943.5" font-size="44" text-anchor="middle" textLength="79.0" lengthAdjust="spacingAndGlyphs">FPS</text>
<text x="720.1" y="2943.5" font-size="44" text-anchor="middle" textLength="115.5" lengthAdjust="spacingAndGlyphs">Core0</text>
<text x="927.1" y="2943.5" font-size="44" text-anchor="middle" textLength="115.5" lengthAdjust="spacingAndGlyphs">Core1</text>
<text x="1134.1" y="2943.5" font-size="44" text-anchor="middle" textLength="115.5" lengthAdjust="spacingAndGlyphs">Core2</text>
<text x="1341.1" y="2943.5" font-size="44" text-anchor="middle" textLength="115.5" lengthAdjust="spacingAndGlyphs">Core3</text>
<text x="1548.1" y="2943.5" font-size="44" text-anchor="middle" textLength="115.5" lengthAdjust="spacingAndGlyphs">Core4</text>
<text x="1755.1" y="2943.5" font-size="44" text-anchor="middle" textLength="115.5" lengthAdjust="spacingAndGlyphs">Core5</text>
<text x="1962.1" y="2943.5" font-size="44" text-anchor="middle" textLength="115.5" lengthAdjust="spacingAndGlyphs">Core6</text>
<text x="2169.1" y="2943.5" font-size="44" text-anchor="middle" textLength="115.5" lengthAdjust="spacingAndGlyphs">Core7</text>
<text x="307.1" y="3003.7" font-size="44" text-anchor="middle" textLength="88.5" lengthAdjust="spacingAndGlyphs">AVG</text>
<text x="593.0" y="3003.7" font-size="44" text-anchor="end" textLength="75.9" lengthAdjust="spacingAndGlyphs">57.5</text>
<text x="800.0" y="3003.7" font-size="44" text-anchor="end" textLength="75.9" lengthAdjust="spacingAndGlyphs">55.5</text>
<text x="1007.0" y="3003.7" font-size="44" text-anchor="end" textLength="54.2" lengthAdjust="spacingAndGlyphs">6.2</text>
<text x="1214.0" y="3003.7" font-size="44" text-anchor="end" textLength="75.9" lengthAdjust="spacingAndGlyphs">27.8</text>
<text x="1421.0" y="3003.7" font-size="44" text-anchor="end" textLength="54.2" lengthAdjust="spacingAndGlyphs">1.9</text>
<text x="1628.0" y="3003.7" font-size="44" text-anchor="end" textLength="54.2" lengthAdjust="spacingAndGlyphs">8.5</text>
<text x="1835.0" y="3003.7" font-size="44" text-anchor="end" textLength="54.2" lengthAdjust="spacingAndGlyphs">0.6</text>
<text x="2042.0" y="3003.7" font-size="44" text-anchor="end" textLength="54.2" lengthAdjust="spacingAndGlyphs">4.5</text>
<text x="2249.0" y="3003.7" font-size="44" text-anchor="end" textLength="54.2" lengthAdjust="spacingAndGlyphs">0.6</text>
<text x="307.1" y="3057.5" font-size="44" text-anchor="middle" textLength="71.5" lengthAdjust="spacingAndGlyphs">MIN</text>
<text x="593.0" y="3057.5" font-size="44" text-anchor="end" textLength="43.4" lengthAdjust="spacingAndGlyphs">40</text>
<text x="800.0" y="3057.5" font-size="44" text-anchor="end" textLength="21.7" lengthAdjust="spacingAndGlyphs">0</text>
<text x="1007.0" y="3057.5" font-size="44" text-anchor="end" textLength="21.7" lengthAdjust="spacingAndGlyphs">0</text>
<text x="1214.0" y="3057.5" font-size="44" text-anchor="end" textLength="21.7" lengthAdjust="spacingAndGlyphs">9</text>
<text x="1421.0" y="3057.5" font-size="44" text-anchor="end" textLength="21.7" lengthAdjust="spacingAndGlyphs">0</text>
<text x="1628.0" y="3057.5" font-size="44" text-anchor="end" textLength="54.2" lengthAdjust="spacingAndGlyphs">0.0</text>
<text x="1835.0" y="3057.5" font-size="44" text-anchor="end" textLength="54.2" lengthAdjust="spacingAndGlyphs">0.0</text>
<text x="2042.0" y="3057.5" font-size="44" text-anchor="end" textLength="54.2" lengthAdjust="spacingAndGlyphs">0.0</text>
<text x="2249.0" y="3057.5" font-size="44" text-anchor="end" textLength="54.2" lengthAdjust="spacingAndGlyphs">0.0</text>
<text x="307.1" y="3110.2" font-size="44" text-anchor="middle" textLength="88.5" lengthAdjust="spacingAndGlyphs">MAX</text>
<text x="593.0" y="3110.2" font-size="44" text-anchor="end" textLength="43.4" lengthAdjust="spacingAndGlyphs">59</text>
<text x="800.0" y="3110.2" font-size="44" text-anchor="end" textLength="43.4" lengthAdjust="spacingAndGlyphs">88</text>
<text x="1007.0" y="3110.2" font-size="44" text-anchor="end" textLength="65.1" lengthAdjust="spacingAndGlyphs">100</text>
<text x="1214.0" y="3110.2" font-size="44" text-anchor="end" textLength="43.4" lengthAdjust="spacingAndGlyphs">62</text>
<text x="1421.0" y="3110.2" font-size="44" text-anchor="end" textLength="43.4" lengthAdjust="spacingAndGlyphs">13</text>
<text x="1628.0" y="3110.2" font-size="44" text-anchor="end" textLength="75.9" lengthAdjust="spacingAndGlyphs">56.1</text>
<text x="1835.0" y="3110.2" font-size="44" text-anchor="end" textLength="75.9" lengthAdjust="spacingAndGlyphs">34.8</text>
<text x="2042.0" y="3110.2" font-size="44" text-anchor="end" textLength="75.9" lengthAdjust="spacingAndGlyphs">93.8</text>
<text x="2249.0" y="3110.2" font-size="44" text-anchor="end" textLength="54.2" lengthAdjust="spacingAndGlyphs">4.6</text>
<text x="513.1" y="3164.3" font-size="44" text-anchor="middle" textLength="86.5" lengthAdjust="spacingAndGlyphs">GPU</text>
<text x="720.1" y="3164.3" font-size="44" text-anchor="middle" textLength="115.5" lengthAdjust="spacingAndGlyphs">Core8</text>
<text x="927.1" y="3164.3" font-size="44" text-anchor="middle" textLength="115.5" lengthAdjust="spacingAndGlyphs">Core9</text>
<text x="1134.1" y="3164.3" font-size="44" text-anchor="middle" textLength="138.0" lengthAdjust="spacingAndGlyphs">Core10</text>
<text x="1341.1" y="3164.3" font-size="44" text-anchor="middle" textLength="138.0" lengthAdjust="spacingAndGlyphs">Core11</text>
<text x="1548.1" y="3164.3" font-size="44" text-anchor="middle" textLength="138.0" lengthAdjust="spacingAndGlyphs">Core12</text>
<text x="1755.1" y="3164.3" font-size="44" text-anchor="middle" textLength="138.0" lengthAdjust="spacingAndGlyphs">Core13</text>
<text x="1962.1" y="3164.3" font-size="44" text-anchor="middle" textLength="138.0" lengthAdjust="spacingAndGlyphs">Core14</text>
<text x="2169.1" y="3164.3" font-size="44" text-anchor="middle" textLength="138.0" lengthAdjust="spacingAndGlyphs">Core15</text>
<text x="307.1" y="3224.5" font-size="44" text-anchor="middle" textLength="88.5" lengthAdjust="spacingAndGlyphs">AVG</text>
<text x="800.0" y="3224.5" font-size="44" text-anchor="end" textLength="54.2" lengthAdjust="spacingAndGlyphs">8.5</text>
<text x="1007.0" y="3224.5" font-size="44" text-anchor="end" textLength="54.2" lengthAdjust="spacingAndGlyphs">0.6</text>
<text x="1214.0" y="3224.5" font-size="44" text-anchor="end" textLength="54.2" lengthAdjust="spacingAndGlyphs">4.5</text>
<text x="1421.0" y="3224.5" font-size="44" text-anchor="end" textLength="54.2" lengthAdjust="spacingAndGlyphs">0.6</text>
<text x="1628.0" y="3224.5" font-size="44" text-anchor="end" textLength="54.2" lengthAdjust="spacingAndGlyphs">3.0</text>
<text x="1835.0" y="3224.5" font-size="44" text-anchor="end" textLength="54.2" lengthAdjust="spacingAndGlyphs">3.3</text>
<text x="2042.0" y="3224.5" font-size="44" text-anchor="end" textLength="54.2" lengthAdjust="spacingAndGlyphs">0.8</text>
<text x="2249.0" y="3224.5" font-size="44" text-anchor="end" textLength="75.9" lengthAdjust="spacingAndGlyphs">78.4</text>
<text x="307.1" y="3278.4" font-size="44" text-anchor="middle" textLength="71.5" lengthAdjust="spacingAndGlyphs">MIN</text>
<text x="800.0" y="3278.4" font-size="44" text-anchor="end" textLength="21.7" lengthAdjust="spacingAndGlyphs">0</text>
<text x="1007.0" y="3278.4" font-size="44" text-anchor="end" textLength="21.7" lengthAdjust="spacingAndGlyphs">0</text>
<text x="1214.0" y="3278.4" font-size="44" text-anchor="end" textLength="21.7" lengthAdjust="spacingAndGlyphs">0</text>
<text x="1421.0" y="3278.4" font-size="44" text-anchor="end" textLength="21.7" lengthAdjust="spacingAndGlyphs">0</text>
<text x="1628.0" y="3278.4" font-size="44" text-anchor="end" textLength="21.7" lengthAdjust="spacingAndGlyphs">0</text>
<text x="1835.0" y="3278.4" font-size="44" text-anchor="end" textLength="21.7" lengthAdjust="spacingAndGlyphs">0</text>
<text x="2042.0" y="3278.4" font-size="44" text-anchor="end" textLength="21.7" lengthAdjust="spacingAndGlyphs">0</text>
<text x="2249.0" y="3278.4" font-size="44" text-anchor="end" textLength="43.4" lengthAdjust="spacingAndGlyphs">45</text>
<text x="307.1" y="3330.8" font-size="44" text-anchor="middle" textLength="88.5" lengthAdjust="spacingAndGlyphs">MAX</text>
<text x="800.0" y="3330.8" font-size="44" text-anchor="end" textLength="43.4" lengthAdjust="spacingAndGlyphs">56</text>
<text x="1007.0" y="3330.8" font-size="44" text-anchor="end" textLength="43.4" lengthAdjust="spacingAndGlyphs">35</text>
<text x="1214.0" y="3330.8" font-size="44" text-anchor="end" textLength="43.4" lengthAdjust="spacingAndGlyphs">94</text>
<text x="1421.0" y="3330.8" font-size="44" text-anchor="end" textLength="21.7" lengthAdjust="spacingAndGlyphs">5</text>
<text x="1628.0" y="3330.8" font-size="44" text-anchor="end" textLength="43.4" lengthAdjust="spacingAndGlyphs">47</text>
<text x="1835.0" y="3330.8" font-size="44" text-anchor="end" textLength="43.4" lengthAdjust="spacingAndGlyphs">67</text>
<text x="2042.0" y="3330.8" font-size="44" text-anchor="end" textLength="43.4" lengthAdjust="spacingAndGlyphs">22</text>
<text x="2249.0" y="3330.8" font-size="44" text-anchor="end" textLength="65.1" lengthAdjust="spacingAndGlyphs">100</text>
</g>
</svg>
</body></html>
